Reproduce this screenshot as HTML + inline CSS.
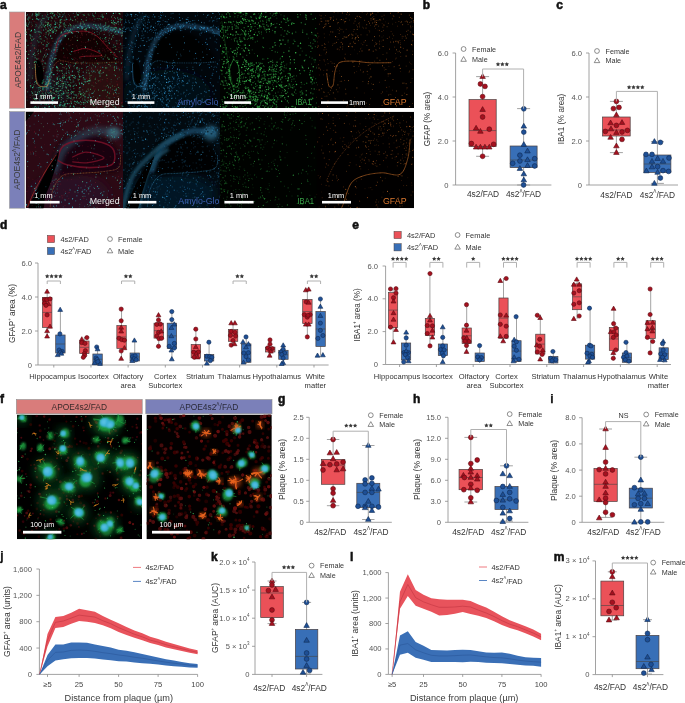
<!DOCTYPE html><html><head><meta charset="utf-8"><style>html,body{margin:0;padding:0;background:#fff;overflow:hidden}svg{display:block;font-family:"Liberation Sans",sans-serif;will-change:transform}</style></head><body><svg width="685" height="703" viewBox="0 0 685 703" font-family="'Liberation Sans', sans-serif"><defs><filter id="bl1" x="-20%" y="-20%" width="140%" height="140%"><feGaussianBlur stdDeviation="1"/></filter><filter id="bl2" x="-20%" y="-20%" width="140%" height="140%"><feGaussianBlur stdDeviation="2.2"/></filter><filter id="bl4" x="-30%" y="-30%" width="160%" height="160%"><feGaussianBlur stdDeviation="4"/></filter><filter id="bl05"><feGaussianBlur stdDeviation="0.5"/></filter><clipPath id="cp1"><rect x="25.80" y="12.00" width="97.70" height="96.20"/></clipPath><clipPath id="cp2"><rect x="123.00" y="12.00" width="97.50" height="96.20"/></clipPath><clipPath id="cp3"><rect x="220.00" y="12.00" width="97.00" height="96.20"/></clipPath><clipPath id="cp4"><rect x="316.50" y="12.00" width="97.50" height="96.20"/></clipPath><clipPath id="cp5"><rect x="25.80" y="111.60" width="97.70" height="96.60"/></clipPath><clipPath id="cp6"><rect x="123.00" y="111.60" width="97.50" height="96.60"/></clipPath><clipPath id="cp7"><rect x="220.00" y="111.60" width="97.00" height="96.60"/></clipPath><clipPath id="cp8"><rect x="316.50" y="111.60" width="97.50" height="96.60"/></clipPath><clipPath id="cp9"><rect x="17.00" y="414.60" width="125.00" height="124.60"/></clipPath><clipPath id="cp10"><rect x="146.40" y="414.60" width="125.40" height="124.60"/></clipPath></defs><rect width="685" height="703" fill="#ffffff"/><line x1="455.60" y1="53.00" x2="455.60" y2="185.00" stroke="#8a8a8a" stroke-width="0.8" />
<line x1="452.60" y1="53.00" x2="455.60" y2="53.00" stroke="#8a8a8a" stroke-width="0.8" />
<text x="448.40" y="53.00" font-size="7.6" text-anchor="end" fill="#555" dominant-baseline="central" >6.0</text>
<line x1="452.60" y1="97.00" x2="455.60" y2="97.00" stroke="#8a8a8a" stroke-width="0.8" />
<text x="448.40" y="97.00" font-size="7.6" text-anchor="end" fill="#555" dominant-baseline="central" >4.0</text>
<line x1="452.60" y1="141.00" x2="455.60" y2="141.00" stroke="#8a8a8a" stroke-width="0.8" />
<text x="448.40" y="141.00" font-size="7.6" text-anchor="end" fill="#555" dominant-baseline="central" >2.0</text>
<line x1="452.60" y1="185.00" x2="455.60" y2="185.00" stroke="#8a8a8a" stroke-width="0.8" />
<text x="448.40" y="185.00" font-size="7.6" text-anchor="end" fill="#555" dominant-baseline="central" >0</text>
<line x1="455.60" y1="185.00" x2="551.40" y2="185.00" stroke="#8a8a8a" stroke-width="0.8" />
<line x1="482.60" y1="76.60" x2="482.60" y2="156.30" stroke="#8c8c8c" stroke-width="0.8" />
<line x1="476.10" y1="76.60" x2="489.10" y2="76.60" stroke="#8c8c8c" stroke-width="0.8" />
<line x1="476.10" y1="156.30" x2="489.10" y2="156.30" stroke="#8c8c8c" stroke-width="0.8" />
<rect x="469.00" y="99.60" width="27.20" height="47.00" fill="#eb5158" stroke="#4a4040" stroke-width="0.7" />
<line x1="469.00" y1="130.60" x2="496.20" y2="130.60" stroke="#444" stroke-width="0.6" />
<line x1="523.60" y1="108.60" x2="523.60" y2="185.00" stroke="#8c8c8c" stroke-width="0.8" />
<line x1="517.10" y1="108.60" x2="530.10" y2="108.60" stroke="#8c8c8c" stroke-width="0.8" />
<line x1="517.10" y1="185.00" x2="530.10" y2="185.00" stroke="#8c8c8c" stroke-width="0.8" />
<rect x="510.10" y="146.00" width="27.00" height="21.60" fill="#386fb7" stroke="#4a4040" stroke-width="0.7" />
<line x1="510.10" y1="160.00" x2="537.10" y2="160.00" stroke="#444" stroke-width="0.6" />
<polygon points="482.60,73.62 479.84,78.42 485.36,78.42" fill="#a5111f" stroke="#5c0b12" stroke-width="0.6"/>
<circle cx="480.40" cy="84.00" r="2.40" fill="#a5111f" stroke="#5c0b12" stroke-width="0.6"/>
<circle cx="485.00" cy="86.40" r="2.40" fill="#a5111f" stroke="#5c0b12" stroke-width="0.6"/>
<circle cx="482.60" cy="96.60" r="2.40" fill="#a5111f" stroke="#5c0b12" stroke-width="0.6"/>
<polygon points="482.60,106.62 479.84,111.42 485.36,111.42" fill="#a5111f" stroke="#5c0b12" stroke-width="0.6"/>
<circle cx="482.60" cy="117.00" r="2.40" fill="#a5111f" stroke="#5c0b12" stroke-width="0.6"/>
<polygon points="476.10,125.32 473.34,130.12 478.86,130.12" fill="#a5111f" stroke="#5c0b12" stroke-width="0.6"/>
<polygon points="480.40,128.42 477.64,133.22 483.16,133.22" fill="#a5111f" stroke="#5c0b12" stroke-width="0.6"/>
<circle cx="489.30" cy="129.20" r="2.40" fill="#a5111f" stroke="#5c0b12" stroke-width="0.6"/>
<circle cx="471.40" cy="143.50" r="2.40" fill="#a5111f" stroke="#5c0b12" stroke-width="0.6"/>
<circle cx="493.60" cy="144.30" r="2.40" fill="#a5111f" stroke="#5c0b12" stroke-width="0.6"/>
<polygon points="476.10,144.22 473.34,149.02 478.86,149.02" fill="#a5111f" stroke="#5c0b12" stroke-width="0.6"/>
<polygon points="480.40,144.22 477.64,149.02 483.16,149.02" fill="#a5111f" stroke="#5c0b12" stroke-width="0.6"/>
<polygon points="484.90,144.22 482.14,149.02 487.66,149.02" fill="#a5111f" stroke="#5c0b12" stroke-width="0.6"/>
<polygon points="489.30,144.22 486.54,149.02 492.06,149.02" fill="#a5111f" stroke="#5c0b12" stroke-width="0.6"/>
<circle cx="482.60" cy="156.30" r="2.40" fill="#a5111f" stroke="#5c0b12" stroke-width="0.6"/>
<circle cx="523.80" cy="108.80" r="2.40" fill="#1e4f95" stroke="#0f2a52" stroke-width="0.6"/>
<polygon points="523.80,123.32 521.04,128.12 526.56,128.12" fill="#1e4f95" stroke="#0f2a52" stroke-width="0.6"/>
<circle cx="523.80" cy="132.10" r="2.40" fill="#1e4f95" stroke="#0f2a52" stroke-width="0.6"/>
<polygon points="523.80,141.62 521.04,146.42 526.56,146.42" fill="#1e4f95" stroke="#0f2a52" stroke-width="0.6"/>
<polygon points="527.50,148.12 524.74,152.92 530.26,152.92" fill="#1e4f95" stroke="#0f2a52" stroke-width="0.6"/>
<circle cx="519.90" cy="155.20" r="2.40" fill="#1e4f95" stroke="#0f2a52" stroke-width="0.6"/>
<circle cx="534.70" cy="158.70" r="2.40" fill="#1e4f95" stroke="#0f2a52" stroke-width="0.6"/>
<circle cx="519.90" cy="161.00" r="2.40" fill="#1e4f95" stroke="#0f2a52" stroke-width="0.6"/>
<polygon points="527.50,156.82 524.74,161.62 530.26,161.62" fill="#1e4f95" stroke="#0f2a52" stroke-width="0.6"/>
<circle cx="512.70" cy="163.30" r="2.40" fill="#1e4f95" stroke="#0f2a52" stroke-width="0.6"/>
<polygon points="527.50,162.72 524.74,167.52 530.26,167.52" fill="#1e4f95" stroke="#0f2a52" stroke-width="0.6"/>
<circle cx="534.70" cy="166.00" r="2.40" fill="#1e4f95" stroke="#0f2a52" stroke-width="0.6"/>
<polygon points="519.90,165.62 517.14,170.42 522.66,170.42" fill="#1e4f95" stroke="#0f2a52" stroke-width="0.6"/>
<polygon points="523.80,171.02 521.04,175.82 526.56,175.82" fill="#1e4f95" stroke="#0f2a52" stroke-width="0.6"/>
<polygon points="523.80,177.02 521.04,181.82 526.56,181.82" fill="#1e4f95" stroke="#0f2a52" stroke-width="0.6"/>
<circle cx="523.60" cy="185.00" r="2.40" fill="#1e4f95" stroke="#0f2a52" stroke-width="0.6"/>
<polyline points="482.60,76.60 482.60,69.00 523.60,69.00 523.60,108.60" fill="none" stroke="#b0b0b0" stroke-width="1.0"/>
<polygon points="498.00,62.00 498.68,63.37 500.19,63.59 499.09,64.66 499.35,66.16 498.00,65.45 496.65,66.16 496.91,64.66 495.81,63.59 497.32,63.37" fill="#3a3a3a"/>
<polygon points="502.40,62.00 503.08,63.37 504.59,63.59 503.49,64.66 503.75,66.16 502.40,65.45 501.05,66.16 501.31,64.66 500.21,63.59 501.72,63.37" fill="#3a3a3a"/>
<polygon points="506.80,62.00 507.48,63.37 508.99,63.59 507.89,64.66 508.15,66.16 506.80,65.45 505.45,66.16 505.71,64.66 504.61,63.59 506.12,63.37" fill="#3a3a3a"/>
<circle cx="463.60" cy="49.00" r="2.40" fill="none" stroke="#444" stroke-width="0.6"/>
<polygon points="463.60,56.52 460.84,61.32 466.36,61.32" fill="none" stroke="#444" stroke-width="0.6"/>
<text x="472.10" y="49.00" font-size="7.2" text-anchor="start" fill="#333" dominant-baseline="central" >Female</text>
<text x="472.10" y="59.50" font-size="7.2" text-anchor="start" fill="#333" dominant-baseline="central" >Male</text>
<text x="483.00" y="194.40" font-size="8.4" text-anchor="middle" fill="#333" dominant-baseline="central" >4s2/FAD</text>
<text x="523.50" y="194.40" font-size="8.4" text-anchor="middle" fill="#333" dominant-baseline="central">4s2<tspan font-size="4.62" dy="-3.53">Λ</tspan><tspan dy="3.53">/FAD</tspan></text>
<text x="427.00" y="119.00" font-size="8.64" text-anchor="middle" fill="#333" dominant-baseline="central" transform="rotate(-90 427.00 119.00)" textLength="54.4" lengthAdjust="spacingAndGlyphs">GFAP (% area)</text>
<line x1="589.00" y1="53.00" x2="589.00" y2="185.00" stroke="#8a8a8a" stroke-width="0.8" />
<line x1="586.00" y1="53.00" x2="589.00" y2="53.00" stroke="#8a8a8a" stroke-width="0.8" />
<text x="582.00" y="53.00" font-size="7.6" text-anchor="end" fill="#555" dominant-baseline="central" >6.0</text>
<line x1="586.00" y1="97.00" x2="589.00" y2="97.00" stroke="#8a8a8a" stroke-width="0.8" />
<text x="582.00" y="97.00" font-size="7.6" text-anchor="end" fill="#555" dominant-baseline="central" >4.0</text>
<line x1="586.00" y1="141.00" x2="589.00" y2="141.00" stroke="#8a8a8a" stroke-width="0.8" />
<text x="582.00" y="141.00" font-size="7.6" text-anchor="end" fill="#555" dominant-baseline="central" >2.0</text>
<line x1="586.00" y1="185.00" x2="589.00" y2="185.00" stroke="#8a8a8a" stroke-width="0.8" />
<text x="582.00" y="185.00" font-size="7.6" text-anchor="end" fill="#555" dominant-baseline="central" >0</text>
<line x1="589.00" y1="185.00" x2="678.00" y2="185.00" stroke="#8a8a8a" stroke-width="0.8" />
<line x1="616.40" y1="101.40" x2="616.40" y2="152.60" stroke="#8c8c8c" stroke-width="0.8" />
<line x1="609.90" y1="101.40" x2="622.90" y2="101.40" stroke="#8c8c8c" stroke-width="0.8" />
<line x1="609.90" y1="152.60" x2="622.90" y2="152.60" stroke="#8c8c8c" stroke-width="0.8" />
<rect x="602.60" y="117.00" width="27.60" height="19.00" fill="#eb5158" stroke="#4a4040" stroke-width="0.7" />
<line x1="602.60" y1="130.00" x2="630.20" y2="130.00" stroke="#444" stroke-width="0.6" />
<line x1="657.40" y1="141.60" x2="657.40" y2="183.40" stroke="#8c8c8c" stroke-width="0.8" />
<line x1="650.90" y1="141.60" x2="663.90" y2="141.60" stroke="#8c8c8c" stroke-width="0.8" />
<line x1="650.90" y1="183.40" x2="663.90" y2="183.40" stroke="#8c8c8c" stroke-width="0.8" />
<rect x="643.90" y="155.00" width="27.00" height="17.40" fill="#386fb7" stroke="#4a4040" stroke-width="0.7" />
<line x1="643.90" y1="164.00" x2="670.90" y2="164.00" stroke="#444" stroke-width="0.6" />
<circle cx="616.40" cy="101.40" r="2.40" fill="#a5111f" stroke="#5c0b12" stroke-width="0.6"/>
<circle cx="613.40" cy="108.60" r="2.40" fill="#a5111f" stroke="#5c0b12" stroke-width="0.6"/>
<circle cx="619.00" cy="107.40" r="2.40" fill="#a5111f" stroke="#5c0b12" stroke-width="0.6"/>
<polygon points="616.40,112.02 613.64,116.82 619.16,116.82" fill="#a5111f" stroke="#5c0b12" stroke-width="0.6"/>
<polygon points="610.60,120.02 607.84,124.82 613.36,124.82" fill="#a5111f" stroke="#5c0b12" stroke-width="0.6"/>
<circle cx="616.40" cy="125.40" r="2.40" fill="#a5111f" stroke="#5c0b12" stroke-width="0.6"/>
<polygon points="622.00,119.62 619.24,124.42 624.76,124.42" fill="#a5111f" stroke="#5c0b12" stroke-width="0.6"/>
<circle cx="605.40" cy="131.40" r="2.40" fill="#a5111f" stroke="#5c0b12" stroke-width="0.6"/>
<polygon points="611.00,126.02 608.24,130.82 613.76,130.82" fill="#a5111f" stroke="#5c0b12" stroke-width="0.6"/>
<polygon points="616.40,129.62 613.64,134.42 619.16,134.42" fill="#a5111f" stroke="#5c0b12" stroke-width="0.6"/>
<circle cx="622.00" cy="132.00" r="2.40" fill="#a5111f" stroke="#5c0b12" stroke-width="0.6"/>
<circle cx="627.40" cy="130.40" r="2.40" fill="#a5111f" stroke="#5c0b12" stroke-width="0.6"/>
<polygon points="610.60,134.42 607.84,139.22 613.36,139.22" fill="#a5111f" stroke="#5c0b12" stroke-width="0.6"/>
<circle cx="622.00" cy="139.40" r="2.40" fill="#a5111f" stroke="#5c0b12" stroke-width="0.6"/>
<polygon points="616.40,143.02 613.64,147.82 619.16,147.82" fill="#a5111f" stroke="#5c0b12" stroke-width="0.6"/>
<polygon points="616.40,149.62 613.64,154.42 619.16,154.42" fill="#a5111f" stroke="#5c0b12" stroke-width="0.6"/>
<polygon points="654.40,138.62 651.64,143.42 657.16,143.42" fill="#1e4f95" stroke="#0f2a52" stroke-width="0.6"/>
<circle cx="660.40" cy="142.40" r="2.40" fill="#1e4f95" stroke="#0f2a52" stroke-width="0.6"/>
<circle cx="646.00" cy="154.40" r="2.40" fill="#1e4f95" stroke="#0f2a52" stroke-width="0.6"/>
<circle cx="652.00" cy="154.40" r="2.40" fill="#1e4f95" stroke="#0f2a52" stroke-width="0.6"/>
<polygon points="657.60,155.62 654.84,160.42 660.36,160.42" fill="#1e4f95" stroke="#0f2a52" stroke-width="0.6"/>
<circle cx="669.00" cy="158.00" r="2.40" fill="#1e4f95" stroke="#0f2a52" stroke-width="0.6"/>
<polygon points="652.00,158.42 649.24,163.22 654.76,163.22" fill="#1e4f95" stroke="#0f2a52" stroke-width="0.6"/>
<polygon points="663.00,158.42 660.24,163.22 665.76,163.22" fill="#1e4f95" stroke="#0f2a52" stroke-width="0.6"/>
<polygon points="652.00,164.02 649.24,168.82 654.76,168.82" fill="#1e4f95" stroke="#0f2a52" stroke-width="0.6"/>
<circle cx="657.60" cy="166.60" r="2.40" fill="#1e4f95" stroke="#0f2a52" stroke-width="0.6"/>
<polygon points="646.40,168.02 643.64,172.82 649.16,172.82" fill="#1e4f95" stroke="#0f2a52" stroke-width="0.6"/>
<circle cx="663.00" cy="170.60" r="2.40" fill="#1e4f95" stroke="#0f2a52" stroke-width="0.6"/>
<circle cx="668.60" cy="171.40" r="2.40" fill="#1e4f95" stroke="#0f2a52" stroke-width="0.6"/>
<polygon points="657.60,169.42 654.84,174.22 660.36,174.22" fill="#1e4f95" stroke="#0f2a52" stroke-width="0.6"/>
<circle cx="660.40" cy="178.00" r="2.40" fill="#1e4f95" stroke="#0f2a52" stroke-width="0.6"/>
<polygon points="654.40,180.42 651.64,185.22 657.16,185.22" fill="#1e4f95" stroke="#0f2a52" stroke-width="0.6"/>
<polyline points="616.40,101.40 616.40,91.40 657.40,91.40 657.40,141.60" fill="none" stroke="#b0b0b0" stroke-width="1.0"/>
<polygon points="629.10,85.00 629.78,86.37 631.29,86.59 630.19,87.66 630.45,89.16 629.10,88.45 627.75,89.16 628.01,87.66 626.91,86.59 628.42,86.37" fill="#3a3a3a"/>
<polygon points="633.50,85.00 634.18,86.37 635.69,86.59 634.59,87.66 634.85,89.16 633.50,88.45 632.15,89.16 632.41,87.66 631.31,86.59 632.82,86.37" fill="#3a3a3a"/>
<polygon points="637.90,85.00 638.58,86.37 640.09,86.59 638.99,87.66 639.25,89.16 637.90,88.45 636.55,89.16 636.81,87.66 635.71,86.59 637.22,86.37" fill="#3a3a3a"/>
<polygon points="642.30,85.00 642.98,86.37 644.49,86.59 643.39,87.66 643.65,89.16 642.30,88.45 640.95,89.16 641.21,87.66 640.11,86.59 641.62,86.37" fill="#3a3a3a"/>
<circle cx="597.00" cy="51.00" r="2.40" fill="none" stroke="#444" stroke-width="0.6"/>
<polygon points="597.00,57.82 594.24,62.62 599.76,62.62" fill="none" stroke="#444" stroke-width="0.6"/>
<text x="605.50" y="51.00" font-size="7.2" text-anchor="start" fill="#333" dominant-baseline="central" >Female</text>
<text x="605.50" y="60.80" font-size="7.2" text-anchor="start" fill="#333" dominant-baseline="central" >Male</text>
<text x="616.40" y="194.60" font-size="8.4" text-anchor="middle" fill="#333" dominant-baseline="central" >4s2/FAD</text>
<text x="657.40" y="194.60" font-size="8.4" text-anchor="middle" fill="#333" dominant-baseline="central">4s2<tspan font-size="4.62" dy="-3.53">Λ</tspan><tspan dy="3.53">/FAD</tspan></text>
<text x="561.00" y="119.00" font-size="8.64" text-anchor="middle" fill="#333" dominant-baseline="central" transform="rotate(-90 561.00 119.00)" textLength="50.6" lengthAdjust="spacingAndGlyphs">IBA1 (% area)</text>
<line x1="309.20" y1="417.30" x2="309.20" y2="522.30" stroke="#8a8a8a" stroke-width="0.8" />
<line x1="306.20" y1="417.30" x2="309.20" y2="417.30" stroke="#8a8a8a" stroke-width="0.8" />
<text x="303.70" y="417.30" font-size="7.6" text-anchor="end" fill="#555" dominant-baseline="central" >2.5</text>
<line x1="306.20" y1="438.30" x2="309.20" y2="438.30" stroke="#8a8a8a" stroke-width="0.8" />
<text x="303.70" y="438.30" font-size="7.6" text-anchor="end" fill="#555" dominant-baseline="central" >2.0</text>
<line x1="306.20" y1="459.30" x2="309.20" y2="459.30" stroke="#8a8a8a" stroke-width="0.8" />
<text x="303.70" y="459.30" font-size="7.6" text-anchor="end" fill="#555" dominant-baseline="central" >1.5</text>
<line x1="306.20" y1="480.30" x2="309.20" y2="480.30" stroke="#8a8a8a" stroke-width="0.8" />
<text x="303.70" y="480.30" font-size="7.6" text-anchor="end" fill="#555" dominant-baseline="central" >1.0</text>
<line x1="306.20" y1="501.30" x2="309.20" y2="501.30" stroke="#8a8a8a" stroke-width="0.8" />
<text x="303.70" y="501.30" font-size="7.6" text-anchor="end" fill="#555" dominant-baseline="central" >0.5</text>
<line x1="306.20" y1="522.30" x2="309.20" y2="522.30" stroke="#8a8a8a" stroke-width="0.8" />
<text x="303.70" y="522.30" font-size="7.6" text-anchor="end" fill="#555" dominant-baseline="central" >0</text>
<line x1="309.20" y1="522.30" x2="391.80" y2="522.30" stroke="#8a8a8a" stroke-width="0.8" />
<line x1="333.10" y1="439.50" x2="333.10" y2="505.70" stroke="#8c8c8c" stroke-width="0.8" />
<line x1="326.90" y1="439.50" x2="339.30" y2="439.50" stroke="#8c8c8c" stroke-width="0.8" />
<line x1="326.90" y1="505.70" x2="339.30" y2="505.70" stroke="#8c8c8c" stroke-width="0.8" />
<rect x="321.35" y="459.40" width="23.50" height="24.90" fill="#eb5158" stroke="#4a4040" stroke-width="0.7" />
<line x1="321.35" y1="465.10" x2="344.85" y2="465.10" stroke="#444" stroke-width="0.6" />
<line x1="368.30" y1="445.50" x2="368.30" y2="519.50" stroke="#8c8c8c" stroke-width="0.8" />
<line x1="362.10" y1="445.50" x2="374.50" y2="445.50" stroke="#8c8c8c" stroke-width="0.8" />
<line x1="362.10" y1="519.50" x2="374.50" y2="519.50" stroke="#8c8c8c" stroke-width="0.8" />
<rect x="356.80" y="483.30" width="23.00" height="24.10" fill="#386fb7" stroke="#4a4040" stroke-width="0.7" />
<line x1="356.80" y1="492.40" x2="379.80" y2="492.40" stroke="#444" stroke-width="0.6" />
<circle cx="333.10" cy="439.50" r="2.40" fill="#a5111f" stroke="#5c0b12" stroke-width="0.6"/>
<polygon points="329.90,450.02 327.14,454.82 332.66,454.82" fill="#a5111f" stroke="#5c0b12" stroke-width="0.6"/>
<polygon points="336.70,449.52 333.94,454.32 339.46,454.32" fill="#a5111f" stroke="#5c0b12" stroke-width="0.6"/>
<polygon points="333.10,455.92 330.34,460.72 335.86,460.72" fill="#a5111f" stroke="#5c0b12" stroke-width="0.6"/>
<polygon points="323.00,460.62 320.24,465.42 325.76,465.42" fill="#a5111f" stroke="#5c0b12" stroke-width="0.6"/>
<circle cx="329.90" cy="464.70" r="2.40" fill="#a5111f" stroke="#5c0b12" stroke-width="0.6"/>
<circle cx="336.70" cy="464.00" r="2.40" fill="#a5111f" stroke="#5c0b12" stroke-width="0.6"/>
<circle cx="343.10" cy="462.10" r="2.40" fill="#a5111f" stroke="#5c0b12" stroke-width="0.6"/>
<circle cx="323.00" cy="470.00" r="2.40" fill="#a5111f" stroke="#5c0b12" stroke-width="0.6"/>
<polygon points="336.70,467.02 333.94,471.82 339.46,471.82" fill="#a5111f" stroke="#5c0b12" stroke-width="0.6"/>
<polygon points="343.10,466.02 340.34,470.82 345.86,470.82" fill="#a5111f" stroke="#5c0b12" stroke-width="0.6"/>
<circle cx="333.10" cy="488.80" r="2.40" fill="#a5111f" stroke="#5c0b12" stroke-width="0.6"/>
<circle cx="333.10" cy="493.10" r="2.40" fill="#a5111f" stroke="#5c0b12" stroke-width="0.6"/>
<polygon points="333.10,497.52 330.34,502.32 335.86,502.32" fill="#a5111f" stroke="#5c0b12" stroke-width="0.6"/>
<circle cx="333.10" cy="505.70" r="2.40" fill="#a5111f" stroke="#5c0b12" stroke-width="0.6"/>
<polygon points="368.30,442.52 365.54,447.32 371.06,447.32" fill="#1e4f95" stroke="#0f2a52" stroke-width="0.6"/>
<circle cx="365.10" cy="480.00" r="2.40" fill="#1e4f95" stroke="#0f2a52" stroke-width="0.6"/>
<circle cx="371.90" cy="477.90" r="2.40" fill="#1e4f95" stroke="#0f2a52" stroke-width="0.6"/>
<circle cx="365.10" cy="483.90" r="2.40" fill="#1e4f95" stroke="#0f2a52" stroke-width="0.6"/>
<circle cx="371.90" cy="483.30" r="2.40" fill="#1e4f95" stroke="#0f2a52" stroke-width="0.6"/>
<polygon points="371.90,485.62 369.14,490.42 374.66,490.42" fill="#1e4f95" stroke="#0f2a52" stroke-width="0.6"/>
<polygon points="378.50,486.22 375.74,491.02 381.26,491.02" fill="#1e4f95" stroke="#0f2a52" stroke-width="0.6"/>
<circle cx="365.10" cy="492.40" r="2.40" fill="#1e4f95" stroke="#0f2a52" stroke-width="0.6"/>
<circle cx="371.90" cy="492.40" r="2.40" fill="#1e4f95" stroke="#0f2a52" stroke-width="0.6"/>
<polygon points="368.30,498.42 365.54,503.22 371.06,503.22" fill="#1e4f95" stroke="#0f2a52" stroke-width="0.6"/>
<circle cx="358.00" cy="506.30" r="2.40" fill="#1e4f95" stroke="#0f2a52" stroke-width="0.6"/>
<circle cx="365.10" cy="506.30" r="2.40" fill="#1e4f95" stroke="#0f2a52" stroke-width="0.6"/>
<circle cx="371.90" cy="506.30" r="2.40" fill="#1e4f95" stroke="#0f2a52" stroke-width="0.6"/>
<circle cx="378.50" cy="507.00" r="2.40" fill="#1e4f95" stroke="#0f2a52" stroke-width="0.6"/>
<polygon points="365.10,504.82 362.34,509.62 367.86,509.62" fill="#1e4f95" stroke="#0f2a52" stroke-width="0.6"/>
<polygon points="371.90,507.62 369.14,512.42 374.66,512.42" fill="#1e4f95" stroke="#0f2a52" stroke-width="0.6"/>
<polygon points="368.30,516.52 365.54,521.32 371.06,521.32" fill="#1e4f95" stroke="#0f2a52" stroke-width="0.6"/>
<polyline points="333.10,439.50 333.10,431.20 368.30,431.20 368.30,445.50" fill="none" stroke="#b0b0b0" stroke-width="1.0"/>
<polygon points="346.30,423.40 346.98,424.77 348.49,424.99 347.39,426.06 347.65,427.56 346.30,426.85 344.95,427.56 345.21,426.06 344.11,424.99 345.62,424.77" fill="#3a3a3a"/>
<polygon points="350.70,423.40 351.38,424.77 352.89,424.99 351.79,426.06 352.05,427.56 350.70,426.85 349.35,427.56 349.61,426.06 348.51,424.99 350.02,424.77" fill="#3a3a3a"/>
<polygon points="355.10,423.40 355.78,424.77 357.29,424.99 356.19,426.06 356.45,427.56 355.10,426.85 353.75,427.56 354.01,426.06 352.91,424.99 354.42,424.77" fill="#3a3a3a"/>
<circle cx="370.80" cy="415.20" r="2.40" fill="none" stroke="#444" stroke-width="0.6"/>
<polygon points="370.80,421.62 368.04,426.42 373.56,426.42" fill="none" stroke="#444" stroke-width="0.6"/>
<text x="379.30" y="415.20" font-size="7.2" text-anchor="start" fill="#333" dominant-baseline="central" >Female</text>
<text x="379.30" y="424.60" font-size="7.2" text-anchor="start" fill="#333" dominant-baseline="central" >Male</text>
<text x="330.20" y="532.00" font-size="8.4" text-anchor="middle" fill="#333" dominant-baseline="central" >4s2/FAD</text>
<text x="371.00" y="532.00" font-size="8.4" text-anchor="middle" fill="#333" dominant-baseline="central">4s2<tspan font-size="4.62" dy="-3.53">Λ</tspan><tspan dy="3.53">/FAD</tspan></text>
<text x="282.00" y="469.50" font-size="9.07" text-anchor="middle" fill="#333" dominant-baseline="central" transform="rotate(-90 282.00 469.50)" textLength="61.0" lengthAdjust="spacingAndGlyphs">Plaque (% area)</text>
<line x1="448.00" y1="417.30" x2="448.00" y2="522.30" stroke="#8a8a8a" stroke-width="0.8" />
<line x1="445.00" y1="417.30" x2="448.00" y2="417.30" stroke="#8a8a8a" stroke-width="0.8" />
<text x="441.00" y="417.30" font-size="7.6" text-anchor="end" fill="#555" dominant-baseline="central" >15.0</text>
<line x1="445.00" y1="438.30" x2="448.00" y2="438.30" stroke="#8a8a8a" stroke-width="0.8" />
<text x="441.00" y="438.30" font-size="7.6" text-anchor="end" fill="#555" dominant-baseline="central" >12.0</text>
<line x1="445.00" y1="459.30" x2="448.00" y2="459.30" stroke="#8a8a8a" stroke-width="0.8" />
<text x="441.00" y="459.30" font-size="7.6" text-anchor="end" fill="#555" dominant-baseline="central" >9.0</text>
<line x1="445.00" y1="480.30" x2="448.00" y2="480.30" stroke="#8a8a8a" stroke-width="0.8" />
<text x="441.00" y="480.30" font-size="7.6" text-anchor="end" fill="#555" dominant-baseline="central" >6.0</text>
<line x1="445.00" y1="501.30" x2="448.00" y2="501.30" stroke="#8a8a8a" stroke-width="0.8" />
<text x="441.00" y="501.30" font-size="7.6" text-anchor="end" fill="#555" dominant-baseline="central" >3.0</text>
<line x1="445.00" y1="522.30" x2="448.00" y2="522.30" stroke="#8a8a8a" stroke-width="0.8" />
<text x="441.00" y="522.30" font-size="7.6" text-anchor="end" fill="#555" dominant-baseline="central" >0</text>
<line x1="448.00" y1="522.30" x2="528.40" y2="522.30" stroke="#8a8a8a" stroke-width="0.8" />
<line x1="470.80" y1="437.40" x2="470.80" y2="502.00" stroke="#8c8c8c" stroke-width="0.8" />
<line x1="464.40" y1="437.40" x2="477.20" y2="437.40" stroke="#8c8c8c" stroke-width="0.8" />
<line x1="464.40" y1="502.00" x2="477.20" y2="502.00" stroke="#8c8c8c" stroke-width="0.8" />
<rect x="459.05" y="469.40" width="23.50" height="20.30" fill="#eb5158" stroke="#4a4040" stroke-width="0.7" />
<line x1="459.05" y1="477.50" x2="482.55" y2="477.50" stroke="#444" stroke-width="0.6" />
<line x1="506.50" y1="465.80" x2="506.50" y2="521.20" stroke="#8c8c8c" stroke-width="0.8" />
<line x1="500.10" y1="465.80" x2="512.90" y2="465.80" stroke="#8c8c8c" stroke-width="0.8" />
<line x1="500.10" y1="521.20" x2="512.90" y2="521.20" stroke="#8c8c8c" stroke-width="0.8" />
<rect x="494.95" y="486.50" width="23.10" height="23.00" fill="#386fb7" stroke="#4a4040" stroke-width="0.7" />
<line x1="494.95" y1="499.90" x2="518.05" y2="499.90" stroke="#444" stroke-width="0.6" />
<circle cx="470.80" cy="437.40" r="2.40" fill="#a5111f" stroke="#5c0b12" stroke-width="0.6"/>
<circle cx="470.80" cy="463.60" r="2.40" fill="#a5111f" stroke="#5c0b12" stroke-width="0.6"/>
<circle cx="477.20" cy="460.00" r="2.40" fill="#a5111f" stroke="#5c0b12" stroke-width="0.6"/>
<polygon points="470.80,465.52 468.04,470.32 473.56,470.32" fill="#a5111f" stroke="#5c0b12" stroke-width="0.6"/>
<polygon points="463.40,472.42 460.64,477.22 466.16,477.22" fill="#a5111f" stroke="#5c0b12" stroke-width="0.6"/>
<circle cx="464.40" cy="477.50" r="2.40" fill="#a5111f" stroke="#5c0b12" stroke-width="0.6"/>
<polygon points="470.80,469.22 468.04,474.02 473.56,474.02" fill="#a5111f" stroke="#5c0b12" stroke-width="0.6"/>
<polygon points="470.80,474.52 468.04,479.32 473.56,479.32" fill="#a5111f" stroke="#5c0b12" stroke-width="0.6"/>
<polygon points="477.20,472.82 474.44,477.62 479.96,477.62" fill="#a5111f" stroke="#5c0b12" stroke-width="0.6"/>
<polygon points="477.20,476.22 474.44,481.02 479.96,481.02" fill="#a5111f" stroke="#5c0b12" stroke-width="0.6"/>
<circle cx="470.80" cy="484.30" r="2.40" fill="#a5111f" stroke="#5c0b12" stroke-width="0.6"/>
<circle cx="463.80" cy="489.70" r="2.40" fill="#a5111f" stroke="#5c0b12" stroke-width="0.6"/>
<polygon points="470.80,485.22 468.04,490.02 473.56,490.02" fill="#a5111f" stroke="#5c0b12" stroke-width="0.6"/>
<circle cx="477.20" cy="490.30" r="2.40" fill="#a5111f" stroke="#5c0b12" stroke-width="0.6"/>
<circle cx="470.80" cy="497.80" r="2.40" fill="#a5111f" stroke="#5c0b12" stroke-width="0.6"/>
<polygon points="470.80,499.02 468.04,503.82 473.56,503.82" fill="#a5111f" stroke="#5c0b12" stroke-width="0.6"/>
<circle cx="506.50" cy="465.80" r="2.40" fill="#1e4f95" stroke="#0f2a52" stroke-width="0.6"/>
<polygon points="502.80,470.92 500.04,475.72 505.56,475.72" fill="#1e4f95" stroke="#0f2a52" stroke-width="0.6"/>
<polygon points="509.70,472.82 506.94,477.62 512.46,477.62" fill="#1e4f95" stroke="#0f2a52" stroke-width="0.6"/>
<circle cx="502.80" cy="486.50" r="2.40" fill="#1e4f95" stroke="#0f2a52" stroke-width="0.6"/>
<polygon points="509.70,483.52 506.94,488.32 512.46,488.32" fill="#1e4f95" stroke="#0f2a52" stroke-width="0.6"/>
<polygon points="502.80,491.62 500.04,496.42 505.56,496.42" fill="#1e4f95" stroke="#0f2a52" stroke-width="0.6"/>
<circle cx="509.70" cy="492.40" r="2.40" fill="#1e4f95" stroke="#0f2a52" stroke-width="0.6"/>
<circle cx="496.40" cy="500.50" r="2.40" fill="#1e4f95" stroke="#0f2a52" stroke-width="0.6"/>
<polygon points="502.80,497.32 500.04,502.12 505.56,502.12" fill="#1e4f95" stroke="#0f2a52" stroke-width="0.6"/>
<circle cx="509.70" cy="498.80" r="2.40" fill="#1e4f95" stroke="#0f2a52" stroke-width="0.6"/>
<circle cx="516.10" cy="501.00" r="2.40" fill="#1e4f95" stroke="#0f2a52" stroke-width="0.6"/>
<circle cx="502.80" cy="507.40" r="2.40" fill="#1e4f95" stroke="#0f2a52" stroke-width="0.6"/>
<polygon points="502.80,510.32 500.04,515.12 505.56,515.12" fill="#1e4f95" stroke="#0f2a52" stroke-width="0.6"/>
<polygon points="509.70,508.02 506.94,512.82 512.46,512.82" fill="#1e4f95" stroke="#0f2a52" stroke-width="0.6"/>
<circle cx="509.70" cy="518.50" r="2.40" fill="#1e4f95" stroke="#0f2a52" stroke-width="0.6"/>
<polygon points="502.80,518.72 500.04,523.52 505.56,523.52" fill="#1e4f95" stroke="#0f2a52" stroke-width="0.6"/>
<polyline points="470.80,437.40 470.80,429.50 506.50,429.50 506.50,465.80" fill="none" stroke="#b0b0b0" stroke-width="1.0"/>
<polygon points="486.40,423.20 487.08,424.57 488.59,424.79 487.49,425.86 487.75,427.36 486.40,426.65 485.05,427.36 485.31,425.86 484.21,424.79 485.72,424.57" fill="#3a3a3a"/>
<polygon points="490.80,423.20 491.48,424.57 492.99,424.79 491.89,425.86 492.15,427.36 490.80,426.65 489.45,427.36 489.71,425.86 488.61,424.79 490.12,424.57" fill="#3a3a3a"/>
<circle cx="509.70" cy="414.10" r="2.40" fill="none" stroke="#444" stroke-width="0.6"/>
<polygon points="509.70,420.72 506.94,425.52 512.46,425.52" fill="none" stroke="#444" stroke-width="0.6"/>
<text x="518.20" y="414.10" font-size="7.2" text-anchor="start" fill="#333" dominant-baseline="central" >Female</text>
<text x="518.20" y="423.70" font-size="7.2" text-anchor="start" fill="#333" dominant-baseline="central" >Male</text>
<text x="468.20" y="532.00" font-size="8.4" text-anchor="middle" fill="#333" dominant-baseline="central" >4s2/FAD</text>
<text x="508.70" y="532.00" font-size="8.4" text-anchor="middle" fill="#333" dominant-baseline="central">4s2<tspan font-size="4.62" dy="-3.53">Λ</tspan><tspan dy="3.53">/FAD</tspan></text>
<text x="417.00" y="469.50" font-size="9.07" text-anchor="middle" fill="#333" dominant-baseline="central" transform="rotate(-90 417.00 469.50)" textLength="61.0" lengthAdjust="spacingAndGlyphs">Plaque (% area)</text>
<line x1="582.10" y1="417.70" x2="582.10" y2="522.30" stroke="#8a8a8a" stroke-width="0.8" />
<line x1="579.10" y1="417.70" x2="582.10" y2="417.70" stroke="#8a8a8a" stroke-width="0.8" />
<text x="575.70" y="417.70" font-size="7.6" text-anchor="end" fill="#555" dominant-baseline="central" >8.0</text>
<line x1="579.10" y1="443.90" x2="582.10" y2="443.90" stroke="#8a8a8a" stroke-width="0.8" />
<text x="575.70" y="443.90" font-size="7.6" text-anchor="end" fill="#555" dominant-baseline="central" >6.0</text>
<line x1="579.10" y1="470.10" x2="582.10" y2="470.10" stroke="#8a8a8a" stroke-width="0.8" />
<text x="575.70" y="470.10" font-size="7.6" text-anchor="end" fill="#555" dominant-baseline="central" >4.0</text>
<line x1="579.10" y1="496.20" x2="582.10" y2="496.20" stroke="#8a8a8a" stroke-width="0.8" />
<text x="575.70" y="496.20" font-size="7.6" text-anchor="end" fill="#555" dominant-baseline="central" >2.0</text>
<line x1="579.10" y1="522.30" x2="582.10" y2="522.30" stroke="#8a8a8a" stroke-width="0.8" />
<text x="575.70" y="522.30" font-size="7.6" text-anchor="end" fill="#555" dominant-baseline="central" >0</text>
<line x1="582.10" y1="522.30" x2="664.30" y2="522.30" stroke="#8a8a8a" stroke-width="0.8" />
<line x1="605.60" y1="429.00" x2="605.60" y2="517.40" stroke="#8c8c8c" stroke-width="0.8" />
<line x1="599.20" y1="429.00" x2="612.00" y2="429.00" stroke="#8c8c8c" stroke-width="0.8" />
<line x1="599.20" y1="517.40" x2="612.00" y2="517.40" stroke="#8c8c8c" stroke-width="0.8" />
<rect x="593.95" y="468.50" width="23.30" height="32.90" fill="#eb5158" stroke="#4a4040" stroke-width="0.7" />
<line x1="593.95" y1="484.30" x2="617.25" y2="484.30" stroke="#444" stroke-width="0.6" />
<line x1="640.80" y1="457.20" x2="640.80" y2="522.30" stroke="#8c8c8c" stroke-width="0.8" />
<line x1="634.40" y1="457.20" x2="647.20" y2="457.20" stroke="#8c8c8c" stroke-width="0.8" />
<line x1="634.40" y1="522.30" x2="647.20" y2="522.30" stroke="#8c8c8c" stroke-width="0.8" />
<rect x="629.25" y="488.20" width="23.10" height="19.80" fill="#386fb7" stroke="#4a4040" stroke-width="0.7" />
<line x1="629.25" y1="498.20" x2="652.35" y2="498.20" stroke="#444" stroke-width="0.6" />
<polygon points="605.60,426.02 602.84,430.82 608.36,430.82" fill="#a5111f" stroke="#5c0b12" stroke-width="0.6"/>
<polygon points="605.60,444.62 602.84,449.42 608.36,449.42" fill="#a5111f" stroke="#5c0b12" stroke-width="0.6"/>
<circle cx="605.60" cy="462.10" r="2.40" fill="#a5111f" stroke="#5c0b12" stroke-width="0.6"/>
<circle cx="599.20" cy="469.60" r="2.40" fill="#a5111f" stroke="#5c0b12" stroke-width="0.6"/>
<polygon points="605.60,465.52 602.84,470.32 608.36,470.32" fill="#a5111f" stroke="#5c0b12" stroke-width="0.6"/>
<circle cx="612.40" cy="470.00" r="2.40" fill="#a5111f" stroke="#5c0b12" stroke-width="0.6"/>
<circle cx="605.60" cy="473.90" r="2.40" fill="#a5111f" stroke="#5c0b12" stroke-width="0.6"/>
<polygon points="605.60,479.22 602.84,484.02 608.36,484.02" fill="#a5111f" stroke="#5c0b12" stroke-width="0.6"/>
<polygon points="605.60,483.52 602.84,488.32 608.36,488.32" fill="#a5111f" stroke="#5c0b12" stroke-width="0.6"/>
<polygon points="605.60,490.12 602.84,494.92 608.36,494.92" fill="#a5111f" stroke="#5c0b12" stroke-width="0.6"/>
<polygon points="599.20,496.92 596.44,501.72 601.96,501.72" fill="#a5111f" stroke="#5c0b12" stroke-width="0.6"/>
<circle cx="605.60" cy="498.20" r="2.40" fill="#a5111f" stroke="#5c0b12" stroke-width="0.6"/>
<circle cx="605.60" cy="502.50" r="2.40" fill="#a5111f" stroke="#5c0b12" stroke-width="0.6"/>
<circle cx="605.60" cy="512.30" r="2.40" fill="#a5111f" stroke="#5c0b12" stroke-width="0.6"/>
<polygon points="599.20,515.02 596.44,519.82 601.96,519.82" fill="#a5111f" stroke="#5c0b12" stroke-width="0.6"/>
<circle cx="612.40" cy="514.80" r="2.40" fill="#a5111f" stroke="#5c0b12" stroke-width="0.6"/>
<circle cx="640.80" cy="457.20" r="2.40" fill="#1e4f95" stroke="#0f2a52" stroke-width="0.6"/>
<polygon points="640.80,477.12 638.04,481.92 643.56,481.92" fill="#1e4f95" stroke="#0f2a52" stroke-width="0.6"/>
<circle cx="634.40" cy="487.70" r="2.40" fill="#1e4f95" stroke="#0f2a52" stroke-width="0.6"/>
<circle cx="640.80" cy="489.90" r="2.40" fill="#1e4f95" stroke="#0f2a52" stroke-width="0.6"/>
<polygon points="638.10,491.02 635.34,495.82 640.86,495.82" fill="#1e4f95" stroke="#0f2a52" stroke-width="0.6"/>
<polygon points="644.50,490.52 641.74,495.32 647.26,495.32" fill="#1e4f95" stroke="#0f2a52" stroke-width="0.6"/>
<circle cx="634.40" cy="504.80" r="2.40" fill="#1e4f95" stroke="#0f2a52" stroke-width="0.6"/>
<circle cx="638.10" cy="498.40" r="2.40" fill="#1e4f95" stroke="#0f2a52" stroke-width="0.6"/>
<circle cx="644.50" cy="498.40" r="2.40" fill="#1e4f95" stroke="#0f2a52" stroke-width="0.6"/>
<circle cx="640.80" cy="503.70" r="2.40" fill="#1e4f95" stroke="#0f2a52" stroke-width="0.6"/>
<polygon points="647.70,500.72 644.94,505.52 650.46,505.52" fill="#1e4f95" stroke="#0f2a52" stroke-width="0.6"/>
<polygon points="640.80,506.52 638.04,511.32 643.56,511.32" fill="#1e4f95" stroke="#0f2a52" stroke-width="0.6"/>
<polygon points="634.40,519.32 631.64,524.12 637.16,524.12" fill="#1e4f95" stroke="#0f2a52" stroke-width="0.6"/>
<circle cx="640.80" cy="521.90" r="2.40" fill="#1e4f95" stroke="#0f2a52" stroke-width="0.6"/>
<circle cx="647.70" cy="521.90" r="2.40" fill="#1e4f95" stroke="#0f2a52" stroke-width="0.6"/>
<polyline points="605.60,429.00 605.60,421.60 640.80,421.60 640.80,457.20" fill="none" stroke="#b0b0b0" stroke-width="1.0"/>
<text x="623.50" y="415.50" font-size="7.2" text-anchor="middle" fill="#333" dominant-baseline="central" >NS</text>
<circle cx="646.20" cy="414.50" r="2.40" fill="none" stroke="#444" stroke-width="0.6"/>
<polygon points="646.20,421.12 643.44,425.92 648.96,425.92" fill="none" stroke="#444" stroke-width="0.6"/>
<text x="654.70" y="414.50" font-size="7.2" text-anchor="start" fill="#333" dominant-baseline="central" >Female</text>
<text x="654.70" y="424.10" font-size="7.2" text-anchor="start" fill="#333" dominant-baseline="central" >Male</text>
<text x="603.30" y="532.00" font-size="8.4" text-anchor="middle" fill="#333" dominant-baseline="central" >4s2/FAD</text>
<text x="643.30" y="532.00" font-size="8.4" text-anchor="middle" fill="#333" dominant-baseline="central">4s2<tspan font-size="4.62" dy="-3.53">Λ</tspan><tspan dy="3.53">/FAD</tspan></text>
<text x="554.30" y="470.50" font-size="9.07" text-anchor="middle" fill="#333" dominant-baseline="central" transform="rotate(-90 554.30 470.50)" textLength="61.0" lengthAdjust="spacingAndGlyphs">Plaque (% area)</text>
<line x1="255.00" y1="562.00" x2="255.00" y2="674.40" stroke="#8a8a8a" stroke-width="0.8" />
<line x1="252.00" y1="562.00" x2="255.00" y2="562.00" stroke="#8a8a8a" stroke-width="0.8" />
<text x="249.50" y="562.00" font-size="7.6" text-anchor="end" fill="#555" dominant-baseline="central" >2.0 × 10<tspan font-size="4.5" dy="-3">4</tspan></text>
<line x1="252.00" y1="590.10" x2="255.00" y2="590.10" stroke="#8a8a8a" stroke-width="0.8" />
<text x="249.50" y="590.10" font-size="7.6" text-anchor="end" fill="#555" dominant-baseline="central" >1.5 × 10<tspan font-size="4.5" dy="-3">4</tspan></text>
<line x1="252.00" y1="618.20" x2="255.00" y2="618.20" stroke="#8a8a8a" stroke-width="0.8" />
<text x="249.50" y="618.20" font-size="7.6" text-anchor="end" fill="#555" dominant-baseline="central" >1.0 × 10<tspan font-size="4.5" dy="-3">4</tspan></text>
<line x1="252.00" y1="646.30" x2="255.00" y2="646.30" stroke="#8a8a8a" stroke-width="0.8" />
<text x="249.50" y="646.30" font-size="7.6" text-anchor="end" fill="#555" dominant-baseline="central" >5 × 10<tspan font-size="4.5" dy="-3">3</tspan></text>
<line x1="252.00" y1="674.40" x2="255.00" y2="674.40" stroke="#8a8a8a" stroke-width="0.8" />
<text x="249.50" y="674.40" font-size="7.6" text-anchor="end" fill="#555" dominant-baseline="central" >0</text>
<line x1="255.00" y1="674.40" x2="322.40" y2="674.40" stroke="#8a8a8a" stroke-width="0.8" />
<line x1="272.00" y1="674.40" x2="272.00" y2="676.90" stroke="#8a8a8a" stroke-width="0.8" />
<line x1="306.60" y1="674.40" x2="306.60" y2="676.90" stroke="#8a8a8a" stroke-width="0.8" />
<line x1="272.00" y1="581.00" x2="272.00" y2="623.60" stroke="#8c8c8c" stroke-width="0.8" />
<line x1="267.50" y1="581.00" x2="276.50" y2="581.00" stroke="#8c8c8c" stroke-width="0.8" />
<line x1="267.50" y1="623.60" x2="276.50" y2="623.60" stroke="#8c8c8c" stroke-width="0.8" />
<rect x="260.70" y="586.60" width="22.60" height="31.00" fill="#eb5158" stroke="#4a4040" stroke-width="0.7" />
<line x1="260.70" y1="593.00" x2="283.30" y2="593.00" stroke="#444" stroke-width="0.6" />
<line x1="306.60" y1="602.40" x2="306.60" y2="674.00" stroke="#8c8c8c" stroke-width="0.8" />
<line x1="302.10" y1="602.40" x2="311.10" y2="602.40" stroke="#8c8c8c" stroke-width="0.8" />
<line x1="302.10" y1="674.00" x2="311.10" y2="674.00" stroke="#8c8c8c" stroke-width="0.8" />
<rect x="295.40" y="629.40" width="22.40" height="39.60" fill="#386fb7" stroke="#4a4040" stroke-width="0.7" />
<line x1="295.40" y1="656.40" x2="317.80" y2="656.40" stroke="#444" stroke-width="0.6" />
<polygon points="272.00,578.02 269.24,582.82 274.76,582.82" fill="#a5111f" stroke="#5c0b12" stroke-width="0.6"/>
<circle cx="272.00" cy="585.00" r="2.40" fill="#a5111f" stroke="#5c0b12" stroke-width="0.6"/>
<circle cx="268.40" cy="590.60" r="2.40" fill="#a5111f" stroke="#5c0b12" stroke-width="0.6"/>
<polygon points="275.60,586.62 272.84,591.42 278.36,591.42" fill="#a5111f" stroke="#5c0b12" stroke-width="0.6"/>
<polygon points="272.00,594.02 269.24,598.82 274.76,598.82" fill="#a5111f" stroke="#5c0b12" stroke-width="0.6"/>
<circle cx="272.00" cy="610.00" r="2.40" fill="#a5111f" stroke="#5c0b12" stroke-width="0.6"/>
<circle cx="272.00" cy="620.00" r="2.40" fill="#a5111f" stroke="#5c0b12" stroke-width="0.6"/>
<polygon points="272.00,620.62 269.24,625.42 274.76,625.42" fill="#a5111f" stroke="#5c0b12" stroke-width="0.6"/>
<circle cx="306.60" cy="602.40" r="2.40" fill="#1e4f95" stroke="#0f2a52" stroke-width="0.6"/>
<polygon points="306.60,622.62 303.84,627.42 309.36,627.42" fill="#1e4f95" stroke="#0f2a52" stroke-width="0.6"/>
<polygon points="306.60,637.42 303.84,642.22 309.36,642.22" fill="#1e4f95" stroke="#0f2a52" stroke-width="0.6"/>
<circle cx="306.60" cy="653.00" r="2.40" fill="#1e4f95" stroke="#0f2a52" stroke-width="0.6"/>
<circle cx="306.60" cy="659.00" r="2.40" fill="#1e4f95" stroke="#0f2a52" stroke-width="0.6"/>
<polygon points="306.60,662.62 303.84,667.42 309.36,667.42" fill="#1e4f95" stroke="#0f2a52" stroke-width="0.6"/>
<circle cx="309.60" cy="670.40" r="2.40" fill="#1e4f95" stroke="#0f2a52" stroke-width="0.6"/>
<polygon points="303.00,669.42 300.24,674.22 305.76,674.22" fill="#1e4f95" stroke="#0f2a52" stroke-width="0.6"/>
<polyline points="272.00,581.00 272.00,572.40 306.60,572.40 306.60,602.40" fill="none" stroke="#b0b0b0" stroke-width="1.0"/>
<polygon points="284.10,565.00 284.78,566.37 286.29,566.59 285.19,567.66 285.45,569.16 284.10,568.45 282.75,569.16 283.01,567.66 281.91,566.59 283.42,566.37" fill="#3a3a3a"/>
<polygon points="288.50,565.00 289.18,566.37 290.69,566.59 289.59,567.66 289.85,569.16 288.50,568.45 287.15,569.16 287.41,567.66 286.31,566.59 287.82,566.37" fill="#3a3a3a"/>
<polygon points="292.90,565.00 293.58,566.37 295.09,566.59 293.99,567.66 294.25,569.16 292.90,568.45 291.55,569.16 291.81,567.66 290.71,566.59 292.22,566.37" fill="#3a3a3a"/>
<circle cx="311.60" cy="565.60" r="2.40" fill="none" stroke="#444" stroke-width="0.6"/>
<polygon points="311.60,572.62 308.84,577.42 314.36,577.42" fill="none" stroke="#444" stroke-width="0.6"/>
<text x="320.10" y="565.60" font-size="7.2" text-anchor="start" fill="#333" dominant-baseline="central" >Female</text>
<text x="320.10" y="575.60" font-size="7.2" text-anchor="start" fill="#333" dominant-baseline="central" >Male</text>
<text x="269.20" y="687.60" font-size="8.4" text-anchor="middle" fill="#333" dominant-baseline="central" >4s2/FAD</text>
<text x="309.30" y="687.60" font-size="8.4" text-anchor="middle" fill="#333" dominant-baseline="central">4s2<tspan font-size="4.62" dy="-3.53">Λ</tspan><tspan dy="3.53">/FAD</tspan></text>
<text x="215.30" y="618.00" font-size="9.07" text-anchor="middle" fill="#333" dominant-baseline="central" transform="rotate(-90 215.30 618.00)" textLength="69.9" lengthAdjust="spacingAndGlyphs">GFAP<tspan font-size="4.5" dy="-3">+</tspan><tspan dy="3"> area (AUC)</tspan></text>
<line x1="595.50" y1="560.90" x2="595.50" y2="674.60" stroke="#8a8a8a" stroke-width="0.8" />
<line x1="592.50" y1="560.90" x2="595.50" y2="560.90" stroke="#8a8a8a" stroke-width="0.8" />
<text x="589.40" y="560.90" font-size="7.6" text-anchor="end" fill="#555" dominant-baseline="central" >3 × 10<tspan font-size="4.5" dy="-3">4</tspan></text>
<line x1="592.50" y1="598.80" x2="595.50" y2="598.80" stroke="#8a8a8a" stroke-width="0.8" />
<text x="589.40" y="598.80" font-size="7.6" text-anchor="end" fill="#555" dominant-baseline="central" >2 × 10<tspan font-size="4.5" dy="-3">4</tspan></text>
<line x1="592.50" y1="636.70" x2="595.50" y2="636.70" stroke="#8a8a8a" stroke-width="0.8" />
<text x="589.40" y="636.70" font-size="7.6" text-anchor="end" fill="#555" dominant-baseline="central" >1 × 10<tspan font-size="4.5" dy="-3">4</tspan></text>
<line x1="592.50" y1="674.60" x2="595.50" y2="674.60" stroke="#8a8a8a" stroke-width="0.8" />
<text x="589.40" y="674.60" font-size="7.6" text-anchor="end" fill="#555" dominant-baseline="central" >0</text>
<line x1="595.50" y1="674.60" x2="663.40" y2="674.60" stroke="#8a8a8a" stroke-width="0.8" />
<line x1="612.30" y1="674.60" x2="612.30" y2="677.10" stroke="#8a8a8a" stroke-width="0.8" />
<line x1="647.50" y1="674.60" x2="647.50" y2="677.10" stroke="#8a8a8a" stroke-width="0.8" />
<line x1="612.30" y1="571.80" x2="612.30" y2="620.10" stroke="#8c8c8c" stroke-width="0.8" />
<line x1="607.80" y1="571.80" x2="616.80" y2="571.80" stroke="#8c8c8c" stroke-width="0.8" />
<line x1="607.80" y1="620.10" x2="616.80" y2="620.10" stroke="#8c8c8c" stroke-width="0.8" />
<rect x="600.90" y="581.10" width="22.80" height="34.70" fill="#eb5158" stroke="#4a4040" stroke-width="0.7" />
<line x1="600.90" y1="605.50" x2="623.70" y2="605.50" stroke="#444" stroke-width="0.6" />
<line x1="647.50" y1="619.70" x2="647.50" y2="674.00" stroke="#8c8c8c" stroke-width="0.8" />
<line x1="643.00" y1="619.70" x2="652.00" y2="619.70" stroke="#8c8c8c" stroke-width="0.8" />
<line x1="643.00" y1="674.00" x2="652.00" y2="674.00" stroke="#8c8c8c" stroke-width="0.8" />
<rect x="636.05" y="635.40" width="22.90" height="33.30" fill="#386fb7" stroke="#4a4040" stroke-width="0.7" />
<line x1="636.05" y1="661.50" x2="658.95" y2="661.50" stroke="#444" stroke-width="0.6" />
<circle cx="612.30" cy="571.80" r="2.40" fill="#a5111f" stroke="#5c0b12" stroke-width="0.6"/>
<polygon points="612.30,573.82 609.54,578.62 615.06,578.62" fill="#a5111f" stroke="#5c0b12" stroke-width="0.6"/>
<polygon points="612.30,590.12 609.54,594.92 615.06,594.92" fill="#a5111f" stroke="#5c0b12" stroke-width="0.6"/>
<circle cx="612.30" cy="602.30" r="2.40" fill="#a5111f" stroke="#5c0b12" stroke-width="0.6"/>
<circle cx="609.00" cy="611.40" r="2.40" fill="#a5111f" stroke="#5c0b12" stroke-width="0.6"/>
<circle cx="616.20" cy="607.70" r="2.40" fill="#a5111f" stroke="#5c0b12" stroke-width="0.6"/>
<polygon points="609.00,617.12 606.24,621.92 611.76,621.92" fill="#a5111f" stroke="#5c0b12" stroke-width="0.6"/>
<polygon points="616.60,615.02 613.84,619.82 619.36,619.82" fill="#a5111f" stroke="#5c0b12" stroke-width="0.6"/>
<polygon points="647.50,616.72 644.74,621.52 650.26,621.52" fill="#1e4f95" stroke="#0f2a52" stroke-width="0.6"/>
<circle cx="647.50" cy="633.40" r="2.40" fill="#1e4f95" stroke="#0f2a52" stroke-width="0.6"/>
<circle cx="647.50" cy="639.70" r="2.40" fill="#1e4f95" stroke="#0f2a52" stroke-width="0.6"/>
<polygon points="647.50,654.22 644.74,659.02 650.26,659.02" fill="#1e4f95" stroke="#0f2a52" stroke-width="0.6"/>
<circle cx="651.00" cy="664.40" r="2.40" fill="#1e4f95" stroke="#0f2a52" stroke-width="0.6"/>
<polygon points="643.80,663.52 641.04,668.32 646.56,668.32" fill="#1e4f95" stroke="#0f2a52" stroke-width="0.6"/>
<polygon points="651.50,666.82 648.74,671.62 654.26,671.62" fill="#1e4f95" stroke="#0f2a52" stroke-width="0.6"/>
<circle cx="643.80" cy="673.10" r="2.40" fill="#1e4f95" stroke="#0f2a52" stroke-width="0.6"/>
<polyline points="612.30,571.80 612.30,563.00 647.50,563.00 647.50,619.70" fill="none" stroke="#b0b0b0" stroke-width="1.0"/>
<polygon points="623.10,555.60 623.78,556.97 625.29,557.19 624.19,558.26 624.45,559.76 623.10,559.05 621.75,559.76 622.01,558.26 620.91,557.19 622.42,556.97" fill="#3a3a3a"/>
<polygon points="627.50,555.60 628.18,556.97 629.69,557.19 628.59,558.26 628.85,559.76 627.50,559.05 626.15,559.76 626.41,558.26 625.31,557.19 626.82,556.97" fill="#3a3a3a"/>
<polygon points="631.90,555.60 632.58,556.97 634.09,557.19 632.99,558.26 633.25,559.76 631.90,559.05 630.55,559.76 630.81,558.26 629.71,557.19 631.22,556.97" fill="#3a3a3a"/>
<polygon points="636.30,555.60 636.98,556.97 638.49,557.19 637.39,558.26 637.65,559.76 636.30,559.05 634.95,559.76 635.21,558.26 634.11,557.19 635.62,556.97" fill="#3a3a3a"/>
<circle cx="653.20" cy="562.60" r="2.40" fill="none" stroke="#444" stroke-width="0.6"/>
<polygon points="653.20,569.22 650.44,574.02 655.96,574.02" fill="none" stroke="#444" stroke-width="0.6"/>
<text x="661.70" y="562.60" font-size="7.2" text-anchor="start" fill="#333" dominant-baseline="central" >Female</text>
<text x="661.70" y="572.20" font-size="7.2" text-anchor="start" fill="#333" dominant-baseline="central" >Male</text>
<text x="610.00" y="687.20" font-size="8.4" text-anchor="middle" fill="#333" dominant-baseline="central" >4s2/FAD</text>
<text x="650.40" y="687.20" font-size="8.4" text-anchor="middle" fill="#333" dominant-baseline="central">4s2<tspan font-size="4.62" dy="-3.53">Λ</tspan><tspan dy="3.53">/FAD</tspan></text>
<text x="557.90" y="617.00" font-size="9.07" text-anchor="middle" fill="#333" dominant-baseline="central" transform="rotate(-90 557.90 617.00)" textLength="65.7" lengthAdjust="spacingAndGlyphs">IBA1<tspan font-size="4.5" dy="-3">+</tspan><tspan dy="3"> area (AUC)</tspan></text>
<line x1="38.00" y1="263.00" x2="38.00" y2="365.00" stroke="#8a8a8a" stroke-width="0.8" />
<line x1="35.00" y1="263.00" x2="38.00" y2="263.00" stroke="#8a8a8a" stroke-width="0.8" />
<text x="32.00" y="263.00" font-size="7.6" text-anchor="end" fill="#555" dominant-baseline="central" >6.0</text>
<line x1="35.00" y1="297.00" x2="38.00" y2="297.00" stroke="#8a8a8a" stroke-width="0.8" />
<text x="32.00" y="297.00" font-size="7.6" text-anchor="end" fill="#555" dominant-baseline="central" >4.0</text>
<line x1="35.00" y1="331.00" x2="38.00" y2="331.00" stroke="#8a8a8a" stroke-width="0.8" />
<text x="32.00" y="331.00" font-size="7.6" text-anchor="end" fill="#555" dominant-baseline="central" >2.0</text>
<line x1="35.00" y1="365.00" x2="38.00" y2="365.00" stroke="#8a8a8a" stroke-width="0.8" />
<text x="32.00" y="365.00" font-size="7.6" text-anchor="end" fill="#555" dominant-baseline="central" >0</text>
<line x1="38.00" y1="365.00" x2="328.60" y2="365.00" stroke="#8a8a8a" stroke-width="0.8" />
<line x1="53.80" y1="365.00" x2="53.80" y2="367.50" stroke="#8a8a8a" stroke-width="0.8" />
<line x1="90.97" y1="365.00" x2="90.97" y2="367.50" stroke="#8a8a8a" stroke-width="0.8" />
<line x1="128.14" y1="365.00" x2="128.14" y2="367.50" stroke="#8a8a8a" stroke-width="0.8" />
<line x1="165.31" y1="365.00" x2="165.31" y2="367.50" stroke="#8a8a8a" stroke-width="0.8" />
<line x1="202.48" y1="365.00" x2="202.48" y2="367.50" stroke="#8a8a8a" stroke-width="0.8" />
<line x1="239.65" y1="365.00" x2="239.65" y2="367.50" stroke="#8a8a8a" stroke-width="0.8" />
<line x1="276.82" y1="365.00" x2="276.82" y2="367.50" stroke="#8a8a8a" stroke-width="0.8" />
<line x1="313.99" y1="365.00" x2="313.99" y2="367.50" stroke="#8a8a8a" stroke-width="0.8" />
<line x1="47.20" y1="291.00" x2="47.20" y2="336.50" stroke="#8c8c8c" stroke-width="0.8" />
<rect x="42.50" y="297.40" width="9.40" height="30.00" fill="#eb5158" stroke="#4a4040" stroke-width="0.7" />
<line x1="42.50" y1="312.40" x2="51.90" y2="312.40" stroke="#444" stroke-width="0.6" />
<line x1="60.40" y1="309.80" x2="60.40" y2="355.00" stroke="#8c8c8c" stroke-width="0.8" />
<rect x="55.70" y="335.00" width="9.40" height="18.00" fill="#386fb7" stroke="#4a4040" stroke-width="0.7" />
<line x1="55.70" y1="344.00" x2="65.10" y2="344.00" stroke="#444" stroke-width="0.6" />
<line x1="84.37" y1="337.00" x2="84.37" y2="358.00" stroke="#8c8c8c" stroke-width="0.8" />
<rect x="79.67" y="341.00" width="9.40" height="12.60" fill="#eb5158" stroke="#4a4040" stroke-width="0.7" />
<line x1="79.67" y1="347.30" x2="89.07" y2="347.30" stroke="#444" stroke-width="0.6" />
<line x1="97.57" y1="347.00" x2="97.57" y2="364.50" stroke="#8c8c8c" stroke-width="0.8" />
<rect x="92.87" y="354.00" width="9.40" height="10.50" fill="#386fb7" stroke="#4a4040" stroke-width="0.7" />
<line x1="92.87" y1="359.25" x2="102.27" y2="359.25" stroke="#444" stroke-width="0.6" />
<line x1="121.54" y1="309.00" x2="121.54" y2="358.60" stroke="#8c8c8c" stroke-width="0.8" />
<rect x="116.84" y="325.60" width="9.40" height="22.80" fill="#eb5158" stroke="#4a4040" stroke-width="0.7" />
<line x1="116.84" y1="337.00" x2="126.24" y2="337.00" stroke="#444" stroke-width="0.6" />
<line x1="134.74" y1="341.00" x2="134.74" y2="363.00" stroke="#8c8c8c" stroke-width="0.8" />
<rect x="130.04" y="353.00" width="9.40" height="8.00" fill="#386fb7" stroke="#4a4040" stroke-width="0.7" />
<line x1="130.04" y1="357.00" x2="139.44" y2="357.00" stroke="#444" stroke-width="0.6" />
<line x1="158.71" y1="314.40" x2="158.71" y2="346.70" stroke="#8c8c8c" stroke-width="0.8" />
<rect x="154.01" y="323.20" width="9.40" height="14.90" fill="#eb5158" stroke="#4a4040" stroke-width="0.7" />
<line x1="154.01" y1="330.65" x2="163.41" y2="330.65" stroke="#444" stroke-width="0.6" />
<line x1="171.91" y1="311.50" x2="171.91" y2="359.30" stroke="#8c8c8c" stroke-width="0.8" />
<rect x="167.21" y="323.20" width="9.40" height="25.40" fill="#386fb7" stroke="#4a4040" stroke-width="0.7" />
<line x1="167.21" y1="335.90" x2="176.61" y2="335.90" stroke="#444" stroke-width="0.6" />
<line x1="195.88" y1="329.40" x2="195.88" y2="358.40" stroke="#8c8c8c" stroke-width="0.8" />
<rect x="191.18" y="344.50" width="9.40" height="13.30" fill="#eb5158" stroke="#4a4040" stroke-width="0.7" />
<line x1="191.18" y1="351.15" x2="200.58" y2="351.15" stroke="#444" stroke-width="0.6" />
<line x1="209.08" y1="342.20" x2="209.08" y2="363.10" stroke="#8c8c8c" stroke-width="0.8" />
<rect x="204.38" y="354.60" width="9.40" height="6.40" fill="#386fb7" stroke="#4a4040" stroke-width="0.7" />
<line x1="204.38" y1="357.80" x2="213.78" y2="357.80" stroke="#444" stroke-width="0.6" />
<line x1="233.05" y1="323.20" x2="233.05" y2="345.60" stroke="#8c8c8c" stroke-width="0.8" />
<rect x="228.35" y="329.60" width="9.40" height="11.70" fill="#eb5158" stroke="#4a4040" stroke-width="0.7" />
<line x1="228.35" y1="335.45" x2="237.75" y2="335.45" stroke="#444" stroke-width="0.6" />
<line x1="246.25" y1="337.10" x2="246.25" y2="364.00" stroke="#8c8c8c" stroke-width="0.8" />
<rect x="241.55" y="343.90" width="9.40" height="18.40" fill="#386fb7" stroke="#4a4040" stroke-width="0.7" />
<line x1="241.55" y1="353.10" x2="250.95" y2="353.10" stroke="#444" stroke-width="0.6" />
<line x1="270.22" y1="340.10" x2="270.22" y2="356.00" stroke="#8c8c8c" stroke-width="0.8" />
<rect x="265.52" y="347.10" width="9.40" height="4.90" fill="#eb5158" stroke="#4a4040" stroke-width="0.7" />
<line x1="265.52" y1="349.55" x2="274.92" y2="349.55" stroke="#444" stroke-width="0.6" />
<line x1="283.42" y1="345.00" x2="283.42" y2="363.50" stroke="#8c8c8c" stroke-width="0.8" />
<rect x="278.72" y="350.30" width="9.40" height="9.00" fill="#386fb7" stroke="#4a4040" stroke-width="0.7" />
<line x1="278.72" y1="354.80" x2="288.12" y2="354.80" stroke="#444" stroke-width="0.6" />
<line x1="307.39" y1="288.80" x2="307.39" y2="337.10" stroke="#8c8c8c" stroke-width="0.8" />
<rect x="302.69" y="299.50" width="9.40" height="24.10" fill="#eb5158" stroke="#4a4040" stroke-width="0.7" />
<line x1="302.69" y1="311.55" x2="312.09" y2="311.55" stroke="#444" stroke-width="0.6" />
<line x1="320.59" y1="299.10" x2="320.59" y2="355.60" stroke="#8c8c8c" stroke-width="0.8" />
<rect x="315.89" y="311.50" width="9.40" height="35.00" fill="#386fb7" stroke="#4a4040" stroke-width="0.7" />
<line x1="315.89" y1="329.00" x2="325.29" y2="329.00" stroke="#444" stroke-width="0.6" />
<polygon points="47.10,288.99 44.69,293.20 49.52,293.20" fill="#a5111f" stroke="#5c0b12" stroke-width="0.6"/>
<circle cx="44.60" cy="299.60" r="2.10" fill="#a5111f" stroke="#5c0b12" stroke-width="0.6"/>
<circle cx="46.80" cy="299.60" r="2.10" fill="#a5111f" stroke="#5c0b12" stroke-width="0.6"/>
<circle cx="50.00" cy="298.90" r="2.10" fill="#a5111f" stroke="#5c0b12" stroke-width="0.6"/>
<circle cx="44.60" cy="303.20" r="2.10" fill="#a5111f" stroke="#5c0b12" stroke-width="0.6"/>
<polygon points="48.50,301.39 46.09,305.60 50.91,305.60" fill="#a5111f" stroke="#5c0b12" stroke-width="0.6"/>
<circle cx="46.00" cy="305.40" r="2.10" fill="#a5111f" stroke="#5c0b12" stroke-width="0.6"/>
<circle cx="47.10" cy="314.90" r="2.10" fill="#a5111f" stroke="#5c0b12" stroke-width="0.6"/>
<polygon points="50.00,323.99 47.59,328.20 52.41,328.20" fill="#a5111f" stroke="#5c0b12" stroke-width="0.6"/>
<polygon points="47.10,328.39 44.69,332.60 49.52,332.60" fill="#a5111f" stroke="#5c0b12" stroke-width="0.6"/>
<polygon points="47.10,333.79 44.69,338.00 49.52,338.00" fill="#a5111f" stroke="#5c0b12" stroke-width="0.6"/>
<polygon points="60.20,307.19 57.79,311.40 62.62,311.40" fill="#1e4f95" stroke="#0f2a52" stroke-width="0.6"/>
<circle cx="59.90" cy="333.90" r="2.10" fill="#1e4f95" stroke="#0f2a52" stroke-width="0.6"/>
<circle cx="59.20" cy="350.00" r="2.10" fill="#1e4f95" stroke="#0f2a52" stroke-width="0.6"/>
<circle cx="62.10" cy="351.40" r="2.10" fill="#1e4f95" stroke="#0f2a52" stroke-width="0.6"/>
<circle cx="60.60" cy="352.20" r="2.10" fill="#1e4f95" stroke="#0f2a52" stroke-width="0.6"/>
<polygon points="57.70,352.39 55.29,356.60 60.12,356.60" fill="#1e4f95" stroke="#0f2a52" stroke-width="0.6"/>
<polygon points="61.40,350.99 58.98,355.20 63.81,355.20" fill="#1e4f95" stroke="#0f2a52" stroke-width="0.6"/>
<circle cx="86.90" cy="337.60" r="2.10" fill="#a5111f" stroke="#5c0b12" stroke-width="0.6"/>
<polygon points="81.80,336.69 79.38,340.90 84.22,340.90" fill="#a5111f" stroke="#5c0b12" stroke-width="0.6"/>
<circle cx="81.80" cy="342.70" r="2.10" fill="#a5111f" stroke="#5c0b12" stroke-width="0.6"/>
<circle cx="85.00" cy="343.40" r="2.10" fill="#a5111f" stroke="#5c0b12" stroke-width="0.6"/>
<circle cx="85.40" cy="350.70" r="2.10" fill="#a5111f" stroke="#5c0b12" stroke-width="0.6"/>
<circle cx="84.40" cy="353.60" r="2.10" fill="#a5111f" stroke="#5c0b12" stroke-width="0.6"/>
<circle cx="84.70" cy="355.40" r="2.10" fill="#a5111f" stroke="#5c0b12" stroke-width="0.6"/>
<circle cx="83.30" cy="357.30" r="2.10" fill="#a5111f" stroke="#5c0b12" stroke-width="0.6"/>
<circle cx="96.70" cy="347.00" r="2.10" fill="#1e4f95" stroke="#0f2a52" stroke-width="0.6"/>
<polygon points="97.60,346.59 95.18,350.80 100.02,350.80" fill="#1e4f95" stroke="#0f2a52" stroke-width="0.6"/>
<circle cx="96.10" cy="358.00" r="2.10" fill="#1e4f95" stroke="#0f2a52" stroke-width="0.6"/>
<circle cx="97.10" cy="359.50" r="2.10" fill="#1e4f95" stroke="#0f2a52" stroke-width="0.6"/>
<polygon points="94.60,360.49 92.18,364.70 97.02,364.70" fill="#1e4f95" stroke="#0f2a52" stroke-width="0.6"/>
<polygon points="100.00,361.19 97.58,365.40 102.42,365.40" fill="#1e4f95" stroke="#0f2a52" stroke-width="0.6"/>
<circle cx="97.90" cy="361.60" r="2.10" fill="#1e4f95" stroke="#0f2a52" stroke-width="0.6"/>
<circle cx="121.20" cy="309.10" r="2.10" fill="#a5111f" stroke="#5c0b12" stroke-width="0.6"/>
<circle cx="121.20" cy="320.80" r="2.10" fill="#a5111f" stroke="#5c0b12" stroke-width="0.6"/>
<polygon points="121.20,324.99 118.78,329.20 123.62,329.20" fill="#a5111f" stroke="#5c0b12" stroke-width="0.6"/>
<polygon points="121.20,328.79 118.78,333.00 123.62,333.00" fill="#a5111f" stroke="#5c0b12" stroke-width="0.6"/>
<circle cx="119.00" cy="338.30" r="2.10" fill="#a5111f" stroke="#5c0b12" stroke-width="0.6"/>
<circle cx="121.90" cy="339.70" r="2.10" fill="#a5111f" stroke="#5c0b12" stroke-width="0.6"/>
<circle cx="124.40" cy="340.20" r="2.10" fill="#a5111f" stroke="#5c0b12" stroke-width="0.6"/>
<polygon points="124.40,345.49 121.98,349.70 126.82,349.70" fill="#a5111f" stroke="#5c0b12" stroke-width="0.6"/>
<circle cx="121.20" cy="351.00" r="2.10" fill="#a5111f" stroke="#5c0b12" stroke-width="0.6"/>
<polygon points="121.20,356.09 118.78,360.30 123.62,360.30" fill="#a5111f" stroke="#5c0b12" stroke-width="0.6"/>
<polygon points="134.40,337.89 131.99,342.10 136.81,342.10" fill="#1e4f95" stroke="#0f2a52" stroke-width="0.6"/>
<circle cx="132.60" cy="356.50" r="2.10" fill="#1e4f95" stroke="#0f2a52" stroke-width="0.6"/>
<circle cx="135.10" cy="355.80" r="2.10" fill="#1e4f95" stroke="#0f2a52" stroke-width="0.6"/>
<circle cx="134.10" cy="358.70" r="2.10" fill="#1e4f95" stroke="#0f2a52" stroke-width="0.6"/>
<polygon points="132.20,358.29 129.78,362.50 134.61,362.50" fill="#1e4f95" stroke="#0f2a52" stroke-width="0.6"/>
<circle cx="136.10" cy="359.70" r="2.10" fill="#1e4f95" stroke="#0f2a52" stroke-width="0.6"/>
<polygon points="158.50,312.59 156.09,316.80 160.91,316.80" fill="#a5111f" stroke="#5c0b12" stroke-width="0.6"/>
<circle cx="158.50" cy="320.00" r="2.10" fill="#a5111f" stroke="#5c0b12" stroke-width="0.6"/>
<circle cx="156.80" cy="324.40" r="2.10" fill="#a5111f" stroke="#5c0b12" stroke-width="0.6"/>
<circle cx="160.40" cy="324.10" r="2.10" fill="#a5111f" stroke="#5c0b12" stroke-width="0.6"/>
<circle cx="158.50" cy="332.40" r="2.10" fill="#a5111f" stroke="#5c0b12" stroke-width="0.6"/>
<polygon points="161.20,328.79 158.78,333.00 163.61,333.00" fill="#a5111f" stroke="#5c0b12" stroke-width="0.6"/>
<circle cx="156.80" cy="336.10" r="2.10" fill="#a5111f" stroke="#5c0b12" stroke-width="0.6"/>
<circle cx="159.00" cy="338.70" r="2.10" fill="#a5111f" stroke="#5c0b12" stroke-width="0.6"/>
<circle cx="161.60" cy="338.30" r="2.10" fill="#a5111f" stroke="#5c0b12" stroke-width="0.6"/>
<circle cx="158.50" cy="346.30" r="2.10" fill="#a5111f" stroke="#5c0b12" stroke-width="0.6"/>
<circle cx="171.80" cy="311.60" r="2.10" fill="#1e4f95" stroke="#0f2a52" stroke-width="0.6"/>
<circle cx="171.80" cy="319.60" r="2.10" fill="#1e4f95" stroke="#0f2a52" stroke-width="0.6"/>
<polygon points="174.30,321.79 171.89,326.00 176.72,326.00" fill="#1e4f95" stroke="#0f2a52" stroke-width="0.6"/>
<polygon points="171.40,325.19 168.99,329.40 173.81,329.40" fill="#1e4f95" stroke="#0f2a52" stroke-width="0.6"/>
<polygon points="171.40,333.49 168.99,337.70 173.81,337.70" fill="#1e4f95" stroke="#0f2a52" stroke-width="0.6"/>
<circle cx="174.30" cy="343.40" r="2.10" fill="#1e4f95" stroke="#0f2a52" stroke-width="0.6"/>
<circle cx="169.20" cy="346.30" r="2.10" fill="#1e4f95" stroke="#0f2a52" stroke-width="0.6"/>
<circle cx="174.30" cy="348.10" r="2.10" fill="#1e4f95" stroke="#0f2a52" stroke-width="0.6"/>
<polygon points="171.40,347.79 168.99,352.00 173.81,352.00" fill="#1e4f95" stroke="#0f2a52" stroke-width="0.6"/>
<polygon points="171.80,356.59 169.39,360.80 174.22,360.80" fill="#1e4f95" stroke="#0f2a52" stroke-width="0.6"/>
<circle cx="195.80" cy="329.20" r="2.10" fill="#a5111f" stroke="#5c0b12" stroke-width="0.6"/>
<circle cx="195.80" cy="339.00" r="2.10" fill="#a5111f" stroke="#5c0b12" stroke-width="0.6"/>
<polygon points="195.80,344.39 193.39,348.60 198.22,348.60" fill="#a5111f" stroke="#5c0b12" stroke-width="0.6"/>
<circle cx="193.70" cy="352.20" r="2.10" fill="#a5111f" stroke="#5c0b12" stroke-width="0.6"/>
<circle cx="198.40" cy="351.90" r="2.10" fill="#a5111f" stroke="#5c0b12" stroke-width="0.6"/>
<polygon points="196.20,350.99 193.78,355.20 198.61,355.20" fill="#a5111f" stroke="#5c0b12" stroke-width="0.6"/>
<circle cx="194.30" cy="357.30" r="2.10" fill="#a5111f" stroke="#5c0b12" stroke-width="0.6"/>
<polygon points="197.70,354.69 195.28,358.90 200.11,358.90" fill="#a5111f" stroke="#5c0b12" stroke-width="0.6"/>
<circle cx="208.90" cy="342.20" r="2.10" fill="#1e4f95" stroke="#0f2a52" stroke-width="0.6"/>
<circle cx="206.90" cy="356.20" r="2.10" fill="#1e4f95" stroke="#0f2a52" stroke-width="0.6"/>
<circle cx="209.80" cy="356.50" r="2.10" fill="#1e4f95" stroke="#0f2a52" stroke-width="0.6"/>
<circle cx="211.80" cy="357.30" r="2.10" fill="#1e4f95" stroke="#0f2a52" stroke-width="0.6"/>
<circle cx="210.40" cy="360.60" r="2.10" fill="#1e4f95" stroke="#0f2a52" stroke-width="0.6"/>
<polygon points="206.90,360.89 204.49,365.10 209.31,365.10" fill="#1e4f95" stroke="#0f2a52" stroke-width="0.6"/>
<polygon points="231.20,320.59 228.78,324.80 233.61,324.80" fill="#a5111f" stroke="#5c0b12" stroke-width="0.6"/>
<polygon points="234.90,320.59 232.49,324.80 237.31,324.80" fill="#a5111f" stroke="#5c0b12" stroke-width="0.6"/>
<circle cx="231.20" cy="331.40" r="2.10" fill="#a5111f" stroke="#5c0b12" stroke-width="0.6"/>
<circle cx="234.90" cy="332.40" r="2.10" fill="#a5111f" stroke="#5c0b12" stroke-width="0.6"/>
<circle cx="230.50" cy="335.40" r="2.10" fill="#a5111f" stroke="#5c0b12" stroke-width="0.6"/>
<circle cx="235.60" cy="336.10" r="2.10" fill="#a5111f" stroke="#5c0b12" stroke-width="0.6"/>
<circle cx="233.00" cy="340.50" r="2.10" fill="#a5111f" stroke="#5c0b12" stroke-width="0.6"/>
<circle cx="231.20" cy="345.10" r="2.10" fill="#a5111f" stroke="#5c0b12" stroke-width="0.6"/>
<polygon points="234.60,341.49 232.19,345.70 237.01,345.70" fill="#a5111f" stroke="#5c0b12" stroke-width="0.6"/>
<circle cx="246.00" cy="336.90" r="2.10" fill="#1e4f95" stroke="#0f2a52" stroke-width="0.6"/>
<polygon points="243.00,339.39 240.59,343.60 245.41,343.60" fill="#1e4f95" stroke="#0f2a52" stroke-width="0.6"/>
<polygon points="248.40,341.59 245.99,345.80 250.81,345.80" fill="#1e4f95" stroke="#0f2a52" stroke-width="0.6"/>
<polygon points="246.00,344.59 243.59,348.80 248.41,348.80" fill="#1e4f95" stroke="#0f2a52" stroke-width="0.6"/>
<circle cx="243.80" cy="353.00" r="2.10" fill="#1e4f95" stroke="#0f2a52" stroke-width="0.6"/>
<circle cx="248.40" cy="352.70" r="2.10" fill="#1e4f95" stroke="#0f2a52" stroke-width="0.6"/>
<circle cx="246.00" cy="356.60" r="2.10" fill="#1e4f95" stroke="#0f2a52" stroke-width="0.6"/>
<circle cx="248.40" cy="360.00" r="2.10" fill="#1e4f95" stroke="#0f2a52" stroke-width="0.6"/>
<polygon points="243.50,359.89 241.09,364.10 245.91,364.10" fill="#1e4f95" stroke="#0f2a52" stroke-width="0.6"/>
<circle cx="270.00" cy="339.90" r="2.10" fill="#a5111f" stroke="#5c0b12" stroke-width="0.6"/>
<circle cx="270.00" cy="344.20" r="2.10" fill="#a5111f" stroke="#5c0b12" stroke-width="0.6"/>
<circle cx="267.80" cy="347.90" r="2.10" fill="#a5111f" stroke="#5c0b12" stroke-width="0.6"/>
<circle cx="272.20" cy="348.60" r="2.10" fill="#a5111f" stroke="#5c0b12" stroke-width="0.6"/>
<circle cx="270.00" cy="349.80" r="2.10" fill="#a5111f" stroke="#5c0b12" stroke-width="0.6"/>
<polygon points="270.80,348.89 268.38,353.10 273.22,353.10" fill="#a5111f" stroke="#5c0b12" stroke-width="0.6"/>
<polygon points="269.60,352.99 267.19,357.20 272.02,357.20" fill="#a5111f" stroke="#5c0b12" stroke-width="0.6"/>
<polygon points="283.20,342.79 280.78,347.00 285.62,347.00" fill="#1e4f95" stroke="#0f2a52" stroke-width="0.6"/>
<circle cx="283.20" cy="349.30" r="2.10" fill="#1e4f95" stroke="#0f2a52" stroke-width="0.6"/>
<polygon points="281.00,348.89 278.58,353.10 283.42,353.10" fill="#1e4f95" stroke="#0f2a52" stroke-width="0.6"/>
<circle cx="284.60" cy="353.00" r="2.10" fill="#1e4f95" stroke="#0f2a52" stroke-width="0.6"/>
<circle cx="281.70" cy="354.50" r="2.10" fill="#1e4f95" stroke="#0f2a52" stroke-width="0.6"/>
<circle cx="283.20" cy="358.10" r="2.10" fill="#1e4f95" stroke="#0f2a52" stroke-width="0.6"/>
<polygon points="283.20,360.29 280.78,364.50 285.62,364.50" fill="#1e4f95" stroke="#0f2a52" stroke-width="0.6"/>
<polygon points="281.70,361.29 279.28,365.50 284.12,365.50" fill="#1e4f95" stroke="#0f2a52" stroke-width="0.6"/>
<polygon points="305.80,287.59 303.38,291.80 308.22,291.80" fill="#a5111f" stroke="#5c0b12" stroke-width="0.6"/>
<polygon points="308.70,286.89 306.28,291.10 311.12,291.10" fill="#a5111f" stroke="#5c0b12" stroke-width="0.6"/>
<circle cx="306.20" cy="301.90" r="2.10" fill="#a5111f" stroke="#5c0b12" stroke-width="0.6"/>
<polygon points="308.70,299.99 306.28,304.20 311.12,304.20" fill="#a5111f" stroke="#5c0b12" stroke-width="0.6"/>
<circle cx="304.30" cy="314.70" r="2.10" fill="#a5111f" stroke="#5c0b12" stroke-width="0.6"/>
<circle cx="307.30" cy="317.20" r="2.10" fill="#a5111f" stroke="#5c0b12" stroke-width="0.6"/>
<circle cx="310.20" cy="314.70" r="2.10" fill="#a5111f" stroke="#5c0b12" stroke-width="0.6"/>
<circle cx="308.00" cy="315.30" r="2.10" fill="#a5111f" stroke="#5c0b12" stroke-width="0.6"/>
<polygon points="305.80,321.89 303.38,326.10 308.22,326.10" fill="#a5111f" stroke="#5c0b12" stroke-width="0.6"/>
<polygon points="308.70,321.89 306.28,326.10 311.12,326.10" fill="#a5111f" stroke="#5c0b12" stroke-width="0.6"/>
<circle cx="307.30" cy="336.90" r="2.10" fill="#a5111f" stroke="#5c0b12" stroke-width="0.6"/>
<circle cx="320.40" cy="299.00" r="2.10" fill="#1e4f95" stroke="#0f2a52" stroke-width="0.6"/>
<polygon points="320.40,304.09 317.98,308.30 322.81,308.30" fill="#1e4f95" stroke="#0f2a52" stroke-width="0.6"/>
<polygon points="320.40,313.19 317.98,317.40 322.81,317.40" fill="#1e4f95" stroke="#0f2a52" stroke-width="0.6"/>
<circle cx="320.40" cy="323.10" r="2.10" fill="#1e4f95" stroke="#0f2a52" stroke-width="0.6"/>
<circle cx="320.40" cy="330.40" r="2.10" fill="#1e4f95" stroke="#0f2a52" stroke-width="0.6"/>
<circle cx="322.90" cy="335.50" r="2.10" fill="#1e4f95" stroke="#0f2a52" stroke-width="0.6"/>
<circle cx="317.90" cy="338.40" r="2.10" fill="#1e4f95" stroke="#0f2a52" stroke-width="0.6"/>
<polygon points="317.50,352.99 315.08,357.20 319.92,357.20" fill="#1e4f95" stroke="#0f2a52" stroke-width="0.6"/>
<polygon points="322.90,352.59 320.48,356.80 325.31,356.80" fill="#1e4f95" stroke="#0f2a52" stroke-width="0.6"/>
<polyline points="47.20,284.00 47.20,281.00 60.40,281.00 60.40,284.00" fill="none" stroke="#b0b0b0" stroke-width="1.0"/>
<polygon points="47.20,274.00 47.88,275.37 49.39,275.59 48.29,276.66 48.55,278.16 47.20,277.45 45.85,278.16 46.11,276.66 45.01,275.59 46.52,275.37" fill="#3a3a3a"/>
<polygon points="51.60,274.00 52.28,275.37 53.79,275.59 52.69,276.66 52.95,278.16 51.60,277.45 50.25,278.16 50.51,276.66 49.41,275.59 50.92,275.37" fill="#3a3a3a"/>
<polygon points="56.00,274.00 56.68,275.37 58.19,275.59 57.09,276.66 57.35,278.16 56.00,277.45 54.65,278.16 54.91,276.66 53.81,275.59 55.32,275.37" fill="#3a3a3a"/>
<polygon points="60.40,274.00 61.08,275.37 62.59,275.59 61.49,276.66 61.75,278.16 60.40,277.45 59.05,278.16 59.31,276.66 58.21,275.59 59.72,275.37" fill="#3a3a3a"/>
<polyline points="121.54,284.00 121.54,281.00 134.74,281.00 134.74,284.00" fill="none" stroke="#b0b0b0" stroke-width="1.0"/>
<polygon points="125.94,274.00 126.62,275.37 128.13,275.59 127.03,276.66 127.29,278.16 125.94,277.45 124.59,278.16 124.85,276.66 123.75,275.59 125.26,275.37" fill="#3a3a3a"/>
<polygon points="130.34,274.00 131.02,275.37 132.53,275.59 131.43,276.66 131.69,278.16 130.34,277.45 128.99,278.16 129.25,276.66 128.15,275.59 129.66,275.37" fill="#3a3a3a"/>
<polyline points="233.05,284.00 233.05,281.00 246.25,281.00 246.25,284.00" fill="none" stroke="#b0b0b0" stroke-width="1.0"/>
<polygon points="237.45,274.00 238.13,275.37 239.64,275.59 238.54,276.66 238.80,278.16 237.45,277.45 236.10,278.16 236.36,276.66 235.26,275.59 236.77,275.37" fill="#3a3a3a"/>
<polygon points="241.85,274.00 242.53,275.37 244.04,275.59 242.94,276.66 243.20,278.16 241.85,277.45 240.50,278.16 240.76,276.66 239.66,275.59 241.17,275.37" fill="#3a3a3a"/>
<polyline points="307.39,284.00 307.39,281.00 320.59,281.00 320.59,284.00" fill="none" stroke="#b0b0b0" stroke-width="1.0"/>
<polygon points="311.79,274.00 312.47,275.37 313.98,275.59 312.88,276.66 313.14,278.16 311.79,277.45 310.44,278.16 310.70,276.66 309.60,275.59 311.11,275.37" fill="#3a3a3a"/>
<polygon points="316.19,274.00 316.87,275.37 318.38,275.59 317.28,276.66 317.54,278.16 316.19,277.45 314.84,278.16 315.10,276.66 314.00,275.59 315.51,275.37" fill="#3a3a3a"/>
<text x="52.50" y="376.80" font-size="7.6" text-anchor="middle" fill="#333" dominant-baseline="central" >Hippocampus</text>
<text x="93.47" y="376.80" font-size="7.6" text-anchor="middle" fill="#333" dominant-baseline="central" >Isocortex</text>
<text x="128.14" y="376.80" font-size="7.6" text-anchor="middle" fill="#333" dominant-baseline="central" >Olfactory</text>
<text x="128.14" y="385.80" font-size="7.6" text-anchor="middle" fill="#333" dominant-baseline="central" >area</text>
<text x="165.31" y="376.80" font-size="7.6" text-anchor="middle" fill="#333" dominant-baseline="central" >Cortex</text>
<text x="165.31" y="385.80" font-size="7.6" text-anchor="middle" fill="#333" dominant-baseline="central" >Subcortex</text>
<text x="200.18" y="376.80" font-size="7.6" text-anchor="middle" fill="#333" dominant-baseline="central" >Striatum</text>
<text x="234.25" y="376.80" font-size="7.6" text-anchor="middle" fill="#333" dominant-baseline="central" >Thalamus</text>
<text x="276.82" y="376.80" font-size="7.6" text-anchor="middle" fill="#333" dominant-baseline="central" >Hypothalamus</text>
<text x="315.39" y="376.80" font-size="7.6" text-anchor="middle" fill="#333" dominant-baseline="central" >White</text>
<text x="315.39" y="385.80" font-size="7.6" text-anchor="middle" fill="#333" dominant-baseline="central" >matter</text>
<text x="11.50" y="313.50" font-size="8.91" text-anchor="middle" fill="#333" dominant-baseline="central" transform="rotate(-90 11.50 313.50)" textLength="59.0" lengthAdjust="spacingAndGlyphs">GFAP<tspan font-size="4.5" dy="-3">+</tspan><tspan dy="3"> area (%)</tspan></text>
<rect x="47.40" y="235.40" width="7.20" height="7.20" fill="#eb5158" stroke="#4a4040" stroke-width="0.5" />
<rect x="47.40" y="247.40" width="7.20" height="7.20" fill="#386fb7" stroke="#4a4040" stroke-width="0.5" />
<text x="60.40" y="239.00" font-size="7.4" text-anchor="start" fill="#333" dominant-baseline="central" >4s2/FAD</text>
<text x="60.40" y="251.00" font-size="7.4" text-anchor="start" fill="#333" dominant-baseline="central">4s2<tspan font-size="4.07" dy="-3.11">Λ</tspan><tspan dy="3.11">/FAD</tspan></text>
<circle cx="110.00" cy="239.00" r="2.40" fill="none" stroke="#444" stroke-width="0.6"/>
<polygon points="110.00,248.02 107.24,252.82 112.76,252.82" fill="none" stroke="#444" stroke-width="0.6"/>
<text x="118.00" y="239.00" font-size="7.4" text-anchor="start" fill="#333" dominant-baseline="central" >Female</text>
<text x="118.00" y="251.00" font-size="7.4" text-anchor="start" fill="#333" dominant-baseline="central" >Male</text>
<line x1="385.60" y1="266.00" x2="385.60" y2="364.50" stroke="#8a8a8a" stroke-width="0.8" />
<line x1="382.60" y1="266.00" x2="385.60" y2="266.00" stroke="#8a8a8a" stroke-width="0.8" />
<text x="378.00" y="266.00" font-size="7.6" text-anchor="end" fill="#555" dominant-baseline="central" >6.0</text>
<line x1="382.60" y1="298.80" x2="385.60" y2="298.80" stroke="#8a8a8a" stroke-width="0.8" />
<text x="378.00" y="298.80" font-size="7.6" text-anchor="end" fill="#555" dominant-baseline="central" >4.0</text>
<line x1="382.60" y1="331.60" x2="385.60" y2="331.60" stroke="#8a8a8a" stroke-width="0.8" />
<text x="378.00" y="331.60" font-size="7.6" text-anchor="end" fill="#555" dominant-baseline="central" >2.0</text>
<line x1="382.60" y1="364.50" x2="385.60" y2="364.50" stroke="#8a8a8a" stroke-width="0.8" />
<text x="378.00" y="364.50" font-size="7.6" text-anchor="end" fill="#555" dominant-baseline="central" >0</text>
<line x1="385.60" y1="364.50" x2="671.00" y2="364.50" stroke="#8a8a8a" stroke-width="0.8" />
<line x1="399.60" y1="364.50" x2="399.60" y2="367.00" stroke="#8a8a8a" stroke-width="0.8" />
<line x1="436.40" y1="364.50" x2="436.40" y2="367.00" stroke="#8a8a8a" stroke-width="0.8" />
<line x1="473.20" y1="364.50" x2="473.20" y2="367.00" stroke="#8a8a8a" stroke-width="0.8" />
<line x1="510.00" y1="364.50" x2="510.00" y2="367.00" stroke="#8a8a8a" stroke-width="0.8" />
<line x1="546.80" y1="364.50" x2="546.80" y2="367.00" stroke="#8a8a8a" stroke-width="0.8" />
<line x1="583.60" y1="364.50" x2="583.60" y2="367.00" stroke="#8a8a8a" stroke-width="0.8" />
<line x1="620.40" y1="364.50" x2="620.40" y2="367.00" stroke="#8a8a8a" stroke-width="0.8" />
<line x1="657.20" y1="364.50" x2="657.20" y2="367.00" stroke="#8a8a8a" stroke-width="0.8" />
<line x1="393.10" y1="288.60" x2="393.10" y2="342.60" stroke="#8c8c8c" stroke-width="0.8" />
<rect x="388.50" y="292.60" width="9.20" height="35.00" fill="#eb5158" stroke="#4a4040" stroke-width="0.7" />
<line x1="388.50" y1="310.10" x2="397.70" y2="310.10" stroke="#444" stroke-width="0.6" />
<line x1="406.10" y1="332.00" x2="406.10" y2="362.40" stroke="#8c8c8c" stroke-width="0.8" />
<rect x="401.50" y="343.00" width="9.20" height="17.00" fill="#386fb7" stroke="#4a4040" stroke-width="0.7" />
<line x1="401.50" y1="351.50" x2="410.70" y2="351.50" stroke="#444" stroke-width="0.6" />
<line x1="429.90" y1="274.00" x2="429.90" y2="346.40" stroke="#8c8c8c" stroke-width="0.8" />
<rect x="425.30" y="318.40" width="9.20" height="17.20" fill="#eb5158" stroke="#4a4040" stroke-width="0.7" />
<line x1="425.30" y1="327.00" x2="434.50" y2="327.00" stroke="#444" stroke-width="0.6" />
<line x1="442.90" y1="327.60" x2="442.90" y2="363.00" stroke="#8c8c8c" stroke-width="0.8" />
<rect x="438.30" y="344.00" width="9.20" height="11.60" fill="#386fb7" stroke="#4a4040" stroke-width="0.7" />
<line x1="438.30" y1="349.80" x2="447.50" y2="349.80" stroke="#444" stroke-width="0.6" />
<line x1="466.70" y1="304.40" x2="466.70" y2="352.40" stroke="#8c8c8c" stroke-width="0.8" />
<rect x="462.10" y="328.00" width="9.20" height="15.60" fill="#eb5158" stroke="#4a4040" stroke-width="0.7" />
<line x1="462.10" y1="335.80" x2="471.30" y2="335.80" stroke="#444" stroke-width="0.6" />
<line x1="479.70" y1="345.00" x2="479.70" y2="363.00" stroke="#8c8c8c" stroke-width="0.8" />
<rect x="475.10" y="353.00" width="9.20" height="8.50" fill="#386fb7" stroke="#4a4040" stroke-width="0.7" />
<line x1="475.10" y1="357.25" x2="484.30" y2="357.25" stroke="#444" stroke-width="0.6" />
<line x1="503.50" y1="278.10" x2="503.50" y2="340.20" stroke="#8c8c8c" stroke-width="0.8" />
<rect x="498.90" y="298.00" width="9.20" height="40.20" fill="#eb5158" stroke="#4a4040" stroke-width="0.7" />
<line x1="498.90" y1="318.10" x2="508.10" y2="318.10" stroke="#444" stroke-width="0.6" />
<line x1="516.50" y1="316.80" x2="516.50" y2="363.00" stroke="#8c8c8c" stroke-width="0.8" />
<rect x="511.90" y="340.70" width="9.20" height="20.80" fill="#386fb7" stroke="#4a4040" stroke-width="0.7" />
<line x1="511.90" y1="351.10" x2="521.10" y2="351.10" stroke="#444" stroke-width="0.6" />
<line x1="540.30" y1="314.40" x2="540.30" y2="355.00" stroke="#8c8c8c" stroke-width="0.8" />
<rect x="535.70" y="334.20" width="9.20" height="19.80" fill="#eb5158" stroke="#4a4040" stroke-width="0.7" />
<line x1="535.70" y1="344.10" x2="544.90" y2="344.10" stroke="#444" stroke-width="0.6" />
<line x1="553.30" y1="350.60" x2="553.30" y2="364.00" stroke="#8c8c8c" stroke-width="0.8" />
<rect x="548.70" y="356.50" width="9.20" height="6.50" fill="#386fb7" stroke="#4a4040" stroke-width="0.7" />
<line x1="548.70" y1="359.75" x2="557.90" y2="359.75" stroke="#444" stroke-width="0.6" />
<line x1="577.10" y1="278.90" x2="577.10" y2="318.90" stroke="#8c8c8c" stroke-width="0.8" />
<rect x="572.50" y="283.90" width="9.20" height="25.80" fill="#eb5158" stroke="#4a4040" stroke-width="0.7" />
<line x1="572.50" y1="296.80" x2="581.70" y2="296.80" stroke="#444" stroke-width="0.6" />
<line x1="590.10" y1="308.30" x2="590.10" y2="362.30" stroke="#8c8c8c" stroke-width="0.8" />
<rect x="585.50" y="345.20" width="9.20" height="13.90" fill="#386fb7" stroke="#4a4040" stroke-width="0.7" />
<line x1="585.50" y1="352.15" x2="594.70" y2="352.15" stroke="#444" stroke-width="0.6" />
<line x1="613.90" y1="308.30" x2="613.90" y2="358.30" stroke="#8c8c8c" stroke-width="0.8" />
<rect x="609.30" y="327.50" width="9.20" height="22.90" fill="#eb5158" stroke="#4a4040" stroke-width="0.7" />
<line x1="609.30" y1="338.95" x2="618.50" y2="338.95" stroke="#444" stroke-width="0.6" />
<line x1="626.90" y1="342.50" x2="626.90" y2="363.50" stroke="#8c8c8c" stroke-width="0.8" />
<rect x="622.30" y="353.00" width="9.20" height="9.30" fill="#386fb7" stroke="#4a4040" stroke-width="0.7" />
<line x1="622.30" y1="357.65" x2="631.50" y2="357.65" stroke="#444" stroke-width="0.6" />
<line x1="650.70" y1="289.20" x2="650.70" y2="353.00" stroke="#8c8c8c" stroke-width="0.8" />
<rect x="646.10" y="320.70" width="9.20" height="17.90" fill="#eb5158" stroke="#4a4040" stroke-width="0.7" />
<line x1="646.10" y1="329.65" x2="655.30" y2="329.65" stroke="#444" stroke-width="0.6" />
<line x1="663.70" y1="342.50" x2="663.70" y2="362.50" stroke="#8c8c8c" stroke-width="0.8" />
<rect x="659.10" y="347.80" width="9.20" height="11.80" fill="#386fb7" stroke="#4a4040" stroke-width="0.7" />
<line x1="659.10" y1="353.70" x2="668.30" y2="353.70" stroke="#444" stroke-width="0.6" />
<circle cx="390.50" cy="289.00" r="2.10" fill="#a5111f" stroke="#5c0b12" stroke-width="0.6"/>
<circle cx="396.00" cy="288.70" r="2.10" fill="#a5111f" stroke="#5c0b12" stroke-width="0.6"/>
<circle cx="396.00" cy="293.10" r="2.10" fill="#a5111f" stroke="#5c0b12" stroke-width="0.6"/>
<circle cx="393.50" cy="297.70" r="2.10" fill="#a5111f" stroke="#5c0b12" stroke-width="0.6"/>
<polygon points="393.50,298.79 391.08,303.00 395.92,303.00" fill="#a5111f" stroke="#5c0b12" stroke-width="0.6"/>
<polygon points="393.50,310.49 391.08,314.70 395.92,314.70" fill="#a5111f" stroke="#5c0b12" stroke-width="0.6"/>
<polygon points="393.50,316.99 391.08,321.20 395.92,321.20" fill="#a5111f" stroke="#5c0b12" stroke-width="0.6"/>
<circle cx="390.50" cy="327.20" r="2.10" fill="#a5111f" stroke="#5c0b12" stroke-width="0.6"/>
<polygon points="396.00,327.29 393.58,331.50 398.42,331.50" fill="#a5111f" stroke="#5c0b12" stroke-width="0.6"/>
<polygon points="393.50,339.69 391.08,343.90 395.92,343.90" fill="#a5111f" stroke="#5c0b12" stroke-width="0.6"/>
<polygon points="406.20,329.89 403.78,334.10 408.62,334.10" fill="#1e4f95" stroke="#0f2a52" stroke-width="0.6"/>
<circle cx="406.20" cy="337.90" r="2.10" fill="#1e4f95" stroke="#0f2a52" stroke-width="0.6"/>
<circle cx="406.20" cy="345.20" r="2.10" fill="#1e4f95" stroke="#0f2a52" stroke-width="0.6"/>
<circle cx="404.00" cy="352.50" r="2.10" fill="#1e4f95" stroke="#0f2a52" stroke-width="0.6"/>
<circle cx="408.40" cy="352.50" r="2.10" fill="#1e4f95" stroke="#0f2a52" stroke-width="0.6"/>
<polygon points="406.20,348.39 403.78,352.60 408.62,352.60" fill="#1e4f95" stroke="#0f2a52" stroke-width="0.6"/>
<circle cx="405.40" cy="354.70" r="2.10" fill="#1e4f95" stroke="#0f2a52" stroke-width="0.6"/>
<circle cx="407.60" cy="357.60" r="2.10" fill="#1e4f95" stroke="#0f2a52" stroke-width="0.6"/>
<circle cx="403.70" cy="362.00" r="2.10" fill="#1e4f95" stroke="#0f2a52" stroke-width="0.6"/>
<polygon points="408.60,358.59 406.19,362.80 411.02,362.80" fill="#1e4f95" stroke="#0f2a52" stroke-width="0.6"/>
<circle cx="430.00" cy="273.60" r="2.10" fill="#a5111f" stroke="#5c0b12" stroke-width="0.6"/>
<polygon points="430.00,313.39 427.58,317.60 432.42,317.60" fill="#a5111f" stroke="#5c0b12" stroke-width="0.6"/>
<polygon points="430.00,317.79 427.58,322.00 432.42,322.00" fill="#a5111f" stroke="#5c0b12" stroke-width="0.6"/>
<circle cx="427.30" cy="325.50" r="2.10" fill="#a5111f" stroke="#5c0b12" stroke-width="0.6"/>
<circle cx="432.40" cy="325.80" r="2.10" fill="#a5111f" stroke="#5c0b12" stroke-width="0.6"/>
<polygon points="432.40,327.99 429.98,332.20 434.81,332.20" fill="#a5111f" stroke="#5c0b12" stroke-width="0.6"/>
<circle cx="427.30" cy="333.50" r="2.10" fill="#a5111f" stroke="#5c0b12" stroke-width="0.6"/>
<polygon points="432.40,334.79 429.98,339.00 434.81,339.00" fill="#a5111f" stroke="#5c0b12" stroke-width="0.6"/>
<circle cx="430.00" cy="345.90" r="2.10" fill="#a5111f" stroke="#5c0b12" stroke-width="0.6"/>
<polygon points="442.70,324.59 440.28,328.80 445.12,328.80" fill="#1e4f95" stroke="#0f2a52" stroke-width="0.6"/>
<circle cx="442.70" cy="337.40" r="2.10" fill="#1e4f95" stroke="#0f2a52" stroke-width="0.6"/>
<circle cx="442.70" cy="345.90" r="2.10" fill="#1e4f95" stroke="#0f2a52" stroke-width="0.6"/>
<circle cx="440.50" cy="349.60" r="2.10" fill="#1e4f95" stroke="#0f2a52" stroke-width="0.6"/>
<circle cx="444.10" cy="350.00" r="2.10" fill="#1e4f95" stroke="#0f2a52" stroke-width="0.6"/>
<circle cx="442.20" cy="353.20" r="2.10" fill="#1e4f95" stroke="#0f2a52" stroke-width="0.6"/>
<circle cx="443.40" cy="355.80" r="2.10" fill="#1e4f95" stroke="#0f2a52" stroke-width="0.6"/>
<polygon points="442.70,359.39 440.28,363.60 445.12,363.60" fill="#1e4f95" stroke="#0f2a52" stroke-width="0.6"/>
<circle cx="466.50" cy="304.70" r="2.10" fill="#a5111f" stroke="#5c0b12" stroke-width="0.6"/>
<circle cx="466.50" cy="325.20" r="2.10" fill="#a5111f" stroke="#5c0b12" stroke-width="0.6"/>
<polygon points="466.50,327.99 464.08,332.20 468.92,332.20" fill="#a5111f" stroke="#5c0b12" stroke-width="0.6"/>
<circle cx="463.80" cy="337.90" r="2.10" fill="#a5111f" stroke="#5c0b12" stroke-width="0.6"/>
<polygon points="466.80,335.29 464.38,339.50 469.22,339.50" fill="#a5111f" stroke="#5c0b12" stroke-width="0.6"/>
<circle cx="468.90" cy="341.50" r="2.10" fill="#a5111f" stroke="#5c0b12" stroke-width="0.6"/>
<circle cx="465.00" cy="341.20" r="2.10" fill="#a5111f" stroke="#5c0b12" stroke-width="0.6"/>
<circle cx="466.50" cy="345.60" r="2.10" fill="#a5111f" stroke="#5c0b12" stroke-width="0.6"/>
<polygon points="466.50,349.19 464.08,353.40 468.92,353.40" fill="#a5111f" stroke="#5c0b12" stroke-width="0.6"/>
<circle cx="479.60" cy="345.60" r="2.10" fill="#1e4f95" stroke="#0f2a52" stroke-width="0.6"/>
<circle cx="477.70" cy="356.90" r="2.10" fill="#1e4f95" stroke="#0f2a52" stroke-width="0.6"/>
<circle cx="481.40" cy="357.60" r="2.10" fill="#1e4f95" stroke="#0f2a52" stroke-width="0.6"/>
<circle cx="479.60" cy="359.80" r="2.10" fill="#1e4f95" stroke="#0f2a52" stroke-width="0.6"/>
<polygon points="500.30,278.29 497.88,282.50 502.72,282.50" fill="#a5111f" stroke="#5c0b12" stroke-width="0.6"/>
<circle cx="506.20" cy="278.50" r="2.10" fill="#a5111f" stroke="#5c0b12" stroke-width="0.6"/>
<circle cx="500.30" cy="315.00" r="2.10" fill="#a5111f" stroke="#5c0b12" stroke-width="0.6"/>
<polygon points="506.20,312.89 503.78,317.10 508.62,317.10" fill="#a5111f" stroke="#5c0b12" stroke-width="0.6"/>
<circle cx="500.30" cy="324.30" r="2.10" fill="#a5111f" stroke="#5c0b12" stroke-width="0.6"/>
<circle cx="506.20" cy="326.20" r="2.10" fill="#a5111f" stroke="#5c0b12" stroke-width="0.6"/>
<polygon points="500.30,333.79 497.88,338.00 502.72,338.00" fill="#a5111f" stroke="#5c0b12" stroke-width="0.6"/>
<circle cx="506.20" cy="336.40" r="2.10" fill="#a5111f" stroke="#5c0b12" stroke-width="0.6"/>
<polygon points="503.20,338.59 500.78,342.80 505.62,342.80" fill="#a5111f" stroke="#5c0b12" stroke-width="0.6"/>
<circle cx="516.10" cy="316.70" r="2.10" fill="#1e4f95" stroke="#0f2a52" stroke-width="0.6"/>
<polygon points="514.20,337.19 511.79,341.40 516.62,341.40" fill="#1e4f95" stroke="#0f2a52" stroke-width="0.6"/>
<circle cx="516.40" cy="341.80" r="2.10" fill="#1e4f95" stroke="#0f2a52" stroke-width="0.6"/>
<circle cx="514.20" cy="346.20" r="2.10" fill="#1e4f95" stroke="#0f2a52" stroke-width="0.6"/>
<circle cx="516.40" cy="350.30" r="2.10" fill="#1e4f95" stroke="#0f2a52" stroke-width="0.6"/>
<polygon points="514.20,354.69 511.79,358.90 516.62,358.90" fill="#1e4f95" stroke="#0f2a52" stroke-width="0.6"/>
<circle cx="518.90" cy="359.30" r="2.10" fill="#1e4f95" stroke="#0f2a52" stroke-width="0.6"/>
<polygon points="513.50,358.59 511.08,362.80 515.91,362.80" fill="#1e4f95" stroke="#0f2a52" stroke-width="0.6"/>
<circle cx="537.30" cy="315.30" r="2.10" fill="#a5111f" stroke="#5c0b12" stroke-width="0.6"/>
<polygon points="540.20,315.29 537.79,319.50 542.62,319.50" fill="#a5111f" stroke="#5c0b12" stroke-width="0.6"/>
<circle cx="539.70" cy="339.30" r="2.10" fill="#a5111f" stroke="#5c0b12" stroke-width="0.6"/>
<polygon points="536.80,342.59 534.38,346.80 539.21,346.80" fill="#a5111f" stroke="#5c0b12" stroke-width="0.6"/>
<circle cx="539.70" cy="346.20" r="2.10" fill="#a5111f" stroke="#5c0b12" stroke-width="0.6"/>
<polygon points="542.70,347.69 540.29,351.90 545.12,351.90" fill="#a5111f" stroke="#5c0b12" stroke-width="0.6"/>
<circle cx="537.30" cy="352.00" r="2.10" fill="#a5111f" stroke="#5c0b12" stroke-width="0.6"/>
<circle cx="542.20" cy="354.40" r="2.10" fill="#a5111f" stroke="#5c0b12" stroke-width="0.6"/>
<polygon points="540.20,356.69 537.79,360.90 542.62,360.90" fill="#a5111f" stroke="#5c0b12" stroke-width="0.6"/>
<circle cx="552.90" cy="351.50" r="2.10" fill="#1e4f95" stroke="#0f2a52" stroke-width="0.6"/>
<circle cx="550.70" cy="358.30" r="2.10" fill="#1e4f95" stroke="#0f2a52" stroke-width="0.6"/>
<circle cx="553.60" cy="359.30" r="2.10" fill="#1e4f95" stroke="#0f2a52" stroke-width="0.6"/>
<circle cx="555.80" cy="359.80" r="2.10" fill="#1e4f95" stroke="#0f2a52" stroke-width="0.6"/>
<circle cx="551.90" cy="360.80" r="2.10" fill="#1e4f95" stroke="#0f2a52" stroke-width="0.6"/>
<polygon points="576.70,276.89 574.29,281.10 579.12,281.10" fill="#a5111f" stroke="#5c0b12" stroke-width="0.6"/>
<polygon points="573.80,281.99 571.38,286.20 576.21,286.20" fill="#a5111f" stroke="#5c0b12" stroke-width="0.6"/>
<polygon points="579.20,281.99 576.79,286.20 581.62,286.20" fill="#a5111f" stroke="#5c0b12" stroke-width="0.6"/>
<circle cx="573.80" cy="293.10" r="2.10" fill="#a5111f" stroke="#5c0b12" stroke-width="0.6"/>
<circle cx="579.20" cy="290.70" r="2.10" fill="#a5111f" stroke="#5c0b12" stroke-width="0.6"/>
<circle cx="573.80" cy="304.30" r="2.10" fill="#a5111f" stroke="#5c0b12" stroke-width="0.6"/>
<circle cx="579.20" cy="302.80" r="2.10" fill="#a5111f" stroke="#5c0b12" stroke-width="0.6"/>
<polygon points="573.80,316.29 571.38,320.50 576.21,320.50" fill="#a5111f" stroke="#5c0b12" stroke-width="0.6"/>
<circle cx="579.20" cy="316.00" r="2.10" fill="#a5111f" stroke="#5c0b12" stroke-width="0.6"/>
<circle cx="589.50" cy="308.20" r="2.10" fill="#1e4f95" stroke="#0f2a52" stroke-width="0.6"/>
<circle cx="589.50" cy="345.20" r="2.10" fill="#1e4f95" stroke="#0f2a52" stroke-width="0.6"/>
<circle cx="591.00" cy="345.90" r="2.10" fill="#1e4f95" stroke="#0f2a52" stroke-width="0.6"/>
<circle cx="587.00" cy="353.20" r="2.10" fill="#1e4f95" stroke="#0f2a52" stroke-width="0.6"/>
<circle cx="591.70" cy="354.40" r="2.10" fill="#1e4f95" stroke="#0f2a52" stroke-width="0.6"/>
<circle cx="589.90" cy="356.10" r="2.10" fill="#1e4f95" stroke="#0f2a52" stroke-width="0.6"/>
<circle cx="592.40" cy="357.30" r="2.10" fill="#1e4f95" stroke="#0f2a52" stroke-width="0.6"/>
<polygon points="589.00,358.59 586.59,362.80 591.41,362.80" fill="#1e4f95" stroke="#0f2a52" stroke-width="0.6"/>
<polygon points="588.00,359.69 585.59,363.90 590.41,363.90" fill="#1e4f95" stroke="#0f2a52" stroke-width="0.6"/>
<polygon points="613.60,306.09 611.19,310.30 616.01,310.30" fill="#a5111f" stroke="#5c0b12" stroke-width="0.6"/>
<circle cx="613.60" cy="323.70" r="2.10" fill="#a5111f" stroke="#5c0b12" stroke-width="0.6"/>
<circle cx="615.80" cy="328.10" r="2.10" fill="#a5111f" stroke="#5c0b12" stroke-width="0.6"/>
<polygon points="610.70,329.39 608.29,333.60 613.12,333.60" fill="#a5111f" stroke="#5c0b12" stroke-width="0.6"/>
<circle cx="613.90" cy="332.00" r="2.10" fill="#a5111f" stroke="#5c0b12" stroke-width="0.6"/>
<circle cx="616.20" cy="335.00" r="2.10" fill="#a5111f" stroke="#5c0b12" stroke-width="0.6"/>
<circle cx="613.30" cy="337.40" r="2.10" fill="#a5111f" stroke="#5c0b12" stroke-width="0.6"/>
<circle cx="615.80" cy="350.00" r="2.10" fill="#a5111f" stroke="#5c0b12" stroke-width="0.6"/>
<polygon points="613.30,350.29 610.88,354.50 615.71,354.50" fill="#a5111f" stroke="#5c0b12" stroke-width="0.6"/>
<circle cx="613.30" cy="358.30" r="2.10" fill="#a5111f" stroke="#5c0b12" stroke-width="0.6"/>
<circle cx="626.00" cy="342.30" r="2.10" fill="#1e4f95" stroke="#0f2a52" stroke-width="0.6"/>
<circle cx="626.00" cy="352.50" r="2.10" fill="#1e4f95" stroke="#0f2a52" stroke-width="0.6"/>
<circle cx="623.50" cy="357.30" r="2.10" fill="#1e4f95" stroke="#0f2a52" stroke-width="0.6"/>
<circle cx="627.00" cy="356.10" r="2.10" fill="#1e4f95" stroke="#0f2a52" stroke-width="0.6"/>
<circle cx="625.30" cy="359.80" r="2.10" fill="#1e4f95" stroke="#0f2a52" stroke-width="0.6"/>
<circle cx="628.90" cy="361.20" r="2.10" fill="#1e4f95" stroke="#0f2a52" stroke-width="0.6"/>
<circle cx="650.10" cy="289.00" r="2.10" fill="#a5111f" stroke="#5c0b12" stroke-width="0.6"/>
<circle cx="650.10" cy="314.50" r="2.10" fill="#a5111f" stroke="#5c0b12" stroke-width="0.6"/>
<polygon points="647.40,320.19 644.99,324.40 649.81,324.40" fill="#a5111f" stroke="#5c0b12" stroke-width="0.6"/>
<polygon points="652.70,319.99 650.29,324.20 655.12,324.20" fill="#a5111f" stroke="#5c0b12" stroke-width="0.6"/>
<polygon points="647.40,326.49 644.99,330.70 649.81,330.70" fill="#a5111f" stroke="#5c0b12" stroke-width="0.6"/>
<polygon points="652.30,325.09 649.88,329.30 654.71,329.30" fill="#a5111f" stroke="#5c0b12" stroke-width="0.6"/>
<polygon points="652.30,328.69 649.88,332.90 654.71,332.90" fill="#a5111f" stroke="#5c0b12" stroke-width="0.6"/>
<circle cx="647.40" cy="337.40" r="2.10" fill="#a5111f" stroke="#5c0b12" stroke-width="0.6"/>
<circle cx="652.70" cy="341.50" r="2.10" fill="#a5111f" stroke="#5c0b12" stroke-width="0.6"/>
<circle cx="650.10" cy="352.90" r="2.10" fill="#a5111f" stroke="#5c0b12" stroke-width="0.6"/>
<polygon points="663.20,338.89 660.79,343.10 665.62,343.10" fill="#1e4f95" stroke="#0f2a52" stroke-width="0.6"/>
<circle cx="662.50" cy="343.70" r="2.10" fill="#1e4f95" stroke="#0f2a52" stroke-width="0.6"/>
<circle cx="663.20" cy="350.00" r="2.10" fill="#1e4f95" stroke="#0f2a52" stroke-width="0.6"/>
<circle cx="660.70" cy="353.90" r="2.10" fill="#1e4f95" stroke="#0f2a52" stroke-width="0.6"/>
<circle cx="664.70" cy="354.70" r="2.10" fill="#1e4f95" stroke="#0f2a52" stroke-width="0.6"/>
<circle cx="662.50" cy="357.30" r="2.10" fill="#1e4f95" stroke="#0f2a52" stroke-width="0.6"/>
<polygon points="660.00,357.19 657.59,361.40 662.41,361.40" fill="#1e4f95" stroke="#0f2a52" stroke-width="0.6"/>
<polygon points="664.70,357.59 662.29,361.80 667.12,361.80" fill="#1e4f95" stroke="#0f2a52" stroke-width="0.6"/>
<polyline points="393.10,267.60 393.10,262.40 406.10,262.40 406.10,267.60" fill="none" stroke="#b0b0b0" stroke-width="1.0"/>
<polygon points="393.00,256.60 393.68,257.97 395.19,258.19 394.09,259.26 394.35,260.76 393.00,260.05 391.65,260.76 391.91,259.26 390.81,258.19 392.32,257.97" fill="#3a3a3a"/>
<polygon points="397.40,256.60 398.08,257.97 399.59,258.19 398.49,259.26 398.75,260.76 397.40,260.05 396.05,260.76 396.31,259.26 395.21,258.19 396.72,257.97" fill="#3a3a3a"/>
<polygon points="401.80,256.60 402.48,257.97 403.99,258.19 402.89,259.26 403.15,260.76 401.80,260.05 400.45,260.76 400.71,259.26 399.61,258.19 401.12,257.97" fill="#3a3a3a"/>
<polygon points="406.20,256.60 406.88,257.97 408.39,258.19 407.29,259.26 407.55,260.76 406.20,260.05 404.85,260.76 405.11,259.26 404.01,258.19 405.52,257.97" fill="#3a3a3a"/>
<polyline points="429.90,267.60 429.90,262.40 442.90,262.40 442.90,267.60" fill="none" stroke="#b0b0b0" stroke-width="1.0"/>
<polygon points="434.20,256.60 434.88,257.97 436.39,258.19 435.29,259.26 435.55,260.76 434.20,260.05 432.85,260.76 433.11,259.26 432.01,258.19 433.52,257.97" fill="#3a3a3a"/>
<polygon points="438.60,256.60 439.28,257.97 440.79,258.19 439.69,259.26 439.95,260.76 438.60,260.05 437.25,260.76 437.51,259.26 436.41,258.19 437.92,257.97" fill="#3a3a3a"/>
<polyline points="466.70,267.60 466.70,262.40 479.70,262.40 479.70,267.60" fill="none" stroke="#b0b0b0" stroke-width="1.0"/>
<polygon points="473.20,256.60 473.88,257.97 475.39,258.19 474.29,259.26 474.55,260.76 473.20,260.05 471.85,260.76 472.11,259.26 471.01,258.19 472.52,257.97" fill="#3a3a3a"/>
<polyline points="503.50,267.60 503.50,262.40 516.50,262.40 516.50,267.60" fill="none" stroke="#b0b0b0" stroke-width="1.0"/>
<polygon points="503.40,256.60 504.08,257.97 505.59,258.19 504.49,259.26 504.75,260.76 503.40,260.05 502.05,260.76 502.31,259.26 501.21,258.19 502.72,257.97" fill="#3a3a3a"/>
<polygon points="507.80,256.60 508.48,257.97 509.99,258.19 508.89,259.26 509.15,260.76 507.80,260.05 506.45,260.76 506.71,259.26 505.61,258.19 507.12,257.97" fill="#3a3a3a"/>
<polygon points="512.20,256.60 512.88,257.97 514.39,258.19 513.29,259.26 513.55,260.76 512.20,260.05 510.85,260.76 511.11,259.26 510.01,258.19 511.52,257.97" fill="#3a3a3a"/>
<polygon points="516.60,256.60 517.28,257.97 518.79,258.19 517.69,259.26 517.95,260.76 516.60,260.05 515.25,260.76 515.51,259.26 514.41,258.19 515.92,257.97" fill="#3a3a3a"/>
<polyline points="577.10,267.60 577.10,262.40 590.10,262.40 590.10,267.60" fill="none" stroke="#b0b0b0" stroke-width="1.0"/>
<polygon points="577.00,256.60 577.68,257.97 579.19,258.19 578.09,259.26 578.35,260.76 577.00,260.05 575.65,260.76 575.91,259.26 574.81,258.19 576.32,257.97" fill="#3a3a3a"/>
<polygon points="581.40,256.60 582.08,257.97 583.59,258.19 582.49,259.26 582.75,260.76 581.40,260.05 580.05,260.76 580.31,259.26 579.21,258.19 580.72,257.97" fill="#3a3a3a"/>
<polygon points="585.80,256.60 586.48,257.97 587.99,258.19 586.89,259.26 587.15,260.76 585.80,260.05 584.45,260.76 584.71,259.26 583.61,258.19 585.12,257.97" fill="#3a3a3a"/>
<polygon points="590.20,256.60 590.88,257.97 592.39,258.19 591.29,259.26 591.55,260.76 590.20,260.05 588.85,260.76 589.11,259.26 588.01,258.19 589.52,257.97" fill="#3a3a3a"/>
<polyline points="613.90,267.60 613.90,262.40 626.90,262.40 626.90,267.60" fill="none" stroke="#b0b0b0" stroke-width="1.0"/>
<polygon points="618.20,256.60 618.88,257.97 620.39,258.19 619.29,259.26 619.55,260.76 618.20,260.05 616.85,260.76 617.11,259.26 616.01,258.19 617.52,257.97" fill="#3a3a3a"/>
<polygon points="622.60,256.60 623.28,257.97 624.79,258.19 623.69,259.26 623.95,260.76 622.60,260.05 621.25,260.76 621.51,259.26 620.41,258.19 621.92,257.97" fill="#3a3a3a"/>
<polyline points="650.70,267.60 650.70,262.40 663.70,262.40 663.70,267.60" fill="none" stroke="#b0b0b0" stroke-width="1.0"/>
<polygon points="652.80,256.60 653.48,257.97 654.99,258.19 653.89,259.26 654.15,260.76 652.80,260.05 651.45,260.76 651.71,259.26 650.61,258.19 652.12,257.97" fill="#3a3a3a"/>
<polygon points="657.20,256.60 657.88,257.97 659.39,258.19 658.29,259.26 658.55,260.76 657.20,260.05 655.85,260.76 656.11,259.26 655.01,258.19 656.52,257.97" fill="#3a3a3a"/>
<polygon points="661.60,256.60 662.28,257.97 663.79,258.19 662.69,259.26 662.95,260.76 661.60,260.05 660.25,260.76 660.51,259.26 659.41,258.19 660.92,257.97" fill="#3a3a3a"/>
<text x="397.00" y="376.80" font-size="7.6" text-anchor="middle" fill="#333" dominant-baseline="central" >Hippocampus</text>
<text x="437.40" y="376.80" font-size="7.6" text-anchor="middle" fill="#333" dominant-baseline="central" >Isocortex</text>
<text x="474.00" y="376.80" font-size="7.6" text-anchor="middle" fill="#333" dominant-baseline="central" >Olfactory</text>
<text x="474.00" y="385.80" font-size="7.6" text-anchor="middle" fill="#333" dominant-baseline="central" >area</text>
<text x="506.50" y="376.80" font-size="7.6" text-anchor="middle" fill="#333" dominant-baseline="central" >Cortex</text>
<text x="506.50" y="385.80" font-size="7.6" text-anchor="middle" fill="#333" dominant-baseline="central" >Subcortex</text>
<text x="545.60" y="376.80" font-size="7.6" text-anchor="middle" fill="#333" dominant-baseline="central" >Striatum</text>
<text x="579.30" y="376.80" font-size="7.6" text-anchor="middle" fill="#333" dominant-baseline="central" >Thalamus</text>
<text x="621.50" y="376.80" font-size="7.6" text-anchor="middle" fill="#333" dominant-baseline="central" >Hypothalamus</text>
<text x="658.40" y="376.80" font-size="7.6" text-anchor="middle" fill="#333" dominant-baseline="central" >White</text>
<text x="658.40" y="385.80" font-size="7.6" text-anchor="middle" fill="#333" dominant-baseline="central" >matter</text>
<text x="357.00" y="315.00" font-size="8.64" text-anchor="middle" fill="#333" dominant-baseline="central" transform="rotate(-90 357.00 315.00)" textLength="53.2" lengthAdjust="spacingAndGlyphs">IBA1<tspan font-size="4.5" dy="-3">+</tspan><tspan dy="3"> area (%)</tspan></text>
<rect x="394.00" y="231.40" width="7.20" height="7.20" fill="#eb5158" stroke="#4a4040" stroke-width="0.5" />
<rect x="394.00" y="243.70" width="7.20" height="7.20" fill="#386fb7" stroke="#4a4040" stroke-width="0.5" />
<text x="407.00" y="235.00" font-size="7.4" text-anchor="start" fill="#333" dominant-baseline="central" >4s2/FAD</text>
<text x="407.00" y="247.30" font-size="7.4" text-anchor="start" fill="#333" dominant-baseline="central">4s2<tspan font-size="4.07" dy="-3.11">Λ</tspan><tspan dy="3.11">/FAD</tspan></text>
<circle cx="457.60" cy="235.00" r="2.40" fill="none" stroke="#444" stroke-width="0.6"/>
<polygon points="457.60,244.32 454.84,249.12 460.36,249.12" fill="none" stroke="#444" stroke-width="0.6"/>
<text x="465.60" y="235.00" font-size="7.4" text-anchor="start" fill="#333" dominant-baseline="central" >Female</text>
<text x="465.60" y="247.30" font-size="7.4" text-anchor="start" fill="#333" dominant-baseline="central" >Male</text>
<line x1="39.40" y1="569.00" x2="39.40" y2="674.40" stroke="#8a8a8a" stroke-width="0.8" />
<line x1="36.40" y1="674.40" x2="39.40" y2="674.40" stroke="#8a8a8a" stroke-width="0.8" />
<text x="32.00" y="674.40" font-size="7.6" text-anchor="end" fill="#555" dominant-baseline="central" >0</text>
<line x1="36.40" y1="648.05" x2="39.40" y2="648.05" stroke="#8a8a8a" stroke-width="0.8" />
<text x="32.00" y="648.05" font-size="7.6" text-anchor="end" fill="#555" dominant-baseline="central" >400</text>
<line x1="36.40" y1="621.70" x2="39.40" y2="621.70" stroke="#8a8a8a" stroke-width="0.8" />
<text x="32.00" y="621.70" font-size="7.6" text-anchor="end" fill="#555" dominant-baseline="central" >800</text>
<line x1="36.40" y1="595.35" x2="39.40" y2="595.35" stroke="#8a8a8a" stroke-width="0.8" />
<text x="32.00" y="595.35" font-size="7.6" text-anchor="end" fill="#555" dominant-baseline="central" >1,200</text>
<line x1="36.40" y1="569.00" x2="39.40" y2="569.00" stroke="#8a8a8a" stroke-width="0.8" />
<text x="32.00" y="569.00" font-size="7.6" text-anchor="end" fill="#555" dominant-baseline="central" >1,600</text>
<line x1="39.40" y1="674.40" x2="197.60" y2="674.40" stroke="#8a8a8a" stroke-width="0.8" />
<line x1="47.50" y1="674.40" x2="47.50" y2="676.90" stroke="#8a8a8a" stroke-width="0.8" />
<line x1="79.10" y1="674.40" x2="79.10" y2="676.90" stroke="#8a8a8a" stroke-width="0.8" />
<line x1="118.60" y1="674.40" x2="118.60" y2="676.90" stroke="#8a8a8a" stroke-width="0.8" />
<line x1="158.10" y1="674.40" x2="158.10" y2="676.90" stroke="#8a8a8a" stroke-width="0.8" />
<line x1="197.60" y1="674.40" x2="197.60" y2="676.90" stroke="#8a8a8a" stroke-width="0.8" />
<text x="47.50" y="684.60" font-size="7.6" text-anchor="middle" fill="#444" dominant-baseline="central" >≥5</text>
<text x="79.10" y="684.60" font-size="7.6" text-anchor="middle" fill="#444" dominant-baseline="central" >25</text>
<text x="118.60" y="684.60" font-size="7.6" text-anchor="middle" fill="#444" dominant-baseline="central" >50</text>
<text x="158.10" y="684.60" font-size="7.6" text-anchor="middle" fill="#444" dominant-baseline="central" >75</text>
<text x="197.60" y="684.60" font-size="7.6" text-anchor="middle" fill="#444" dominant-baseline="central" >100</text>
<text x="118.80" y="697.80" font-size="9.2" text-anchor="middle" fill="#3a3a3a" dominant-baseline="central" >Distance from plaque (µm)</text>
<path d="M39.60,674.40 L47.50,633.89 L55.40,617.09 L63.30,616.10 L71.20,612.81 L79.10,608.85 L87.00,610.17 L94.90,611.82 L102.80,616.10 L110.70,619.72 L118.60,623.35 L126.50,626.97 L134.40,630.59 L142.30,633.23 L150.20,636.85 L158.10,638.96 L166.00,641.79 L173.90,644.10 L181.80,646.21 L189.70,648.38 L197.60,650.22 L197.60,654.31 L189.70,652.79 L181.80,651.01 L173.90,649.37 L166.00,647.39 L158.10,645.02 L150.20,643.11 L142.30,640.14 L134.40,637.84 L126.50,634.88 L118.60,631.91 L110.70,628.29 L102.80,625.32 L94.90,623.02 L87.00,621.70 L79.10,621.04 L71.20,623.68 L63.30,626.97 L55.40,627.96 L47.50,646.40 L39.60,674.40 Z" fill="#e8535c" stroke="none"/>
<path d="M39.60,674.40 L47.50,640.14 L55.40,622.36 L63.30,621.04 L71.20,618.08 L79.10,615.11 L87.00,616.10 L94.90,617.09 L102.80,620.71 L110.70,623.68 L118.60,627.63 L126.50,630.92 L134.40,634.22 L142.30,636.85 L150.20,640.14 L158.10,642.12 L166.00,644.76 L173.90,646.73 L181.80,648.71 L189.70,650.68 L197.60,652.33" fill="none" stroke="#c73a45" stroke-width="0.7"/>
<path d="M39.60,674.40 L47.50,654.97 L55.40,644.43 L63.30,644.43 L71.20,642.45 L79.10,642.45 L87.00,642.78 L94.90,644.43 L102.80,646.07 L110.70,647.39 L118.60,649.70 L126.50,650.68 L134.40,652.33 L142.30,653.98 L150.20,655.63 L158.10,657.60 L166.00,659.25 L173.90,660.57 L181.80,661.88 L189.70,663.20 L197.60,663.99 L197.60,667.81 L189.70,667.48 L181.80,666.82 L173.90,666.17 L166.00,665.51 L158.10,664.52 L150.20,663.86 L142.30,663.20 L134.40,662.54 L126.50,661.55 L118.60,661.23 L110.70,660.24 L102.80,659.58 L94.90,658.59 L87.00,657.93 L79.10,657.93 L71.20,658.26 L63.30,659.25 L55.40,660.57 L47.50,666.17 L39.60,674.40 Z" fill="#3a6fb6" stroke="none"/>
<path d="M39.60,674.40 L47.50,660.24 L55.40,652.33 L63.30,652.00 L71.20,650.36 L79.10,650.03 L87.00,650.36 L94.90,651.34 L102.80,652.66 L110.70,653.65 L118.60,654.97 L126.50,655.95 L134.40,657.27 L142.30,658.26 L150.20,659.58 L158.10,660.90 L166.00,662.21 L173.90,663.20 L181.80,664.19 L189.70,665.18 L197.60,665.97" fill="none" stroke="#2c5a9e" stroke-width="0.7"/>
<line x1="133.00" y1="567.40" x2="141.00" y2="567.40" stroke="#ef7a80" stroke-width="1.0" />
<line x1="133.00" y1="581.40" x2="141.00" y2="581.40" stroke="#5a86c4" stroke-width="1.0" />
<text x="145.50" y="567.40" font-size="7.4" text-anchor="start" fill="#333" dominant-baseline="central" >4s2/FAD</text>
<text x="145.50" y="581.40" font-size="7.4" text-anchor="start" fill="#333" dominant-baseline="central">4s2<tspan font-size="4.07" dy="-3.11">Λ</tspan><tspan dy="3.11">/FAD</tspan></text>
<text x="6.50" y="621.50" font-size="9.18" text-anchor="middle" fill="#333" dominant-baseline="central" transform="rotate(-90 6.50 621.50)" textLength="70.8" lengthAdjust="spacingAndGlyphs">GFAP<tspan font-size="4.5" dy="-3">+</tspan><tspan dy="3"> area (units)</tspan></text>
<line x1="388.40" y1="572.60" x2="388.40" y2="674.40" stroke="#8a8a8a" stroke-width="0.8" />
<line x1="385.40" y1="674.40" x2="388.40" y2="674.40" stroke="#8a8a8a" stroke-width="0.8" />
<text x="381.60" y="674.40" font-size="7.6" text-anchor="end" fill="#555" dominant-baseline="central" >0</text>
<line x1="385.40" y1="648.95" x2="388.40" y2="648.95" stroke="#8a8a8a" stroke-width="0.8" />
<text x="381.60" y="648.95" font-size="7.6" text-anchor="end" fill="#555" dominant-baseline="central" >400</text>
<line x1="385.40" y1="623.50" x2="388.40" y2="623.50" stroke="#8a8a8a" stroke-width="0.8" />
<text x="381.60" y="623.50" font-size="7.6" text-anchor="end" fill="#555" dominant-baseline="central" >800</text>
<line x1="385.40" y1="598.05" x2="388.40" y2="598.05" stroke="#8a8a8a" stroke-width="0.8" />
<text x="381.60" y="598.05" font-size="7.6" text-anchor="end" fill="#555" dominant-baseline="central" >1,200</text>
<line x1="385.40" y1="572.60" x2="388.40" y2="572.60" stroke="#8a8a8a" stroke-width="0.8" />
<text x="381.60" y="572.60" font-size="7.6" text-anchor="end" fill="#555" dominant-baseline="central" >1,600</text>
<line x1="388.40" y1="674.40" x2="541.10" y2="674.40" stroke="#8a8a8a" stroke-width="0.8" />
<line x1="392.14" y1="674.40" x2="392.14" y2="676.90" stroke="#8a8a8a" stroke-width="0.8" />
<line x1="423.50" y1="674.40" x2="423.50" y2="676.90" stroke="#8a8a8a" stroke-width="0.8" />
<line x1="462.70" y1="674.40" x2="462.70" y2="676.90" stroke="#8a8a8a" stroke-width="0.8" />
<line x1="501.90" y1="674.40" x2="501.90" y2="676.90" stroke="#8a8a8a" stroke-width="0.8" />
<line x1="541.10" y1="674.40" x2="541.10" y2="676.90" stroke="#8a8a8a" stroke-width="0.8" />
<text x="392.14" y="684.60" font-size="7.6" text-anchor="middle" fill="#444" dominant-baseline="central" >≥5</text>
<text x="423.50" y="684.60" font-size="7.6" text-anchor="middle" fill="#444" dominant-baseline="central" >25</text>
<text x="462.70" y="684.60" font-size="7.6" text-anchor="middle" fill="#444" dominant-baseline="central" >50</text>
<text x="501.90" y="684.60" font-size="7.6" text-anchor="middle" fill="#444" dominant-baseline="central" >75</text>
<text x="541.10" y="684.60" font-size="7.6" text-anchor="middle" fill="#444" dominant-baseline="central" >100</text>
<text x="464.20" y="697.80" font-size="9.2" text-anchor="middle" fill="#3a3a3a" dominant-baseline="central" >Distance from plaque (µm)</text>
<path d="M392.14,674.40 L399.98,591.69 L407.82,574.25 L415.66,590.10 L423.50,594.87 L431.34,598.37 L439.18,599.32 L447.02,599.64 L454.86,599.64 L462.70,599.83 L470.54,600.91 L478.38,604.41 L486.22,607.59 L494.06,611.73 L501.90,616.18 L509.74,620.32 L517.58,623.18 L525.42,626.36 L533.26,629.54 L541.10,633.68 L541.10,640.36 L533.26,636.54 L525.42,633.36 L517.58,630.18 L509.74,627.95 L501.90,625.09 L494.06,621.27 L486.22,618.09 L478.38,615.87 L470.54,613.96 L462.70,611.92 L454.86,613.64 L447.02,614.91 L439.18,615.55 L431.34,611.73 L423.50,608.87 L415.66,605.68 L407.82,595.89 L399.98,608.87 L392.14,674.40 Z" fill="#e8535c" stroke="none"/>
<path d="M392.14,674.40 L399.98,601.87 L407.82,584.43 L415.66,597.73 L423.50,601.87 L431.34,604.73 L439.18,607.28 L447.02,607.28 L454.86,606.96 L462.70,606.19 L470.54,606.96 L478.38,610.14 L486.22,613.00 L494.06,616.50 L501.90,620.64 L509.74,624.14 L517.58,626.68 L525.42,629.86 L533.26,633.04 L541.10,636.86" fill="none" stroke="#c73a45" stroke-width="0.7"/>
<path d="M392.14,674.40 L399.98,635.59 L407.82,631.13 L415.66,641.95 L423.50,645.77 L431.34,649.90 L439.18,650.22 L447.02,650.54 L454.86,649.90 L462.70,649.78 L470.54,649.90 L478.38,651.18 L486.22,652.45 L494.06,652.77 L501.90,652.45 L509.74,653.72 L517.58,655.63 L525.42,657.22 L533.26,657.86 L541.10,658.05 L541.10,666.64 L533.26,665.81 L525.42,665.49 L517.58,664.86 L509.74,663.90 L501.90,663.27 L494.06,662.95 L486.22,662.63 L478.38,661.99 L470.54,661.67 L462.70,662.18 L454.86,661.99 L447.02,661.99 L439.18,661.99 L431.34,661.99 L423.50,659.77 L415.66,657.86 L407.82,652.77 L399.98,654.68 L392.14,674.40 Z" fill="#3a6fb6" stroke="none"/>
<path d="M392.14,674.40 L399.98,645.13 L407.82,643.54 L415.66,649.90 L423.50,652.77 L431.34,655.31 L439.18,655.95 L447.02,655.95 L454.86,655.63 L462.70,655.19 L470.54,654.99 L478.38,655.95 L486.22,656.90 L494.06,657.54 L501.90,657.86 L509.74,658.81 L517.58,660.08 L525.42,661.04 L533.26,661.67 L541.10,662.18" fill="none" stroke="#2c5a9e" stroke-width="0.7"/>
<line x1="479.00" y1="567.00" x2="487.00" y2="567.00" stroke="#ef7a80" stroke-width="1.0" />
<line x1="479.00" y1="580.50" x2="487.00" y2="580.50" stroke="#5a86c4" stroke-width="1.0" />
<text x="491.50" y="567.00" font-size="7.4" text-anchor="start" fill="#333" dominant-baseline="central" >4s2/FAD</text>
<text x="491.50" y="580.50" font-size="7.4" text-anchor="start" fill="#333" dominant-baseline="central">4s2<tspan font-size="4.07" dy="-3.11">Λ</tspan><tspan dy="3.11">/FAD</tspan></text>
<text x="354.80" y="623.50" font-size="9.18" text-anchor="middle" fill="#333" dominant-baseline="central" transform="rotate(-90 354.80 623.50)" textLength="66.6" lengthAdjust="spacingAndGlyphs">IBA1<tspan font-size="4.5" dy="-3">+</tspan><tspan dy="3"> area (units)</tspan></text>
<g clip-path="url(#cp1)">
<rect x="25.80" y="12.00" width="97.70" height="96.20" fill="#1c060b" stroke="none" stroke-width="0.6" />
<ellipse cx="104.0" cy="89.0" rx="24.4" ry="28.9" fill="#2e0a12" fill-opacity="0.7" filter="url(#bl4)"/>
<ellipse cx="50.2" cy="93.8" rx="19.5" ry="19.2" fill="#0c1420" fill-opacity="0.6" filter="url(#bl4)"/>
<path d="M53.2,56.3 C53.5,52.1 54.6,41.2 59.0,37.0 C63.4,32.8 72.9,31.4 79.5,31.2 C86.2,31.1 92.9,32.0 99.1,36.0 C105.3,40.1 114.2,51.0 116.7,55.3 C119.1,59.6 119.1,60.9 113.7,62.0 C108.4,63.1 93.9,62.0 84.4,62.0 C75.0,62.0 62.3,63.0 57.1,62.0 C51.9,61.1 52.8,60.4 53.2,56.3 Z" fill="#0e0306" fill-opacity="0.85" filter="url(#bl2)"/>
<path d="M70.0 65.9h0M50.9 91.2h0M39.1 19.0h0M78.1 15.5h0M81.4 63.3h0M40.3 78.5h0M122.2 102.4h0M86.7 78.3h0M52.6 52.4h0M98.4 99.3h0M49.7 100.9h0M67.8 104.6h0M38.7 58.6h0M73.1 97.9h0M41.7 61.0h0M91.2 54.0h0M71.2 71.2h0M78.5 50.3h0M45.5 14.9h0" stroke="#4a0c16" stroke-width="1.50" stroke-opacity="1.0" stroke-linecap="round"/><path d="M44.4 89.3h0M55.4 20.7h0M26.9 56.7h0M50.1 16.5h0M61.2 97.7h0M115.3 57.3h0M78.8 68.4h0M49.1 23.0h0M120.4 76.7h0M62.7 20.6h0M114.8 102.2h0M112.5 100.0h0M38.6 83.3h0M27.6 43.8h0M70.0 82.2h0M110.9 47.5h0M87.9 79.1h0M73.0 15.1h0M91.1 64.7h0M65.1 57.7h0M112.3 41.8h0M46.5 71.3h0M81.3 23.0h0M43.9 15.7h0M102.4 33.0h0M78.9 82.6h0M107.4 108.2h0M112.2 67.9h0M104.0 74.6h0M31.8 25.8h0M95.6 16.3h0M101.3 55.8h0M48.0 34.0h0M77.4 59.6h0M47.7 27.9h0" stroke="#300810" stroke-width="1.50" stroke-opacity="0.75" stroke-linecap="round"/><path d="M64.5 55.6h0M86.2 16.4h0M64.4 91.7h0M48.5 41.0h0M59.2 101.5h0" stroke="#300810" stroke-width="1.20" stroke-opacity="0.5" stroke-linecap="round"/><path d="M77.4 17.7h0M38.9 45.7h0M44.4 86.0h0M92.7 31.2h0M31.8 51.5h0M54.9 52.8h0M49.6 32.5h0M116.2 94.6h0M68.3 74.9h0M114.2 93.4h0M78.9 68.1h0M110.5 88.8h0" stroke="#3a0a12" stroke-width="1.50" stroke-opacity="1.0" stroke-linecap="round"/><path d="M57.7 68.9h0M82.6 54.4h0M81.5 41.7h0M104.9 18.2h0M26.3 48.3h0M44.3 18.8h0M105.0 99.5h0M61.3 50.1h0M110.1 50.4h0M77.3 61.6h0M26.9 57.5h0M98.9 64.3h0M85.7 42.6h0M45.8 44.0h0M106.4 39.8h0M102.7 50.8h0M98.7 66.5h0M49.8 38.8h0M77.1 37.5h0M121.2 70.9h0M47.1 27.4h0M114.9 97.1h0M113.5 15.0h0M69.7 105.0h0M79.2 93.7h0M52.5 50.5h0M26.8 32.2h0M31.3 95.7h0M113.9 18.9h0M37.3 23.9h0M123.5 75.1h0M74.4 91.9h0M38.0 66.6h0M69.9 65.7h0M120.0 51.8h0M75.8 58.3h0M97.2 67.3h0M122.3 51.8h0M75.0 53.0h0M52.0 88.7h0M81.5 70.6h0M85.8 65.3h0M56.1 94.9h0M113.3 68.9h0" stroke="#3a0a12" stroke-width="1.50" stroke-opacity="0.75" stroke-linecap="round"/><path d="M90.5 56.0h0M63.2 62.0h0M71.1 74.7h0M49.2 103.6h0M107.7 19.2h0M114.3 43.0h0M111.8 16.8h0M62.8 35.9h0M74.9 50.8h0M89.7 97.3h0M32.4 14.9h0M118.6 59.3h0M88.7 77.0h0M34.6 60.2h0" stroke="#300810" stroke-width="1.80" stroke-opacity="1.0" stroke-linecap="round"/><path d="M95.0 42.3h0M30.0 27.1h0M41.0 100.5h0M42.0 69.5h0M43.5 24.3h0M60.3 35.7h0M118.4 26.9h0M80.9 35.6h0" stroke="#4a0c16" stroke-width="0.90" stroke-opacity="0.75" stroke-linecap="round"/><path d="M36.3 22.4h0M98.4 27.4h0M66.8 86.8h0M79.0 75.2h0M90.5 97.1h0M100.6 81.6h0M104.5 32.0h0M43.2 61.4h0M110.4 49.3h0M56.7 76.5h0M90.0 18.9h0M50.8 33.1h0M118.3 19.8h0" stroke="#3a0a12" stroke-width="1.80" stroke-opacity="1.0" stroke-linecap="round"/><path d="M25.9 32.2h0M67.0 22.0h0M37.1 36.7h0M116.9 81.5h0M64.7 68.0h0M121.7 58.6h0M66.6 44.1h0M69.3 19.6h0M79.8 79.4h0M100.8 106.8h0M119.3 105.3h0M51.1 45.1h0M47.6 21.5h0M76.6 62.7h0M107.1 80.5h0M62.7 76.9h0M81.4 102.8h0M43.6 69.0h0M90.0 32.6h0M80.4 21.7h0" stroke="#4a0c16" stroke-width="1.20" stroke-opacity="1.0" stroke-linecap="round"/><path d="M66.8 66.5h0M44.4 82.4h0M40.1 54.5h0M86.6 24.2h0M87.1 41.9h0M86.9 48.8h0M68.8 96.7h0M77.3 39.9h0M94.3 96.5h0M41.4 31.7h0M112.5 24.9h0M68.3 102.5h0M100.2 106.3h0M69.1 60.6h0M50.3 99.1h0M108.5 21.6h0M61.3 25.4h0M52.3 77.9h0M47.5 38.8h0M102.8 20.1h0M109.4 93.2h0M101.1 44.9h0M31.1 81.8h0M57.5 18.0h0M86.7 17.2h0M98.6 15.8h0M55.9 55.0h0M98.8 58.4h0M73.7 101.5h0M74.2 57.5h0M41.4 71.8h0M61.6 76.3h0M100.6 106.4h0M91.7 38.1h0M50.3 99.5h0M56.3 18.4h0M98.3 32.3h0M77.1 13.0h0M117.4 91.8h0M32.8 37.6h0M75.3 102.6h0M117.0 49.3h0M35.3 72.2h0M92.8 25.5h0M92.2 60.2h0M60.8 28.6h0M115.7 64.2h0M60.4 60.0h0M50.0 20.9h0M80.7 78.2h0M94.7 16.8h0M54.7 94.7h0M49.7 90.4h0M83.5 80.5h0M73.4 99.2h0" stroke="#300810" stroke-width="1.20" stroke-opacity="0.75" stroke-linecap="round"/><path d="M58.3 104.7h0M43.5 70.0h0M114.2 58.3h0M98.0 51.0h0M100.0 16.3h0M63.9 26.9h0M38.6 72.6h0M117.0 106.0h0M78.3 52.7h0M107.3 63.5h0M47.9 40.1h0M82.5 84.9h0M64.9 17.0h0M28.2 44.9h0M104.0 34.6h0M82.5 35.2h0M78.7 107.9h0M73.9 63.3h0" stroke="#3a0a12" stroke-width="1.20" stroke-opacity="1.0" stroke-linecap="round"/><path d="M122.5 12.0h0M56.1 20.4h0M49.4 50.9h0M114.4 36.7h0M104.1 66.1h0M92.7 13.7h0M56.1 99.6h0M28.3 74.9h0M62.6 80.3h0M74.9 50.2h0M43.4 33.7h0M113.5 71.8h0M85.3 89.6h0M94.8 37.0h0M115.6 32.8h0M114.9 38.2h0M98.0 78.7h0M27.8 28.8h0M81.1 45.6h0M44.6 78.7h0M27.3 86.1h0M35.3 78.1h0M107.4 81.4h0M109.8 32.3h0M74.0 76.3h0M110.7 92.4h0" stroke="#300810" stroke-width="1.20" stroke-opacity="1.0" stroke-linecap="round"/><path d="M46.4 49.9h0M66.8 14.8h0" stroke="#300810" stroke-width="1.50" stroke-opacity="0.5" stroke-linecap="round"/><path d="M33.0 20.7h0M116.6 75.8h0M67.8 57.9h0M115.4 20.7h0M68.8 62.8h0M44.9 47.3h0" stroke="#3a0a12" stroke-width="0.90" stroke-opacity="0.75" stroke-linecap="round"/><path d="M98.0 102.5h0M109.4 64.1h0M95.2 89.2h0M44.2 48.2h0M117.5 43.8h0M112.4 19.0h0M78.2 95.3h0M61.5 21.7h0M123.2 67.0h0M54.2 92.9h0M113.5 105.9h0M34.6 48.5h0M57.0 74.3h0" stroke="#4a0c16" stroke-width="1.80" stroke-opacity="0.75" stroke-linecap="round"/><path d="M121.3 24.2h0M45.6 28.3h0M115.1 96.7h0M74.7 107.9h0M78.3 88.1h0M57.4 20.2h0M122.4 43.3h0M74.6 29.3h0M47.1 21.9h0M57.7 44.1h0M110.5 54.5h0M61.7 44.1h0M42.1 74.4h0M118.7 81.1h0M40.7 49.5h0M85.4 69.3h0M103.0 48.5h0M49.0 79.5h0M56.4 65.4h0M93.2 54.9h0M66.4 72.5h0" stroke="#300810" stroke-width="1.80" stroke-opacity="0.75" stroke-linecap="round"/><path d="M53.2 100.3h0M120.4 62.4h0M122.6 101.2h0M84.5 13.3h0M86.8 55.8h0M69.2 83.9h0M120.4 82.2h0M96.5 43.9h0M81.2 14.6h0M114.4 71.2h0M102.9 96.9h0M118.8 28.7h0M120.6 17.1h0M38.3 84.7h0M108.2 48.7h0M31.2 49.9h0M41.7 95.3h0M68.7 95.7h0M73.5 23.6h0M36.3 54.4h0M83.5 64.5h0M111.1 76.3h0M109.8 102.9h0M80.6 105.7h0M55.2 104.9h0M107.9 32.2h0M76.2 84.5h0M58.6 72.2h0M114.7 55.8h0M76.5 104.3h0M121.0 99.7h0M81.9 72.8h0M103.7 80.5h0M29.6 97.0h0M48.8 57.6h0M45.8 53.9h0M102.1 43.2h0M77.9 87.9h0" stroke="#3a0a12" stroke-width="1.20" stroke-opacity="0.75" stroke-linecap="round"/><path d="M118.3 68.7h0M52.8 28.3h0M116.1 23.9h0M103.7 41.0h0M41.2 27.1h0M70.9 101.7h0M105.2 18.7h0M31.1 43.2h0M62.4 81.6h0M26.5 69.1h0M115.1 25.8h0M28.4 63.3h0" stroke="#4a0c16" stroke-width="1.80" stroke-opacity="1.0" stroke-linecap="round"/><path d="M119.9 14.0h0M97.8 79.7h0M90.3 58.8h0M70.6 100.6h0M44.5 68.2h0M93.7 85.8h0M30.6 38.3h0M89.7 67.9h0M54.7 14.1h0M73.6 99.3h0M41.7 73.1h0M104.0 42.1h0M74.1 103.1h0M55.7 56.9h0M29.0 62.8h0M107.7 94.3h0M112.0 67.4h0M83.0 16.4h0M73.6 33.3h0M103.3 89.4h0M78.6 52.3h0M62.4 87.4h0M51.4 76.3h0M86.5 51.5h0M65.3 99.0h0M93.7 76.7h0M46.8 63.6h0M67.7 57.9h0M104.7 102.8h0M92.2 20.2h0M80.5 100.7h0M94.6 50.1h0M46.9 50.0h0M76.7 45.9h0M50.6 58.1h0M66.3 107.2h0M43.9 45.4h0M41.4 37.0h0M37.3 26.7h0M58.4 38.9h0M51.0 88.1h0M59.2 80.5h0M116.1 40.8h0M64.1 74.3h0" stroke="#4a0c16" stroke-width="1.20" stroke-opacity="0.75" stroke-linecap="round"/><path d="M113.8 95.8h0M95.9 69.2h0M101.1 12.1h0M83.7 20.7h0M62.6 76.4h0M50.5 30.1h0M107.3 81.7h0M99.4 98.3h0M54.0 52.0h0M105.9 87.8h0M117.1 84.4h0M57.1 82.7h0M72.8 78.0h0M61.7 81.9h0M64.0 57.1h0M115.0 17.8h0M50.8 77.5h0M71.1 98.6h0" stroke="#3a0a12" stroke-width="1.80" stroke-opacity="0.75" stroke-linecap="round"/><path d="M70.0 19.2h0M71.2 30.4h0M44.5 14.0h0" stroke="#300810" stroke-width="0.90" stroke-opacity="1.0" stroke-linecap="round"/><path d="M37.1 22.5h0M26.5 64.9h0M74.5 60.1h0M81.9 31.1h0M51.6 66.6h0M32.9 99.3h0M37.4 16.1h0M104.6 50.1h0M94.2 93.3h0M39.9 66.3h0M93.6 84.9h0M85.9 29.7h0M68.1 17.0h0M79.0 96.7h0" stroke="#300810" stroke-width="1.50" stroke-opacity="1.0" stroke-linecap="round"/><path d="M33.9 54.4h0M51.2 16.9h0M120.6 57.6h0M64.4 20.1h0" stroke="#4a0c16" stroke-width="1.50" stroke-opacity="0.5" stroke-linecap="round"/><path d="M38.2 53.7h0M44.8 33.9h0M61.1 79.8h0M33.4 21.3h0M77.3 69.5h0M93.6 39.2h0M115.0 54.1h0M54.3 105.3h0M52.2 80.9h0M117.4 84.1h0M100.7 98.9h0M80.5 37.4h0M52.1 81.3h0M27.6 29.5h0M69.8 94.2h0M38.3 32.1h0M66.9 80.0h0M93.6 88.1h0M58.7 25.4h0M96.6 60.7h0M71.4 92.5h0M93.4 82.8h0M56.2 63.1h0M27.2 91.2h0M63.8 67.2h0M73.7 59.1h0M41.7 30.3h0M88.2 41.5h0M52.6 62.2h0M117.1 77.1h0M119.7 14.3h0M106.7 48.6h0M52.0 22.9h0M49.7 90.6h0M107.4 19.2h0M104.5 98.7h0" stroke="#4a0c16" stroke-width="1.50" stroke-opacity="0.75" stroke-linecap="round"/><path d="M29.7 17.8h0" stroke="#4a0c16" stroke-width="0.90" stroke-opacity="0.5" stroke-linecap="round"/><path d="M80.9 58.6h0M93.5 17.7h0" stroke="#4a0c16" stroke-width="1.80" stroke-opacity="0.5" stroke-linecap="round"/><path d="M111.9 39.1h0M97.8 48.2h0M70.8 63.0h0M105.2 107.2h0" stroke="#300810" stroke-width="0.90" stroke-opacity="0.75" stroke-linecap="round"/><path d="M91.0 77.0h0M36.2 57.7h0M85.5 31.9h0M46.9 96.9h0" stroke="#3a0a12" stroke-width="1.50" stroke-opacity="0.5" stroke-linecap="round"/><path d="M92.3 34.6h0" stroke="#300810" stroke-width="1.80" stroke-opacity="0.5" stroke-linecap="round"/><path d="M107.0 105.2h0M76.1 15.1h0M89.1 78.0h0M71.5 39.8h0" stroke="#4a0c16" stroke-width="1.20" stroke-opacity="0.5" stroke-linecap="round"/><path d="M87.5 50.2h0" stroke="#3a0a12" stroke-width="0.90" stroke-opacity="1.0" stroke-linecap="round"/><path d="M59.7 27.0h0M83.2 42.4h0" stroke="#3a0a12" stroke-width="1.20" stroke-opacity="0.5" stroke-linecap="round"/><path d="M56.4 82.9h0" stroke="#4a0c16" stroke-width="0.90" stroke-opacity="1.0" stroke-linecap="round"/>
<path d="M47.3,89.0 C47.9,84.2 48.9,68.8 51.2,60.1 C53.5,51.4 56.2,42.6 61.0,37.0 C65.7,31.4 72.7,28.0 79.5,26.4 C86.4,24.8 94.4,26.3 102.0,27.4 C109.7,28.5 121.5,32.2 125.5,33.2" fill="none" stroke="#2d5a78" stroke-width="5" stroke-opacity="0.5" stroke-linecap="round" stroke-linejoin="round" filter="url(#bl1)"/>
<path d="M29.7,79.3 C30.0,75.3 30.4,63.3 31.7,55.3 C33.0,47.3 35.2,37.7 37.5,31.2 C39.8,24.8 44.0,19.2 45.3,16.8" fill="none" stroke="#2a4d68" stroke-width="3.5" stroke-opacity="0.45" stroke-linecap="round" stroke-linejoin="round" filter="url(#bl2)"/>
<path d="M49.7 66.8h0M81.9 27.0h0M103.4 26.8h0M111.2 33.4h0M83.1 27.2h0M57.0 51.1h0M56.9 47.4h0M70.5 29.1h0M48.3 81.3h0" stroke="#50d0b0" stroke-width="0.90" stroke-opacity="0.75" stroke-linecap="round"/><path d="M55.0 50.2h0M56.7 47.5h0M65.8 35.5h0M123.3 30.2h0M50.6 64.5h0M105.8 29.9h0" stroke="#50d0b0" stroke-width="0.90" stroke-opacity="1.0" stroke-linecap="round"/><path d="M48.0 88.0h0M50.1 58.9h0" stroke="#30a0c0" stroke-width="1.20" stroke-opacity="0.75" stroke-linecap="round"/><path d="M46.1 87.3h0M104.5 28.4h0M84.5 24.2h0M99.4 27.6h0M87.1 27.4h0M117.8 30.1h0" stroke="#50d0b0" stroke-width="0.90" stroke-opacity="0.5" stroke-linecap="round"/><path d="M78.3 27.5h0M54.9 49.6h0M60.2 41.8h0M110.8 29.9h0M48.2 81.1h0" stroke="#40c0d0" stroke-width="1.20" stroke-opacity="0.75" stroke-linecap="round"/><path d="M57.7 49.4h0M48.1 85.0h0M56.2 49.8h0M50.4 70.7h0M97.0 29.5h0M48.9 84.0h0" stroke="#40c0d0" stroke-width="0.60" stroke-opacity="0.75" stroke-linecap="round"/><path d="M57.7 39.0h0M69.3 32.0h0M50.6 55.9h0M61.4 40.5h0M115.1 32.2h0M49.2 65.8h0M96.7 25.9h0M101.9 30.6h0" stroke="#30a0c0" stroke-width="0.90" stroke-opacity="0.5" stroke-linecap="round"/><path d="M54.8 58.9h0M77.8 27.6h0M114.1 29.2h0M89.3 27.6h0" stroke="#50d0b0" stroke-width="1.20" stroke-opacity="1.0" stroke-linecap="round"/><path d="M104.4 29.0h0M51.4 55.8h0M120.4 32.9h0M103.8 29.8h0" stroke="#40c0d0" stroke-width="0.90" stroke-opacity="0.5" stroke-linecap="round"/><path d="M106.8 29.9h0M104.5 25.8h0M47.9 77.1h0M51.1 69.2h0M47.2 76.7h0M81.2 28.8h0" stroke="#30a0c0" stroke-width="0.90" stroke-opacity="0.75" stroke-linecap="round"/><path d="M105.5 28.0h0M64.3 35.8h0M96.2 27.5h0" stroke="#50d0b0" stroke-width="0.60" stroke-opacity="1.0" stroke-linecap="round"/><path d="M49.6 74.0h0M60.1 40.5h0M47.1 83.0h0M50.2 68.7h0M118.5 32.0h0" stroke="#30a0c0" stroke-width="0.90" stroke-opacity="1.0" stroke-linecap="round"/><path d="M53.7 53.6h0M80.7 24.7h0M116.2 30.2h0M50.0 74.9h0" stroke="#50d0b0" stroke-width="0.60" stroke-opacity="0.75" stroke-linecap="round"/><path d="M65.6 36.3h0M55.0 43.5h0M100.8 28.0h0" stroke="#40c0d0" stroke-width="0.90" stroke-opacity="1.0" stroke-linecap="round"/><path d="M58.2 44.6h0M60.6 41.0h0" stroke="#30a0c0" stroke-width="0.60" stroke-opacity="1.0" stroke-linecap="round"/><path d="M97.7 28.8h0M47.5 84.9h0" stroke="#50d0b0" stroke-width="1.20" stroke-opacity="0.75" stroke-linecap="round"/><path d="M62.4 35.0h0M51.6 61.0h0M58.7 41.4h0" stroke="#50d0b0" stroke-width="1.20" stroke-opacity="0.5" stroke-linecap="round"/><path d="M46.5 86.0h0" stroke="#40c0d0" stroke-width="0.60" stroke-opacity="0.5" stroke-linecap="round"/><path d="M59.2 38.0h0" stroke="#40c0d0" stroke-width="1.20" stroke-opacity="0.5" stroke-linecap="round"/><path d="M112.9 30.0h0M108.0 27.8h0M47.0 79.2h0" stroke="#40c0d0" stroke-width="0.90" stroke-opacity="0.75" stroke-linecap="round"/><path d="M87.8 25.7h0" stroke="#30a0c0" stroke-width="1.20" stroke-opacity="0.5" stroke-linecap="round"/><path d="M81.9 26.9h0M80.1 25.8h0" stroke="#40c0d0" stroke-width="1.20" stroke-opacity="1.0" stroke-linecap="round"/><path d="M71.1 33.0h0M50.1 62.8h0M93.8 28.5h0" stroke="#30a0c0" stroke-width="0.60" stroke-opacity="0.75" stroke-linecap="round"/><path d="M118.7 32.5h0" stroke="#30a0c0" stroke-width="1.20" stroke-opacity="1.0" stroke-linecap="round"/>
<path d="M55.1,52.4 C56.1,49.7 56.9,39.6 61.0,36.0 C65.0,32.5 74.0,31.6 79.5,31.2 C85.1,30.9 89.3,31.2 94.2,34.1 C99.1,37.0 104.9,44.7 108.8,48.6 C112.8,52.4 116.2,55.8 117.6,57.2" fill="none" stroke="#8a1020" stroke-width="0.9" stroke-opacity="0.9" stroke-linecap="round" stroke-linejoin="round"/>
<path d="M73.7,51.4 C75.8,51.0 81.7,47.9 86.4,48.6 C91.1,49.2 102.3,54.0 102.0,55.3 C101.7,56.6 88.2,55.9 84.4,56.3 C80.7,56.6 80.3,57.1 79.5,57.2" fill="none" stroke="#8a1020" stroke-width="0.9" stroke-opacity="0.9" stroke-linecap="round" stroke-linejoin="round"/>
<path d="M43.4,103.4 C45.3,96.8 49.9,70.7 55.1,63.9 C60.3,57.2 67.3,63.1 74.7,63.0 C82.0,62.8 91.7,63.1 99.1,63.0 C106.4,62.8 115.4,62.2 118.6,62.0" fill="none" stroke="#b07030" stroke-width="0.7" stroke-opacity="0.7" stroke-linecap="round" stroke-dasharray="0.1 1.6"/>
<ellipse cx="39.5" cy="72.4" rx="3.7" ry="12.5" fill="#000000" fill-opacity="1.0" transform="rotate(-8 39.5 72.4)"/>
<path d="M35.3,64.2 C35.4,66.8 35.5,75.8 36.1,79.3 C36.6,82.9 37.6,84.4 38.8,85.6 C40.0,86.8 42.0,86.6 43.4,86.6 C44.8,86.6 46.4,86.7 47.4,85.6 C48.4,84.5 49.2,80.9 49.5,79.9" fill="none" stroke="#c89048" stroke-width="0.9" stroke-opacity="0.75" stroke-linecap="round" stroke-linejoin="round"/>
<path d="M37.9 54.9h0M32.8 75.9h0M63.1 23.8h0M71.0 101.3h0M43.1 88.9h0M103.1 105.9h0M34.8 21.7h0M66.2 18.6h0M77.2 37.7h0M79.8 58.2h0M78.7 73.8h0M42.2 107.7h0M85.5 102.4h0M73.0 79.9h0M46.0 34.5h0M107.1 67.9h0M30.2 108.1h0M57.3 101.7h0M36.9 87.8h0M64.4 73.8h0M48.0 87.4h0M95.6 78.1h0M77.9 69.3h0M50.0 86.7h0M113.8 37.7h0M43.5 81.8h0M68.2 98.5h0M26.0 25.6h0M112.7 89.3h0" stroke="#20a070" stroke-width="0.90" stroke-opacity="0.5" stroke-linecap="round"/><path d="M38.8 42.0h0M42.9 88.7h0M117.7 17.9h0M30.9 31.2h0M80.4 23.1h0M123.0 55.6h0M70.3 79.8h0M33.0 108.1h0M58.0 91.3h0M32.6 19.3h0M32.8 87.7h0M53.4 32.4h0M105.2 90.0h0M47.6 76.8h0M94.0 16.6h0M71.8 91.3h0M50.3 73.7h0M56.1 30.9h0M60.2 22.0h0" stroke="#20a070" stroke-width="1.20" stroke-opacity="1.0" stroke-linecap="round"/><path d="M88.7 70.3h0M86.8 70.2h0M69.1 32.1h0M67.9 77.8h0M119.1 77.3h0M55.2 47.4h0M89.7 101.2h0M47.7 24.5h0M62.8 67.3h0M32.4 25.7h0M46.5 86.3h0M91.8 97.7h0M65.5 87.5h0M42.4 59.1h0M61.3 39.4h0M42.1 61.7h0M65.2 107.0h0M43.6 48.6h0M85.0 103.0h0M82.8 89.8h0M47.2 17.4h0M47.7 42.3h0M64.2 104.7h0M67.0 92.5h0M26.2 29.7h0M59.4 105.5h0M121.6 70.1h0M105.7 39.2h0M51.1 92.1h0" stroke="#50d080" stroke-width="0.90" stroke-opacity="0.5" stroke-linecap="round"/><path d="M34.7 32.1h0M70.6 18.1h0M89.1 94.2h0M56.4 90.5h0M61.7 19.3h0M36.7 14.5h0M43.4 56.9h0M35.5 32.2h0M95.1 35.5h0M49.7 33.0h0M97.3 18.5h0M69.8 106.9h0M78.2 71.1h0M85.8 28.9h0M51.5 93.7h0M42.7 18.4h0M84.3 81.6h0M83.4 62.0h0M63.1 75.9h0M34.8 64.7h0M66.1 73.2h0M26.9 15.3h0M48.5 22.7h0M47.6 22.8h0M25.9 23.2h0M90.6 80.1h0M113.3 28.0h0M110.4 87.7h0M63.0 94.7h0M53.2 27.0h0M51.2 20.8h0" stroke="#30c890" stroke-width="1.20" stroke-opacity="0.5" stroke-linecap="round"/><path d="M114.3 67.8h0M36.5 16.2h0M56.2 26.8h0M50.6 30.1h0M112.0 22.3h0M57.7 12.0h0M54.1 81.5h0M58.1 83.4h0M31.6 40.0h0M95.2 79.1h0M52.3 13.7h0M58.7 86.1h0M72.7 20.3h0M64.5 77.6h0M61.6 97.3h0M60.2 20.2h0M100.4 70.3h0M50.3 13.3h0M65.0 103.7h0M79.5 87.6h0M77.0 67.7h0M30.5 38.0h0M61.2 70.7h0M74.1 75.4h0M59.5 95.1h0M56.4 42.0h0M79.0 79.3h0M95.5 58.5h0M36.8 58.9h0M68.5 38.8h0M43.1 98.6h0M113.2 35.3h0M62.6 64.5h0M77.4 40.4h0M83.2 95.2h0M35.7 13.9h0M89.6 80.4h0M67.0 95.9h0M48.4 30.8h0" stroke="#50d080" stroke-width="1.20" stroke-opacity="0.75" stroke-linecap="round"/><path d="M57.5 73.5h0M30.2 85.7h0M35.1 91.9h0M63.9 74.6h0M113.9 44.8h0M73.7 94.0h0M109.1 25.3h0M92.4 64.3h0M77.5 71.8h0M68.6 70.8h0M40.9 21.1h0M83.6 92.4h0M66.2 79.7h0M95.2 72.2h0M115.8 34.4h0" stroke="#38d0b0" stroke-width="0.60" stroke-opacity="0.75" stroke-linecap="round"/><path d="M37.1 15.6h0M90.6 97.3h0M47.6 54.2h0M115.8 107.0h0M85.5 47.6h0M66.8 19.4h0M49.9 92.8h0M102.8 67.3h0M83.0 75.3h0M27.9 26.0h0M118.2 21.7h0M99.0 50.9h0M38.7 19.7h0M69.6 30.7h0M54.5 106.6h0M48.4 19.1h0" stroke="#2aa0a0" stroke-width="1.20" stroke-opacity="1.0" stroke-linecap="round"/><path d="M107.5 92.6h0M82.1 83.6h0M44.9 63.1h0M40.4 36.3h0M48.6 34.9h0M115.8 13.0h0M57.2 68.9h0M116.8 43.2h0M118.1 31.5h0M100.6 24.9h0M95.0 19.0h0M50.0 83.2h0M26.4 40.0h0M42.2 86.9h0M60.6 63.5h0M120.4 18.6h0M112.1 31.2h0M53.9 60.3h0M81.5 19.5h0M43.1 24.7h0M119.9 28.7h0M68.5 25.7h0M71.1 98.0h0M47.0 72.0h0M40.2 25.3h0M41.3 33.0h0M78.7 12.0h0M26.0 47.0h0M102.9 17.7h0M32.2 40.1h0M123.2 62.7h0M60.6 86.6h0M64.7 31.6h0M82.2 21.2h0M106.7 102.1h0M76.9 102.5h0M61.8 17.3h0M60.1 78.6h0M58.2 68.8h0M62.6 73.4h0M26.0 23.0h0" stroke="#30c890" stroke-width="0.90" stroke-opacity="0.75" stroke-linecap="round"/><path d="M109.3 31.2h0M123.4 43.6h0M72.7 70.9h0M50.8 94.8h0M65.4 86.3h0M43.2 60.5h0M55.5 33.5h0M122.6 106.4h0M27.5 14.6h0M114.7 23.0h0M69.8 79.5h0M53.0 80.6h0M72.5 33.5h0M50.3 80.0h0M85.0 79.8h0M77.1 67.3h0M108.6 40.4h0M86.5 63.2h0M117.7 78.9h0M56.2 82.9h0M51.3 101.2h0M92.5 14.0h0M50.1 84.0h0M86.6 67.1h0M102.8 72.9h0M62.9 98.4h0M55.9 55.4h0M37.9 59.0h0M53.9 50.4h0M68.6 65.8h0M79.7 77.5h0M55.0 27.3h0M45.5 95.1h0M104.4 107.9h0M109.3 35.1h0M70.9 75.9h0M67.8 81.9h0M36.0 95.1h0M118.3 19.6h0M62.8 81.7h0" stroke="#2aa0a0" stroke-width="0.90" stroke-opacity="0.75" stroke-linecap="round"/><path d="M69.9 77.5h0M48.1 25.6h0M49.5 74.7h0M93.9 70.9h0M119.5 29.7h0" stroke="#30c890" stroke-width="0.60" stroke-opacity="1.0" stroke-linecap="round"/><path d="M115.6 92.4h0M51.2 16.5h0M116.1 58.5h0M89.0 26.1h0M30.4 50.6h0M93.8 71.3h0M116.6 67.0h0M52.3 103.5h0M74.3 65.6h0M48.7 104.3h0M103.2 58.9h0M75.6 76.7h0M62.6 16.4h0M52.2 31.5h0M38.3 107.2h0M80.3 87.5h0M46.2 82.3h0M58.2 93.2h0M114.8 90.4h0M67.7 96.3h0M54.5 101.8h0M120.4 22.1h0M99.1 72.9h0M64.9 104.7h0M29.7 22.0h0M116.7 68.5h0M59.6 26.2h0M48.8 81.7h0M99.4 73.1h0M92.0 93.4h0M53.6 89.8h0M120.7 43.4h0M49.6 25.4h0" stroke="#2aa0a0" stroke-width="1.20" stroke-opacity="0.75" stroke-linecap="round"/><path d="M38.9 89.4h0M25.9 88.3h0M52.8 92.8h0M43.3 80.9h0M47.3 46.0h0M114.6 32.9h0M55.1 27.6h0M104.4 38.7h0M109.8 98.2h0M55.5 107.4h0M77.1 96.3h0M49.0 83.5h0M36.6 62.7h0M56.7 67.3h0M86.4 67.7h0M65.3 27.5h0M40.5 50.3h0M78.7 74.5h0M101.1 73.6h0M54.6 16.0h0M42.6 82.1h0M83.1 14.5h0M66.8 68.3h0M67.9 85.8h0M99.8 26.6h0M34.1 45.7h0M46.8 103.5h0M39.2 103.5h0M61.3 12.4h0M55.4 44.9h0M118.3 24.2h0M73.4 25.9h0M61.4 95.2h0M35.4 69.0h0M63.0 14.3h0M109.7 93.7h0M38.0 93.9h0M51.0 25.7h0M52.6 18.3h0M47.9 92.5h0M100.5 19.1h0M61.1 19.8h0M76.4 102.1h0M94.3 105.6h0M44.9 104.6h0" stroke="#20a070" stroke-width="0.90" stroke-opacity="0.75" stroke-linecap="round"/><path d="M71.4 58.6h0M85.5 79.1h0M32.2 56.4h0M36.1 19.4h0M74.2 107.8h0M66.0 29.2h0M110.2 28.6h0M48.8 27.9h0M113.4 45.2h0M45.9 53.1h0M84.5 56.6h0M57.4 66.8h0M43.8 89.1h0M44.9 85.6h0M104.0 28.5h0M72.1 72.2h0M111.5 16.9h0M37.0 31.5h0M27.1 100.2h0M62.5 70.2h0M69.1 70.9h0M36.1 25.0h0M68.0 27.3h0M97.8 34.5h0M51.3 83.1h0M57.4 15.4h0M69.4 77.9h0M55.8 21.9h0M48.0 98.4h0M40.0 18.8h0M71.5 75.4h0M48.5 100.1h0M54.5 107.5h0" stroke="#2aa0a0" stroke-width="0.90" stroke-opacity="0.5" stroke-linecap="round"/><path d="M85.6 47.0h0M47.6 31.1h0M91.3 102.5h0M69.1 77.3h0M26.4 51.6h0M57.4 67.5h0M102.7 16.0h0M99.1 18.6h0M70.4 24.7h0M108.9 64.5h0M30.8 86.9h0M43.4 95.1h0M90.5 89.3h0M72.2 92.5h0M50.5 30.5h0M36.5 18.3h0M120.9 20.0h0M37.7 92.3h0M53.3 31.1h0M51.7 28.9h0M35.0 55.7h0M117.8 22.0h0" stroke="#50d080" stroke-width="0.90" stroke-opacity="1.0" stroke-linecap="round"/><path d="M64.6 13.1h0M46.2 83.7h0M68.8 97.3h0M40.3 87.8h0M66.0 17.7h0M32.3 14.8h0M106.2 86.3h0M98.3 64.3h0M73.8 66.5h0M34.2 84.4h0M68.2 31.0h0M77.2 101.0h0M71.7 103.1h0M84.0 102.4h0M121.4 36.4h0M60.7 23.5h0M70.1 25.2h0M98.4 25.5h0M93.9 86.3h0M79.3 76.3h0M37.5 51.7h0" stroke="#50d080" stroke-width="0.60" stroke-opacity="0.75" stroke-linecap="round"/><path d="M83.9 95.4h0M103.9 30.7h0M65.7 31.1h0M116.5 90.3h0M85.8 29.2h0M42.3 15.6h0M115.2 107.9h0M55.3 91.4h0M45.5 92.9h0M42.8 80.7h0M47.7 14.3h0M69.6 23.9h0M62.5 86.9h0M103.1 26.4h0M46.8 16.5h0M53.3 49.6h0M115.2 31.9h0M49.5 76.3h0M111.2 79.5h0" stroke="#30c890" stroke-width="0.90" stroke-opacity="0.5" stroke-linecap="round"/><path d="M35.2 91.9h0M28.5 79.3h0M81.9 12.1h0M92.7 72.6h0M51.7 95.0h0M108.3 97.8h0M65.7 83.2h0M57.8 13.0h0M64.9 24.5h0M95.5 12.8h0M74.7 103.2h0M123.5 83.0h0M52.4 87.5h0M99.4 33.9h0M40.6 96.8h0M75.8 20.8h0M70.6 92.6h0M57.7 82.5h0M112.5 23.5h0M53.3 93.0h0M73.3 80.2h0M63.2 35.0h0M72.5 29.1h0M82.4 98.8h0M68.4 97.3h0" stroke="#40b870" stroke-width="0.60" stroke-opacity="0.75" stroke-linecap="round"/><path d="M121.6 49.0h0M49.6 24.1h0M34.1 103.8h0M37.3 18.6h0M33.7 85.1h0M29.6 16.8h0M98.2 20.2h0M58.5 28.4h0M45.5 76.0h0M111.2 81.9h0" stroke="#20a070" stroke-width="0.60" stroke-opacity="0.5" stroke-linecap="round"/><path d="M59.9 86.2h0M60.4 19.9h0M29.8 34.9h0M36.1 98.7h0M52.3 32.0h0M74.4 106.9h0M32.1 36.7h0M106.6 62.6h0M60.8 26.1h0M76.6 12.9h0M33.6 39.1h0M109.0 42.6h0M45.3 63.2h0M122.8 28.4h0M92.8 93.4h0M27.7 91.8h0M38.3 87.7h0M123.5 27.9h0M64.1 105.1h0M35.2 30.0h0M41.8 98.3h0M101.1 16.2h0M28.9 29.1h0M104.2 34.4h0" stroke="#38d0b0" stroke-width="1.20" stroke-opacity="0.5" stroke-linecap="round"/><path d="M123.1 38.1h0M95.8 46.6h0M74.2 68.0h0M44.5 99.8h0M100.0 74.3h0M82.2 100.0h0M61.7 22.5h0M28.8 18.0h0M53.4 74.6h0M84.3 94.1h0M59.8 25.2h0" stroke="#30c890" stroke-width="0.60" stroke-opacity="0.5" stroke-linecap="round"/><path d="M77.8 21.9h0M104.9 56.8h0M26.5 25.3h0M68.4 32.6h0M43.6 70.8h0M54.5 21.1h0M61.8 83.7h0M38.6 53.5h0M81.2 96.1h0M72.0 33.0h0M51.9 88.4h0M76.1 95.2h0M57.4 27.4h0M72.1 99.8h0M66.0 106.6h0M108.6 26.2h0M64.9 25.1h0M66.5 88.3h0M37.4 40.8h0M67.9 82.5h0M123.3 69.4h0M26.3 24.9h0M67.0 93.1h0M113.5 23.1h0M38.4 14.8h0M89.0 15.2h0M50.7 79.3h0M39.4 91.7h0M71.1 102.0h0M97.4 70.2h0M35.9 12.7h0M58.3 98.5h0M113.7 93.3h0M51.1 12.3h0M112.9 15.4h0M46.1 104.8h0M79.0 91.7h0M33.5 86.6h0M89.7 78.7h0M116.5 23.4h0M98.3 80.9h0M48.6 106.9h0M41.7 39.0h0M75.4 104.4h0M112.7 30.2h0M64.1 106.7h0M36.5 99.1h0" stroke="#40b870" stroke-width="0.90" stroke-opacity="0.75" stroke-linecap="round"/><path d="M108.9 32.8h0M105.3 106.7h0M98.6 24.9h0M86.4 17.4h0M73.3 106.7h0M36.7 25.9h0M65.8 81.8h0M113.9 57.3h0M43.6 93.8h0M54.8 97.5h0M89.5 65.1h0" stroke="#20a070" stroke-width="0.60" stroke-opacity="1.0" stroke-linecap="round"/><path d="M55.0 24.0h0M93.4 101.0h0M40.2 32.2h0M64.8 75.6h0M74.5 101.4h0M64.5 26.7h0M41.4 24.0h0M85.2 26.2h0M115.0 46.7h0M83.7 104.3h0M35.4 106.6h0M78.3 93.9h0M84.3 79.0h0M42.4 64.1h0M45.3 57.1h0M63.7 24.0h0M32.0 15.8h0M95.4 13.1h0M80.9 104.5h0M59.9 22.2h0M97.4 43.8h0M34.3 67.1h0M27.2 80.2h0" stroke="#20a070" stroke-width="0.90" stroke-opacity="1.0" stroke-linecap="round"/><path d="M48.9 18.0h0M118.7 107.2h0M71.6 25.4h0M54.3 81.6h0M111.9 62.1h0M45.2 75.3h0M55.6 95.9h0M117.3 101.2h0M108.7 21.8h0M58.2 101.2h0M45.9 66.9h0M107.9 28.4h0M49.5 101.1h0M54.6 99.0h0M33.5 39.2h0M61.8 85.9h0M116.3 33.8h0M99.3 73.4h0M36.3 49.5h0M77.2 27.2h0M49.8 29.7h0M86.1 30.1h0M50.0 94.8h0M32.3 102.8h0M122.8 74.1h0" stroke="#40b870" stroke-width="0.60" stroke-opacity="0.5" stroke-linecap="round"/><path d="M88.6 25.2h0M98.4 90.0h0M45.2 84.2h0M93.2 105.7h0M97.8 98.2h0M105.6 25.1h0M60.7 102.4h0" stroke="#40b870" stroke-width="0.90" stroke-opacity="1.0" stroke-linecap="round"/><path d="M46.9 45.2h0M57.7 77.8h0M66.6 73.2h0M63.1 84.0h0M73.8 81.9h0M41.1 104.5h0M59.2 105.1h0M55.5 22.9h0M89.2 95.8h0M116.2 40.8h0M48.8 49.0h0M63.6 92.9h0M35.8 15.6h0M81.9 63.0h0M47.2 79.1h0M38.2 51.0h0M39.0 12.9h0M118.9 31.1h0M32.7 14.0h0M91.8 71.2h0" stroke="#2aa0a0" stroke-width="0.90" stroke-opacity="1.0" stroke-linecap="round"/><path d="M103.5 103.1h0M56.1 22.9h0M48.5 71.3h0M58.4 107.9h0M35.9 100.8h0M117.8 40.9h0M95.6 82.8h0M83.4 79.0h0M26.5 73.1h0M71.3 97.0h0M43.1 40.9h0M105.5 30.6h0M39.8 32.4h0M106.3 96.7h0M62.2 83.9h0M40.4 21.9h0M32.9 95.6h0M31.9 24.1h0M77.8 103.4h0M31.5 29.8h0M35.2 26.8h0M42.2 83.1h0M68.8 72.6h0M30.1 95.1h0M35.9 32.3h0M75.9 16.4h0M59.2 91.6h0M92.0 85.3h0M76.9 63.3h0M70.6 29.8h0M38.5 49.8h0M39.2 26.3h0M79.4 28.7h0M74.1 91.5h0M42.4 92.9h0M32.4 45.1h0" stroke="#40b870" stroke-width="0.90" stroke-opacity="0.5" stroke-linecap="round"/><path d="M28.0 45.4h0M79.0 102.5h0M114.6 66.5h0M43.1 25.8h0M79.3 82.9h0M53.6 98.5h0M26.8 41.1h0M44.5 40.8h0M44.6 26.3h0M51.9 29.6h0M73.9 88.6h0M114.5 22.6h0M74.8 85.2h0M100.9 31.2h0M122.0 19.5h0M58.8 97.7h0M46.7 104.2h0M119.4 51.7h0M54.2 85.0h0M39.4 87.6h0M111.4 20.5h0M81.9 93.6h0M66.4 79.1h0M97.7 63.4h0M119.5 69.8h0M120.6 44.5h0M48.7 43.6h0M113.8 104.7h0M80.5 101.7h0M100.3 37.9h0M72.7 59.3h0M119.0 13.4h0M85.0 96.4h0M92.5 27.9h0" stroke="#20a070" stroke-width="1.20" stroke-opacity="0.75" stroke-linecap="round"/><path d="M71.7 32.4h0M34.8 107.0h0M115.1 27.5h0M69.5 67.8h0M34.0 98.3h0M27.7 58.3h0M95.7 25.2h0M34.5 29.7h0M115.7 31.5h0M105.7 37.6h0M115.4 58.8h0M100.0 76.0h0M66.5 64.3h0M88.1 97.7h0M51.1 88.1h0M25.9 32.5h0M87.6 102.1h0" stroke="#30c890" stroke-width="1.20" stroke-opacity="1.0" stroke-linecap="round"/><path d="M40.8 13.5h0M49.6 103.6h0M86.6 72.4h0M68.4 14.4h0M59.7 59.5h0M47.8 82.3h0M59.2 98.3h0M69.1 45.8h0M59.2 90.9h0M64.1 105.5h0M65.5 16.1h0M104.9 29.5h0M63.9 87.3h0M61.6 32.8h0" stroke="#38d0b0" stroke-width="0.60" stroke-opacity="0.5" stroke-linecap="round"/><path d="M47.8 14.7h0M70.0 64.8h0M51.5 77.0h0M54.6 93.5h0M65.7 84.3h0M30.2 83.1h0M63.9 15.0h0M39.7 91.6h0M49.9 83.0h0M116.2 23.1h0M96.8 107.0h0M91.4 68.2h0" stroke="#2aa0a0" stroke-width="0.60" stroke-opacity="1.0" stroke-linecap="round"/><path d="M54.6 97.7h0M79.4 76.2h0M93.1 15.4h0M91.0 101.2h0M81.9 68.3h0M49.5 106.7h0M70.1 85.3h0M42.2 83.1h0M45.9 29.1h0M36.7 83.2h0M79.5 83.9h0M45.3 36.8h0M111.7 22.7h0M51.8 38.3h0M93.7 24.5h0M47.0 44.5h0M52.3 104.5h0M43.1 44.6h0M35.9 61.4h0M27.4 19.0h0M74.4 16.8h0M52.1 12.8h0M86.4 28.6h0M83.5 77.6h0M34.4 53.1h0M77.2 14.8h0M69.3 76.9h0M70.8 98.6h0M115.4 75.7h0M30.7 35.1h0M120.5 29.4h0M98.9 72.0h0M103.5 16.9h0M86.2 20.2h0M53.8 15.8h0M57.1 70.6h0M60.3 90.4h0M52.4 57.8h0M109.4 43.4h0" stroke="#30c890" stroke-width="1.20" stroke-opacity="0.75" stroke-linecap="round"/><path d="M74.0 97.8h0M34.4 62.2h0M48.2 23.0h0M111.5 39.0h0M65.2 36.0h0M70.2 86.1h0M47.8 24.5h0M80.5 94.5h0M74.0 77.3h0M111.0 52.3h0M61.4 32.1h0M55.9 102.3h0M122.0 51.1h0M109.0 59.2h0M63.3 83.4h0M33.6 101.7h0M105.9 67.9h0" stroke="#50d080" stroke-width="1.20" stroke-opacity="1.0" stroke-linecap="round"/><path d="M56.8 84.4h0M39.9 100.0h0M60.4 80.5h0M51.8 72.3h0M63.6 93.4h0M121.4 63.2h0M59.2 70.8h0M113.5 20.9h0M60.1 104.2h0M46.2 87.0h0M85.7 81.8h0M73.6 106.2h0M62.7 77.4h0M75.0 78.2h0M43.6 30.0h0M71.3 93.7h0M116.0 63.6h0M87.4 81.5h0M54.8 29.2h0M62.0 81.0h0M82.2 28.6h0M50.3 26.8h0M44.2 97.5h0M92.3 103.0h0M58.5 16.9h0M32.6 87.6h0M121.8 35.6h0M26.3 34.4h0M33.5 54.3h0M47.6 96.1h0M37.2 19.1h0M41.7 20.0h0M40.6 90.6h0M57.2 88.5h0M58.3 95.7h0" stroke="#38d0b0" stroke-width="1.20" stroke-opacity="0.75" stroke-linecap="round"/><path d="M54.9 14.6h0M42.2 16.0h0M43.9 90.7h0M60.4 95.3h0M52.4 38.2h0M102.4 38.7h0M101.2 101.7h0M72.0 29.6h0M47.7 38.8h0M101.4 28.0h0M75.0 94.8h0M45.9 64.1h0M94.6 29.4h0M67.8 93.9h0M85.0 82.9h0M57.5 105.8h0M61.5 102.4h0M66.7 71.2h0M66.0 30.6h0" stroke="#20a070" stroke-width="0.60" stroke-opacity="0.75" stroke-linecap="round"/><path d="M53.7 87.5h0M64.8 81.4h0M115.8 90.0h0M88.8 81.2h0M63.1 107.0h0M89.9 81.2h0M79.3 68.9h0M79.2 88.9h0M49.6 30.1h0M114.3 97.5h0M73.3 85.8h0M46.0 72.8h0M49.7 76.6h0M119.6 28.4h0M73.3 13.3h0M78.3 80.7h0M97.1 31.7h0M59.7 27.4h0M40.5 88.1h0M51.1 86.3h0M111.2 29.9h0M122.7 30.7h0M74.9 94.9h0M43.8 79.6h0M63.5 29.2h0M28.7 18.2h0M44.7 103.1h0" stroke="#2aa0a0" stroke-width="1.20" stroke-opacity="0.5" stroke-linecap="round"/><path d="M48.5 17.6h0M39.0 37.7h0M56.0 18.5h0M46.3 22.4h0M42.2 60.0h0M113.1 54.4h0M101.2 57.6h0M28.9 75.6h0M63.5 53.2h0M70.4 31.5h0M33.0 54.3h0M61.8 88.8h0M102.0 14.6h0M105.8 23.8h0M68.9 72.8h0M118.9 93.4h0M73.2 92.6h0M62.1 71.6h0M54.9 48.0h0M64.1 67.8h0M66.5 84.4h0M48.7 28.6h0M66.0 25.4h0M116.4 93.7h0M100.0 52.3h0M80.0 91.9h0" stroke="#30c890" stroke-width="0.60" stroke-opacity="0.75" stroke-linecap="round"/><path d="M35.9 24.3h0M85.9 91.9h0M45.9 46.2h0M75.1 36.1h0M50.7 86.2h0M44.5 87.3h0M79.8 92.9h0M86.4 91.0h0M69.7 53.6h0M48.4 79.8h0M49.3 63.3h0M76.6 85.5h0M93.7 96.6h0M122.0 45.8h0M61.0 104.5h0M36.8 13.3h0M37.5 18.9h0M36.4 107.4h0M85.2 97.0h0M77.3 68.2h0M46.4 94.5h0M70.7 89.2h0M93.5 92.4h0M86.5 101.4h0M59.0 28.2h0M86.7 72.8h0M66.2 29.4h0M67.1 98.5h0M106.1 27.5h0M49.6 30.0h0M71.6 32.3h0M46.1 32.3h0M60.1 97.0h0" stroke="#38d0b0" stroke-width="0.90" stroke-opacity="0.5" stroke-linecap="round"/><path d="M47.4 24.3h0M43.9 18.5h0M56.5 91.8h0M57.0 78.1h0M75.5 63.8h0M73.0 91.7h0M69.1 103.5h0M78.9 72.2h0M89.3 73.2h0M59.9 14.3h0M50.7 91.7h0M84.1 24.2h0M28.7 54.4h0M74.1 27.1h0M88.5 80.6h0M40.5 95.4h0M63.2 77.9h0M62.9 78.8h0M118.4 87.5h0M88.9 83.6h0M29.4 63.4h0M68.9 84.7h0M88.1 89.0h0M105.7 22.8h0M107.7 57.8h0M109.2 93.0h0M50.8 24.4h0M58.6 97.2h0" stroke="#40b870" stroke-width="1.20" stroke-opacity="0.75" stroke-linecap="round"/><path d="M79.5 70.4h0M63.2 91.6h0M37.2 14.0h0M38.7 31.9h0M56.0 88.7h0M41.8 22.8h0M60.5 105.8h0M76.6 68.7h0M81.1 76.7h0M47.7 26.1h0M48.9 31.9h0M28.5 24.4h0M39.9 36.4h0M51.4 51.1h0M82.7 28.4h0M53.0 67.5h0" stroke="#38d0b0" stroke-width="0.60" stroke-opacity="1.0" stroke-linecap="round"/><path d="M53.3 89.9h0M72.6 48.5h0M61.4 93.5h0M92.0 34.0h0M27.3 26.3h0M112.1 27.7h0M88.2 14.2h0M121.4 32.9h0M93.6 65.6h0M45.2 81.3h0M52.7 32.8h0M77.8 79.0h0M89.9 75.9h0M61.3 99.7h0M113.4 100.9h0M108.1 26.4h0M67.9 90.0h0M38.6 91.1h0M31.5 91.7h0M54.2 93.6h0M32.6 68.4h0M44.6 96.1h0M104.6 102.3h0M70.9 25.9h0M122.2 48.0h0M45.6 21.9h0M112.4 85.9h0M88.3 100.3h0M120.1 14.2h0M115.7 49.4h0M68.9 84.6h0M41.6 42.6h0M77.0 107.3h0" stroke="#40b870" stroke-width="1.20" stroke-opacity="0.5" stroke-linecap="round"/><path d="M94.5 91.0h0M52.3 98.2h0M114.4 17.3h0M28.9 23.1h0M53.1 74.3h0M52.4 99.0h0M39.3 14.0h0M59.3 24.4h0M83.5 21.9h0M54.0 31.0h0M75.9 25.5h0M79.2 98.4h0M91.1 75.3h0M105.7 55.0h0M84.8 93.7h0M64.2 20.1h0M66.6 100.8h0M113.9 106.4h0M28.5 19.9h0M111.0 27.4h0M109.3 38.2h0M99.9 71.4h0M93.8 101.3h0M110.2 65.8h0M52.3 61.8h0" stroke="#50d080" stroke-width="1.20" stroke-opacity="0.5" stroke-linecap="round"/><path d="M66.2 69.0h0M103.5 72.4h0M40.2 96.0h0M83.5 102.4h0M52.7 17.9h0M105.7 106.8h0M107.5 85.4h0M122.4 32.9h0M38.7 13.0h0M80.0 12.9h0M59.7 105.9h0M87.0 91.4h0M35.9 94.4h0M46.1 32.9h0M34.0 94.2h0M50.7 83.6h0M62.3 85.9h0M122.0 106.0h0M96.5 41.8h0M69.7 97.9h0M26.4 32.1h0M58.0 88.6h0M32.3 78.1h0M56.6 30.3h0M41.9 96.8h0M50.6 69.2h0M42.1 93.8h0M60.7 90.4h0M38.9 27.8h0M36.1 99.3h0M55.9 91.1h0M99.2 102.1h0M30.0 18.0h0M80.0 76.7h0M38.9 15.2h0M114.6 22.5h0M61.0 33.1h0M67.6 30.6h0M64.8 93.1h0M106.0 41.3h0M60.7 22.4h0" stroke="#50d080" stroke-width="0.90" stroke-opacity="0.75" stroke-linecap="round"/><path d="M60.9 105.2h0M75.8 83.9h0M39.5 92.9h0M82.0 23.0h0M71.0 103.7h0M46.8 89.5h0M109.7 26.2h0M49.7 17.6h0M46.3 37.7h0M56.4 42.4h0M100.7 23.5h0M84.8 97.1h0M39.8 98.9h0M45.5 93.2h0M52.8 30.6h0M121.1 19.8h0M79.4 103.7h0M40.1 41.8h0M88.8 90.8h0" stroke="#2aa0a0" stroke-width="0.60" stroke-opacity="0.75" stroke-linecap="round"/><path d="M37.0 14.5h0M46.0 84.2h0M78.2 14.9h0M56.5 66.9h0M81.8 83.2h0M83.9 107.5h0M67.3 103.6h0M113.4 13.4h0M50.6 35.9h0M55.3 27.0h0M55.2 24.4h0M72.4 75.6h0M58.5 98.1h0M71.8 51.6h0M53.9 74.6h0M31.5 30.5h0M83.6 84.6h0M52.8 100.5h0M44.9 107.3h0M32.4 93.0h0M57.4 79.1h0" stroke="#38d0b0" stroke-width="1.20" stroke-opacity="1.0" stroke-linecap="round"/><path d="M56.6 84.3h0M70.1 105.2h0M121.1 57.6h0M57.0 95.0h0M66.2 81.9h0M31.7 22.2h0M73.8 106.6h0M99.3 32.6h0M119.8 88.4h0M46.8 15.8h0M30.0 103.0h0M114.1 74.4h0M96.4 27.3h0M49.8 49.7h0M50.7 98.0h0" stroke="#2aa0a0" stroke-width="0.60" stroke-opacity="0.5" stroke-linecap="round"/><path d="M115.3 63.1h0M54.3 15.0h0M56.6 83.8h0M76.1 95.0h0M42.8 89.8h0M114.1 24.6h0M58.6 81.7h0M62.2 94.0h0M121.7 24.9h0M77.3 101.6h0M51.7 17.8h0M53.4 98.5h0M62.8 105.6h0M40.2 38.9h0M79.9 91.3h0M70.9 82.8h0M35.5 81.4h0" stroke="#30c890" stroke-width="0.90" stroke-opacity="1.0" stroke-linecap="round"/><path d="M87.8 66.5h0M76.4 85.4h0M79.1 107.7h0M68.7 92.7h0M115.6 22.9h0M46.4 49.7h0M85.1 100.3h0M97.9 104.5h0M112.4 36.9h0M115.5 18.7h0M88.9 32.3h0M46.7 56.0h0M78.5 103.0h0M28.8 17.1h0M123.3 16.3h0M112.3 105.4h0M119.9 19.1h0M44.9 27.2h0M106.8 29.5h0M73.5 86.2h0M72.6 71.5h0M102.4 17.1h0M62.3 88.2h0M54.4 105.5h0M83.9 102.9h0M94.5 32.7h0M71.4 103.4h0M114.2 52.5h0M75.1 63.1h0M43.7 68.2h0M69.3 78.8h0M34.7 82.3h0M100.8 28.4h0M65.9 19.9h0" stroke="#38d0b0" stroke-width="0.90" stroke-opacity="0.75" stroke-linecap="round"/><path d="M63.5 25.9h0M60.3 84.4h0M72.6 82.1h0M102.3 14.1h0M74.1 97.3h0M72.5 86.4h0M94.1 21.4h0M102.7 79.7h0M90.0 77.7h0M65.0 31.3h0M54.9 85.8h0M86.9 81.6h0M70.0 32.0h0M57.0 79.2h0M42.1 27.3h0M47.8 26.5h0" stroke="#50d080" stroke-width="0.60" stroke-opacity="0.5" stroke-linecap="round"/><path d="M57.0 82.5h0M95.4 66.9h0M83.2 72.1h0M77.0 31.5h0M75.2 101.6h0M99.8 95.6h0M51.8 99.2h0M70.8 19.6h0M88.4 39.9h0M106.4 13.6h0M37.3 94.3h0M78.5 32.2h0M44.7 54.9h0M56.0 58.5h0M63.7 48.2h0M64.3 23.0h0M76.5 97.9h0M66.6 87.3h0M50.9 72.1h0M35.1 57.8h0M108.0 101.1h0M59.9 16.2h0M63.7 101.7h0M108.6 87.1h0M43.1 87.4h0M81.9 102.7h0" stroke="#38d0b0" stroke-width="0.90" stroke-opacity="1.0" stroke-linecap="round"/><path d="M68.6 90.3h0M40.7 51.8h0M116.4 89.0h0M119.6 13.6h0M114.5 70.2h0M30.8 85.6h0M80.8 94.2h0M106.7 75.2h0M45.6 25.4h0M34.9 99.3h0M116.3 27.9h0M84.1 15.2h0M85.0 29.7h0M102.9 90.6h0M53.4 97.5h0M70.6 106.1h0" stroke="#40b870" stroke-width="1.20" stroke-opacity="1.0" stroke-linecap="round"/><path d="M68.8 95.6h0M48.6 93.4h0M47.1 12.7h0M65.6 90.9h0M63.6 85.7h0M48.8 33.9h0M77.8 14.6h0M57.3 23.1h0M51.6 61.1h0M30.7 36.1h0M53.4 13.1h0M61.5 63.9h0M117.1 34.3h0" stroke="#40b870" stroke-width="0.60" stroke-opacity="1.0" stroke-linecap="round"/><path d="M25.9 31.8h0M80.3 97.4h0M64.2 105.1h0M56.0 94.6h0M95.3 101.3h0M111.6 17.0h0M113.1 47.4h0M75.4 19.5h0M39.1 31.4h0" stroke="#50d080" stroke-width="0.60" stroke-opacity="1.0" stroke-linecap="round"/><path d="M107.1 27.1h0M80.3 93.6h0M44.0 66.6h0M59.1 13.6h0M64.4 76.6h0M44.6 55.4h0M70.7 54.4h0M115.3 46.4h0M46.7 46.5h0M84.8 99.1h0M64.7 83.0h0M101.4 29.8h0M60.1 79.1h0M59.6 79.3h0M49.9 95.8h0M61.9 90.4h0M68.8 66.3h0M86.4 30.7h0M69.5 73.2h0M59.0 76.2h0M41.6 27.0h0M107.5 91.7h0" stroke="#20a070" stroke-width="1.20" stroke-opacity="0.5" stroke-linecap="round"/>
<path d="M31.1 46.0h0M91.8 48.0h0M85.4 30.9h0M55.9 83.7h0M30.5 97.6h0M38.9 66.6h0M121.6 103.0h0M110.3 91.0h0" stroke="#a03040" stroke-width="0.60" stroke-opacity="0.75" stroke-linecap="round"/><path d="M34.0 64.0h0M119.6 44.5h0M85.6 62.1h0M44.4 54.5h0M106.8 36.8h0M77.5 48.0h0M51.5 24.0h0M67.9 65.0h0M97.3 107.2h0M100.9 79.4h0M41.3 20.2h0M40.2 24.2h0M27.9 28.1h0M74.4 100.3h0M93.6 26.2h0M108.9 42.6h0M70.1 45.3h0M30.7 16.7h0M81.4 48.5h0M104.0 86.1h0M43.5 61.9h0M105.1 51.8h0M81.4 23.3h0M67.4 50.1h0M118.9 47.4h0M69.0 63.3h0M66.3 49.0h0M107.8 57.0h0M97.7 70.6h0M90.4 14.0h0M31.3 84.5h0M68.8 20.1h0M92.6 19.6h0" stroke="#802030" stroke-width="0.90" stroke-opacity="0.5" stroke-linecap="round"/><path d="M41.7 91.2h0M68.9 94.0h0M57.3 102.4h0M34.4 47.6h0M80.3 24.1h0M43.6 82.3h0M34.7 38.5h0M51.4 18.1h0M41.5 43.6h0M102.8 56.7h0M100.2 72.8h0M69.4 15.7h0M94.2 39.1h0M47.6 86.5h0M48.2 23.3h0M114.8 86.5h0M39.4 34.7h0M29.4 67.4h0M108.3 104.0h0M108.0 50.8h0M50.5 90.9h0M46.9 41.8h0M90.1 40.7h0M119.7 40.3h0M104.1 13.9h0M107.3 95.6h0M57.1 91.7h0M48.5 77.2h0M46.9 39.0h0M53.0 41.2h0M118.0 96.5h0M81.3 64.6h0M109.4 105.2h0M102.0 19.9h0M72.5 37.3h0M66.4 75.7h0M107.2 78.5h0M91.8 68.1h0M117.6 85.0h0M55.6 17.1h0M99.8 80.6h0" stroke="#b06040" stroke-width="0.90" stroke-opacity="0.5" stroke-linecap="round"/><path d="M31.4 26.7h0M56.8 14.5h0M98.4 62.7h0M85.4 106.6h0M57.5 96.3h0M96.7 83.5h0M40.5 90.2h0M109.1 70.2h0M81.9 33.1h0M86.5 34.8h0M45.2 56.4h0M26.9 97.0h0M65.8 21.2h0M59.8 95.1h0M28.7 79.9h0M52.4 57.9h0M57.7 71.2h0M70.9 66.0h0M46.2 31.1h0M87.5 80.3h0M32.6 83.9h0M54.5 81.4h0M69.8 94.6h0M98.8 16.1h0M70.9 87.3h0M46.7 85.7h0M43.0 91.6h0M45.5 50.7h0" stroke="#a03040" stroke-width="0.90" stroke-opacity="0.5" stroke-linecap="round"/><path d="M69.6 20.6h0M109.2 38.4h0M119.1 35.9h0M96.1 35.4h0M37.4 64.8h0M104.1 70.9h0" stroke="#802030" stroke-width="0.60" stroke-opacity="0.75" stroke-linecap="round"/><path d="M28.9 51.0h0M48.6 96.9h0M67.3 33.7h0M100.5 67.2h0M85.0 46.5h0M114.2 55.4h0M92.2 69.9h0" stroke="#a03040" stroke-width="0.90" stroke-opacity="0.75" stroke-linecap="round"/><path d="M108.0 104.3h0M70.6 40.3h0M115.9 56.5h0M65.4 66.4h0M43.5 35.5h0M60.2 63.2h0M57.1 30.6h0M44.9 22.4h0M108.0 45.0h0M90.1 80.4h0M58.0 99.5h0M114.7 59.6h0M80.6 107.2h0M63.7 91.7h0M76.9 62.0h0M83.2 86.1h0M89.7 92.3h0M77.2 18.4h0M80.0 92.8h0" stroke="#b06040" stroke-width="0.60" stroke-opacity="0.5" stroke-linecap="round"/><path d="M81.9 33.9h0M60.7 26.2h0M116.7 49.2h0M34.8 48.3h0M57.2 88.8h0M101.4 55.4h0M122.8 35.7h0M113.6 94.6h0M55.7 105.7h0M70.1 75.0h0M84.3 29.6h0" stroke="#b06040" stroke-width="0.90" stroke-opacity="0.75" stroke-linecap="round"/><path d="M26.2 57.1h0M49.4 42.4h0M99.8 48.4h0M102.0 106.4h0M66.3 80.8h0M88.6 66.4h0M109.9 97.6h0M121.5 68.1h0M30.9 14.0h0M108.6 88.2h0M51.0 92.0h0M114.5 101.0h0M89.5 74.2h0M66.5 91.3h0M26.0 16.5h0M105.8 65.5h0M103.3 71.1h0M77.4 36.0h0M71.0 27.1h0M117.2 105.2h0M52.4 84.1h0M81.2 32.7h0M95.3 51.0h0M113.3 58.0h0M39.1 13.2h0" stroke="#a03040" stroke-width="0.60" stroke-opacity="0.5" stroke-linecap="round"/><path d="M121.5 35.1h0M50.2 55.4h0M97.1 51.8h0M34.9 95.7h0M27.5 33.6h0M92.9 34.4h0M110.0 88.4h0M102.7 104.1h0M40.7 19.7h0M51.5 25.7h0M101.3 16.8h0M114.5 24.5h0M76.8 28.0h0M111.4 25.8h0M60.4 16.0h0" stroke="#802030" stroke-width="0.60" stroke-opacity="0.5" stroke-linecap="round"/><path d="M72.8 44.5h0M110.0 84.0h0" stroke="#b06040" stroke-width="0.60" stroke-opacity="0.75" stroke-linecap="round"/><path d="M62.5 75.3h0M108.7 30.5h0M29.2 15.1h0M63.2 34.9h0M107.1 45.8h0" stroke="#802030" stroke-width="0.90" stroke-opacity="0.75" stroke-linecap="round"/>
</g>
<g clip-path="url(#cp2)">
<rect x="123.00" y="12.00" width="97.50" height="96.20" fill="#01060b" stroke="none" stroke-width="0.6" />
<ellipse cx="166.9" cy="93.8" rx="43.9" ry="24.1" fill="#051220" fill-opacity="0.6" filter="url(#bl4)"/>
<path d="M150.3,56.3 C150.6,52.1 151.8,41.2 156.2,37.0 C160.5,32.8 170.0,31.4 176.6,31.2 C183.3,31.1 189.9,32.0 196.1,36.0 C202.3,40.1 211.2,51.0 213.7,55.3 C216.1,59.6 216.1,60.9 210.8,62.0 C205.4,63.1 190.9,62.0 181.5,62.0 C172.1,62.0 159.4,63.0 154.2,62.0 C149.0,61.1 150.0,60.4 150.3,56.3 Z" fill="#000204" fill-opacity="0.9" filter="url(#bl2)"/>
<path d="M144.4,89.0 C145.1,84.2 146.1,68.8 148.3,60.1 C150.6,51.4 153.4,42.6 158.1,37.0 C162.8,31.4 169.8,28.0 176.6,26.4 C183.4,24.8 191.4,26.3 199.1,27.4 C206.7,28.5 218.5,32.2 222.4,33.2" fill="none" stroke="#1a4a68" stroke-width="5" stroke-opacity="0.6" stroke-linecap="round" stroke-linejoin="round" filter="url(#bl1)"/>
<path d="M142.4 83.3h0M145.1 75.7h0M152.2 50.7h0M146.7 67.3h0M196.0 28.7h0M146.4 68.4h0M143.0 81.9h0" stroke="#3aa0d0" stroke-width="0.60" stroke-opacity="0.75" stroke-linecap="round"/><path d="M154.5 38.9h0M167.4 33.2h0M180.8 24.9h0M143.8 73.7h0M195.9 25.2h0M170.4 29.7h0" stroke="#2a88c0" stroke-width="0.60" stroke-opacity="1.0" stroke-linecap="round"/><path d="M148.3 55.9h0M176.2 23.0h0M146.9 81.9h0M179.9 29.1h0M143.9 79.7h0M155.0 46.6h0M150.8 56.4h0M208.2 28.1h0" stroke="#2a88c0" stroke-width="0.60" stroke-opacity="0.75" stroke-linecap="round"/><path d="M178.0 24.1h0M146.6 75.2h0M170.5 30.6h0M211.0 27.3h0M201.7 27.4h0M180.0 26.3h0M173.9 28.5h0M150.1 56.1h0" stroke="#3aa0d0" stroke-width="1.20" stroke-opacity="1.0" stroke-linecap="round"/><path d="M165.5 32.3h0M148.8 76.2h0M151.1 59.5h0M223.9 32.6h0M172.7 29.5h0M216.1 33.5h0M149.3 52.1h0M195.0 26.3h0M146.3 85.7h0M145.7 83.8h0M156.4 37.2h0M192.7 28.6h0M148.2 69.0h0M168.2 31.5h0M162.8 34.7h0M154.0 44.7h0" stroke="#3aa0d0" stroke-width="0.90" stroke-opacity="0.75" stroke-linecap="round"/><path d="M217.8 31.3h0M154.8 40.2h0M210.0 30.4h0M203.8 27.5h0M202.8 28.0h0M190.2 25.4h0" stroke="#3aa0d0" stroke-width="0.60" stroke-opacity="0.5" stroke-linecap="round"/><path d="M168.5 30.9h0M218.6 29.5h0M151.6 57.0h0M148.5 65.2h0M157.3 33.0h0M204.5 27.3h0" stroke="#2a88c0" stroke-width="1.20" stroke-opacity="0.75" stroke-linecap="round"/><path d="M152.1 54.6h0M203.9 28.6h0M146.5 75.9h0M147.1 60.4h0M148.0 62.4h0M150.7 63.9h0M193.0 29.5h0M217.9 33.8h0" stroke="#2a88c0" stroke-width="0.90" stroke-opacity="1.0" stroke-linecap="round"/><path d="M145.4 88.9h0M194.5 27.7h0M203.1 28.6h0" stroke="#2a88c0" stroke-width="1.20" stroke-opacity="1.0" stroke-linecap="round"/><path d="M212.2 30.1h0M174.9 27.9h0M190.6 27.8h0M200.3 29.8h0M183.9 25.6h0M150.8 63.9h0M175.5 29.0h0M171.5 27.4h0M181.8 26.0h0" stroke="#3aa0d0" stroke-width="1.20" stroke-opacity="0.75" stroke-linecap="round"/><path d="M207.4 28.3h0M158.1 37.2h0M159.0 39.4h0M201.0 29.1h0M220.8 32.3h0M149.2 54.6h0M159.4 34.2h0M156.5 47.1h0M199.7 28.3h0M188.5 27.1h0M181.0 28.6h0M159.2 37.8h0M182.2 27.6h0M166.0 37.7h0M183.5 26.5h0" stroke="#2a88c0" stroke-width="0.90" stroke-opacity="0.75" stroke-linecap="round"/><path d="M160.6 33.3h0M204.8 27.9h0M160.9 33.8h0M186.2 22.8h0M150.9 53.7h0" stroke="#3aa0d0" stroke-width="0.90" stroke-opacity="0.5" stroke-linecap="round"/><path d="M206.2 30.0h0M158.4 44.6h0M152.5 49.8h0M161.3 32.2h0M172.8 30.0h0" stroke="#2a88c0" stroke-width="1.20" stroke-opacity="0.5" stroke-linecap="round"/><path d="M190.6 28.1h0M207.2 27.8h0M214.8 33.2h0M195.1 28.4h0" stroke="#3aa0d0" stroke-width="0.90" stroke-opacity="1.0" stroke-linecap="round"/><path d="M177.1 26.0h0M191.7 28.0h0M163.6 35.4h0M160.5 36.5h0M166.6 26.9h0" stroke="#2a88c0" stroke-width="0.90" stroke-opacity="0.5" stroke-linecap="round"/><path d="M185.2 29.3h0M218.9 31.9h0" stroke="#3aa0d0" stroke-width="0.60" stroke-opacity="1.0" stroke-linecap="round"/><path d="M213.5 31.8h0M155.0 46.5h0M180.2 27.5h0" stroke="#3aa0d0" stroke-width="1.20" stroke-opacity="0.5" stroke-linecap="round"/><path d="M172.6 26.3h0M217.0 32.5h0M151.0 43.8h0M172.6 30.3h0" stroke="#2a88c0" stroke-width="0.60" stroke-opacity="0.5" stroke-linecap="round"/>
<path d="M126.9,79.3 C127.2,75.3 127.5,63.3 128.8,55.3 C130.1,47.3 132.4,37.7 134.7,31.2 C137.0,24.8 141.2,19.2 142.5,16.8" fill="none" stroke="#163a55" stroke-width="3.5" stroke-opacity="0.65" stroke-linecap="round" stroke-linejoin="round" filter="url(#bl2)"/>
<path d="M140.6,103.4 C142.5,96.8 147.1,70.7 152.2,63.9 C157.4,57.2 164.4,63.1 171.8,63.0 C179.1,62.8 188.8,63.1 196.1,63.0 C203.4,62.8 212.4,62.2 215.6,62.0" fill="none" stroke="#2a6a90" stroke-width="0.7" stroke-opacity="0.8" stroke-linecap="round" stroke-dasharray="0.1 1.6"/>
<ellipse cx="136.7" cy="72.4" rx="3.7" ry="12.5" fill="#000000" fill-opacity="1.0" transform="rotate(-8 136.7 72.4)"/>
<path d="M132.5,64.2 C132.6,66.8 132.7,75.8 133.2,79.3 C133.8,82.9 134.7,84.4 136.0,85.6 C137.2,86.8 139.1,86.6 140.6,86.6 C142.0,86.6 143.5,86.7 144.5,85.6 C145.6,84.5 146.3,80.9 146.7,79.9" fill="none" stroke="#2a6a90" stroke-width="0.8" stroke-opacity="0.8" stroke-linecap="round" stroke-linejoin="round"/>
<path d="M179.6 17.6h0M199.5 65.2h0M177.7 106.2h0M217.2 49.9h0M141.4 86.1h0M212.2 75.2h0M140.9 51.6h0M204.8 101.3h0M167.4 65.3h0M162.2 101.8h0M195.6 53.4h0M174.1 72.8h0M129.4 91.1h0M201.2 33.1h0" stroke="#2a88c0" stroke-width="1.20" stroke-opacity="0.75" stroke-linecap="round"/><path d="M144.1 37.7h0M148.7 17.3h0M132.4 71.6h0M132.1 23.4h0M128.8 14.9h0M189.8 93.3h0M177.1 83.2h0M181.8 30.3h0M160.5 64.4h0M208.1 64.4h0" stroke="#1a6090" stroke-width="1.20" stroke-opacity="0.5" stroke-linecap="round"/><path d="M213.6 25.9h0M195.5 82.2h0M154.3 97.3h0M217.4 63.6h0M173.4 67.0h0M204.7 91.3h0M219.4 77.0h0M132.8 42.8h0M186.8 23.0h0M178.8 58.6h0M220.0 60.1h0M210.4 61.9h0M139.3 99.8h0M192.7 20.6h0M154.7 16.8h0M166.0 73.6h0M187.9 83.1h0" stroke="#3aa0d0" stroke-width="1.20" stroke-opacity="0.5" stroke-linecap="round"/><path d="M170.2 28.6h0M182.1 101.9h0M203.6 14.4h0M217.3 105.3h0M137.1 18.5h0M192.9 67.2h0M215.4 90.0h0M131.8 93.9h0M135.0 16.1h0M145.0 104.0h0M218.3 12.3h0M137.1 24.4h0M160.5 24.6h0M159.3 89.0h0M196.8 96.0h0M211.7 66.4h0M129.9 30.7h0M178.8 100.3h0M209.4 90.7h0M172.6 71.2h0M205.3 84.9h0M167.4 87.0h0M159.4 81.7h0M188.0 17.5h0M151.2 106.9h0M162.3 100.0h0M151.5 73.3h0M184.6 75.6h0M145.2 23.1h0M195.0 62.6h0M150.0 87.2h0M172.8 88.2h0M171.1 13.8h0M173.3 60.4h0M174.9 65.4h0" stroke="#48b0e0" stroke-width="0.90" stroke-opacity="0.5" stroke-linecap="round"/><path d="M149.7 85.9h0M144.8 106.7h0M132.1 96.2h0M174.0 62.4h0M216.6 27.7h0M205.7 42.6h0M173.8 78.9h0M185.3 76.1h0" stroke="#2070a0" stroke-width="1.20" stroke-opacity="1.0" stroke-linecap="round"/><path d="M131.4 71.7h0M140.3 45.8h0M206.1 92.2h0M150.8 29.4h0M146.1 98.5h0M208.9 90.6h0M147.8 27.9h0M209.4 67.6h0M154.8 93.6h0M147.9 66.4h0" stroke="#1a6090" stroke-width="1.20" stroke-opacity="1.0" stroke-linecap="round"/><path d="M127.0 13.4h0M166.0 68.9h0M210.0 96.4h0M148.4 79.1h0M141.2 40.2h0M215.0 104.3h0M139.4 12.1h0M215.9 48.6h0M190.0 93.4h0M164.7 90.2h0M217.0 21.2h0M169.8 66.0h0" stroke="#3aa0d0" stroke-width="0.60" stroke-opacity="0.5" stroke-linecap="round"/><path d="M153.4 91.7h0M212.7 73.3h0M128.9 59.5h0M166.6 97.2h0M218.1 26.9h0M148.1 74.6h0M135.8 36.1h0M194.4 72.1h0M138.5 36.3h0M210.9 78.5h0M172.4 77.6h0M174.3 94.2h0M142.4 13.1h0M154.4 70.2h0M206.7 44.4h0M187.3 69.7h0M192.1 89.2h0M207.4 29.1h0M141.2 21.9h0" stroke="#2a88c0" stroke-width="0.60" stroke-opacity="0.75" stroke-linecap="round"/><path d="M153.5 78.2h0M168.1 106.3h0M159.6 92.5h0M160.4 12.2h0M173.0 13.3h0M190.3 101.5h0M135.0 43.9h0M146.7 106.5h0M192.3 85.7h0M136.5 40.4h0M198.6 20.4h0M171.7 98.6h0M177.7 84.5h0M173.7 78.2h0M132.0 49.5h0M199.1 100.7h0M126.1 22.4h0M144.8 84.2h0M127.3 15.0h0M157.0 78.9h0M213.1 33.2h0M161.5 29.9h0M159.0 21.7h0M142.1 31.1h0M183.0 102.0h0M148.0 78.1h0M130.6 91.7h0M153.5 84.2h0" stroke="#3aa0d0" stroke-width="0.90" stroke-opacity="0.75" stroke-linecap="round"/><path d="M195.3 16.0h0M135.4 36.0h0M196.7 97.9h0M164.9 28.8h0M213.7 57.5h0M178.5 76.8h0M176.6 90.7h0M169.7 95.5h0M134.2 106.0h0M123.2 31.4h0M147.4 107.0h0M206.4 31.5h0M131.5 16.1h0M170.0 71.5h0M157.6 21.5h0M167.2 99.1h0M210.2 82.6h0M126.9 28.2h0M160.8 17.8h0M151.6 74.0h0M148.1 37.8h0M167.4 66.3h0" stroke="#2a88c0" stroke-width="0.90" stroke-opacity="1.0" stroke-linecap="round"/><path d="M219.9 76.1h0M139.0 25.1h0M183.7 36.7h0M212.9 32.6h0M152.8 48.3h0M167.2 105.8h0M189.7 23.3h0M170.7 86.4h0M179.2 14.1h0M170.9 17.7h0M166.4 95.6h0M183.4 81.2h0M162.5 30.5h0M130.7 45.4h0M130.1 84.5h0M126.2 84.8h0M191.1 106.9h0M157.1 95.4h0M132.3 99.9h0M168.2 106.7h0M158.4 23.9h0M216.7 67.3h0M147.6 88.9h0M165.5 91.6h0M164.9 31.6h0M152.6 93.9h0M160.7 67.8h0M147.7 78.0h0M165.7 85.4h0M149.9 80.8h0M139.4 61.8h0M162.4 12.5h0M125.4 59.3h0M177.3 72.9h0" stroke="#2070a0" stroke-width="0.90" stroke-opacity="0.75" stroke-linecap="round"/><path d="M215.8 98.5h0M216.7 42.7h0M177.2 52.1h0M215.9 98.3h0M210.2 99.3h0M207.9 28.7h0M204.8 32.3h0M145.0 16.8h0M188.6 94.4h0M168.5 93.6h0M176.9 72.3h0M185.7 96.7h0M148.8 46.6h0M135.4 46.3h0M200.2 35.3h0M150.5 78.0h0M132.9 47.3h0M172.6 76.8h0M181.9 80.8h0M202.6 44.5h0M163.1 20.3h0M151.2 79.5h0M150.2 72.1h0M129.6 105.2h0M175.1 25.6h0M140.1 27.9h0M144.8 78.4h0M156.7 91.7h0M146.7 96.5h0M167.0 99.6h0M183.7 85.1h0M138.0 105.9h0M195.8 105.8h0M127.0 98.5h0M130.9 62.4h0M157.8 24.8h0M182.7 85.4h0M131.3 31.0h0M176.1 107.9h0" stroke="#2a88c0" stroke-width="0.90" stroke-opacity="0.5" stroke-linecap="round"/><path d="M179.6 69.3h0M193.2 74.4h0M157.9 67.1h0M148.3 22.1h0M165.6 92.1h0M139.8 84.9h0M181.2 78.1h0M140.6 87.8h0M161.9 101.4h0M162.8 95.2h0M194.4 98.7h0M168.4 82.7h0M156.0 92.1h0M154.8 37.8h0M133.4 58.4h0M130.9 102.7h0M182.5 81.7h0M158.7 82.1h0M169.0 93.8h0M163.2 15.1h0M215.0 66.7h0M143.1 94.4h0" stroke="#2070a0" stroke-width="0.60" stroke-opacity="0.75" stroke-linecap="round"/><path d="M176.7 103.1h0M173.5 66.9h0M123.4 28.7h0M191.2 30.3h0M193.1 20.4h0M193.2 28.5h0M197.5 15.2h0M209.6 64.6h0M138.2 20.7h0M181.3 104.3h0M212.2 26.6h0M202.1 32.2h0M144.1 79.0h0M220.3 31.9h0M139.7 13.1h0M215.4 16.7h0M183.6 75.3h0M156.9 104.2h0M137.7 100.6h0M171.8 89.0h0M147.8 99.2h0M126.0 47.7h0M137.9 31.0h0M217.8 64.7h0M160.5 99.8h0M153.6 26.9h0M209.9 20.8h0M147.9 99.7h0M136.1 87.9h0M144.2 78.8h0M124.0 45.5h0M140.7 99.3h0" stroke="#2070a0" stroke-width="0.90" stroke-opacity="0.5" stroke-linecap="round"/><path d="M152.6 78.4h0M171.7 95.8h0M152.4 103.2h0M143.7 35.0h0M178.8 106.2h0M132.9 27.8h0M147.7 22.1h0M183.2 81.4h0M148.5 73.7h0M212.8 91.7h0M161.2 91.2h0M194.9 23.2h0M163.7 102.9h0M181.0 55.8h0M154.5 73.8h0" stroke="#2070a0" stroke-width="1.20" stroke-opacity="0.5" stroke-linecap="round"/><path d="M186.5 94.8h0M127.4 54.3h0M186.6 99.2h0M175.4 102.5h0M165.8 91.7h0M213.4 24.9h0M205.7 88.9h0M127.8 28.1h0M210.6 83.6h0M156.3 106.0h0M185.6 76.2h0M162.4 105.5h0M209.6 29.2h0" stroke="#1a6090" stroke-width="0.60" stroke-opacity="0.5" stroke-linecap="round"/><path d="M155.3 78.0h0M215.1 41.8h0M217.1 105.6h0M168.1 102.5h0M151.5 90.7h0M149.2 86.2h0M168.9 81.5h0M125.8 72.5h0M207.0 54.7h0" stroke="#2070a0" stroke-width="0.60" stroke-opacity="1.0" stroke-linecap="round"/><path d="M196.5 63.0h0M208.8 14.9h0M192.4 88.1h0M186.5 83.5h0M167.9 28.5h0M204.2 28.8h0M143.6 64.7h0M158.2 98.5h0M203.8 27.2h0M187.5 102.6h0M152.6 103.1h0M194.2 58.9h0M139.1 105.8h0M158.9 16.5h0M154.7 84.9h0M187.4 22.5h0M172.2 81.4h0M161.4 84.8h0M218.0 18.6h0M157.1 77.4h0M213.6 69.7h0M169.6 79.7h0M146.0 15.0h0M149.6 80.5h0M138.6 47.5h0M139.0 12.3h0M131.4 42.8h0M167.1 72.4h0M134.1 104.3h0M146.4 93.8h0M216.8 39.2h0M147.7 103.2h0M174.3 107.0h0" stroke="#48b0e0" stroke-width="0.60" stroke-opacity="0.75" stroke-linecap="round"/><path d="M190.6 31.9h0M138.6 98.1h0M146.9 49.7h0M135.0 28.1h0M129.2 92.7h0M174.0 87.5h0M168.5 81.9h0M200.9 76.1h0M167.1 68.2h0M154.1 46.7h0M134.1 83.8h0M136.6 97.2h0M146.0 71.8h0M130.0 107.3h0M200.8 60.0h0M154.2 28.3h0M194.4 99.9h0M164.5 92.4h0M169.6 86.6h0M125.8 15.3h0M181.9 107.3h0M155.5 76.0h0M146.2 27.9h0M195.0 26.7h0M151.8 87.9h0M216.8 19.1h0M149.5 30.6h0M146.5 63.0h0M129.7 29.1h0M172.4 91.0h0M132.3 106.6h0M152.4 87.5h0M159.2 18.2h0M145.0 56.1h0M202.6 52.0h0M177.1 81.1h0M147.3 32.2h0M146.3 73.1h0M181.0 94.0h0M130.0 82.2h0M183.4 93.7h0M150.5 27.3h0" stroke="#1a6090" stroke-width="0.90" stroke-opacity="0.75" stroke-linecap="round"/><path d="M190.0 21.5h0M219.4 35.3h0M154.9 30.5h0M134.5 89.0h0M189.7 51.1h0M195.7 27.3h0M214.3 35.9h0M198.8 42.0h0M160.4 15.0h0M150.6 76.2h0M168.3 82.3h0M130.6 103.6h0M193.0 82.9h0M172.3 27.9h0" stroke="#1a6090" stroke-width="0.90" stroke-opacity="1.0" stroke-linecap="round"/><path d="M188.5 19.9h0M155.5 35.0h0M183.7 49.6h0M181.4 82.3h0M173.5 18.6h0M129.9 72.9h0M198.1 94.5h0M171.8 25.9h0M180.4 54.2h0M201.9 70.1h0M132.7 57.9h0M132.6 23.5h0M148.8 96.7h0M220.0 106.4h0M131.7 41.6h0M131.1 14.1h0" stroke="#48b0e0" stroke-width="0.60" stroke-opacity="0.5" stroke-linecap="round"/><path d="M193.0 69.5h0M139.8 61.0h0M154.2 95.8h0M150.7 68.5h0M195.3 79.0h0M155.6 85.4h0M186.1 19.2h0M204.2 22.9h0M145.7 96.0h0M149.8 66.9h0M154.5 77.5h0M151.2 72.9h0M156.2 95.4h0M143.4 18.2h0M167.8 25.0h0M170.5 91.5h0M156.2 29.8h0" stroke="#48b0e0" stroke-width="0.60" stroke-opacity="1.0" stroke-linecap="round"/><path d="M175.3 24.3h0M180.6 27.6h0M143.2 88.7h0M214.1 93.9h0M151.0 39.2h0M167.0 21.8h0M155.5 32.9h0M169.8 44.2h0M172.3 65.5h0M152.4 92.4h0M192.8 24.2h0M148.2 93.9h0M181.6 98.3h0M152.8 86.0h0M136.7 94.3h0M137.2 22.1h0M133.0 63.2h0M187.8 99.8h0M168.5 99.0h0M157.1 95.4h0M153.8 68.4h0M125.9 101.6h0" stroke="#2070a0" stroke-width="1.20" stroke-opacity="0.75" stroke-linecap="round"/><path d="M177.0 21.7h0M146.0 91.7h0M139.4 99.3h0M163.1 82.2h0M199.7 29.1h0M147.0 16.2h0M149.7 69.1h0M124.0 47.9h0M145.1 64.7h0M162.5 24.4h0M138.0 99.2h0M161.7 104.3h0M127.8 108.1h0M206.4 48.9h0M170.1 93.8h0M149.8 95.1h0M163.1 30.2h0M213.2 73.5h0M168.8 103.5h0M194.8 20.5h0M142.4 23.8h0M218.0 82.1h0M169.7 34.5h0M135.5 46.6h0M127.3 101.8h0M174.3 94.1h0M183.5 23.0h0M155.2 26.1h0M214.7 17.9h0M215.3 26.7h0M128.6 104.9h0M133.7 107.6h0M186.8 23.3h0" stroke="#1a6090" stroke-width="0.90" stroke-opacity="0.5" stroke-linecap="round"/><path d="M130.9 14.4h0M148.4 73.9h0M170.2 85.6h0M213.2 85.9h0M132.3 51.8h0M202.1 99.1h0M202.1 101.0h0M125.9 38.2h0M131.6 14.7h0M144.9 104.0h0M187.4 76.1h0M137.5 98.6h0M177.4 69.1h0M141.5 106.0h0" stroke="#48b0e0" stroke-width="1.20" stroke-opacity="0.75" stroke-linecap="round"/><path d="M155.8 96.4h0M180.3 30.6h0M164.0 88.1h0M142.5 98.2h0M149.8 85.9h0M184.0 92.3h0M167.8 88.0h0M154.9 16.9h0M165.2 21.6h0M201.1 93.6h0M196.4 82.9h0M150.1 88.5h0M211.5 17.7h0M165.2 71.0h0M162.3 97.6h0M148.1 92.5h0M165.4 16.3h0M148.5 19.8h0M201.5 22.4h0M168.9 87.2h0M171.6 87.0h0M210.2 38.1h0M164.8 78.1h0M199.4 86.8h0M152.2 37.9h0M151.2 50.0h0M146.6 70.4h0M167.2 28.5h0M142.0 35.8h0M145.8 99.4h0M128.8 20.9h0" stroke="#48b0e0" stroke-width="0.90" stroke-opacity="0.75" stroke-linecap="round"/><path d="M152.7 78.0h0M152.2 78.4h0M177.9 95.6h0M166.5 100.4h0M155.6 23.2h0M187.0 67.4h0M164.2 92.4h0M207.0 100.8h0M158.7 78.1h0M206.3 17.2h0M131.0 92.1h0M185.9 106.0h0M137.5 15.4h0M200.3 26.6h0M212.4 21.7h0M150.1 99.5h0M194.6 85.5h0M153.4 32.5h0M213.0 62.0h0M168.6 19.5h0M125.5 19.9h0M154.9 88.2h0M158.5 74.3h0M178.4 91.9h0M162.1 93.9h0M128.6 83.3h0M160.1 31.2h0M177.7 90.8h0M147.5 89.9h0M165.8 96.9h0M128.8 27.9h0M176.3 72.0h0" stroke="#3aa0d0" stroke-width="0.90" stroke-opacity="0.5" stroke-linecap="round"/><path d="M140.5 80.4h0M177.4 69.0h0M137.3 29.5h0M140.3 85.5h0M137.0 106.9h0M215.9 90.7h0M146.8 41.6h0M196.7 58.3h0M129.5 48.4h0M144.3 84.5h0M141.2 83.0h0M160.9 100.1h0M139.0 19.6h0M146.9 76.3h0M179.5 80.6h0M163.4 88.0h0M147.0 83.7h0M144.1 94.3h0M213.0 20.4h0M143.5 28.9h0M175.0 85.6h0M164.5 88.6h0M178.8 83.4h0M169.3 90.2h0M140.1 94.0h0M182.4 18.7h0M167.5 104.3h0M166.4 62.0h0M139.2 83.7h0M220.3 14.2h0M172.5 83.7h0M158.9 98.5h0M163.3 32.9h0M170.1 26.0h0M125.0 31.8h0M208.5 30.2h0M143.9 93.8h0M219.3 78.7h0M150.9 98.8h0M135.1 95.3h0" stroke="#2a88c0" stroke-width="0.90" stroke-opacity="0.75" stroke-linecap="round"/><path d="M144.8 95.4h0M143.5 72.4h0M143.0 40.6h0M153.5 27.5h0M164.5 73.2h0M207.7 15.3h0M138.6 34.8h0M184.3 107.9h0M152.3 85.7h0M135.9 14.5h0M143.7 65.7h0M150.5 103.9h0M211.7 58.6h0M133.4 97.8h0" stroke="#48b0e0" stroke-width="0.90" stroke-opacity="1.0" stroke-linecap="round"/><path d="M216.7 71.7h0M205.5 76.5h0M161.4 15.5h0M189.1 80.2h0M130.4 30.5h0M163.5 98.9h0M203.6 82.3h0M177.7 79.1h0M149.4 22.3h0M137.1 59.3h0M181.0 103.5h0M175.7 98.2h0M213.9 20.7h0M138.6 58.3h0M153.6 14.7h0M209.6 49.5h0M160.7 17.8h0" stroke="#2070a0" stroke-width="0.90" stroke-opacity="1.0" stroke-linecap="round"/><path d="M177.4 105.3h0M152.2 88.4h0M157.1 61.7h0M152.6 16.7h0M164.2 26.6h0M168.6 29.1h0M211.7 84.8h0M126.5 16.6h0M159.5 25.8h0M141.1 84.1h0M209.1 21.2h0M179.8 78.7h0M145.7 72.3h0M157.3 101.7h0M136.4 87.6h0M162.0 101.8h0M180.6 28.7h0M143.3 38.2h0M140.0 61.0h0M185.4 95.5h0" stroke="#2a88c0" stroke-width="0.60" stroke-opacity="0.5" stroke-linecap="round"/><path d="M143.4 103.9h0M153.3 74.6h0M158.5 21.2h0M202.8 79.6h0M147.6 24.4h0M128.4 44.5h0M155.9 81.2h0M144.5 63.0h0M183.1 73.4h0" stroke="#2a88c0" stroke-width="0.60" stroke-opacity="1.0" stroke-linecap="round"/><path d="M147.5 16.8h0M177.2 106.5h0M125.5 21.9h0M132.8 90.6h0M166.3 32.6h0M186.8 90.2h0M129.7 61.5h0M172.9 107.2h0M155.4 76.7h0M123.0 106.3h0M220.2 35.0h0M153.9 83.5h0M194.6 73.1h0M163.8 107.6h0M124.8 67.0h0M174.0 77.3h0" stroke="#1a6090" stroke-width="1.20" stroke-opacity="0.75" stroke-linecap="round"/><path d="M147.9 95.5h0M145.4 16.3h0M127.4 57.2h0M129.3 22.7h0M169.5 88.7h0M145.1 26.1h0M137.7 27.5h0M188.5 21.3h0M157.9 53.5h0M219.7 14.1h0M141.2 38.3h0M218.2 28.6h0M178.8 78.5h0M141.8 19.5h0M167.8 67.6h0" stroke="#48b0e0" stroke-width="1.20" stroke-opacity="0.5" stroke-linecap="round"/><path d="M127.8 94.6h0M153.1 93.2h0M160.7 99.2h0M200.3 64.1h0M154.6 99.0h0M186.3 22.3h0M133.5 56.9h0M139.0 51.4h0M137.2 106.9h0M166.4 105.8h0M149.1 40.1h0M169.7 101.0h0M207.4 44.3h0M124.1 27.1h0M145.0 89.2h0M184.6 42.9h0M182.6 80.6h0M142.2 101.9h0M168.6 78.1h0M172.0 98.2h0M169.9 81.5h0M128.4 73.8h0M219.6 18.4h0" stroke="#3aa0d0" stroke-width="0.90" stroke-opacity="1.0" stroke-linecap="round"/><path d="M203.2 57.3h0M151.1 26.2h0M145.3 105.8h0M152.9 98.0h0M142.1 101.8h0M144.2 16.5h0M180.1 20.4h0M136.9 26.0h0M206.5 31.6h0M139.0 105.3h0M194.4 99.5h0M125.8 29.3h0M166.6 79.4h0M143.6 28.9h0M179.6 69.9h0" stroke="#3aa0d0" stroke-width="1.20" stroke-opacity="0.75" stroke-linecap="round"/><path d="M187.5 83.1h0M174.5 93.5h0M125.2 31.5h0M172.4 68.5h0M142.4 82.9h0M171.2 90.7h0M171.7 47.6h0M183.5 77.8h0M176.4 54.9h0M140.5 94.4h0" stroke="#3aa0d0" stroke-width="0.60" stroke-opacity="1.0" stroke-linecap="round"/><path d="M182.9 24.6h0M196.0 39.3h0M193.3 90.6h0M154.3 90.2h0M131.4 27.7h0M193.0 78.0h0M190.0 104.5h0M133.6 26.1h0M206.5 39.1h0M159.9 21.4h0" stroke="#2a88c0" stroke-width="1.20" stroke-opacity="0.5" stroke-linecap="round"/><path d="M169.7 24.1h0M150.8 85.7h0M197.4 12.2h0M177.5 69.4h0M169.8 30.5h0M152.9 19.4h0M149.0 16.0h0M132.2 56.7h0M160.2 83.4h0M160.2 27.6h0M124.6 23.8h0M142.3 33.0h0M168.6 107.0h0M190.7 21.4h0M136.8 86.2h0M158.4 89.0h0M146.1 108.2h0" stroke="#1a6090" stroke-width="0.60" stroke-opacity="0.75" stroke-linecap="round"/><path d="M204.3 96.2h0M151.5 31.4h0M150.3 70.4h0M131.3 46.4h0M188.9 77.1h0M139.8 12.5h0M189.7 107.4h0M203.2 29.9h0M149.8 95.9h0M130.9 92.3h0M178.6 86.9h0M146.5 64.1h0M155.5 97.0h0M174.6 86.0h0M179.3 88.0h0M128.9 30.0h0M149.0 17.4h0M179.8 81.6h0" stroke="#2070a0" stroke-width="0.60" stroke-opacity="0.5" stroke-linecap="round"/><path d="M137.8 33.1h0M148.8 67.7h0M139.5 98.9h0M218.9 34.8h0M157.7 87.5h0M170.8 32.2h0M183.9 85.8h0M152.2 30.3h0M144.2 20.3h0M172.6 63.4h0M199.7 34.0h0" stroke="#3aa0d0" stroke-width="0.60" stroke-opacity="0.75" stroke-linecap="round"/><path d="M177.5 74.9h0M134.8 19.7h0M179.6 104.7h0M164.7 93.4h0M161.6 75.5h0M151.7 102.1h0M166.2 104.5h0" stroke="#2a88c0" stroke-width="1.20" stroke-opacity="1.0" stroke-linecap="round"/><path d="M183.8 104.3h0M153.1 62.7h0M189.2 81.6h0M214.0 67.4h0M159.1 21.6h0" stroke="#1a6090" stroke-width="0.60" stroke-opacity="1.0" stroke-linecap="round"/><path d="M144.2 45.4h0M178.4 106.5h0M145.2 31.0h0M187.0 19.4h0M212.9 13.3h0" stroke="#3aa0d0" stroke-width="1.20" stroke-opacity="1.0" stroke-linecap="round"/><path d="M164.8 76.3h0M166.7 82.4h0M169.1 90.9h0M143.6 25.0h0M168.9 24.4h0" stroke="#48b0e0" stroke-width="1.20" stroke-opacity="1.0" stroke-linecap="round"/>
</g>
<g clip-path="url(#cp3)">
<rect x="220.00" y="12.00" width="97.00" height="96.20" fill="#000200" stroke="none" stroke-width="0.6" />
<path d="M233.6,59.1 C232.9,60.9 229.9,66.0 229.4,69.7 C228.9,73.4 230.0,78.5 230.7,81.3 C231.4,84.0 232.4,85.2 233.6,86.1 C234.7,87.0 236.5,87.7 237.5,86.6 C238.4,85.4 239.2,82.8 239.4,79.3 C239.6,75.9 239.4,69.2 238.4,65.9 C237.5,62.5 234.4,60.3 233.6,59.1" fill="none" stroke="#2a9a3a" stroke-width="0.8" stroke-opacity="0.8" stroke-linecap="round" stroke-linejoin="round"/>
<path d="M221.9,21.6 C222.9,28.0 225.7,48.1 227.8,60.1 C229.9,72.1 233.4,88.2 234.6,93.8" fill="none" stroke="#1a6a24" stroke-width="0.8" stroke-opacity="0.5" stroke-linecap="round" stroke-linejoin="round"/>
<path d="M315.3 46.7h0M279.8 95.5h0M242.9 92.0h0M261.4 82.0h0M272.6 60.3h0M228.3 77.7h0M294.0 40.1h0M276.4 64.5h0M258.8 13.8h0M262.6 91.1h0M223.9 106.6h0M303.0 93.8h0M284.6 65.8h0M274.8 104.1h0M300.8 95.0h0M301.9 66.0h0M273.7 99.7h0M229.2 13.6h0M245.2 45.0h0M290.0 20.0h0M251.8 103.7h0M281.7 100.8h0M271.5 80.2h0M287.7 19.3h0M229.4 14.9h0M274.1 64.9h0M263.7 65.5h0M288.0 41.9h0M231.9 51.5h0M227.9 61.4h0M238.0 15.6h0M257.3 41.2h0M312.1 58.2h0M294.1 86.8h0M302.6 99.2h0M222.0 59.5h0M221.9 32.5h0M272.5 90.4h0M227.0 106.2h0M225.9 54.3h0M315.8 78.8h0M248.5 31.6h0M276.9 23.6h0M273.9 97.4h0M245.4 15.0h0M278.2 72.1h0M287.0 34.4h0M239.6 98.2h0M255.9 17.2h0M299.9 98.4h0M249.5 29.3h0M250.7 64.3h0M258.9 68.3h0" stroke="#2aa040" stroke-width="0.90" stroke-opacity="0.75" stroke-linecap="round"/><path d="M274.4 80.6h0M288.3 78.7h0M285.1 86.3h0M293.1 95.2h0M253.7 99.2h0M235.3 106.7h0M245.8 88.0h0M244.7 33.3h0M270.5 17.9h0M252.2 77.6h0M221.8 70.7h0M276.4 86.6h0M253.2 71.6h0M272.8 47.1h0M261.0 67.9h0M260.1 17.7h0M294.2 59.8h0M269.0 20.1h0M309.8 74.8h0M226.0 105.9h0M237.3 80.7h0M255.7 104.3h0M267.3 95.5h0M282.0 77.7h0M255.4 23.0h0M250.5 70.4h0M257.4 35.3h0M312.5 98.5h0" stroke="#38b84a" stroke-width="1.50" stroke-opacity="0.75" stroke-linecap="round"/><path d="M310.5 42.8h0M275.3 73.9h0M222.5 82.0h0M257.2 101.9h0M251.5 75.7h0M222.4 37.6h0M254.9 23.6h0M222.8 81.0h0M229.0 71.4h0M269.4 93.0h0M245.7 88.6h0M281.1 35.0h0M275.1 45.2h0M229.1 79.1h0M266.8 16.3h0M267.3 83.2h0M275.6 45.3h0M239.0 96.9h0M243.5 62.2h0M238.6 34.3h0" stroke="#48c058" stroke-width="1.20" stroke-opacity="0.5" stroke-linecap="round"/><path d="M255.6 72.6h0M273.0 69.2h0M240.5 21.3h0M244.2 83.5h0M242.9 106.4h0M276.2 107.2h0M289.6 84.2h0M263.3 37.9h0M271.5 76.9h0M304.5 70.8h0M261.1 16.4h0M283.8 52.5h0M275.5 71.6h0M268.5 78.7h0M251.7 26.8h0M302.2 94.1h0M306.7 83.3h0M235.5 99.5h0M224.5 17.3h0M251.9 73.5h0M238.2 96.2h0M245.0 97.8h0M229.0 94.1h0M267.8 58.5h0M250.2 96.1h0M261.0 102.7h0M288.3 73.6h0M227.6 60.0h0" stroke="#1a7a2a" stroke-width="1.50" stroke-opacity="0.75" stroke-linecap="round"/><path d="M280.4 58.2h0M250.5 70.5h0M272.8 81.1h0M283.7 88.0h0M274.1 16.5h0M232.6 103.6h0M227.6 92.4h0M267.6 101.9h0M237.7 17.1h0M248.1 108.0h0M224.2 76.5h0M250.7 65.5h0M304.3 84.4h0M221.1 16.0h0M259.1 108.1h0M270.9 67.3h0M270.3 105.8h0M247.7 48.7h0" stroke="#1a7a2a" stroke-width="1.20" stroke-opacity="0.5" stroke-linecap="round"/><path d="M245.4 60.9h0M249.1 50.6h0M222.0 99.8h0M281.7 72.9h0M300.9 87.3h0M243.6 20.3h0M275.4 93.1h0M241.8 72.2h0M311.7 88.7h0M290.8 87.1h0M228.4 83.7h0M234.7 24.9h0M246.8 55.3h0M220.8 84.3h0M266.0 100.3h0M260.4 105.0h0M273.3 24.5h0M272.6 99.5h0M226.6 59.7h0M235.4 35.1h0M253.8 92.0h0M273.2 69.5h0M240.0 41.3h0M309.0 45.6h0M243.1 19.7h0M264.9 28.1h0M264.2 101.3h0M316.5 67.9h0M285.5 76.0h0M271.3 78.1h0M267.1 104.6h0M251.9 75.5h0M254.5 100.3h0M236.7 60.7h0M234.0 57.8h0M281.4 72.9h0M246.3 94.8h0M259.7 26.9h0M274.1 13.5h0M264.8 74.0h0M274.7 68.8h0M270.0 78.7h0M250.2 97.2h0M275.2 51.9h0M253.4 14.4h0" stroke="#48c058" stroke-width="0.90" stroke-opacity="0.75" stroke-linecap="round"/><path d="M292.3 33.7h0M263.0 24.1h0M280.3 73.3h0M220.3 45.7h0M303.1 68.0h0M262.2 78.2h0M238.7 47.4h0M267.2 74.8h0M234.7 85.2h0M220.9 70.1h0M245.2 105.0h0M277.3 65.6h0M255.6 83.9h0M238.3 28.0h0M285.5 90.4h0M225.3 77.5h0M311.1 14.1h0M259.8 26.2h0M294.5 92.0h0M284.6 89.5h0M256.8 97.1h0M229.0 88.7h0M301.2 82.3h0M276.4 69.1h0M253.0 82.6h0M288.7 25.3h0M223.9 63.4h0M277.2 62.2h0M227.4 37.9h0M227.3 85.2h0M269.4 100.1h0M274.0 74.7h0M263.4 16.5h0M288.6 107.5h0M285.1 44.3h0M244.7 66.4h0M259.3 106.2h0M242.9 57.0h0" stroke="#38b84a" stroke-width="1.20" stroke-opacity="0.75" stroke-linecap="round"/><path d="M238.9 88.1h0M260.5 103.1h0M300.2 73.7h0M255.8 86.6h0M300.8 48.2h0M270.1 82.5h0M272.1 71.1h0M257.9 97.5h0M283.6 61.7h0M251.9 96.6h0M243.4 91.0h0M277.2 13.2h0M315.6 59.9h0M225.9 36.2h0M264.2 97.3h0M246.2 68.5h0M228.4 75.5h0M247.0 97.4h0M278.8 77.2h0" stroke="#2aa040" stroke-width="0.90" stroke-opacity="1.0" stroke-linecap="round"/><path d="M296.0 93.6h0M271.1 108.1h0M278.1 92.1h0M249.1 89.1h0M264.2 66.5h0M251.2 91.0h0M248.2 87.4h0M240.5 94.0h0M276.8 86.3h0M270.7 26.5h0M249.5 78.1h0M270.0 48.3h0M241.1 77.1h0" stroke="#30b048" stroke-width="0.90" stroke-opacity="0.5" stroke-linecap="round"/><path d="M243.1 78.3h0M291.9 79.4h0M258.3 23.0h0M223.3 26.4h0M226.2 22.8h0M264.9 90.3h0M270.1 94.1h0M237.7 48.6h0M244.5 73.8h0M232.7 86.8h0M285.9 20.0h0M230.6 95.6h0M267.3 108.0h0M222.3 15.1h0M261.8 85.8h0M225.0 101.7h0M260.5 90.6h0M281.0 14.8h0" stroke="#48c058" stroke-width="0.90" stroke-opacity="0.5" stroke-linecap="round"/><path d="M257.9 66.7h0M220.3 45.4h0M250.6 24.4h0M292.2 76.7h0M253.3 21.2h0M292.1 22.8h0M275.0 80.9h0M255.9 101.0h0M316.8 36.2h0M275.0 32.8h0M258.9 31.8h0M274.1 103.4h0" stroke="#2aa040" stroke-width="1.20" stroke-opacity="1.0" stroke-linecap="round"/><path d="M229.6 70.9h0M233.2 86.0h0M275.1 76.5h0M234.7 53.7h0M245.6 30.9h0M256.0 96.7h0M259.3 87.8h0M250.6 91.1h0M311.1 82.0h0M254.2 13.9h0M230.0 77.4h0M244.8 66.5h0M310.9 104.7h0M255.6 92.4h0M239.1 12.8h0M224.0 61.4h0M224.7 22.4h0M266.8 29.6h0M271.2 24.9h0M304.4 60.7h0M244.4 51.0h0M275.8 13.6h0M266.7 103.2h0M270.9 61.6h0M248.7 50.3h0M227.3 103.4h0M246.8 62.3h0M246.2 60.8h0M244.3 81.5h0M247.6 69.6h0M235.0 13.6h0M286.0 93.4h0M251.9 20.2h0M244.9 34.6h0M313.3 66.7h0M231.2 96.1h0M315.9 107.4h0M220.4 106.6h0M249.7 91.3h0M295.3 107.3h0M227.1 62.3h0M288.9 51.1h0M288.3 96.5h0" stroke="#48c058" stroke-width="1.50" stroke-opacity="0.75" stroke-linecap="round"/><path d="M257.5 55.9h0M248.6 68.4h0M267.4 103.8h0M286.1 107.0h0M301.7 97.5h0M292.0 94.0h0M281.2 69.1h0M250.7 79.6h0M249.7 80.2h0M258.7 76.0h0M283.3 95.5h0M260.6 81.9h0M240.1 92.5h0M275.0 31.5h0M239.3 22.5h0M308.5 68.1h0M281.0 27.5h0M224.8 97.9h0M242.5 18.7h0M295.6 68.6h0M260.4 87.8h0M286.3 85.6h0M235.1 50.3h0M281.0 86.2h0M227.5 97.5h0M232.3 29.1h0M241.2 21.9h0M250.8 30.6h0M266.7 89.6h0" stroke="#48c058" stroke-width="1.20" stroke-opacity="1.0" stroke-linecap="round"/><path d="M276.5 104.7h0M252.1 92.8h0M273.2 95.8h0M252.0 70.6h0M244.2 45.1h0M259.6 90.2h0M241.8 104.2h0M310.9 51.5h0M248.7 65.0h0M259.1 76.5h0M224.9 85.4h0M226.0 49.5h0M243.7 20.0h0M309.9 72.7h0M260.2 67.4h0M250.0 76.7h0M251.3 84.6h0M256.9 90.0h0M245.4 61.5h0M262.6 59.1h0M270.0 83.6h0M241.0 40.3h0M263.7 71.8h0M280.9 84.3h0M262.7 46.9h0M276.7 71.5h0M226.8 92.6h0M270.2 13.7h0M249.8 93.6h0M243.5 31.8h0M251.3 103.4h0M275.1 42.5h0M232.0 24.1h0M241.3 29.5h0M266.6 32.1h0M258.6 22.9h0" stroke="#30b048" stroke-width="0.90" stroke-opacity="0.75" stroke-linecap="round"/><path d="M239.9 82.2h0M239.8 81.5h0M225.0 29.9h0M264.7 80.5h0M261.6 34.1h0M263.8 74.3h0M247.0 88.5h0M236.2 89.9h0M226.2 73.0h0M240.4 102.0h0M222.8 38.1h0M280.7 74.7h0M246.7 104.0h0M259.1 75.3h0M227.7 26.6h0M251.0 108.2h0M249.1 36.6h0M223.7 30.0h0M309.6 102.0h0M248.6 89.0h0M289.9 70.4h0M252.1 21.9h0M262.0 75.7h0M304.0 70.6h0M300.0 92.0h0M279.4 46.1h0M248.2 100.9h0M282.9 76.5h0M273.4 86.8h0M237.4 42.6h0M268.6 28.9h0M222.0 37.9h0M266.9 99.2h0M255.4 32.3h0M248.8 65.6h0M312.0 34.0h0M253.1 69.5h0M272.8 24.5h0M229.6 57.2h0M262.3 90.4h0M246.7 21.5h0M314.9 62.1h0M242.9 90.3h0M221.9 14.3h0M253.3 72.4h0M264.8 29.1h0M228.3 67.3h0M288.7 86.0h0M275.1 104.6h0M276.8 18.2h0M268.9 83.9h0" stroke="#1a7a2a" stroke-width="0.90" stroke-opacity="0.75" stroke-linecap="round"/><path d="M265.1 76.3h0M314.2 35.1h0M261.2 67.7h0M306.1 19.6h0M271.5 74.1h0M264.1 77.4h0M311.5 64.1h0M280.5 95.6h0M272.5 84.8h0M265.7 95.0h0" stroke="#48c058" stroke-width="0.60" stroke-opacity="0.75" stroke-linecap="round"/><path d="M253.2 92.1h0M276.4 104.9h0M239.6 70.1h0M294.5 62.7h0M225.5 67.7h0M276.6 12.8h0M276.8 101.9h0M251.2 63.4h0M253.1 96.5h0M306.1 55.2h0M232.0 93.0h0M223.9 47.6h0M230.8 21.9h0M239.8 45.4h0M276.1 81.1h0M259.7 64.3h0M249.9 95.0h0M236.7 48.0h0M236.7 56.1h0" stroke="#1a7a2a" stroke-width="1.20" stroke-opacity="1.0" stroke-linecap="round"/><path d="M250.4 39.0h0M280.6 68.8h0M230.9 89.9h0M269.6 18.7h0M279.4 13.0h0M276.8 12.7h0M243.6 31.2h0M308.6 38.2h0M271.3 106.9h0M244.1 94.4h0M282.6 29.1h0M253.4 64.4h0M270.3 66.9h0M228.2 76.0h0M279.4 88.6h0M226.1 59.5h0M267.3 85.9h0M244.4 87.6h0M226.1 73.9h0M254.3 53.6h0M289.3 47.8h0M235.9 13.4h0M248.1 71.9h0M242.6 98.7h0" stroke="#1a7a2a" stroke-width="0.90" stroke-opacity="0.5" stroke-linecap="round"/><path d="M242.4 41.4h0M255.3 42.0h0M223.3 82.8h0M272.3 15.7h0M266.3 89.5h0M300.4 14.6h0M240.1 82.6h0M271.1 107.5h0M252.9 76.0h0M245.7 23.4h0M260.4 97.0h0M265.3 12.6h0M235.7 97.4h0M305.0 59.9h0M254.4 64.7h0M280.1 59.0h0" stroke="#2aa040" stroke-width="1.20" stroke-opacity="0.5" stroke-linecap="round"/><path d="M247.8 73.7h0M225.2 26.9h0M251.2 17.2h0M280.7 79.2h0M299.6 70.3h0M287.8 31.2h0M311.7 32.4h0M263.4 83.4h0M310.8 92.9h0M248.5 26.3h0M263.1 105.6h0M288.5 77.7h0M257.6 107.2h0M223.3 85.1h0M246.5 80.9h0M316.9 82.6h0M279.8 67.5h0M283.7 18.7h0M280.6 66.8h0M273.3 76.0h0M273.4 74.1h0M302.7 32.2h0M310.8 46.1h0M281.9 95.5h0M264.0 78.3h0M289.7 56.7h0M268.5 93.0h0M222.6 67.0h0M240.1 75.7h0M249.0 20.4h0M270.0 88.0h0M244.8 39.2h0M253.3 97.6h0M249.9 35.7h0M255.9 101.1h0M227.9 28.0h0M232.4 106.5h0M252.8 107.7h0M237.9 22.7h0M245.3 81.6h0M311.6 99.6h0M290.5 59.7h0" stroke="#48c058" stroke-width="1.20" stroke-opacity="0.75" stroke-linecap="round"/><path d="M236.9 28.1h0M224.1 102.2h0M257.8 28.6h0M271.1 107.4h0M264.2 74.9h0M288.3 102.8h0M297.7 14.5h0M223.7 51.9h0M309.7 57.1h0M269.0 67.8h0M252.4 70.1h0M252.4 63.0h0M238.9 77.5h0M222.6 101.7h0M226.2 63.6h0M284.2 67.7h0M243.7 77.1h0M235.8 28.3h0M269.4 31.7h0M256.4 63.0h0M264.0 70.0h0M225.4 107.4h0M269.2 21.0h0M262.1 93.8h0M248.7 80.5h0M237.3 73.4h0M274.7 42.9h0M290.0 85.8h0M253.6 75.7h0M257.3 99.2h0M240.2 34.8h0M247.3 39.2h0M224.8 52.0h0M259.2 92.4h0M276.0 27.2h0M233.3 102.8h0M233.6 92.6h0M277.1 106.9h0M223.7 40.2h0" stroke="#38b84a" stroke-width="0.90" stroke-opacity="0.75" stroke-linecap="round"/><path d="M248.9 74.3h0M246.7 66.7h0M258.5 77.4h0M237.8 26.9h0M232.8 35.2h0M276.2 12.6h0M294.0 78.9h0M260.1 71.6h0M293.5 84.5h0M313.9 39.5h0M247.7 93.2h0M273.5 98.3h0M272.6 106.3h0M257.8 73.6h0M281.9 62.1h0M273.3 82.7h0M222.0 25.5h0M278.7 84.7h0M302.7 30.1h0M236.4 21.3h0M233.8 107.5h0M229.6 37.5h0M229.7 73.8h0M249.1 100.1h0M228.0 34.2h0M288.9 83.8h0M277.1 82.7h0M253.4 29.5h0M287.9 77.0h0M247.3 19.6h0M240.3 53.9h0M264.9 71.4h0M287.6 92.2h0M239.3 102.6h0M247.7 69.3h0M249.0 95.9h0M269.7 102.1h0M241.8 16.1h0M248.6 38.4h0M257.6 75.3h0M264.6 75.8h0M257.1 85.6h0M313.0 93.8h0M282.9 86.8h0M224.9 18.1h0M286.0 78.6h0M257.2 24.5h0M262.7 20.5h0M272.4 80.5h0" stroke="#1a7a2a" stroke-width="1.20" stroke-opacity="0.75" stroke-linecap="round"/><path d="M291.6 24.1h0M220.4 31.0h0M260.3 69.7h0M232.7 52.3h0M290.0 68.8h0M251.0 38.1h0M240.9 41.8h0M260.1 85.6h0M279.7 85.4h0M259.2 74.9h0M296.5 84.6h0" stroke="#30b048" stroke-width="1.50" stroke-opacity="1.0" stroke-linecap="round"/><path d="M250.1 80.9h0M300.5 43.2h0M264.4 96.5h0M229.4 84.4h0M249.3 91.8h0M245.2 19.8h0M230.7 34.3h0M254.3 34.4h0M290.3 74.9h0M273.5 88.8h0M312.3 79.6h0M245.6 47.9h0M259.6 25.6h0M271.3 23.6h0M295.7 52.8h0M237.5 62.5h0M311.0 78.1h0" stroke="#38b84a" stroke-width="1.50" stroke-opacity="1.0" stroke-linecap="round"/><path d="M229.3 26.7h0M288.5 88.6h0M246.9 100.9h0M290.4 62.7h0M314.2 82.9h0M281.4 21.9h0M276.1 74.3h0M316.6 103.1h0M271.8 99.8h0M315.1 41.2h0M234.3 39.1h0M251.1 28.0h0M300.0 54.9h0M240.9 23.6h0M237.9 60.9h0M302.3 92.8h0M284.8 30.8h0M274.8 71.0h0M233.5 21.5h0M260.8 91.2h0M239.3 12.1h0M244.0 92.7h0M228.6 70.9h0" stroke="#2aa040" stroke-width="1.50" stroke-opacity="0.5" stroke-linecap="round"/><path d="M233.2 56.8h0M252.8 97.2h0M249.7 21.4h0M256.8 68.2h0M275.2 27.7h0M222.9 67.5h0M295.7 89.9h0M260.3 21.1h0M238.2 103.4h0M240.0 106.0h0M281.2 87.1h0M269.5 66.7h0M270.2 81.2h0M254.7 100.8h0M239.8 39.3h0M246.5 107.9h0M259.6 70.0h0M313.0 19.3h0M257.2 106.0h0M251.4 93.6h0M254.0 88.2h0M220.0 104.4h0M276.3 96.1h0M231.8 96.5h0M290.2 77.2h0" stroke="#30b048" stroke-width="0.90" stroke-opacity="1.0" stroke-linecap="round"/><path d="M281.7 101.4h0M306.9 34.0h0M245.3 45.1h0M288.0 20.8h0M252.2 69.4h0M260.5 15.0h0M265.2 79.1h0M268.9 18.5h0M233.9 89.2h0M249.3 80.4h0M225.7 32.0h0M232.3 103.4h0M227.6 30.0h0M244.7 59.3h0M225.9 80.8h0M227.8 103.7h0M312.1 48.1h0M224.0 107.7h0M310.1 99.2h0M237.1 41.1h0M221.1 16.8h0M239.4 81.1h0M249.4 45.4h0M226.4 14.0h0M248.4 33.8h0" stroke="#30b048" stroke-width="1.20" stroke-opacity="1.0" stroke-linecap="round"/><path d="M250.1 96.9h0M237.0 12.0h0M250.4 31.2h0M289.8 73.6h0M232.2 27.0h0M245.9 13.2h0M248.8 90.7h0M261.5 95.2h0M223.0 27.1h0M246.9 13.7h0M240.4 54.3h0M292.8 106.5h0M315.8 35.2h0M222.6 51.3h0M250.1 104.3h0M273.3 102.2h0M306.3 95.0h0M248.2 90.8h0M280.2 70.3h0M249.1 99.5h0M250.4 104.2h0M268.4 89.4h0M230.8 22.5h0M274.7 99.8h0M310.5 70.7h0M281.3 85.3h0M249.9 66.4h0M281.1 64.3h0M248.8 64.0h0M224.3 57.2h0M257.9 76.5h0M226.0 30.5h0M242.8 74.1h0M233.9 97.3h0M297.9 16.9h0M258.5 106.9h0M237.4 79.0h0M270.1 74.6h0M257.7 99.5h0" stroke="#30b048" stroke-width="1.50" stroke-opacity="0.75" stroke-linecap="round"/><path d="M275.8 66.2h0M311.0 77.6h0M242.5 22.9h0M267.9 75.1h0M252.0 65.3h0M282.3 56.4h0M255.7 99.7h0M242.9 64.4h0M259.2 106.9h0M238.3 90.5h0M270.1 99.7h0M259.4 18.3h0M246.3 80.8h0M228.9 22.1h0M223.8 17.3h0M262.6 72.1h0M249.0 102.0h0" stroke="#2aa040" stroke-width="1.50" stroke-opacity="1.0" stroke-linecap="round"/><path d="M269.0 81.3h0M221.8 81.0h0M260.5 87.1h0M261.2 68.5h0M293.9 23.4h0M223.7 16.3h0M282.2 96.2h0M236.8 83.5h0M302.4 67.2h0M271.1 100.3h0M268.5 87.0h0M228.4 61.5h0M236.1 107.4h0M273.3 77.7h0M272.1 67.0h0M249.6 53.0h0M237.6 107.0h0M226.3 47.9h0M305.9 17.2h0M250.1 103.0h0M261.4 13.4h0" stroke="#38b84a" stroke-width="1.20" stroke-opacity="1.0" stroke-linecap="round"/><path d="M251.0 101.0h0M261.3 15.7h0M248.4 87.7h0M249.2 20.2h0M247.2 97.4h0M263.2 66.6h0M264.7 95.7h0M245.7 17.4h0M281.6 92.8h0M295.6 81.5h0M267.3 29.0h0M260.2 100.8h0M275.4 95.9h0M242.2 30.8h0M262.5 85.8h0M258.3 78.9h0M245.3 63.0h0M232.3 102.2h0M254.6 81.7h0M275.7 101.8h0" stroke="#2aa040" stroke-width="0.90" stroke-opacity="0.5" stroke-linecap="round"/><path d="M272.7 30.4h0M250.9 99.9h0M278.8 99.2h0" stroke="#30b048" stroke-width="0.60" stroke-opacity="1.0" stroke-linecap="round"/><path d="M242.4 96.8h0M252.5 100.6h0M256.6 103.4h0M301.9 84.1h0M225.4 78.8h0M313.0 43.6h0M228.0 51.9h0M282.8 90.7h0M264.1 24.3h0M248.3 21.6h0M253.7 66.0h0M261.4 12.2h0" stroke="#38b84a" stroke-width="0.90" stroke-opacity="0.5" stroke-linecap="round"/><path d="M269.1 98.6h0M271.9 78.2h0M223.4 96.8h0" stroke="#1a7a2a" stroke-width="0.60" stroke-opacity="1.0" stroke-linecap="round"/><path d="M263.8 95.5h0M250.8 21.7h0M242.5 51.0h0M257.1 19.6h0" stroke="#1a7a2a" stroke-width="0.60" stroke-opacity="0.5" stroke-linecap="round"/><path d="M265.8 106.0h0M268.2 26.2h0M281.8 82.0h0M223.0 104.4h0M263.1 100.1h0M256.7 69.2h0M251.1 69.6h0M269.9 81.3h0M223.2 64.2h0M305.7 14.8h0M242.8 81.2h0M267.3 98.3h0M269.3 94.5h0M228.9 69.5h0M281.8 62.6h0M243.5 50.1h0M245.3 70.7h0M255.3 77.8h0M312.5 71.1h0M259.1 17.3h0M225.1 102.2h0M230.3 79.1h0M286.0 22.3h0M263.9 26.3h0M271.9 90.7h0M265.9 91.7h0M254.9 14.1h0M268.3 97.8h0M227.5 37.3h0M315.8 28.6h0M223.7 52.1h0M292.1 87.3h0M289.1 32.5h0M252.7 20.6h0M233.9 101.2h0M272.0 50.5h0" stroke="#30b048" stroke-width="1.20" stroke-opacity="0.75" stroke-linecap="round"/><path d="M306.3 90.8h0M305.3 24.2h0M228.0 12.5h0M252.8 39.1h0M265.7 86.9h0M272.7 62.3h0M268.1 81.0h0M226.6 17.3h0M268.9 82.6h0M245.9 64.3h0M236.8 22.7h0M260.3 63.2h0M241.6 102.4h0M262.0 63.6h0M255.4 98.5h0M314.2 89.0h0M284.9 91.3h0M261.0 26.7h0M266.8 25.0h0M306.2 15.5h0M260.5 108.2h0" stroke="#48c058" stroke-width="1.50" stroke-opacity="0.5" stroke-linecap="round"/><path d="M257.3 107.0h0M226.9 72.3h0M290.1 68.8h0M281.9 66.4h0M245.8 77.4h0M282.2 87.6h0M249.8 91.9h0M283.0 40.0h0M298.1 46.1h0M244.1 38.1h0M236.7 54.1h0M261.9 101.2h0M265.3 17.3h0M230.1 16.6h0M287.4 101.0h0M250.9 63.1h0M267.3 96.7h0M284.5 19.2h0M312.7 106.9h0M238.6 65.6h0M284.7 97.8h0M245.4 70.5h0M287.5 18.2h0" stroke="#2aa040" stroke-width="1.50" stroke-opacity="0.75" stroke-linecap="round"/><path d="M273.6 70.8h0M265.2 71.6h0M226.0 53.5h0M272.6 65.1h0M237.3 49.6h0M276.0 15.1h0M233.5 50.8h0M268.4 62.6h0M261.4 32.0h0M251.3 70.9h0M266.3 12.0h0M254.0 96.5h0M259.7 16.1h0M262.0 96.1h0M226.0 73.5h0M222.0 29.4h0M253.0 68.5h0M235.4 103.3h0M259.8 85.9h0M314.1 59.8h0M264.5 100.7h0M278.6 81.3h0M226.8 83.2h0M255.3 96.0h0M239.7 37.8h0M242.5 30.6h0M295.8 32.0h0M244.7 96.4h0M242.6 30.7h0M247.0 103.6h0M251.0 26.5h0M248.7 63.9h0M252.5 70.0h0M265.8 30.0h0M263.6 47.6h0M222.0 74.0h0M237.3 86.8h0M223.1 52.2h0M293.2 43.7h0M239.0 100.1h0M242.0 92.8h0M256.2 62.8h0M249.0 73.1h0M240.4 84.5h0M294.9 41.4h0M288.1 40.2h0M222.5 66.6h0M241.9 34.0h0" stroke="#2aa040" stroke-width="1.20" stroke-opacity="0.75" stroke-linecap="round"/><path d="M238.5 44.4h0M238.5 72.4h0M315.5 18.3h0M251.0 98.9h0M279.7 24.5h0M224.9 44.9h0M259.0 95.3h0M224.3 96.8h0M235.9 38.1h0M253.9 94.5h0M237.4 52.3h0M267.4 83.6h0M234.5 40.9h0M237.2 34.2h0M223.5 35.8h0M264.6 107.2h0M231.3 91.0h0M306.4 19.0h0M250.7 81.8h0M220.6 46.5h0" stroke="#48c058" stroke-width="0.90" stroke-opacity="1.0" stroke-linecap="round"/><path d="M273.3 71.9h0M264.0 27.8h0M241.3 93.8h0M246.4 97.8h0M302.2 51.1h0M252.2 49.9h0M268.8 88.6h0M276.7 101.2h0" stroke="#38b84a" stroke-width="0.60" stroke-opacity="0.75" stroke-linecap="round"/><path d="M261.6 79.4h0M277.6 97.4h0M224.9 88.4h0M278.9 77.0h0M238.0 44.2h0M253.0 100.0h0M230.4 64.9h0M271.2 69.9h0M245.5 35.8h0M274.4 100.1h0M236.2 94.8h0M242.6 92.8h0M268.7 70.7h0" stroke="#38b84a" stroke-width="1.50" stroke-opacity="0.5" stroke-linecap="round"/><path d="M308.7 107.4h0M268.4 93.3h0M235.0 92.2h0" stroke="#38b84a" stroke-width="0.60" stroke-opacity="1.0" stroke-linecap="round"/><path d="M239.8 80.8h0M246.1 21.5h0M266.4 22.2h0M241.5 74.4h0M238.5 24.3h0M280.9 97.1h0M312.4 80.8h0M248.3 64.2h0M254.1 88.6h0M286.1 68.1h0M222.9 107.0h0M237.6 91.6h0M250.0 96.4h0" stroke="#38b84a" stroke-width="0.90" stroke-opacity="1.0" stroke-linecap="round"/><path d="M242.0 48.3h0M258.7 92.4h0M255.0 26.5h0M263.8 59.0h0M230.7 48.7h0M261.7 14.5h0M227.6 37.4h0M255.4 70.9h0M256.6 66.9h0M254.7 105.2h0M234.8 16.8h0M265.8 80.2h0M222.0 53.7h0M263.0 21.4h0M286.8 33.3h0M312.2 83.9h0M250.7 16.5h0M233.6 92.7h0M230.2 87.2h0M291.5 106.4h0" stroke="#30b048" stroke-width="1.20" stroke-opacity="0.5" stroke-linecap="round"/><path d="M221.2 16.3h0M292.3 32.8h0M259.2 28.0h0M259.6 33.6h0M280.2 80.1h0M275.9 76.9h0" stroke="#30b048" stroke-width="0.60" stroke-opacity="0.75" stroke-linecap="round"/><path d="M291.6 81.3h0M247.6 79.6h0M244.7 60.4h0M246.1 15.5h0M292.3 85.2h0M259.1 73.1h0M254.7 94.2h0M247.7 87.7h0M240.8 78.5h0M244.9 32.2h0M282.2 77.2h0M285.3 99.6h0M263.1 81.1h0M283.9 71.1h0M277.6 99.0h0M277.5 52.3h0M239.1 78.4h0M313.2 77.1h0M227.6 97.1h0" stroke="#1a7a2a" stroke-width="0.90" stroke-opacity="1.0" stroke-linecap="round"/><path d="M285.2 76.3h0M233.6 59.7h0M283.9 36.3h0M267.3 99.0h0M253.4 87.4h0M301.7 90.9h0M293.9 75.8h0M313.9 40.0h0M228.0 73.3h0M256.9 66.9h0M231.1 97.6h0M243.3 14.3h0" stroke="#38b84a" stroke-width="1.20" stroke-opacity="0.5" stroke-linecap="round"/><path d="M287.0 19.2h0M277.1 100.2h0M288.7 20.7h0M282.8 84.8h0M254.8 102.3h0M222.6 48.0h0M231.3 39.3h0" stroke="#38b84a" stroke-width="0.60" stroke-opacity="0.5" stroke-linecap="round"/><path d="M224.3 88.9h0M243.3 103.8h0M220.1 83.2h0M224.2 80.9h0M259.3 91.1h0" stroke="#2aa040" stroke-width="0.60" stroke-opacity="0.75" stroke-linecap="round"/><path d="M246.1 34.3h0M244.2 27.8h0M301.3 22.8h0M244.0 18.8h0M257.8 99.8h0M236.7 92.1h0M292.8 88.0h0M233.9 12.1h0M258.2 81.0h0M256.0 95.9h0M220.1 36.6h0M257.4 100.5h0M221.9 28.2h0M233.1 34.9h0" stroke="#30b048" stroke-width="1.50" stroke-opacity="0.5" stroke-linecap="round"/><path d="M245.7 86.7h0M284.1 16.0h0M300.5 92.0h0M253.2 23.5h0M272.5 105.2h0M266.9 20.0h0M232.5 104.7h0M258.2 66.0h0M235.1 53.1h0M275.3 77.4h0M232.2 95.4h0M258.8 62.8h0M240.8 16.8h0M247.6 26.4h0M251.6 84.9h0M276.5 62.2h0" stroke="#1a7a2a" stroke-width="1.50" stroke-opacity="0.5" stroke-linecap="round"/><path d="M266.8 98.0h0M279.9 40.3h0M248.7 89.9h0M269.5 69.2h0M236.2 32.0h0M241.8 67.6h0M240.8 12.7h0M281.0 44.0h0M278.3 78.8h0M258.2 66.0h0M287.9 80.8h0M269.2 29.2h0M265.4 102.7h0M265.6 17.0h0" stroke="#48c058" stroke-width="1.50" stroke-opacity="1.0" stroke-linecap="round"/><path d="M273.2 14.2h0M251.7 73.8h0" stroke="#48c058" stroke-width="0.60" stroke-opacity="1.0" stroke-linecap="round"/><path d="M257.9 70.4h0M287.5 86.0h0M220.6 23.0h0M274.5 24.0h0M229.0 18.8h0" stroke="#2aa040" stroke-width="0.60" stroke-opacity="0.5" stroke-linecap="round"/><path d="M231.2 83.6h0M286.9 63.9h0" stroke="#30b048" stroke-width="0.60" stroke-opacity="0.5" stroke-linecap="round"/><path d="M312.6 98.2h0M228.5 69.7h0M268.2 107.2h0M256.4 18.4h0M259.4 82.3h0M266.4 83.1h0M252.7 37.5h0M254.2 75.7h0M245.1 101.8h0M236.2 26.0h0M235.6 95.4h0" stroke="#1a7a2a" stroke-width="1.50" stroke-opacity="1.0" stroke-linecap="round"/><path d="M269.6 62.0h0M269.8 105.8h0M264.6 94.8h0" stroke="#48c058" stroke-width="0.60" stroke-opacity="0.5" stroke-linecap="round"/><path d="M221.7 18.9h0M286.2 65.0h0M253.0 103.6h0M282.8 70.3h0M268.7 82.9h0M290.1 64.0h0M262.3 105.6h0" stroke="#1a7a2a" stroke-width="0.60" stroke-opacity="0.75" stroke-linecap="round"/><path d="M296.4 75.9h0M255.8 70.6h0" stroke="#2aa040" stroke-width="0.60" stroke-opacity="1.0" stroke-linecap="round"/>
</g>
<g clip-path="url(#cp4)">
<rect x="316.50" y="12.00" width="97.50" height="96.20" fill="#010000" stroke="none" stroke-width="0.6" />
<path d="M326.7,73.6 C327.0,75.2 327.7,80.9 328.2,83.2 C328.7,85.4 328.9,86.7 329.8,87.0 C330.6,87.4 332.2,87.7 333.1,85.1 C334.0,82.5 334.0,75.3 335.0,71.6 C336.0,68.0 336.3,64.7 338.9,63.0 C341.6,61.2 345.9,61.1 351.0,61.1 C356.1,61.0 362.9,62.4 369.5,62.7 C376.2,63.0 387.4,62.7 391.0,62.7" fill="none" stroke="#c8702c" stroke-width="0.9" stroke-opacity="0.95" stroke-linecap="round" stroke-dasharray="0.1 1.1"/>
<path d="M370.5 98.7h0M374.5 22.2h0M395.4 53.5h0M316.8 66.0h0M392.7 24.1h0M317.8 46.0h0M333.1 43.9h0M359.7 25.0h0" stroke="#d07a30" stroke-width="0.60" stroke-opacity="0.5" stroke-linecap="round"/><path d="M390.1 94.4h0M362.8 44.7h0M404.4 40.5h0M358.8 66.3h0M359.1 105.8h0M356.0 34.0h0M396.2 58.1h0M409.1 72.2h0M357.3 36.2h0M321.8 21.5h0M383.6 30.4h0M345.2 54.2h0M402.2 36.3h0M398.5 12.5h0M359.6 26.9h0M332.1 63.2h0M324.0 49.9h0M410.9 27.8h0M361.0 34.8h0M331.6 88.4h0M384.1 67.8h0M394.7 47.1h0M389.4 49.0h0M398.1 41.8h0" stroke="#804018" stroke-width="0.90" stroke-opacity="0.75" stroke-linecap="round"/><path d="M376.2 20.5h0M345.9 93.9h0M384.0 25.4h0M334.9 43.3h0M353.5 42.0h0M372.4 23.0h0M327.3 20.9h0M407.4 50.1h0M357.2 16.5h0M395.4 97.5h0M372.5 40.3h0M357.6 26.9h0M409.3 15.1h0M408.1 30.3h0M382.5 92.0h0M346.0 18.3h0M377.1 58.0h0M398.0 41.3h0M376.8 43.4h0M316.5 97.3h0M355.0 21.1h0M370.9 13.9h0M399.3 17.3h0M413.0 69.7h0M351.7 34.2h0M318.3 46.0h0M364.7 20.3h0M406.3 21.1h0M321.7 88.7h0M345.1 21.5h0M345.6 89.2h0M378.0 12.2h0M323.3 27.6h0" stroke="#a05a20" stroke-width="0.90" stroke-opacity="0.75" stroke-linecap="round"/><path d="M337.5 65.8h0M400.3 68.4h0M383.2 40.1h0M352.1 46.6h0M319.2 89.9h0M411.9 18.6h0M328.2 21.1h0" stroke="#a05a20" stroke-width="1.20" stroke-opacity="0.75" stroke-linecap="round"/><path d="M326.9 96.1h0M368.2 83.7h0M325.9 23.6h0M402.8 83.2h0M385.2 80.4h0M366.7 24.7h0M334.2 12.3h0M385.9 69.4h0M345.6 21.6h0M359.9 61.2h0M379.6 48.2h0M410.6 26.1h0" stroke="#a05a20" stroke-width="1.20" stroke-opacity="0.5" stroke-linecap="round"/><path d="M368.2 62.2h0M393.7 35.7h0M414.0 13.4h0M354.5 72.8h0M372.3 89.5h0M325.0 24.7h0M407.4 34.7h0M378.7 26.2h0M374.7 61.2h0M326.0 24.8h0M403.3 48.4h0M323.4 92.0h0M382.0 16.3h0" stroke="#c06a28" stroke-width="0.60" stroke-opacity="0.75" stroke-linecap="round"/><path d="M362.9 81.5h0M398.0 51.7h0M406.2 66.1h0M326.4 103.9h0M366.6 14.7h0M400.6 44.4h0M339.6 28.0h0M344.7 22.8h0" stroke="#a05a20" stroke-width="0.60" stroke-opacity="0.75" stroke-linecap="round"/><path d="M382.2 23.6h0M321.0 55.3h0M374.9 18.6h0M348.9 15.3h0M364.3 93.0h0M356.7 71.6h0M340.1 19.9h0M375.5 24.9h0" stroke="#6a3010" stroke-width="0.60" stroke-opacity="0.75" stroke-linecap="round"/><path d="M319.8 60.3h0M402.2 38.1h0M400.7 56.5h0M340.2 81.3h0M392.4 61.5h0M330.9 61.6h0M353.9 23.2h0M405.2 21.6h0M323.5 74.8h0M375.5 28.3h0M375.1 21.4h0M325.8 53.8h0M369.1 30.6h0" stroke="#6a3010" stroke-width="1.20" stroke-opacity="0.5" stroke-linecap="round"/><path d="M337.9 91.8h0M408.1 24.3h0M400.6 34.5h0M399.4 65.1h0M362.2 12.1h0M406.7 50.2h0M376.6 50.0h0M379.6 44.1h0M406.6 31.4h0M346.7 14.4h0" stroke="#804018" stroke-width="1.20" stroke-opacity="0.5" stroke-linecap="round"/><path d="M371.0 20.3h0M339.3 49.8h0M381.2 93.6h0M391.1 31.5h0M397.6 26.2h0M389.6 49.5h0M346.2 29.3h0M350.0 44.1h0M393.6 16.2h0M316.6 89.3h0M333.3 16.9h0M325.0 96.3h0M344.7 80.5h0M383.9 24.5h0M373.8 16.5h0M399.9 40.5h0M393.2 15.6h0" stroke="#6a3010" stroke-width="0.90" stroke-opacity="0.75" stroke-linecap="round"/><path d="M400.3 42.7h0M356.6 25.2h0M324.2 33.9h0M388.2 76.1h0M338.1 39.5h0M350.7 54.6h0M361.8 60.9h0M339.6 87.9h0M326.1 49.3h0M347.7 36.9h0M395.6 59.0h0M336.0 102.4h0M344.5 21.6h0M352.5 46.9h0M328.9 20.6h0M337.5 23.7h0M392.6 90.2h0M400.5 22.6h0M324.6 61.1h0M388.9 66.3h0M376.1 14.8h0M318.8 36.3h0M412.8 51.1h0M412.9 40.4h0M325.3 44.5h0M346.8 106.9h0M395.5 41.6h0M374.7 20.1h0M349.7 46.4h0M377.0 24.3h0M397.7 12.8h0" stroke="#804018" stroke-width="0.90" stroke-opacity="0.5" stroke-linecap="round"/><path d="M343.3 31.9h0M358.5 23.7h0M363.4 28.1h0M375.6 49.8h0M392.3 34.0h0M328.1 63.6h0M410.8 82.5h0M379.6 41.1h0M329.7 94.4h0M360.6 48.9h0M368.8 49.9h0M378.0 20.4h0M372.4 17.7h0M328.2 92.7h0M338.0 29.5h0M340.8 29.2h0M388.0 62.4h0M349.6 14.4h0M383.0 54.5h0M369.7 31.9h0M412.0 45.3h0M404.7 93.2h0M342.8 46.8h0M412.4 103.5h0M348.6 35.6h0M394.0 16.3h0M327.4 59.5h0M332.6 45.4h0" stroke="#a05a20" stroke-width="0.90" stroke-opacity="0.5" stroke-linecap="round"/><path d="M413.8 22.0h0M332.8 32.0h0M396.0 41.2h0M373.2 51.2h0M336.6 42.4h0M324.8 26.5h0M412.5 34.2h0M402.7 24.7h0M393.0 79.5h0M334.4 66.5h0M367.2 71.4h0M390.5 13.3h0M398.3 42.8h0M406.1 83.7h0M324.5 43.9h0" stroke="#c06a28" stroke-width="0.90" stroke-opacity="0.75" stroke-linecap="round"/><path d="M375.6 42.7h0M407.9 107.1h0M325.5 15.5h0M359.6 51.6h0M317.4 84.9h0M317.4 41.9h0M409.6 62.2h0M349.6 20.1h0" stroke="#c06a28" stroke-width="0.60" stroke-opacity="0.5" stroke-linecap="round"/><path d="M384.1 15.2h0M368.4 21.5h0M332.4 71.3h0M389.6 37.1h0M324.0 59.9h0" stroke="#6a3010" stroke-width="0.90" stroke-opacity="1.0" stroke-linecap="round"/><path d="M337.9 84.9h0M324.9 47.6h0M393.6 42.0h0M413.9 20.5h0M371.0 18.8h0M383.1 46.5h0" stroke="#a05a20" stroke-width="0.90" stroke-opacity="1.0" stroke-linecap="round"/><path d="M352.0 38.4h0M382.0 37.1h0M392.4 38.7h0M371.5 83.7h0M325.5 64.8h0M363.0 72.6h0M362.4 27.2h0M384.4 70.1h0M412.1 78.5h0M319.6 15.0h0M324.0 17.9h0" stroke="#a05a20" stroke-width="0.60" stroke-opacity="0.5" stroke-linecap="round"/><path d="M338.0 12.8h0M403.3 36.6h0M389.2 86.8h0M342.0 29.4h0M379.5 82.3h0M370.5 25.4h0M395.8 22.4h0M379.7 41.8h0M324.4 37.7h0M327.0 69.9h0" stroke="#804018" stroke-width="0.60" stroke-opacity="0.75" stroke-linecap="round"/><path d="M381.8 31.5h0M370.0 64.6h0M334.2 63.6h0M366.9 45.4h0M401.6 14.2h0M366.4 103.1h0M343.2 20.0h0M352.5 38.0h0M323.8 27.8h0M330.5 90.3h0M357.9 35.8h0M328.7 23.4h0M404.0 83.1h0M336.3 89.7h0M324.2 92.3h0M388.4 95.0h0M412.6 54.6h0M410.3 31.9h0M387.1 26.7h0M379.5 35.9h0M383.4 19.0h0M392.3 18.9h0M411.2 21.8h0M388.3 23.3h0M400.4 52.6h0M409.8 22.5h0M318.4 64.7h0" stroke="#d07a30" stroke-width="0.90" stroke-opacity="0.5" stroke-linecap="round"/><path d="M396.5 49.8h0M331.1 17.9h0M348.4 80.6h0M368.2 65.3h0M354.0 66.4h0M333.3 92.9h0M359.4 63.9h0M410.7 17.5h0M401.4 21.9h0M342.9 38.6h0M396.3 91.0h0M358.5 37.5h0M407.6 22.0h0M368.6 81.6h0M341.6 76.5h0M373.2 19.4h0M344.2 36.9h0M357.2 29.4h0M326.6 52.2h0M374.6 36.6h0M355.5 18.4h0M402.1 95.4h0M338.1 22.5h0M406.2 38.1h0" stroke="#d07a30" stroke-width="0.90" stroke-opacity="0.75" stroke-linecap="round"/><path d="M365.6 106.2h0M339.7 73.4h0M320.4 69.1h0M357.3 53.8h0M356.2 105.5h0M348.0 107.2h0M354.7 97.4h0M337.0 37.5h0M374.1 22.4h0M361.2 43.3h0M406.3 89.0h0M357.2 15.9h0" stroke="#804018" stroke-width="0.60" stroke-opacity="0.5" stroke-linecap="round"/><path d="M336.4 19.2h0M327.6 106.5h0M359.3 22.9h0M339.1 33.5h0M359.7 16.5h0M320.6 69.9h0M319.4 24.2h0M359.5 61.3h0M339.4 30.7h0M341.7 81.3h0M400.9 14.1h0M370.4 15.5h0M343.5 100.4h0M317.5 47.5h0M322.4 84.5h0M367.1 34.9h0M369.7 104.5h0M398.9 21.5h0M327.5 79.3h0M349.7 34.5h0M317.8 33.3h0M360.5 70.0h0M394.0 66.8h0M350.2 43.4h0M321.1 21.3h0" stroke="#c06a28" stroke-width="0.90" stroke-opacity="0.5" stroke-linecap="round"/><path d="M406.9 94.6h0M413.5 34.7h0M406.1 56.1h0M382.6 65.8h0" stroke="#c06a28" stroke-width="0.90" stroke-opacity="1.0" stroke-linecap="round"/><path d="M353.3 31.6h0M345.5 59.7h0" stroke="#6a3010" stroke-width="0.60" stroke-opacity="1.0" stroke-linecap="round"/><path d="M354.6 49.8h0M344.5 80.3h0M338.6 48.9h0M361.8 48.1h0M334.3 98.0h0M381.7 41.2h0M334.5 71.1h0M386.9 91.2h0M383.4 35.8h0M351.7 35.9h0M391.4 94.8h0M385.6 21.9h0" stroke="#6a3010" stroke-width="0.60" stroke-opacity="0.5" stroke-linecap="round"/><path d="M369.1 106.9h0M336.9 71.2h0M328.5 42.1h0M400.4 71.6h0M380.8 20.6h0M329.4 34.8h0M410.7 63.4h0M412.5 41.0h0M411.8 64.2h0M378.0 30.1h0M349.7 12.1h0M394.4 66.5h0M342.2 108.1h0M319.3 75.0h0M412.8 26.4h0M323.8 70.5h0M375.4 24.3h0M339.5 70.9h0M367.8 74.3h0M329.3 75.9h0" stroke="#6a3010" stroke-width="0.90" stroke-opacity="0.5" stroke-linecap="round"/><path d="M369.5 23.2h0M369.3 49.5h0M373.3 84.4h0M354.3 106.1h0M348.7 35.6h0M360.8 17.5h0" stroke="#d07a30" stroke-width="1.20" stroke-opacity="0.5" stroke-linecap="round"/><path d="M373.8 18.9h0M333.5 20.3h0M370.9 14.4h0M396.4 105.9h0M376.3 22.5h0" stroke="#d07a30" stroke-width="0.90" stroke-opacity="1.0" stroke-linecap="round"/><path d="M354.1 29.6h0M379.9 60.3h0" stroke="#d07a30" stroke-width="0.60" stroke-opacity="1.0" stroke-linecap="round"/><path d="M364.0 42.1h0M359.5 16.6h0M382.1 105.3h0M318.8 106.6h0M327.0 70.2h0M386.6 87.3h0M342.5 49.0h0M370.4 68.9h0M369.1 50.2h0M382.9 27.1h0M379.5 30.4h0" stroke="#6a3010" stroke-width="1.20" stroke-opacity="0.75" stroke-linecap="round"/><path d="M363.3 71.8h0M347.8 105.0h0M353.4 102.6h0M321.1 15.8h0M322.1 45.4h0" stroke="#804018" stroke-width="0.90" stroke-opacity="1.0" stroke-linecap="round"/><path d="M321.8 98.4h0M407.1 87.8h0" stroke="#6a3010" stroke-width="1.20" stroke-opacity="1.0" stroke-linecap="round"/><path d="M330.2 17.6h0M337.3 49.1h0M330.8 31.8h0M386.5 59.1h0M362.0 50.9h0M347.5 12.5h0M390.6 42.0h0M342.4 12.9h0M341.2 42.4h0" stroke="#804018" stroke-width="1.20" stroke-opacity="0.75" stroke-linecap="round"/><path d="M399.6 51.2h0M358.6 40.6h0M369.3 78.2h0M335.2 98.8h0M374.5 26.2h0M409.6 71.1h0M386.9 53.0h0" stroke="#d07a30" stroke-width="0.60" stroke-opacity="0.75" stroke-linecap="round"/><path d="M344.7 58.2h0M321.0 18.7h0M356.9 87.9h0M405.4 36.0h0M366.0 28.0h0M340.3 47.1h0M374.5 46.0h0M361.8 107.8h0M365.4 40.6h0M325.9 20.9h0M376.1 24.7h0M387.3 38.5h0M376.1 44.3h0" stroke="#c06a28" stroke-width="1.20" stroke-opacity="0.5" stroke-linecap="round"/><path d="M335.6 36.6h0" stroke="#a05a20" stroke-width="1.20" stroke-opacity="1.0" stroke-linecap="round"/><path d="M388.2 73.8h0M319.0 68.0h0M342.5 44.0h0M372.6 13.2h0M319.6 55.0h0M379.9 19.7h0M400.7 47.2h0M355.0 43.3h0M390.1 73.7h0M352.8 35.0h0" stroke="#c06a28" stroke-width="1.20" stroke-opacity="0.75" stroke-linecap="round"/><path d="M357.5 103.1h0M355.8 37.5h0M328.0 101.0h0M348.5 46.4h0M371.0 76.8h0M341.4 19.5h0M411.6 44.5h0M330.1 26.4h0M409.6 106.5h0M355.2 38.8h0M352.9 62.0h0M346.1 37.2h0" stroke="#d07a30" stroke-width="1.20" stroke-opacity="0.75" stroke-linecap="round"/><path d="M399.1 65.6h0" stroke="#a05a20" stroke-width="0.60" stroke-opacity="1.0" stroke-linecap="round"/><path d="M367.3 13.2h0M317.8 37.9h0" stroke="#804018" stroke-width="0.60" stroke-opacity="1.0" stroke-linecap="round"/><path d="M330.5 19.1h0" stroke="#804018" stroke-width="1.20" stroke-opacity="1.0" stroke-linecap="round"/>
</g>
<g clip-path="url(#cp5)">
<rect x="25.80" y="111.60" width="97.70" height="96.60" fill="#2c0914" stroke="none" stroke-width="0.6" />
<ellipse cx="69.8" cy="193.7" rx="39.1" ry="19.3" fill="#2c1a30" fill-opacity="0.55" filter="url(#bl4)"/>
<path d="M53.2,164.7 C52.7,159.4 55.6,148.5 60.0,143.5 C64.4,138.5 72.2,135.6 79.5,134.8 C86.9,134.0 97.1,135.3 104.0,138.6 C110.8,142.0 118.5,149.6 120.6,155.1 C122.7,160.5 122.7,168.6 116.7,171.5 C110.6,174.4 93.4,171.8 84.4,172.5 C75.5,173.1 68.1,176.6 62.9,175.4 C57.7,174.1 53.6,170.0 53.2,164.7 Z" fill="#180409" fill-opacity="0.9" filter="url(#bl2)"/>
<path d="M55.1,169.6 C56.4,166.3 59.3,155.4 62.9,150.2 C66.5,145.1 71.1,141.9 76.6,138.6 C82.1,135.4 89.6,131.9 96.1,130.9 C102.7,130.0 112.4,132.5 115.7,132.9" fill="none" stroke="#2e5268" stroke-width="8" stroke-opacity="0.55" stroke-linecap="round" stroke-linejoin="round" filter="url(#bl2)"/>
<ellipse cx="113.7" cy="132.9" rx="6.8" ry="5.8" fill="#3a8090" fill-opacity="0.6" filter="url(#bl2)"/>
<path d="M57.1,159.9 C58.0,157.6 59.2,149.6 62.9,146.4 C66.7,143.2 73.0,141.2 79.5,140.6 C86.0,139.9 96.3,140.9 102.0,142.5 C107.7,144.1 112.1,146.5 113.7,150.2 C115.4,153.9 115.8,161.8 111.8,164.7 C107.7,167.6 96.8,167.6 89.3,167.6 C81.8,167.6 72.2,166.0 66.8,164.7 C61.5,163.4 58.7,160.7 57.1,159.9" fill="none" stroke="#7a1228" stroke-width="1.6" stroke-opacity="0.8" stroke-linecap="round" stroke-linejoin="round"/>
<path d="M72.7,157.0 C75.0,156.2 81.2,152.0 86.4,152.2 C91.6,152.3 104.0,156.2 104.0,158.0 C104.0,159.7 91.6,162.2 86.4,162.8 C81.2,163.4 75.0,162.0 72.7,161.8" fill="none" stroke="#7a1228" stroke-width="1.3" stroke-opacity="0.8" stroke-linecap="round" stroke-linejoin="round"/>
<path d="M50.2,206.3 C50.7,203.4 51.0,194.0 53.2,188.9 C55.3,183.7 58.5,177.9 62.9,175.4 C67.3,172.8 72.7,174.1 79.5,173.4 C86.4,172.8 97.4,172.5 104.0,171.5 C110.5,170.5 115.8,170.4 118.6,167.6 C121.4,164.9 120.2,157.2 120.6,155.1" fill="none" stroke="#c08040" stroke-width="0.7" stroke-opacity="0.8" stroke-linecap="round" stroke-dasharray="0.1 1.4"/>
<path d="M28.7,210.1 C27.6,207.2 32.6,199.2 35.6,192.7 C38.5,186.3 42.6,178.3 46.3,171.5 C50.1,164.7 56.2,153.8 58.0,152.2 C59.8,150.6 58.2,157.0 57.1,161.8 C55.9,166.7 53.2,175.4 51.2,181.2 C49.2,186.9 46.8,191.8 45.3,196.6 C43.9,201.4 45.2,207.9 42.4,210.1 C39.6,212.4 29.9,213.0 28.7,210.1 Z" fill="#000000" fill-opacity="1.0"/>
<path d="M27.8,206.3 C28.9,203.7 31.7,196.6 34.6,190.8 C37.5,185.0 41.8,177.4 45.3,171.5 C48.9,165.5 54.3,157.8 56.1,155.1" fill="none" stroke="#e04030" stroke-width="0.8" stroke-opacity="0.9" stroke-linecap="round" stroke-dasharray="0.1 1.2"/>
<path d="M23.8,109.7 C25.6,107.6 34.6,107.6 34.6,109.7 C34.6,111.8 25.6,122.2 23.8,122.2 C22.1,122.2 22.1,111.8 23.8,109.7 Z" fill="#000000" fill-opacity="1.0"/>
<path d="M112.9 176.6h0M45.9 112.4h0M71.2 118.0h0M26.7 204.6h0M86.4 190.9h0M27.6 132.4h0M96.2 174.5h0M30.0 126.1h0M26.5 134.1h0M121.4 178.4h0M75.4 151.8h0M98.5 200.8h0M77.5 131.1h0M84.3 193.6h0M72.5 206.8h0M121.1 133.5h0M74.7 136.3h0M115.3 177.9h0M107.4 197.3h0M101.5 113.9h0M71.2 138.2h0M119.7 188.5h0M47.4 123.4h0" stroke="#28a0b0" stroke-width="0.90" stroke-opacity="0.75" stroke-linecap="round"/><path d="M69.2 119.0h0M64.2 194.9h0M33.5 142.3h0M82.7 196.6h0M30.9 154.0h0" stroke="#50c090" stroke-width="0.60" stroke-opacity="0.5" stroke-linecap="round"/><path d="M27.7 166.4h0M106.5 127.2h0M112.1 132.6h0M86.3 168.0h0M35.8 133.2h0M89.8 130.5h0M67.2 147.6h0M97.1 124.4h0M88.7 134.5h0M79.4 121.5h0M102.9 194.8h0M101.6 192.6h0M89.5 205.1h0M63.1 130.1h0M35.9 151.4h0M28.9 118.2h0M33.3 197.5h0M62.9 145.0h0M36.6 207.0h0" stroke="#50c090" stroke-width="0.60" stroke-opacity="0.75" stroke-linecap="round"/><path d="M110.8 125.2h0M72.7 152.1h0M93.2 155.9h0M119.2 150.0h0M119.9 124.6h0M27.2 145.9h0M90.2 191.2h0M31.1 186.3h0" stroke="#40c8d0" stroke-width="1.20" stroke-opacity="0.5" stroke-linecap="round"/><path d="M56.0 179.1h0M114.3 162.5h0M52.2 165.8h0M65.1 122.4h0M94.5 145.2h0M95.9 177.1h0" stroke="#50c090" stroke-width="0.90" stroke-opacity="1.0" stroke-linecap="round"/><path d="M45.9 186.7h0M53.2 135.9h0M120.3 145.2h0M116.9 154.0h0M61.7 122.3h0M92.7 201.4h0M62.5 137.7h0M88.2 206.3h0M95.4 124.3h0M63.2 206.9h0M110.3 139.1h0M54.7 191.2h0M80.7 173.0h0M35.8 187.3h0M90.8 118.0h0M100.8 138.1h0M85.3 186.0h0M93.3 195.3h0" stroke="#28a0b0" stroke-width="0.90" stroke-opacity="0.5" stroke-linecap="round"/><path d="M103.3 116.3h0M86.5 121.0h0M49.1 112.4h0M79.7 206.8h0M92.4 128.4h0" stroke="#30b8c0" stroke-width="0.60" stroke-opacity="0.5" stroke-linecap="round"/><path d="M106.5 178.1h0M53.5 206.2h0M109.1 142.4h0M50.4 144.7h0M77.7 190.4h0M118.5 137.3h0M40.9 166.8h0M88.6 188.8h0M112.0 123.4h0M27.7 161.6h0M79.0 146.1h0M107.3 135.7h0M97.5 186.4h0M102.6 195.2h0" stroke="#30b8c0" stroke-width="1.20" stroke-opacity="0.75" stroke-linecap="round"/><path d="M76.4 119.6h0M57.7 165.8h0M67.5 167.7h0M115.4 119.8h0M65.5 193.3h0M95.5 140.6h0M80.3 199.5h0M60.2 144.4h0M94.5 208.0h0M26.8 205.1h0M116.1 121.1h0M54.3 139.8h0M67.3 166.0h0M61.6 202.1h0M91.7 120.2h0M90.3 118.0h0M103.9 191.7h0M88.9 187.9h0M73.5 112.4h0M98.8 188.5h0M92.2 203.2h0M68.7 120.9h0M78.0 122.7h0M116.6 123.9h0M118.5 158.6h0M59.8 114.3h0M98.7 122.8h0M107.5 115.8h0" stroke="#30b8c0" stroke-width="0.90" stroke-opacity="0.75" stroke-linecap="round"/><path d="M89.9 186.4h0M61.5 139.2h0M41.2 123.6h0M43.5 126.7h0M91.6 148.2h0M92.6 132.9h0M114.7 120.8h0M57.9 184.2h0M107.2 173.0h0M33.3 170.8h0M63.6 135.6h0M88.1 187.7h0M80.9 117.8h0M58.8 181.6h0M119.7 152.3h0M41.0 138.3h0M38.6 204.7h0M59.8 196.9h0M87.8 118.0h0M57.4 131.3h0M79.8 204.3h0M26.2 125.2h0M39.6 176.7h0M114.1 129.1h0M119.9 123.4h0M83.1 196.3h0M57.1 189.0h0" stroke="#50c090" stroke-width="0.90" stroke-opacity="0.5" stroke-linecap="round"/><path d="M38.1 192.2h0M118.0 150.0h0M67.1 196.1h0M109.0 141.7h0M42.4 148.2h0M96.5 125.8h0M35.8 133.9h0M100.6 129.5h0M69.1 202.9h0M79.3 113.6h0" stroke="#28a0b0" stroke-width="0.60" stroke-opacity="0.5" stroke-linecap="round"/><path d="M61.6 138.9h0M52.4 181.0h0M93.8 187.7h0M60.9 169.7h0M83.3 193.5h0M65.5 133.4h0M62.5 129.5h0M59.2 118.6h0M33.5 154.2h0M34.7 143.2h0M43.8 150.7h0M68.0 134.1h0M77.2 190.7h0M110.3 114.7h0M36.4 189.2h0M99.1 165.7h0M57.4 192.8h0M57.0 136.8h0M84.7 206.3h0M34.8 115.9h0M97.0 127.3h0M55.3 160.2h0" stroke="#30b8c0" stroke-width="0.90" stroke-opacity="0.5" stroke-linecap="round"/><path d="M51.5 198.4h0M54.3 147.4h0M75.7 200.8h0M116.9 123.9h0" stroke="#30b8c0" stroke-width="1.20" stroke-opacity="0.5" stroke-linecap="round"/><path d="M107.3 166.2h0M79.9 131.8h0M90.6 180.9h0M100.1 133.6h0M84.4 114.0h0M38.6 206.8h0" stroke="#28a0b0" stroke-width="0.60" stroke-opacity="1.0" stroke-linecap="round"/><path d="M35.6 183.3h0M103.1 113.3h0M52.4 169.6h0M83.1 134.3h0M119.4 183.1h0M86.8 182.7h0M113.3 116.4h0M122.1 125.2h0M114.5 118.3h0M107.2 164.4h0M56.4 205.9h0M78.2 124.5h0M100.7 193.4h0" stroke="#30b8c0" stroke-width="0.90" stroke-opacity="1.0" stroke-linecap="round"/><path d="M70.4 117.3h0M90.4 152.4h0M65.0 200.6h0M91.0 201.0h0M60.6 113.0h0M78.0 192.7h0M71.6 137.5h0M82.9 190.1h0M107.7 140.4h0M111.0 141.0h0M83.5 128.1h0M108.4 190.9h0M38.4 121.3h0" stroke="#40c8d0" stroke-width="0.90" stroke-opacity="0.5" stroke-linecap="round"/><path d="M53.5 182.5h0M54.4 207.1h0M117.8 171.6h0M93.3 207.2h0M107.6 199.5h0M55.0 141.3h0M34.1 124.2h0M63.0 120.5h0M80.3 120.2h0M86.7 199.3h0M95.2 114.4h0M118.2 166.9h0" stroke="#40c8d0" stroke-width="0.60" stroke-opacity="0.5" stroke-linecap="round"/><path d="M75.8 184.9h0M81.0 187.8h0M61.2 114.6h0M54.1 180.2h0" stroke="#28a0b0" stroke-width="1.20" stroke-opacity="0.5" stroke-linecap="round"/><path d="M122.7 118.3h0M26.2 133.1h0M114.6 137.1h0M53.3 124.0h0M121.5 130.2h0" stroke="#28a0b0" stroke-width="1.20" stroke-opacity="1.0" stroke-linecap="round"/><path d="M48.3 154.7h0M26.4 204.8h0M66.4 112.6h0M65.4 121.8h0M75.9 143.4h0M117.2 202.9h0M29.3 115.4h0M58.0 123.5h0M35.3 115.9h0M71.5 135.8h0M56.3 140.5h0M104.4 201.2h0M40.7 207.0h0M54.3 202.1h0M78.6 188.0h0M75.4 130.3h0M58.9 202.4h0" stroke="#40c8d0" stroke-width="0.90" stroke-opacity="0.75" stroke-linecap="round"/><path d="M87.6 204.5h0M69.8 135.0h0M35.9 203.4h0M83.1 129.2h0M112.4 137.0h0M88.8 193.8h0M48.6 200.6h0M74.0 141.0h0M54.7 124.7h0M113.4 198.8h0M94.5 188.5h0M48.7 131.6h0M97.0 208.1h0M116.3 111.8h0M114.0 131.8h0M97.1 115.8h0M92.8 203.6h0" stroke="#50c090" stroke-width="0.90" stroke-opacity="0.75" stroke-linecap="round"/><path d="M56.8 173.9h0M112.2 143.4h0M91.6 184.8h0M102.8 132.3h0M60.0 181.4h0M112.2 116.8h0M39.5 163.7h0M78.9 132.8h0" stroke="#28a0b0" stroke-width="0.60" stroke-opacity="0.75" stroke-linecap="round"/><path d="M72.6 198.8h0M78.1 125.8h0M82.2 191.8h0M69.1 203.7h0" stroke="#40c8d0" stroke-width="1.20" stroke-opacity="1.0" stroke-linecap="round"/><path d="M75.7 135.3h0M117.4 180.2h0M76.4 126.7h0M108.3 121.7h0M82.6 181.7h0M51.0 189.2h0" stroke="#50c090" stroke-width="1.20" stroke-opacity="0.75" stroke-linecap="round"/><path d="M118.4 118.0h0M64.8 199.4h0M60.3 122.2h0M61.7 139.3h0M69.1 113.8h0M98.3 167.6h0M65.7 199.9h0M85.0 196.3h0M71.8 121.5h0M42.3 117.1h0M58.0 134.7h0M119.8 153.7h0M62.3 124.9h0M99.5 116.1h0M53.7 192.2h0M111.6 187.4h0M71.0 166.4h0" stroke="#40c8d0" stroke-width="0.60" stroke-opacity="0.75" stroke-linecap="round"/><path d="M54.3 196.2h0M33.6 153.0h0M55.7 193.1h0M39.3 130.1h0" stroke="#40c8d0" stroke-width="0.60" stroke-opacity="1.0" stroke-linecap="round"/><path d="M34.6 188.6h0M122.4 134.0h0M72.5 207.4h0M38.3 134.8h0M41.4 147.1h0M87.2 120.0h0M38.8 198.6h0M74.4 131.5h0M47.1 154.1h0M47.2 162.3h0M106.2 208.0h0M60.4 123.6h0" stroke="#40c8d0" stroke-width="1.20" stroke-opacity="0.75" stroke-linecap="round"/><path d="M68.4 111.9h0M64.2 111.7h0M104.4 199.4h0M75.0 191.9h0M98.2 131.0h0M97.7 119.8h0" stroke="#50c090" stroke-width="1.20" stroke-opacity="0.5" stroke-linecap="round"/><path d="M119.5 199.6h0M85.4 121.0h0M82.7 151.3h0M99.2 131.6h0" stroke="#50c090" stroke-width="0.60" stroke-opacity="1.0" stroke-linecap="round"/><path d="M70.1 189.9h0M36.6 203.5h0M35.5 190.4h0M31.7 186.2h0M99.3 134.5h0M76.9 195.8h0M84.8 189.7h0M67.1 132.0h0" stroke="#28a0b0" stroke-width="1.20" stroke-opacity="0.75" stroke-linecap="round"/><path d="M60.4 126.1h0M38.6 115.3h0M88.4 130.1h0M59.9 123.5h0M33.1 138.6h0" stroke="#40c8d0" stroke-width="0.90" stroke-opacity="1.0" stroke-linecap="round"/><path d="M62.7 178.3h0M77.3 144.2h0M38.1 165.6h0M34.5 141.1h0M90.4 205.1h0M112.1 194.8h0M100.6 173.7h0M28.9 130.4h0M111.2 129.9h0M120.8 181.0h0M37.6 193.0h0M120.5 182.5h0M51.5 159.3h0M119.2 205.7h0" stroke="#28a0b0" stroke-width="0.90" stroke-opacity="1.0" stroke-linecap="round"/><path d="M43.4 135.0h0M95.1 158.8h0M57.5 186.4h0M94.0 148.8h0M62.7 177.9h0M120.4 130.8h0M98.1 136.1h0M63.5 122.8h0" stroke="#30b8c0" stroke-width="0.60" stroke-opacity="0.75" stroke-linecap="round"/><path d="M57.7 150.6h0M73.5 174.1h0M117.7 117.0h0M120.1 186.6h0M53.9 186.1h0" stroke="#50c090" stroke-width="1.20" stroke-opacity="1.0" stroke-linecap="round"/><path d="M67.6 134.7h0M89.8 202.2h0" stroke="#30b8c0" stroke-width="1.20" stroke-opacity="1.0" stroke-linecap="round"/><path d="M111.7 135.5h0" stroke="#30b8c0" stroke-width="0.60" stroke-opacity="1.0" stroke-linecap="round"/>
<path d="M56.7 135.1h0M68.8 198.6h0M93.2 164.3h0M34.3 132.3h0M57.5 182.4h0M65.7 191.5h0M65.2 175.4h0M66.1 148.9h0M61.5 195.8h0M87.0 152.9h0M54.1 136.1h0M50.8 183.4h0M77.8 127.4h0M56.8 195.4h0M95.5 182.5h0M47.4 123.7h0M27.6 154.4h0M67.8 112.6h0M83.7 198.0h0M88.7 194.0h0M32.7 151.8h0M81.3 170.9h0M65.0 205.5h0M52.1 181.7h0M46.1 200.5h0M82.7 145.8h0M28.1 177.5h0M35.0 153.8h0M55.6 196.5h0M37.4 202.8h0M87.7 128.6h0M67.9 137.8h0M79.9 145.4h0M73.1 159.7h0M29.3 126.9h0" stroke="#902030" stroke-width="0.90" stroke-opacity="0.5" stroke-linecap="round"/><path d="M71.4 179.5h0M116.0 114.2h0M67.2 144.7h0M38.3 167.8h0M57.6 180.5h0M93.6 201.9h0M85.5 185.1h0M107.7 194.0h0M50.3 168.3h0M57.4 152.7h0M84.1 198.5h0M89.6 181.4h0M100.6 122.4h0M87.5 159.3h0M115.3 141.7h0M62.5 195.9h0M79.3 114.2h0M66.1 174.7h0M99.0 160.2h0M61.1 114.7h0M79.3 177.7h0M63.1 195.8h0M82.4 137.2h0M69.0 116.1h0M56.3 129.3h0M73.4 111.6h0M57.3 190.8h0M96.6 126.8h0M69.6 188.8h0M29.0 178.2h0M32.9 179.3h0M68.0 193.2h0M56.4 151.8h0M50.8 207.8h0M103.9 151.4h0M28.4 186.2h0M63.6 172.5h0M32.1 205.4h0M122.8 167.0h0M88.9 112.3h0M123.2 194.7h0M57.2 163.4h0M91.8 120.2h0M65.6 155.8h0" stroke="#701828" stroke-width="0.90" stroke-opacity="0.5" stroke-linecap="round"/><path d="M121.2 153.4h0M95.6 128.0h0M118.7 176.7h0M87.8 189.7h0M53.9 150.8h0M59.7 174.1h0M58.7 144.2h0M30.7 152.2h0M105.7 137.3h0M98.0 187.5h0M98.5 203.8h0M26.9 191.5h0M51.2 115.0h0M39.1 207.2h0M34.5 131.4h0M86.6 127.3h0M97.8 153.9h0M60.8 184.1h0M35.9 155.3h0M56.2 178.3h0M78.0 134.0h0" stroke="#701828" stroke-width="0.90" stroke-opacity="0.75" stroke-linecap="round"/><path d="M123.0 184.1h0M119.0 163.0h0M98.6 117.0h0M113.7 148.5h0M42.3 172.0h0M44.6 144.7h0M39.5 157.6h0M111.0 160.4h0M93.4 200.1h0M118.1 133.9h0M78.2 170.8h0M55.9 203.1h0M80.7 150.6h0M45.4 166.8h0M51.7 165.3h0M115.3 132.6h0M91.3 113.4h0M102.9 151.0h0M53.8 182.2h0M118.2 169.1h0M114.4 170.6h0M102.6 158.0h0M63.4 189.9h0M28.6 134.2h0M104.5 206.3h0M98.0 116.3h0M112.4 195.5h0M65.8 175.4h0M67.7 180.0h0M75.5 113.9h0M76.0 111.6h0M40.9 195.8h0M31.2 130.2h0M81.6 202.8h0M28.3 114.8h0M117.5 134.9h0" stroke="#701828" stroke-width="0.60" stroke-opacity="0.5" stroke-linecap="round"/><path d="M122.2 130.4h0M57.5 136.8h0M36.7 203.3h0M104.5 114.6h0M105.7 132.7h0M67.9 115.0h0M74.3 124.4h0M37.6 180.9h0M120.0 203.0h0M75.1 148.9h0M111.9 134.8h0M40.8 164.1h0" stroke="#701828" stroke-width="0.60" stroke-opacity="0.75" stroke-linecap="round"/><path d="M117.4 149.6h0M106.1 159.7h0M27.2 132.9h0M100.9 199.9h0M49.9 129.8h0M61.7 114.2h0M57.2 141.8h0M78.6 129.0h0M49.3 145.2h0M98.8 116.1h0M98.5 114.4h0M52.5 122.6h0M120.7 113.2h0M78.5 161.9h0M110.3 144.2h0M87.5 162.8h0M89.6 170.1h0M94.4 124.2h0M118.0 171.6h0M85.0 134.5h0M88.0 146.5h0M123.4 163.5h0M81.8 128.8h0M109.8 202.3h0M90.4 145.8h0M64.2 132.2h0M114.5 195.9h0M77.5 154.2h0M93.3 117.2h0M97.4 207.4h0M70.4 139.1h0M119.2 163.9h0" stroke="#902030" stroke-width="0.60" stroke-opacity="0.5" stroke-linecap="round"/><path d="M52.6 202.1h0M69.1 192.6h0M70.0 115.1h0M92.4 159.5h0M62.2 197.9h0M77.5 158.8h0M59.2 179.7h0M35.2 147.2h0M68.2 152.9h0M78.8 185.5h0M66.9 120.2h0M51.9 166.1h0M96.6 208.1h0" stroke="#902030" stroke-width="0.90" stroke-opacity="0.75" stroke-linecap="round"/><path d="M68.3 118.9h0M55.3 181.0h0M110.2 156.8h0M34.3 112.4h0M51.4 170.6h0M77.0 122.1h0M94.0 192.2h0" stroke="#902030" stroke-width="0.60" stroke-opacity="0.75" stroke-linecap="round"/>
</g>
<g clip-path="url(#cp6)">
<rect x="123.00" y="111.60" width="97.50" height="96.60" fill="#020a10" stroke="none" stroke-width="0.6" />
<ellipse cx="171.8" cy="193.7" rx="43.9" ry="19.3" fill="#082030" fill-opacity="0.7" filter="url(#bl4)"/>
<path d="M150.3,164.7 C149.8,159.4 152.7,148.5 157.1,143.5 C161.5,138.5 169.3,135.6 176.6,134.8 C183.9,134.0 194.2,135.3 201.0,138.6 C207.8,142.0 215.5,149.6 217.6,155.1 C219.7,160.5 219.7,168.6 213.7,171.5 C207.7,174.4 190.4,171.8 181.5,172.5 C172.6,173.1 165.2,176.6 160.1,175.4 C154.9,174.1 150.8,170.0 150.3,164.7 Z" fill="#000306" fill-opacity="0.9" filter="url(#bl2)"/>
<path d="M152.2,169.6 C153.6,166.3 156.5,155.4 160.1,150.2 C163.6,145.1 168.2,141.9 173.7,138.6 C179.2,135.4 186.7,131.9 193.2,130.9 C199.7,130.0 209.4,132.5 212.7,132.9" fill="none" stroke="#1d5070" stroke-width="6" stroke-opacity="0.7" stroke-linecap="round" stroke-linejoin="round" filter="url(#bl1)"/>
<ellipse cx="210.8" cy="132.9" rx="7.8" ry="7.7" fill="#2a6a88" fill-opacity="0.7" filter="url(#bl2)"/>
<path d="M170.7 112.2h0M157.8 162.1h0M208.3 125.8h0M125.5 168.8h0M131.2 166.0h0M159.6 161.3h0M139.2 175.0h0M185.2 141.9h0M155.9 183.4h0M145.6 112.7h0M166.4 118.9h0M216.1 155.1h0M146.7 202.5h0M179.8 189.0h0M217.1 147.1h0M138.1 185.6h0M174.2 171.8h0M144.5 153.8h0M137.2 186.1h0M182.4 167.9h0M175.1 173.7h0M160.0 167.8h0M134.6 137.2h0M210.1 117.1h0M205.4 132.0h0M218.8 143.5h0M123.7 184.4h0M180.0 124.2h0M209.4 194.4h0M147.8 190.9h0M201.4 170.9h0M199.6 178.7h0M163.9 202.4h0M212.2 184.9h0M209.9 123.1h0M140.3 160.5h0M177.4 183.1h0M200.3 138.8h0M183.3 159.7h0M125.5 139.3h0M162.2 118.2h0M195.2 195.0h0" stroke="#081820" stroke-width="1.50" stroke-opacity="0.75" stroke-linecap="round"/><path d="M175.4 139.1h0M197.5 122.0h0M183.6 195.4h0M210.1 190.8h0M212.0 182.0h0M132.0 188.8h0M199.3 115.4h0M203.0 127.7h0M150.7 173.4h0M201.3 196.5h0M135.3 149.4h0M183.4 137.7h0M142.2 140.2h0" stroke="#0c2838" stroke-width="1.50" stroke-opacity="1.0" stroke-linecap="round"/><path d="M142.1 182.7h0M213.1 131.9h0M141.5 115.1h0M153.6 172.8h0M138.4 121.5h0M215.6 154.0h0M147.4 121.1h0M128.2 131.8h0M129.8 147.7h0M197.8 137.4h0M206.2 129.4h0" stroke="#0a2030" stroke-width="1.20" stroke-opacity="1.0" stroke-linecap="round"/><path d="M144.0 149.6h0M158.8 148.1h0M212.7 142.4h0M147.3 160.2h0M185.7 113.3h0M210.8 201.6h0M126.4 178.9h0M217.2 181.4h0M185.2 178.2h0M177.1 207.9h0M158.1 167.3h0M126.9 145.7h0M173.3 113.2h0M153.3 146.5h0M136.8 124.4h0M214.6 171.3h0M199.9 195.7h0M150.0 130.3h0M194.6 203.6h0M126.5 126.8h0" stroke="#0c2838" stroke-width="1.20" stroke-opacity="1.0" stroke-linecap="round"/><path d="M142.8 186.8h0M159.3 115.1h0M168.3 167.5h0M160.5 155.8h0M212.6 201.4h0M153.8 157.5h0M151.4 152.4h0M129.2 165.3h0M165.8 127.2h0M202.2 119.8h0M183.3 115.4h0M192.9 116.3h0M135.3 193.3h0M182.5 175.5h0M149.1 118.7h0M132.3 122.0h0M153.0 144.6h0M123.2 145.6h0M129.7 192.7h0M147.5 131.9h0M190.9 153.7h0M162.3 159.8h0M176.6 124.0h0M162.0 139.2h0M195.1 146.7h0" stroke="#0a2030" stroke-width="1.50" stroke-opacity="1.0" stroke-linecap="round"/><path d="M187.3 147.6h0M147.3 186.1h0M211.2 133.7h0M191.5 169.2h0M156.5 195.4h0M135.3 157.4h0M205.8 186.9h0M177.6 155.6h0M194.5 117.5h0M191.0 122.3h0M175.1 197.0h0M158.4 128.1h0M191.4 134.6h0M176.6 197.9h0M208.5 178.4h0M185.5 123.2h0M123.4 139.6h0M160.3 157.7h0M192.9 172.2h0M219.2 196.1h0M156.0 138.9h0M151.7 186.1h0M209.4 150.9h0M220.3 151.9h0M151.4 132.1h0M150.2 125.8h0M200.6 176.8h0M125.7 126.7h0M165.6 120.0h0M165.8 134.6h0M214.7 160.8h0M149.2 126.2h0M169.6 186.8h0M145.7 138.8h0M169.6 123.1h0M218.5 129.3h0M142.7 196.4h0" stroke="#0a2030" stroke-width="1.50" stroke-opacity="0.75" stroke-linecap="round"/><path d="M207.3 146.4h0M195.1 177.9h0M162.8 127.6h0M153.4 189.3h0M185.0 160.8h0M179.2 166.6h0M156.8 124.4h0M139.6 155.5h0M217.6 180.3h0M202.6 151.3h0M149.2 123.4h0" stroke="#081820" stroke-width="1.80" stroke-opacity="1.0" stroke-linecap="round"/><path d="M129.7 150.1h0M215.6 138.4h0M126.6 116.8h0M164.2 129.1h0M178.8 192.5h0M131.2 168.4h0M160.7 188.9h0M137.4 133.5h0M183.3 181.3h0M192.9 197.6h0M185.8 165.2h0M200.7 206.3h0M183.4 172.5h0M180.9 177.8h0M164.8 202.7h0M184.1 161.6h0M127.1 141.2h0M180.6 152.2h0M124.2 115.1h0M146.9 174.9h0M162.2 168.7h0M155.1 176.1h0M124.3 151.9h0M213.1 178.6h0M150.0 162.0h0M136.2 198.2h0M214.9 151.0h0M166.4 180.5h0M128.1 152.1h0M146.7 117.2h0M209.5 172.0h0M136.9 132.9h0M134.9 153.1h0M185.6 193.9h0M201.1 160.6h0M127.3 174.9h0M185.3 123.7h0M196.2 163.0h0M157.3 189.2h0M137.0 187.3h0M134.5 161.0h0M217.8 115.8h0M130.1 188.6h0M143.1 126.5h0" stroke="#0c2838" stroke-width="1.50" stroke-opacity="0.75" stroke-linecap="round"/><path d="M132.7 167.4h0M208.9 199.6h0M176.0 144.1h0M181.3 134.3h0M201.1 203.5h0M139.2 111.9h0M160.1 115.2h0M193.0 118.6h0M210.8 170.9h0M183.2 166.3h0M138.5 131.8h0M214.3 176.2h0M182.7 144.6h0M168.9 202.4h0M193.0 180.4h0M175.8 155.9h0M202.8 112.1h0M174.3 185.5h0M125.2 147.2h0M168.1 137.0h0M169.1 114.6h0M220.4 118.7h0" stroke="#081820" stroke-width="1.50" stroke-opacity="1.0" stroke-linecap="round"/><path d="M140.6 178.9h0M164.5 130.3h0M148.5 185.4h0M127.2 155.0h0M169.4 123.4h0M153.2 112.7h0M200.3 180.0h0M199.6 202.8h0M154.3 191.0h0M152.3 163.5h0M129.5 148.0h0M139.8 177.4h0M145.3 200.6h0M190.4 116.2h0M204.1 127.4h0M141.7 203.0h0M163.0 116.9h0M173.9 115.4h0M212.1 158.7h0M129.9 174.8h0M166.7 118.7h0M154.6 151.8h0M200.9 154.3h0M138.0 114.5h0M165.2 179.9h0M154.0 182.6h0M197.9 143.3h0M215.6 158.2h0M156.9 134.3h0M200.0 136.7h0M150.1 117.2h0M211.4 160.5h0M132.3 171.4h0M212.8 165.4h0M169.8 200.3h0" stroke="#0a2030" stroke-width="1.20" stroke-opacity="0.75" stroke-linecap="round"/><path d="M220.4 189.2h0M171.3 142.1h0M151.0 133.5h0M156.7 187.2h0M183.6 129.1h0M184.6 133.7h0M141.3 193.1h0M146.0 129.1h0M140.0 155.8h0M170.7 117.7h0M185.2 142.2h0M192.5 115.0h0M141.7 178.0h0M177.1 185.9h0M204.4 113.2h0M162.0 141.4h0M201.5 114.1h0M143.7 143.7h0M132.5 188.7h0M185.8 134.1h0M155.8 161.0h0M148.5 183.8h0M123.8 193.0h0M178.3 123.7h0M214.4 169.1h0M178.9 204.0h0M149.2 113.6h0M189.5 153.3h0M158.4 165.8h0M189.8 124.1h0" stroke="#081820" stroke-width="1.20" stroke-opacity="0.75" stroke-linecap="round"/><path d="M129.7 208.0h0M148.7 162.7h0M163.8 207.5h0M213.1 129.3h0M199.2 182.3h0M146.8 160.5h0M132.4 195.3h0M182.4 202.8h0M147.2 139.9h0M199.0 119.9h0M199.0 204.7h0M132.6 182.0h0M159.4 113.4h0M133.5 121.9h0M156.5 149.6h0M189.7 165.8h0M174.8 122.2h0M193.7 147.9h0M215.4 129.6h0M132.1 151.5h0M161.9 160.7h0M132.5 156.9h0M141.2 170.8h0M166.0 162.3h0M178.6 138.6h0M149.8 126.2h0M188.1 187.0h0M164.2 194.7h0M193.6 144.0h0M137.8 196.0h0M211.9 133.7h0M134.5 191.3h0M187.9 195.9h0M180.1 144.6h0M158.3 117.7h0M150.5 176.5h0M138.0 135.7h0M158.6 169.6h0M185.5 160.9h0M172.1 115.0h0M156.9 179.7h0M143.9 124.3h0M178.0 122.4h0M194.8 111.9h0" stroke="#0c2838" stroke-width="1.20" stroke-opacity="0.75" stroke-linecap="round"/><path d="M127.9 164.6h0M125.6 137.1h0M139.8 207.9h0M215.9 115.4h0M180.9 147.0h0M214.2 161.3h0M188.5 193.3h0M216.2 130.4h0M168.5 162.0h0M184.3 137.1h0M152.5 179.2h0M187.2 166.3h0M182.4 162.6h0M157.6 188.5h0M167.9 147.5h0M168.8 183.3h0M166.1 144.9h0M211.5 188.2h0M127.0 196.8h0M165.0 136.6h0M204.2 133.9h0M190.9 127.8h0M149.4 164.2h0" stroke="#0a2030" stroke-width="1.80" stroke-opacity="0.75" stroke-linecap="round"/><path d="M187.3 147.9h0" stroke="#0a2030" stroke-width="1.80" stroke-opacity="0.5" stroke-linecap="round"/><path d="M177.2 151.8h0M167.5 194.1h0M164.8 144.9h0M191.8 120.4h0M214.3 168.5h0M199.5 137.2h0M174.0 130.1h0M154.1 132.8h0M125.4 162.9h0M212.3 185.3h0M199.3 159.7h0M212.0 115.8h0M187.1 175.8h0M173.0 161.9h0" stroke="#0c2838" stroke-width="1.80" stroke-opacity="1.0" stroke-linecap="round"/><path d="M140.8 161.4h0M162.1 112.5h0M151.3 164.3h0M164.8 123.2h0M156.5 187.7h0M153.1 175.6h0M152.2 191.5h0M129.2 147.9h0M152.2 148.6h0M143.0 153.0h0" stroke="#0a2030" stroke-width="1.80" stroke-opacity="1.0" stroke-linecap="round"/><path d="M195.1 196.5h0M161.1 175.3h0M191.0 205.7h0M135.6 183.0h0M143.8 173.8h0" stroke="#081820" stroke-width="1.50" stroke-opacity="0.5" stroke-linecap="round"/><path d="M190.5 181.6h0M182.2 152.7h0M215.4 182.0h0M137.9 162.0h0M167.7 207.8h0M159.8 160.5h0M204.9 194.5h0M189.8 182.5h0M196.0 112.1h0M151.6 183.8h0M202.9 146.6h0M182.5 186.1h0M145.3 200.5h0M123.2 126.7h0M215.6 200.1h0M197.7 151.3h0M201.6 159.5h0M188.6 121.7h0M134.6 139.0h0M138.0 128.1h0M143.5 124.5h0M219.8 128.3h0M181.2 147.9h0M184.4 161.9h0M129.9 124.9h0M141.6 137.5h0" stroke="#0c2838" stroke-width="1.80" stroke-opacity="0.75" stroke-linecap="round"/><path d="M195.0 131.5h0M133.3 131.0h0M190.1 165.4h0M178.2 119.9h0M154.7 177.4h0M143.8 136.1h0M161.7 181.9h0" stroke="#0c2838" stroke-width="0.90" stroke-opacity="0.75" stroke-linecap="round"/><path d="M204.5 119.4h0M205.4 170.9h0M178.0 193.1h0M126.4 128.8h0M180.5 195.0h0M129.8 199.1h0M201.8 146.5h0M133.7 159.2h0M155.0 134.9h0M185.6 157.6h0M160.4 195.4h0M217.3 188.7h0M203.6 135.0h0M196.9 138.9h0M130.7 182.8h0M216.8 112.5h0M170.9 130.5h0M193.1 162.8h0" stroke="#081820" stroke-width="1.20" stroke-opacity="1.0" stroke-linecap="round"/><path d="M170.5 119.7h0M147.4 204.1h0M127.2 124.9h0M133.0 159.4h0" stroke="#0c2838" stroke-width="1.20" stroke-opacity="0.5" stroke-linecap="round"/><path d="M136.9 195.1h0M143.0 112.7h0" stroke="#081820" stroke-width="1.80" stroke-opacity="0.5" stroke-linecap="round"/><path d="M155.8 130.1h0M144.6 156.6h0M140.4 153.7h0M132.9 206.6h0M219.7 137.3h0M198.4 182.5h0M140.6 161.6h0M207.9 114.0h0M131.5 189.9h0M146.9 148.5h0M189.7 116.3h0M162.7 119.4h0" stroke="#081820" stroke-width="0.90" stroke-opacity="0.75" stroke-linecap="round"/><path d="M201.5 167.1h0M208.3 120.9h0M160.0 187.7h0M143.0 195.1h0M216.4 184.0h0M148.0 165.4h0M178.1 151.6h0M160.5 114.0h0M151.3 127.2h0M126.9 190.8h0M189.6 205.3h0M210.6 184.9h0M160.3 129.6h0M162.0 189.2h0M207.8 131.6h0M196.7 168.0h0M150.3 157.9h0M192.5 137.2h0M220.2 142.8h0" stroke="#081820" stroke-width="1.80" stroke-opacity="0.75" stroke-linecap="round"/><path d="M152.4 131.6h0M153.6 197.2h0M204.3 207.7h0" stroke="#0c2838" stroke-width="1.50" stroke-opacity="0.5" stroke-linecap="round"/><path d="M192.1 205.5h0M165.1 207.0h0M125.3 174.6h0" stroke="#081820" stroke-width="0.90" stroke-opacity="1.0" stroke-linecap="round"/><path d="M191.5 149.5h0M183.3 133.0h0" stroke="#081820" stroke-width="1.20" stroke-opacity="0.5" stroke-linecap="round"/><path d="M196.6 152.7h0M182.9 149.4h0M133.9 186.4h0M172.8 176.6h0M195.5 198.4h0M152.2 187.3h0M131.0 130.8h0M218.2 163.6h0" stroke="#0a2030" stroke-width="0.90" stroke-opacity="0.75" stroke-linecap="round"/><path d="M209.0 145.3h0M192.1 182.6h0" stroke="#0a2030" stroke-width="1.50" stroke-opacity="0.5" stroke-linecap="round"/><path d="M165.5 202.4h0M185.7 200.4h0" stroke="#0c2838" stroke-width="0.90" stroke-opacity="1.0" stroke-linecap="round"/><path d="M194.6 169.3h0" stroke="#0c2838" stroke-width="0.90" stroke-opacity="0.5" stroke-linecap="round"/><path d="M169.2 172.7h0" stroke="#081820" stroke-width="0.90" stroke-opacity="0.5" stroke-linecap="round"/><path d="M165.1 196.8h0" stroke="#0a2030" stroke-width="0.90" stroke-opacity="1.0" stroke-linecap="round"/><path d="M218.8 174.5h0" stroke="#0a2030" stroke-width="1.20" stroke-opacity="0.5" stroke-linecap="round"/><path d="M164.8 113.5h0" stroke="#0c2838" stroke-width="1.80" stroke-opacity="0.5" stroke-linecap="round"/>
<path d="M147.4,206.3 C147.9,203.4 148.2,194.0 150.3,188.9 C152.4,183.7 155.7,177.9 160.1,175.4 C164.4,172.8 169.8,174.1 176.6,173.4 C183.4,172.8 194.5,172.5 201.0,171.5 C207.5,170.5 212.9,170.4 215.6,167.6 C218.4,164.9 217.2,157.2 217.6,155.1" fill="none" stroke="#2a6a90" stroke-width="0.9" stroke-opacity="0.8" stroke-linecap="round" stroke-dasharray="0.1 1.4"/>
<path d="M181.5,134.8 C178.1,136.6 166.5,142.2 161.3,145.7 C156.1,149.2 153.8,152.3 150.1,155.8 C146.4,159.4 141.9,163.6 138.9,167.1 C135.9,170.7 134.1,172.9 132.1,177.2 C130.0,181.5 128.0,187.8 126.5,192.9 C125.0,198.1 123.6,205.7 123.0,208.2" fill="none" stroke="#1a4c64" stroke-width="4.5" stroke-opacity="0.75" stroke-linecap="round" stroke-linejoin="round" filter="url(#bl1)"/>
<path d="M166.9,150.2 C165.0,151.5 158.6,154.9 155.7,158.1 C152.7,161.2 150.9,165.6 149.0,169.3 C147.2,173.0 145.9,176.2 144.5,180.2 C143.2,184.1 142.1,187.9 141.1,192.9 C140.2,197.9 139.3,207.3 138.9,210.1" fill="none" stroke="#1a4c64" stroke-width="4.0" stroke-opacity="0.75" stroke-linecap="round" stroke-linejoin="round" filter="url(#bl1)"/>
<path d="M125.9,210.1 C125.1,207.2 129.3,198.5 131.8,192.7 C134.2,186.9 137.0,181.3 140.6,175.4 C144.1,169.4 151.3,159.1 153.2,157.0 C155.2,154.9 153.4,159.1 152.2,162.8 C151.1,166.5 148.2,173.9 146.4,179.2 C144.6,184.5 143.2,189.5 141.5,194.7 C139.9,199.8 139.2,207.6 136.7,210.1 C134.1,212.7 126.7,213.0 125.9,210.1 Z" fill="#000000" fill-opacity="1.0" filter="url(#bl05)"/>
<path d="M202.6 142.3h0M196.7 124.1h0M181.9 130.0h0M158.0 186.9h0M207.6 175.7h0M203.8 122.4h0M202.3 187.9h0M216.3 122.5h0M126.2 121.1h0M187.6 188.2h0M137.8 163.7h0M123.1 151.6h0M187.1 200.8h0M198.6 118.2h0M125.0 187.5h0M201.8 118.9h0M180.3 117.4h0M185.1 189.5h0" stroke="#1a6090" stroke-width="0.90" stroke-opacity="1.0" stroke-linecap="round"/><path d="M124.8 188.5h0M206.8 171.7h0M123.9 170.0h0M214.5 145.2h0M188.3 129.3h0M175.5 206.0h0M152.5 205.5h0M139.6 116.9h0M174.2 190.2h0" stroke="#2a88c0" stroke-width="0.90" stroke-opacity="1.0" stroke-linecap="round"/><path d="M182.3 190.6h0M209.2 122.8h0M175.7 207.0h0M168.7 178.8h0M214.0 126.9h0M219.5 133.5h0" stroke="#2a88c0" stroke-width="0.60" stroke-opacity="0.5" stroke-linecap="round"/><path d="M155.3 191.8h0M157.8 179.7h0M146.8 130.8h0M212.0 190.2h0M135.6 141.8h0M199.1 112.1h0" stroke="#3aa0d0" stroke-width="0.90" stroke-opacity="1.0" stroke-linecap="round"/><path d="M131.8 139.5h0M143.9 154.4h0M200.4 121.7h0M138.6 202.1h0M157.2 192.0h0M127.0 153.0h0M142.5 177.7h0M220.3 171.1h0M202.6 138.9h0M164.7 198.0h0M140.5 185.4h0" stroke="#2a88c0" stroke-width="1.20" stroke-opacity="0.75" stroke-linecap="round"/><path d="M141.7 156.0h0M196.1 183.7h0M161.7 136.3h0M127.4 183.8h0M191.5 142.9h0M182.4 173.9h0M198.2 124.8h0M198.8 177.2h0M217.4 140.4h0M215.4 135.9h0M180.6 122.2h0" stroke="#2070a0" stroke-width="1.20" stroke-opacity="0.5" stroke-linecap="round"/><path d="M200.3 121.0h0M163.8 207.0h0M163.4 137.8h0M200.1 122.4h0M145.6 139.2h0" stroke="#3aa0d0" stroke-width="1.20" stroke-opacity="1.0" stroke-linecap="round"/><path d="M216.8 112.6h0M142.0 201.0h0M173.7 134.0h0M164.2 135.3h0M197.2 132.6h0M150.4 197.4h0M219.5 197.1h0M182.0 113.2h0M167.8 205.0h0M129.8 164.7h0M205.0 164.6h0M153.7 204.4h0M215.7 127.6h0M200.3 155.0h0M138.8 122.7h0M205.4 132.0h0M159.4 120.3h0M193.1 193.5h0M173.6 132.0h0M123.3 208.0h0M131.1 172.6h0M161.6 113.3h0M132.2 183.7h0M160.8 124.8h0M158.8 144.4h0" stroke="#2070a0" stroke-width="0.90" stroke-opacity="0.5" stroke-linecap="round"/><path d="M205.1 134.0h0M170.5 199.0h0M137.3 188.1h0M161.9 133.5h0M162.3 184.2h0M185.6 141.9h0M171.0 159.0h0M144.0 182.3h0M160.1 180.2h0M134.3 153.5h0M162.7 168.5h0M171.9 127.8h0M190.8 123.9h0M206.2 134.6h0M187.5 202.6h0M185.9 193.6h0M208.9 198.3h0M203.1 195.0h0M168.5 122.8h0M133.3 150.4h0M197.5 112.7h0M187.6 132.9h0" stroke="#2070a0" stroke-width="0.90" stroke-opacity="0.75" stroke-linecap="round"/><path d="M157.3 194.2h0M203.1 178.4h0M190.1 182.4h0M158.8 140.0h0M193.9 126.2h0M155.0 129.5h0M180.2 134.0h0M134.6 186.8h0M204.0 122.7h0M147.4 163.8h0M142.1 155.0h0" stroke="#3aa0d0" stroke-width="0.60" stroke-opacity="0.5" stroke-linecap="round"/><path d="M137.9 142.7h0M207.5 146.1h0M173.4 128.7h0M126.6 186.0h0M184.4 134.8h0M130.6 134.7h0M219.0 202.1h0M131.1 158.6h0M202.1 136.3h0M200.6 129.9h0M137.4 122.6h0M168.8 195.2h0M185.5 196.0h0" stroke="#1a6090" stroke-width="0.60" stroke-opacity="0.5" stroke-linecap="round"/><path d="M144.8 153.4h0M154.6 124.5h0M178.4 148.8h0M144.0 131.2h0M214.0 207.9h0M188.9 124.3h0M216.1 204.3h0M163.1 129.9h0M182.3 180.3h0M188.5 113.4h0M193.0 126.6h0M129.2 159.2h0M194.1 190.1h0M214.8 185.0h0M217.0 130.8h0M183.2 203.8h0M218.5 122.7h0M210.5 119.3h0M174.8 181.2h0" stroke="#2a88c0" stroke-width="0.90" stroke-opacity="0.5" stroke-linecap="round"/><path d="M140.4 173.8h0M191.9 121.9h0M217.8 121.7h0M177.1 190.9h0M197.0 186.0h0M200.8 134.4h0M206.8 155.9h0M133.3 118.8h0M129.4 166.3h0M142.3 174.9h0M196.1 123.2h0M202.2 112.9h0M193.9 127.7h0M170.5 131.0h0M167.8 196.5h0M186.7 172.7h0M205.1 138.4h0M218.5 143.3h0M170.9 135.8h0M192.4 189.4h0M145.2 198.6h0M146.4 190.8h0" stroke="#1a6090" stroke-width="0.90" stroke-opacity="0.5" stroke-linecap="round"/><path d="M159.6 201.6h0M206.8 133.7h0M208.0 112.0h0M186.3 196.2h0M209.7 175.4h0M193.1 113.1h0M147.5 195.0h0M174.3 207.5h0M140.3 204.2h0M176.8 115.1h0M188.1 174.3h0M189.8 116.9h0M217.1 143.3h0" stroke="#2070a0" stroke-width="1.20" stroke-opacity="0.75" stroke-linecap="round"/><path d="M192.3 113.2h0M161.8 184.6h0M150.1 117.1h0M204.6 129.4h0M214.3 131.6h0M176.8 160.3h0M217.4 130.0h0M135.8 191.7h0M144.1 165.5h0M164.6 146.1h0M181.7 154.8h0M186.0 112.0h0M213.1 113.9h0M175.7 125.6h0M204.4 123.4h0M131.0 113.0h0M134.4 172.0h0M189.4 166.2h0M183.1 115.6h0M200.6 194.3h0M148.9 162.2h0M187.6 182.7h0" stroke="#1a6090" stroke-width="0.90" stroke-opacity="0.75" stroke-linecap="round"/><path d="M144.0 148.3h0M161.8 133.3h0M143.8 131.0h0M170.3 135.7h0M183.5 112.3h0M174.0 125.2h0M172.9 132.9h0" stroke="#2070a0" stroke-width="1.20" stroke-opacity="1.0" stroke-linecap="round"/><path d="M168.3 113.9h0M197.6 172.0h0M212.3 184.4h0M176.4 205.4h0M172.7 178.1h0M181.6 201.5h0M166.6 186.4h0M165.3 193.0h0M123.3 188.8h0M177.0 201.7h0M193.6 135.0h0M126.1 122.2h0M182.1 179.5h0" stroke="#1a6090" stroke-width="0.60" stroke-opacity="0.75" stroke-linecap="round"/><path d="M153.5 191.4h0M198.5 197.4h0M168.1 135.2h0M213.4 116.5h0M206.0 114.7h0M167.1 128.3h0M124.4 181.2h0M220.0 183.3h0M168.9 132.2h0M152.1 118.1h0M201.1 113.6h0M180.9 134.5h0M206.6 124.2h0M208.1 208.1h0M147.7 197.8h0M146.4 169.8h0M159.1 138.2h0M133.8 128.7h0M201.5 193.7h0M218.1 177.3h0M203.3 196.6h0M184.3 187.2h0M200.9 188.4h0M194.7 135.9h0M216.9 172.9h0" stroke="#2a88c0" stroke-width="0.90" stroke-opacity="0.75" stroke-linecap="round"/><path d="M219.0 160.3h0M134.6 134.1h0M158.4 171.4h0M183.3 202.0h0M132.9 163.9h0M181.5 179.7h0M147.1 166.4h0M212.0 156.5h0M195.6 124.8h0M129.1 142.9h0M133.9 162.6h0M205.9 133.0h0M212.3 130.0h0M165.9 119.5h0M162.6 197.2h0M150.5 163.5h0M202.7 191.9h0M187.0 202.2h0M210.8 176.9h0" stroke="#3aa0d0" stroke-width="1.20" stroke-opacity="0.75" stroke-linecap="round"/><path d="M166.2 155.2h0M163.1 197.6h0M214.1 115.6h0M213.1 127.8h0M170.3 180.2h0M169.3 192.1h0M124.3 132.5h0M201.4 132.3h0M160.7 118.9h0" stroke="#3aa0d0" stroke-width="0.60" stroke-opacity="1.0" stroke-linecap="round"/><path d="M177.6 119.0h0M164.8 114.7h0M210.2 186.4h0M129.5 205.1h0M212.8 114.5h0M202.7 118.9h0M196.0 200.0h0M140.6 172.0h0M197.9 135.3h0" stroke="#3aa0d0" stroke-width="1.20" stroke-opacity="0.5" stroke-linecap="round"/><path d="M193.3 178.2h0M170.7 185.4h0M135.6 156.7h0M218.6 173.2h0M127.8 204.0h0M195.0 127.0h0M197.3 181.8h0M179.8 124.0h0M203.6 196.7h0M201.3 154.5h0M206.8 127.3h0M218.4 168.6h0M197.8 206.7h0M196.2 180.1h0M147.2 132.1h0M218.8 176.3h0M219.2 112.0h0M194.9 197.1h0M159.9 205.2h0M166.5 136.4h0M129.3 112.5h0M217.0 200.2h0M202.9 152.5h0M198.1 152.2h0M129.0 170.3h0M179.2 123.5h0M217.6 129.9h0" stroke="#3aa0d0" stroke-width="0.90" stroke-opacity="0.75" stroke-linecap="round"/><path d="M213.3 128.7h0M164.6 122.4h0M183.3 191.5h0M212.0 126.9h0" stroke="#1a6090" stroke-width="1.20" stroke-opacity="1.0" stroke-linecap="round"/><path d="M123.3 133.3h0M200.0 164.8h0M148.6 200.3h0M155.2 175.6h0M170.1 150.8h0M181.5 132.6h0" stroke="#2070a0" stroke-width="0.60" stroke-opacity="0.5" stroke-linecap="round"/><path d="M164.8 133.2h0M156.2 139.3h0M142.9 140.1h0M193.1 112.6h0M204.0 136.0h0M186.1 114.9h0M200.6 115.0h0M189.2 182.9h0M176.9 139.4h0M193.9 141.5h0M197.0 152.4h0M165.4 139.2h0M187.4 126.6h0M153.9 188.6h0M209.1 127.5h0M197.3 120.8h0M156.4 194.5h0M166.8 134.9h0M190.5 203.8h0M153.7 182.4h0M194.9 123.2h0M193.9 193.6h0M136.0 175.6h0M157.1 141.0h0" stroke="#3aa0d0" stroke-width="0.90" stroke-opacity="0.5" stroke-linecap="round"/><path d="M217.8 162.8h0M185.9 143.1h0M131.6 197.7h0M194.9 190.3h0M194.7 117.8h0M169.3 202.8h0" stroke="#2070a0" stroke-width="0.90" stroke-opacity="1.0" stroke-linecap="round"/><path d="M155.2 135.4h0M127.2 171.7h0M193.8 136.4h0M126.4 206.7h0M123.4 122.9h0M148.5 134.3h0M192.3 119.5h0M167.1 191.4h0M172.2 186.9h0" stroke="#2a88c0" stroke-width="0.60" stroke-opacity="0.75" stroke-linecap="round"/><path d="M174.4 161.5h0M144.6 198.3h0M176.6 129.5h0M187.5 117.4h0M217.8 175.4h0M215.9 124.1h0M165.9 194.2h0M216.9 127.3h0M183.2 135.5h0M163.4 130.1h0M153.3 169.6h0M196.3 184.5h0M155.3 192.3h0M214.4 207.7h0M161.0 177.7h0M159.4 114.0h0M213.6 131.9h0" stroke="#1a6090" stroke-width="1.20" stroke-opacity="0.5" stroke-linecap="round"/><path d="M137.8 153.4h0M164.1 160.3h0M154.5 133.0h0M134.9 131.6h0M218.4 137.9h0" stroke="#2070a0" stroke-width="0.60" stroke-opacity="1.0" stroke-linecap="round"/><path d="M202.3 120.7h0M180.2 187.2h0M156.7 183.7h0M148.3 187.1h0M167.7 187.5h0M138.3 193.9h0M205.7 182.3h0M190.4 151.4h0M189.5 188.9h0M165.9 200.0h0M173.5 134.2h0M128.1 207.5h0" stroke="#2a88c0" stroke-width="0.60" stroke-opacity="1.0" stroke-linecap="round"/><path d="M131.1 123.2h0M130.0 163.8h0M159.6 186.0h0M215.7 132.9h0M152.6 160.6h0M219.7 119.3h0M131.9 169.1h0M220.2 188.5h0M217.8 118.7h0M136.1 154.1h0" stroke="#2070a0" stroke-width="0.60" stroke-opacity="0.75" stroke-linecap="round"/><path d="M189.7 126.2h0M175.4 134.8h0M147.1 163.0h0M140.8 182.9h0M136.6 201.0h0M128.9 131.1h0M155.0 197.2h0M155.5 141.0h0M138.8 123.1h0M214.4 115.9h0M190.6 135.1h0" stroke="#3aa0d0" stroke-width="0.60" stroke-opacity="0.75" stroke-linecap="round"/><path d="M213.5 121.3h0M123.3 180.4h0M195.4 154.1h0M157.6 127.0h0" stroke="#1a6090" stroke-width="0.60" stroke-opacity="1.0" stroke-linecap="round"/><path d="M151.6 177.7h0M215.6 153.1h0M129.6 179.6h0M123.5 129.5h0M167.3 190.3h0M140.3 116.5h0M187.1 171.6h0" stroke="#2a88c0" stroke-width="1.20" stroke-opacity="0.5" stroke-linecap="round"/><path d="M207.1 205.0h0M182.1 159.9h0M138.3 137.6h0M139.1 173.5h0M143.2 140.5h0M148.4 146.4h0M213.4 149.1h0M151.5 195.5h0M172.1 168.2h0" stroke="#1a6090" stroke-width="1.20" stroke-opacity="0.75" stroke-linecap="round"/><path d="M166.8 196.4h0M210.1 112.6h0M164.3 129.0h0M183.0 129.8h0" stroke="#2a88c0" stroke-width="1.20" stroke-opacity="1.0" stroke-linecap="round"/>
</g>
<g clip-path="url(#cp7)">
<rect x="220.00" y="111.60" width="97.00" height="96.60" fill="#000200" stroke="none" stroke-width="0.6" />
<path d="M225.3 183.2h0M303.0 204.8h0M221.2 142.5h0M274.6 187.3h0M221.9 130.9h0M282.1 137.0h0M233.6 190.4h0M287.1 152.5h0M243.3 202.8h0M228.5 129.2h0M314.2 158.0h0M312.1 126.2h0M247.1 196.0h0" stroke="#30a040" stroke-width="0.60" stroke-opacity="0.5" stroke-linecap="round"/><path d="M220.2 167.4h0M236.2 122.5h0M225.8 206.4h0M309.9 195.3h0M305.9 114.2h0M223.4 198.3h0M290.8 130.0h0M228.4 125.6h0M225.0 166.6h0M257.1 133.2h0M239.8 177.1h0M224.5 171.0h0M256.9 145.6h0M233.6 121.3h0" stroke="#1e8030" stroke-width="0.60" stroke-opacity="0.75" stroke-linecap="round"/><path d="M314.4 169.9h0M229.8 161.9h0M249.4 139.6h0M222.9 165.0h0M239.4 115.3h0M254.6 175.2h0M263.2 197.8h0M220.7 184.0h0M245.7 179.3h0M304.3 121.5h0M240.6 148.2h0M287.3 112.0h0M275.6 168.4h0M306.1 139.4h0M221.0 135.3h0M236.5 122.2h0M236.2 153.7h0M266.2 202.4h0M251.0 164.3h0" stroke="#28a03a" stroke-width="0.60" stroke-opacity="0.75" stroke-linecap="round"/><path d="M224.5 156.2h0M289.7 119.5h0M269.1 192.2h0M292.0 196.0h0M276.8 140.9h0M222.2 150.0h0M221.9 189.2h0M264.9 121.4h0M279.4 155.9h0M299.4 120.0h0M311.0 166.4h0M292.0 127.9h0M251.3 151.3h0M273.7 126.4h0M228.1 117.2h0M273.1 161.2h0M243.2 155.3h0M268.9 166.7h0M288.8 119.2h0" stroke="#186a28" stroke-width="0.60" stroke-opacity="0.75" stroke-linecap="round"/><path d="M227.0 140.4h0M223.2 170.8h0M295.7 113.3h0M293.1 120.7h0M247.9 143.2h0M299.0 188.7h0M284.7 115.0h0M280.9 181.7h0M231.2 118.2h0M230.7 136.9h0M259.7 140.0h0M271.9 169.0h0M301.5 183.4h0M234.0 165.5h0M230.3 123.7h0M228.0 190.8h0M222.5 160.0h0M241.3 118.2h0M244.7 170.5h0" stroke="#28a03a" stroke-width="1.20" stroke-opacity="0.5" stroke-linecap="round"/><path d="M224.4 200.4h0M230.1 122.9h0M279.8 204.3h0M230.6 132.6h0M238.1 124.7h0M251.4 130.0h0M271.8 128.8h0M307.8 173.9h0M230.6 175.5h0M246.1 187.3h0M256.7 177.1h0M252.6 179.0h0M251.3 141.1h0M230.0 118.0h0M251.4 178.6h0M260.6 169.5h0M224.0 161.9h0M280.8 159.4h0M275.2 199.5h0M269.3 185.7h0M315.0 127.2h0" stroke="#1e8030" stroke-width="0.90" stroke-opacity="0.5" stroke-linecap="round"/><path d="M228.3 115.1h0M223.8 126.0h0M244.1 169.0h0M231.7 137.3h0M241.6 207.1h0M260.9 197.8h0M241.8 126.9h0M243.4 186.5h0M261.8 192.7h0M247.9 175.8h0M263.6 198.0h0M239.3 119.8h0M235.8 189.5h0M308.6 165.9h0" stroke="#186a28" stroke-width="1.20" stroke-opacity="0.5" stroke-linecap="round"/><path d="M227.3 146.8h0M234.6 159.2h0M242.6 198.2h0M267.5 116.6h0M226.2 156.7h0M277.6 165.8h0M260.9 147.8h0M298.9 189.2h0M258.9 198.2h0M230.0 146.2h0M233.9 178.8h0M301.4 192.8h0M274.5 165.4h0" stroke="#186a28" stroke-width="1.20" stroke-opacity="0.75" stroke-linecap="round"/><path d="M228.5 146.5h0M229.9 115.9h0M246.0 122.5h0M271.5 162.4h0M267.9 188.2h0M254.8 174.4h0M312.1 120.4h0M233.2 164.6h0M242.8 117.3h0M238.7 162.2h0M228.0 115.5h0M242.5 202.7h0M280.9 128.6h0M225.3 204.5h0M245.2 174.9h0M233.6 175.7h0M246.1 135.5h0M233.7 199.4h0M243.3 159.8h0M310.2 184.1h0M233.6 135.9h0M253.1 166.1h0M239.2 189.5h0M269.1 183.7h0M233.8 181.5h0M250.0 139.9h0M231.6 175.9h0M221.8 180.3h0M225.9 139.9h0M269.1 113.2h0M252.7 184.8h0" stroke="#186a28" stroke-width="0.90" stroke-opacity="0.5" stroke-linecap="round"/><path d="M236.5 129.5h0M230.9 206.1h0M245.9 186.8h0M240.0 203.5h0M300.0 204.4h0M229.5 146.0h0M282.9 119.7h0M224.6 139.9h0M286.7 196.0h0M248.8 152.1h0M226.1 163.5h0M302.1 204.6h0M277.2 176.4h0M265.6 128.7h0M294.4 125.6h0M227.7 192.1h0M291.8 124.7h0M268.0 189.5h0M228.7 139.7h0M261.2 133.8h0M314.6 146.9h0M310.3 118.0h0M306.2 171.6h0M223.8 190.0h0M220.8 174.5h0M252.2 122.9h0M245.2 140.8h0M238.5 183.4h0M254.1 138.1h0M281.8 129.3h0M264.0 134.8h0M223.8 114.0h0M241.9 121.6h0M227.9 165.2h0M278.1 127.9h0" stroke="#28a03a" stroke-width="0.90" stroke-opacity="0.75" stroke-linecap="round"/><path d="M221.9 192.3h0M227.1 197.0h0M288.2 120.4h0M280.2 151.4h0M225.1 183.4h0M236.6 137.8h0M239.5 159.2h0M240.8 122.7h0M230.9 153.4h0M260.0 164.3h0M232.3 143.3h0M315.1 128.1h0M220.9 170.1h0M278.2 206.8h0M279.7 173.5h0M249.9 157.8h0M260.6 197.0h0M222.1 125.8h0M238.8 126.1h0M254.7 129.2h0M292.4 123.1h0M307.5 180.0h0M262.1 139.9h0M225.7 129.9h0M258.6 206.6h0M222.2 124.6h0M221.3 188.9h0M250.4 141.2h0M288.1 187.9h0M297.8 188.9h0M264.5 199.2h0M306.4 144.2h0M297.2 203.4h0" stroke="#30a040" stroke-width="0.90" stroke-opacity="0.75" stroke-linecap="round"/><path d="M223.4 111.6h0M271.8 119.7h0M243.4 176.8h0M235.0 129.0h0M262.8 149.3h0M224.7 183.9h0M259.8 141.9h0M284.7 112.6h0M241.6 204.7h0M278.4 170.5h0M240.0 166.8h0M248.4 203.3h0M286.5 145.0h0M228.2 167.7h0M240.1 134.0h0M220.6 117.3h0M232.4 162.2h0M242.9 184.3h0M224.4 180.7h0M266.6 136.3h0M241.3 121.2h0M238.0 113.3h0M238.4 182.0h0M223.6 150.2h0M315.0 197.1h0" stroke="#30a040" stroke-width="0.90" stroke-opacity="0.5" stroke-linecap="round"/><path d="M260.7 187.6h0M241.0 122.3h0M245.3 123.8h0M224.3 191.3h0M221.2 150.6h0M282.6 122.0h0M235.5 156.7h0M302.0 123.6h0M226.8 138.8h0M250.0 140.6h0M262.1 178.3h0M258.8 159.7h0M287.4 204.9h0M238.8 116.8h0M254.2 129.1h0M255.8 146.6h0M227.4 114.8h0M247.1 127.8h0M224.3 126.6h0M274.2 125.8h0M226.6 153.3h0M285.4 117.6h0" stroke="#28a03a" stroke-width="1.20" stroke-opacity="0.75" stroke-linecap="round"/><path d="M277.2 204.5h0M249.1 178.5h0M223.6 149.8h0M269.2 171.5h0M257.7 152.2h0M239.9 179.2h0M224.4 137.6h0M240.1 124.1h0M236.9 154.8h0M262.0 160.0h0M276.3 128.3h0M233.7 165.5h0M220.0 195.1h0M231.5 154.6h0M220.1 138.4h0M273.9 143.7h0M220.2 188.8h0M224.8 189.7h0M231.1 186.0h0M265.7 155.4h0M233.7 112.3h0M264.1 124.1h0M242.3 155.9h0M287.6 165.3h0M264.6 198.6h0M250.2 124.0h0" stroke="#28a03a" stroke-width="0.90" stroke-opacity="0.5" stroke-linecap="round"/><path d="M242.5 200.8h0M222.0 161.5h0M234.4 156.7h0M307.7 157.5h0M305.8 135.3h0M233.9 176.6h0M261.0 144.7h0M258.2 153.5h0M256.2 118.6h0M248.4 187.4h0M290.2 114.4h0M225.3 175.9h0M239.7 206.0h0M223.3 121.3h0" stroke="#30a040" stroke-width="1.20" stroke-opacity="0.5" stroke-linecap="round"/><path d="M235.7 122.6h0M273.4 127.1h0M244.9 182.9h0M234.2 130.0h0M221.0 153.7h0M236.9 176.5h0M223.0 177.5h0M266.2 171.3h0M237.5 204.8h0M299.5 129.5h0M238.4 200.2h0M221.4 185.0h0M221.2 165.6h0M253.3 151.4h0M258.8 127.7h0M268.5 163.7h0M263.8 147.2h0M223.7 164.7h0M271.9 123.3h0M229.6 118.1h0M225.0 130.8h0M249.1 155.4h0M252.1 146.1h0M269.2 126.0h0M233.8 127.6h0M233.9 148.6h0M286.8 115.1h0M311.5 153.5h0M304.5 115.3h0M284.3 186.2h0M267.4 141.6h0M272.2 147.1h0M236.5 152.1h0" stroke="#186a28" stroke-width="0.90" stroke-opacity="0.75" stroke-linecap="round"/><path d="M221.1 189.1h0M265.9 142.8h0M238.9 126.4h0M265.0 144.3h0M228.5 125.4h0M225.0 163.1h0M230.3 197.7h0M235.4 120.9h0M225.2 170.6h0M251.9 202.7h0M250.1 174.8h0" stroke="#186a28" stroke-width="0.60" stroke-opacity="0.5" stroke-linecap="round"/><path d="M241.8 190.7h0M264.7 131.9h0M285.0 157.8h0M229.1 128.8h0M243.3 144.5h0M247.6 154.6h0M222.8 164.2h0M291.4 184.3h0M261.4 188.0h0M226.6 199.4h0M220.4 148.1h0M297.0 151.5h0M223.4 121.7h0M223.9 150.6h0M230.3 180.3h0M241.8 126.2h0" stroke="#28a03a" stroke-width="0.60" stroke-opacity="0.5" stroke-linecap="round"/><path d="M238.6 138.3h0M280.8 159.9h0M229.3 203.8h0M260.6 190.0h0M274.5 140.2h0M262.4 195.8h0M254.5 161.3h0M244.1 125.9h0M282.3 143.8h0M264.8 198.6h0M267.2 171.1h0M302.8 169.9h0M271.3 118.2h0M297.9 195.9h0M248.7 180.6h0M235.2 160.7h0M244.8 146.0h0M263.3 205.4h0" stroke="#30a040" stroke-width="1.20" stroke-opacity="0.75" stroke-linecap="round"/><path d="M274.0 163.7h0M275.1 159.8h0M226.0 171.3h0M246.2 130.2h0M239.2 169.3h0M239.2 135.0h0M280.9 111.7h0M234.3 168.3h0M230.8 128.0h0M239.0 131.3h0M235.5 152.4h0M253.6 163.4h0M290.0 118.6h0M234.3 140.1h0M233.1 164.7h0M247.4 142.9h0M236.8 119.4h0M263.2 111.6h0M270.5 200.4h0" stroke="#30a040" stroke-width="0.60" stroke-opacity="0.75" stroke-linecap="round"/><path d="M233.3 116.0h0M298.5 173.8h0M222.0 126.8h0M229.7 163.7h0M225.9 182.1h0M229.7 170.1h0M307.9 181.3h0M226.5 167.9h0M231.5 114.6h0M242.8 193.7h0M259.7 127.3h0M276.3 169.4h0M234.1 137.6h0" stroke="#1e8030" stroke-width="1.20" stroke-opacity="0.75" stroke-linecap="round"/><path d="M222.1 143.8h0M251.8 194.3h0M282.1 206.3h0M259.4 120.7h0M239.5 158.4h0M235.8 144.9h0M301.5 173.0h0" stroke="#1e8030" stroke-width="1.20" stroke-opacity="0.5" stroke-linecap="round"/><path d="M275.3 122.8h0M281.3 121.5h0M284.2 114.1h0M261.1 168.7h0M223.0 177.9h0M248.7 117.4h0M267.7 201.9h0M254.6 201.6h0M235.9 192.0h0M220.1 181.3h0M272.0 129.7h0M278.9 199.1h0M293.0 114.1h0M227.7 193.0h0M247.5 172.9h0M246.5 119.1h0M261.9 207.8h0" stroke="#1e8030" stroke-width="0.90" stroke-opacity="0.75" stroke-linecap="round"/><path d="M237.9 156.9h0M237.8 116.5h0" stroke="#28a03a" stroke-width="1.20" stroke-opacity="1.0" stroke-linecap="round"/><path d="M231.5 148.9h0M245.3 153.4h0M299.7 120.5h0M280.0 157.1h0M275.8 197.2h0" stroke="#30a040" stroke-width="0.90" stroke-opacity="1.0" stroke-linecap="round"/><path d="M312.0 152.7h0M275.0 200.4h0M289.7 191.6h0M258.3 158.2h0M266.0 188.5h0M237.7 177.5h0M253.1 187.8h0M244.4 175.1h0M239.6 143.5h0M223.5 163.2h0M311.9 170.7h0" stroke="#1e8030" stroke-width="0.60" stroke-opacity="0.5" stroke-linecap="round"/><path d="M258.0 139.7h0" stroke="#1e8030" stroke-width="1.20" stroke-opacity="1.0" stroke-linecap="round"/><path d="M260.8 118.3h0M226.8 183.6h0" stroke="#28a03a" stroke-width="0.60" stroke-opacity="1.0" stroke-linecap="round"/><path d="M258.7 116.8h0M246.8 135.3h0" stroke="#1e8030" stroke-width="0.60" stroke-opacity="1.0" stroke-linecap="round"/><path d="M241.1 127.2h0M238.8 160.0h0" stroke="#28a03a" stroke-width="0.90" stroke-opacity="1.0" stroke-linecap="round"/><path d="M293.3 175.2h0" stroke="#30a040" stroke-width="1.20" stroke-opacity="1.0" stroke-linecap="round"/><path d="M235.1 179.5h0" stroke="#186a28" stroke-width="0.60" stroke-opacity="1.0" stroke-linecap="round"/><path d="M229.0 138.7h0" stroke="#30a040" stroke-width="0.60" stroke-opacity="1.0" stroke-linecap="round"/>
</g>
<g clip-path="url(#cp8)">
<rect x="316.50" y="111.60" width="97.50" height="96.60" fill="#010000" stroke="none" stroke-width="0.6" />
<path d="M341.9,207.2 C342.1,206.6 342.0,207.3 343.5,203.4 C345.0,199.4 347.7,188.1 351.0,183.5 C354.3,178.9 358.3,177.6 363.4,175.8 C368.5,174.1 375.6,173.1 381.7,172.8 C387.8,172.6 395.6,176.6 400.0,174.3 C404.3,172.0 406.0,164.7 407.7,158.9 C409.4,153.2 409.7,142.8 410.1,139.6" fill="none" stroke="#c8702c" stroke-width="0.9" stroke-opacity="0.95" stroke-linecap="round" stroke-dasharray="0.1 1.1"/>
<path d="M326.7,180.0 C328.3,177.0 332.0,167.9 336.0,161.8 C340.0,155.8 345.4,149.2 351.0,143.7 C356.6,138.1 362.4,133.0 369.5,128.4 C376.7,123.8 389.9,118.1 394.0,116.0" fill="none" stroke="#9a5020" stroke-width="0.8" stroke-opacity="0.7" stroke-linecap="round" stroke-dasharray="0.1 1.8"/>
<path d="M345.0 193.6h0M318.4 113.9h0M360.0 157.0h0M381.9 122.0h0M405.6 131.3h0M352.3 136.2h0M413.4 131.4h0M376.4 144.9h0M372.2 122.9h0M356.6 181.2h0M385.2 178.2h0M391.2 126.4h0M403.3 164.3h0M381.1 111.6h0M406.9 153.5h0M383.8 116.2h0" stroke="#a05a20" stroke-width="0.60" stroke-opacity="0.5" stroke-linecap="round"/><path d="M398.8 161.9h0M322.4 119.3h0M334.9 152.4h0M362.3 154.0h0M325.6 206.1h0M343.4 186.9h0M387.5 155.8h0M397.4 147.2h0M360.4 160.7h0M383.1 143.7h0M362.0 159.2h0M378.6 202.0h0M374.6 138.9h0M386.9 119.6h0M378.7 136.6h0M413.8 119.8h0M402.7 116.1h0" stroke="#804018" stroke-width="0.90" stroke-opacity="0.5" stroke-linecap="round"/><path d="M383.0 121.7h0M400.0 206.2h0M346.8 115.7h0M389.7 113.2h0M333.2 123.4h0M330.9 139.9h0M391.1 154.4h0M346.4 199.3h0M333.1 174.9h0M402.0 175.9h0M323.1 153.1h0M344.3 123.4h0M370.7 131.3h0M400.8 139.3h0M356.9 140.7h0M396.3 140.8h0M384.0 133.1h0M412.8 150.5h0M366.3 147.2h0M321.0 118.9h0M333.0 144.7h0M368.2 134.5h0M358.7 147.6h0" stroke="#c06a28" stroke-width="0.90" stroke-opacity="0.75" stroke-linecap="round"/><path d="M333.1 117.7h0M346.0 203.0h0M328.2 165.2h0M368.7 149.4h0M396.6 123.5h0M398.1 153.9h0M390.3 122.7h0M397.3 165.8h0M383.2 135.2h0M363.4 129.3h0M385.2 123.8h0M335.4 132.2h0M332.4 180.4h0M383.4 124.4h0" stroke="#804018" stroke-width="1.20" stroke-opacity="0.5" stroke-linecap="round"/><path d="M398.2 197.5h0M329.0 186.0h0M365.3 163.4h0M343.8 194.9h0M382.1 116.4h0M411.1 139.0h0M412.9 191.9h0M358.4 147.0h0M396.2 147.6h0M385.0 172.9h0M402.2 205.9h0M411.1 195.1h0M344.9 144.5h0M408.4 134.9h0M373.2 164.3h0M326.1 185.4h0M350.1 162.6h0M406.0 154.1h0M365.8 126.5h0M406.6 122.0h0M343.9 148.6h0M376.5 160.7h0" stroke="#804018" stroke-width="0.90" stroke-opacity="0.75" stroke-linecap="round"/><path d="M388.1 129.6h0M372.0 189.7h0M400.9 142.1h0M383.1 192.1h0M319.1 207.0h0M349.6 124.0h0M411.9 185.3h0M355.8 117.4h0M373.3 126.3h0M365.0 188.7h0M343.3 187.0h0M384.7 129.2h0M321.6 184.3h0M396.8 139.3h0M381.2 136.5h0M350.7 142.8h0M411.2 142.0h0M394.0 142.9h0M411.4 182.9h0M360.1 123.8h0M375.2 165.3h0M333.4 198.9h0M340.2 138.1h0M322.1 146.0h0M407.8 133.6h0M333.1 120.6h0" stroke="#6a3010" stroke-width="0.90" stroke-opacity="0.5" stroke-linecap="round"/><path d="M403.6 185.6h0M381.9 197.2h0M393.6 120.0h0M353.8 138.8h0M333.4 130.3h0M404.3 202.9h0M328.7 123.6h0M361.4 179.2h0M409.0 133.6h0M325.6 167.2h0M358.3 131.1h0M339.6 118.5h0M322.2 197.7h0M407.6 145.6h0M356.6 187.9h0" stroke="#6a3010" stroke-width="1.20" stroke-opacity="0.5" stroke-linecap="round"/><path d="M371.8 140.5h0M338.0 114.5h0M385.6 152.0h0M375.7 163.3h0M375.1 123.8h0M334.8 163.5h0M397.4 119.5h0M369.1 160.9h0M346.6 171.3h0M323.4 134.4h0M413.9 149.3h0M368.4 140.7h0M412.2 127.4h0M320.4 176.6h0M376.7 199.8h0M359.3 132.8h0M402.5 154.6h0M328.6 144.4h0M336.4 175.9h0M370.4 140.9h0M348.4 193.7h0M336.0 195.7h0M319.9 177.9h0M399.2 146.6h0" stroke="#c06a28" stroke-width="0.90" stroke-opacity="0.5" stroke-linecap="round"/><path d="M370.3 154.4h0M381.0 130.2h0M338.8 205.0h0M372.9 132.9h0M396.6 204.7h0M365.4 157.6h0M378.3 127.1h0M369.6 140.7h0M370.8 187.6h0M413.4 126.4h0" stroke="#a05a20" stroke-width="0.60" stroke-opacity="0.75" stroke-linecap="round"/><path d="M403.7 131.3h0M392.2 158.2h0M387.0 155.3h0M342.5 146.8h0M407.0 155.1h0M398.8 131.6h0M325.5 206.9h0M366.7 153.5h0M376.9 166.2h0M382.3 180.8h0M388.6 120.8h0M387.5 130.5h0M329.7 151.8h0M365.9 136.4h0M338.2 204.0h0M356.5 147.9h0M406.0 150.4h0M374.3 119.1h0M355.7 112.3h0M403.8 143.7h0M378.7 128.8h0M380.2 126.7h0M328.6 115.0h0M404.9 132.3h0" stroke="#a05a20" stroke-width="0.90" stroke-opacity="0.75" stroke-linecap="round"/><path d="M336.0 132.4h0M377.9 154.6h0M378.6 145.4h0M409.0 143.1h0M370.1 151.6h0" stroke="#804018" stroke-width="0.60" stroke-opacity="0.75" stroke-linecap="round"/><path d="M412.1 163.6h0M400.9 175.4h0M373.9 117.1h0M392.9 154.1h0M369.7 130.0h0M369.7 129.2h0M401.4 180.5h0M369.0 187.8h0M410.9 131.3h0M396.8 148.4h0M316.7 194.5h0M368.9 130.6h0M406.4 164.3h0M402.3 158.7h0M375.9 205.7h0M405.8 146.2h0M383.3 133.7h0M318.2 175.5h0" stroke="#6a3010" stroke-width="0.60" stroke-opacity="0.75" stroke-linecap="round"/><path d="M386.3 132.6h0M402.5 157.1h0M387.5 166.9h0M395.0 159.3h0M386.3 119.9h0M321.5 192.0h0M393.3 126.9h0M373.1 164.6h0M383.5 115.5h0M382.6 121.4h0" stroke="#6a3010" stroke-width="0.60" stroke-opacity="0.5" stroke-linecap="round"/><path d="M362.8 159.1h0M329.1 197.9h0M393.4 126.1h0M402.4 135.2h0M395.1 157.1h0M393.7 120.7h0M356.0 155.3h0M368.9 159.5h0M373.2 117.6h0M331.3 138.6h0M374.5 111.8h0M375.1 151.1h0M374.1 163.1h0M369.9 118.1h0M405.1 157.3h0M359.1 207.6h0M389.3 147.1h0M368.7 146.5h0M337.5 180.7h0M348.8 112.7h0M365.8 118.3h0M355.7 194.3h0M381.3 128.8h0" stroke="#6a3010" stroke-width="0.90" stroke-opacity="0.75" stroke-linecap="round"/><path d="M404.6 134.5h0M355.0 120.4h0M399.9 122.9h0M363.2 141.7h0M383.7 126.4h0M404.0 140.6h0M392.2 118.9h0M349.2 165.6h0M328.0 181.7h0" stroke="#a05a20" stroke-width="1.20" stroke-opacity="0.5" stroke-linecap="round"/><path d="M374.9 145.3h0M321.4 150.0h0M348.6 205.8h0M325.6 202.6h0M392.9 117.1h0M389.2 129.5h0M361.3 154.9h0M342.9 141.3h0M409.9 151.6h0M319.2 137.4h0M373.5 140.4h0M406.7 185.5h0M336.9 178.0h0M400.5 127.5h0" stroke="#a05a20" stroke-width="0.90" stroke-opacity="0.5" stroke-linecap="round"/><path d="M379.1 151.9h0M412.7 157.3h0M379.0 134.4h0M365.5 145.9h0M395.9 135.6h0M397.7 162.5h0M374.3 134.1h0M384.8 112.8h0M413.0 136.0h0M410.6 117.0h0M398.1 176.3h0M390.7 124.2h0M345.7 189.4h0M388.5 123.4h0" stroke="#a05a20" stroke-width="1.20" stroke-opacity="0.75" stroke-linecap="round"/><path d="M376.7 204.9h0M392.2 150.7h0M389.2 143.9h0M334.8 207.0h0M390.7 135.3h0M335.2 125.7h0M393.5 135.6h0M383.9 153.6h0M326.4 163.8h0M364.3 160.2h0M324.3 158.0h0M396.4 156.6h0M353.5 126.0h0M376.3 185.4h0M346.6 146.0h0" stroke="#804018" stroke-width="1.20" stroke-opacity="0.75" stroke-linecap="round"/><path d="M317.6 141.9h0M327.6 130.4h0M390.6 125.7h0M386.1 157.8h0M329.2 159.6h0M383.5 160.6h0M359.6 201.2h0M335.5 142.4h0M343.8 137.6h0M404.4 148.3h0M401.7 129.9h0" stroke="#6a3010" stroke-width="1.20" stroke-opacity="0.75" stroke-linecap="round"/><path d="M368.5 114.3h0M359.8 166.4h0M357.1 207.4h0M387.5 191.4h0M374.2 114.5h0M355.4 126.0h0M373.3 161.4h0M336.0 199.3h0M355.4 186.7h0M405.1 163.7h0M335.3 151.4h0" stroke="#c06a28" stroke-width="1.20" stroke-opacity="0.75" stroke-linecap="round"/><path d="M411.7 164.4h0M400.7 160.1h0M380.6 177.3h0M350.5 207.6h0M326.4 126.9h0M375.9 202.0h0M400.8 163.5h0M335.5 142.8h0M372.3 163.7h0" stroke="#c06a28" stroke-width="1.20" stroke-opacity="0.5" stroke-linecap="round"/><path d="M356.2 164.9h0M355.8 126.3h0" stroke="#6a3010" stroke-width="0.60" stroke-opacity="1.0" stroke-linecap="round"/><path d="M406.3 147.9h0M403.1 144.6h0M355.6 138.4h0M377.8 207.1h0M406.9 139.0h0M377.5 182.4h0M379.9 164.6h0M338.6 179.5h0M376.8 139.9h0" stroke="#c06a28" stroke-width="0.60" stroke-opacity="0.75" stroke-linecap="round"/><path d="M376.3 115.8h0M377.9 141.5h0M361.4 162.6h0M388.8 138.0h0M407.8 177.7h0M356.6 132.7h0M377.2 181.6h0M348.3 143.0h0M368.5 169.6h0M399.5 125.8h0M402.1 137.7h0" stroke="#804018" stroke-width="0.60" stroke-opacity="0.5" stroke-linecap="round"/><path d="M403.4 160.8h0M401.0 203.1h0M360.8 168.9h0M399.5 190.0h0M398.3 131.8h0M338.9 194.9h0M389.7 193.8h0M377.9 119.5h0M410.6 129.5h0M403.5 120.6h0M379.7 154.6h0" stroke="#c06a28" stroke-width="0.60" stroke-opacity="0.5" stroke-linecap="round"/><path d="M348.0 154.6h0" stroke="#c06a28" stroke-width="0.60" stroke-opacity="1.0" stroke-linecap="round"/><path d="M348.9 147.6h0M370.6 143.1h0M382.4 133.1h0M384.9 123.2h0M367.0 137.1h0M365.9 142.3h0" stroke="#a05a20" stroke-width="0.90" stroke-opacity="1.0" stroke-linecap="round"/><path d="M322.6 113.5h0M406.8 126.7h0" stroke="#c06a28" stroke-width="0.90" stroke-opacity="1.0" stroke-linecap="round"/><path d="M327.3 181.2h0M392.4 136.4h0" stroke="#804018" stroke-width="0.90" stroke-opacity="1.0" stroke-linecap="round"/><path d="M367.5 197.6h0" stroke="#804018" stroke-width="1.20" stroke-opacity="1.0" stroke-linecap="round"/><path d="M409.8 126.4h0M351.2 131.6h0" stroke="#c06a28" stroke-width="1.20" stroke-opacity="1.0" stroke-linecap="round"/><path d="M328.7 204.3h0M330.2 128.4h0" stroke="#804018" stroke-width="0.60" stroke-opacity="1.0" stroke-linecap="round"/><path d="M406.6 142.9h0" stroke="#6a3010" stroke-width="0.90" stroke-opacity="1.0" stroke-linecap="round"/>
</g>
<rect x="9.50" y="12.00" width="15.30" height="96.20" fill="#d97c7b" stroke="#9a9a9a" stroke-width="0.6" />
<rect x="9.50" y="111.60" width="15.30" height="96.60" fill="#7b80b9" stroke="#9a9a9a" stroke-width="0.6" />
<text x="17.4" y="60" font-size="9.8" text-anchor="middle" fill="#3a3a3a" dominant-baseline="central" transform="rotate(-90 17.4 60)" textLength="56" lengthAdjust="spacingAndGlyphs">APOE4s2/FAD</text>
<text x="17.4" y="159.6" font-size="8.6" text-anchor="middle" fill="#3a3a3a" dominant-baseline="central" transform="rotate(-90 17.4 159.6)">APOE4s2<tspan font-size="4.8" dy="-3.6">Λ</tspan><tspan dy="3.6">/FAD</tspan></text>
<rect x="30.40" y="101.30" width="27.60" height="2.60" fill="#ffffff" stroke="none" stroke-width="0.6" />
<text x="43.40" y="96.60" font-size="7.4" text-anchor="middle" fill="#ffffff" dominant-baseline="central" >1 mm</text>
<text x="119.60" y="102.00" font-size="8.8" text-anchor="end" fill="#f0f0f0" dominant-baseline="central" >Merged</text>
<rect x="127.60" y="101.30" width="26.80" height="2.60" fill="#ffffff" stroke="none" stroke-width="0.6" />
<text x="141.00" y="96.60" font-size="7.4" text-anchor="middle" fill="#ffffff" dominant-baseline="central" >1 mm</text>
<text x="218.50" y="102.00" font-size="8.8" text-anchor="end" fill="#3d5cae" dominant-baseline="central" >Amylo-Glo</text>
<rect x="224.30" y="101.30" width="26.70" height="2.60" fill="#ffffff" stroke="none" stroke-width="0.6" />
<text x="237.60" y="96.60" font-size="7.4" text-anchor="middle" fill="#ffffff" dominant-baseline="central" >1mm</text>
<text x="311.40" y="102.00" font-size="8.8" text-anchor="end" fill="#3aa84a" dominant-baseline="central" textLength="16" lengthAdjust="spacingAndGlyphs" >IBA1</text>
<text x="406.50" y="102.00" font-size="8.8" text-anchor="end" fill="#d9772f" dominant-baseline="central" >GFAP</text>
<rect x="321.00" y="101.30" width="27.00" height="2.60" fill="#ffffff" stroke="none" stroke-width="0.6" />
<text x="349.00" y="102.80" font-size="7.4" text-anchor="start" fill="#ffffff" dominant-baseline="central" >1mm</text>
<rect x="30.00" y="200.90" width="29.60" height="2.60" fill="#ffffff" stroke="none" stroke-width="0.6" />
<text x="43.40" y="195.70" font-size="7.4" text-anchor="middle" fill="#ffffff" dominant-baseline="central" >1 mm</text>
<text x="119.60" y="201.00" font-size="8.8" text-anchor="end" fill="#f0f0f0" dominant-baseline="central" >Merged</text>
<rect x="128.00" y="200.90" width="28.40" height="2.60" fill="#ffffff" stroke="none" stroke-width="0.6" />
<text x="142.00" y="195.70" font-size="7.4" text-anchor="middle" fill="#ffffff" dominant-baseline="central" >1 mm</text>
<text x="219.40" y="201.00" font-size="8.8" text-anchor="end" fill="#3d5cae" dominant-baseline="central" >Amylo-Glo</text>
<rect x="224.40" y="200.90" width="29.20" height="2.60" fill="#ffffff" stroke="none" stroke-width="0.6" />
<text x="239.00" y="195.70" font-size="7.4" text-anchor="middle" fill="#ffffff" dominant-baseline="central" >1 mm</text>
<text x="314.00" y="201.00" font-size="8.8" text-anchor="end" fill="#3aa84a" dominant-baseline="central" textLength="16.5" lengthAdjust="spacingAndGlyphs" >IBA1</text>
<text x="406.50" y="201.00" font-size="8.8" text-anchor="end" fill="#d9772f" dominant-baseline="central" >GFAP</text>
<rect x="322.00" y="200.90" width="29.00" height="2.60" fill="#ffffff" stroke="none" stroke-width="0.6" />
<text x="336.00" y="195.70" font-size="7.4" text-anchor="middle" fill="#ffffff" dominant-baseline="central" >1mm</text>
<rect x="25.80" y="108.20" width="389.00" height="3.40" fill="#ffffff" stroke="none" stroke-width="0.6" />
<g clip-path="url(#cp9)">
<rect x="17.00" y="414.60" width="125.00" height="124.60" fill="#000000" stroke="none" stroke-width="0.6" />
<g filter="url(#bl05)"><path d="M74.4 486.9h0M105.8 512.2h0M131.0 512.1h0M46.0 538.1h0M100.2 536.5h0M79.9 513.1h0" stroke="#3a0808" stroke-width="1.80" stroke-opacity="0.5" stroke-linecap="round"/><path d="M57.0 458.3h0M54.2 467.5h0M27.6 518.4h0M21.3 437.7h0M101.0 520.2h0M17.3 515.4h0M87.5 523.7h0M78.4 453.2h0M81.9 533.9h0" stroke="#5a0c10" stroke-width="2.10" stroke-opacity="0.75" stroke-linecap="round"/><path d="M93.9 438.3h0M111.4 447.1h0M31.0 465.2h0M54.9 441.0h0M74.7 518.4h0M59.3 528.9h0M137.1 500.1h0M141.9 443.7h0" stroke="#3a0808" stroke-width="1.80" stroke-opacity="0.75" stroke-linecap="round"/><path d="M56.4 511.6h0M84.0 505.4h0M139.8 474.9h0M115.5 430.6h0M21.3 495.7h0M121.1 537.7h0M117.6 479.5h0M41.1 448.5h0" stroke="#4a0a0c" stroke-width="3.00" stroke-opacity="0.75" stroke-linecap="round"/><path d="M133.6 458.3h0M104.8 452.3h0M33.7 432.9h0M76.9 444.3h0M89.2 471.7h0M101.8 428.5h0M66.4 421.6h0M65.5 503.6h0M132.4 426.7h0M48.4 508.8h0" stroke="#3a0808" stroke-width="2.10" stroke-opacity="0.75" stroke-linecap="round"/><path d="M85.8 416.6h0M97.1 426.7h0" stroke="#5a0c10" stroke-width="1.80" stroke-opacity="1.0" stroke-linecap="round"/><path d="M99.5 515.3h0M90.2 470.0h0M113.2 492.6h0M36.9 477.2h0M76.5 416.9h0M137.3 418.7h0M102.6 473.5h0M23.0 478.4h0M94.3 525.7h0M36.5 528.1h0M50.6 519.5h0M105.5 498.4h0M39.7 425.4h0" stroke="#4a0a0c" stroke-width="2.40" stroke-opacity="0.75" stroke-linecap="round"/><path d="M96.6 468.3h0M24.6 515.8h0M111.2 445.9h0M83.8 430.6h0M74.7 468.6h0M43.3 504.8h0M43.9 476.3h0M123.4 481.3h0M64.1 520.7h0M97.7 493.2h0" stroke="#5a0c10" stroke-width="1.80" stroke-opacity="0.75" stroke-linecap="round"/><path d="M52.7 447.4h0M75.1 438.6h0M52.7 498.6h0" stroke="#4a0a0c" stroke-width="2.40" stroke-opacity="0.5" stroke-linecap="round"/><path d="M80.2 441.4h0M137.0 437.0h0M92.8 502.7h0M48.7 474.0h0M117.7 516.8h0M32.9 513.5h0M51.4 523.0h0M79.9 470.8h0M76.2 483.1h0M34.3 464.8h0M56.9 479.8h0M60.9 455.3h0M44.0 460.3h0M54.9 434.7h0" stroke="#4a0a0c" stroke-width="2.10" stroke-opacity="0.75" stroke-linecap="round"/><path d="M49.8 448.7h0M60.3 481.7h0M60.0 498.3h0M79.1 496.5h0M26.7 513.0h0M110.2 495.6h0M66.8 527.8h0M66.8 460.6h0" stroke="#5a0c10" stroke-width="3.00" stroke-opacity="0.75" stroke-linecap="round"/><path d="M94.9 420.5h0M113.3 527.5h0" stroke="#3a0808" stroke-width="2.10" stroke-opacity="1.0" stroke-linecap="round"/><path d="M68.2 457.7h0M30.8 450.9h0M73.9 486.9h0M40.1 437.3h0M31.7 448.7h0M109.9 471.9h0M121.3 470.0h0M111.0 441.6h0M52.6 495.9h0M110.9 512.5h0" stroke="#5a0c10" stroke-width="2.40" stroke-opacity="0.75" stroke-linecap="round"/><path d="M121.7 451.1h0M30.7 424.6h0" stroke="#4a0a0c" stroke-width="3.00" stroke-opacity="0.5" stroke-linecap="round"/><path d="M22.2 471.2h0M104.6 420.6h0M30.4 487.6h0M64.0 528.8h0M81.8 419.4h0M73.1 426.3h0M71.7 446.7h0M49.7 419.3h0M77.5 523.6h0M65.0 489.7h0M47.1 436.6h0M81.6 495.9h0M67.9 488.4h0M37.6 503.0h0" stroke="#3a0808" stroke-width="2.70" stroke-opacity="0.75" stroke-linecap="round"/><path d="M56.5 447.6h0M63.9 416.1h0M83.8 442.7h0" stroke="#3a0808" stroke-width="2.40" stroke-opacity="0.5" stroke-linecap="round"/><path d="M99.5 528.3h0M78.9 526.9h0M43.9 509.9h0M69.8 445.4h0M95.3 422.0h0M102.5 452.4h0M66.6 496.0h0" stroke="#4a0a0c" stroke-width="1.80" stroke-opacity="0.75" stroke-linecap="round"/><path d="M78.5 499.5h0M53.1 439.9h0M43.8 514.8h0M40.8 443.8h0" stroke="#3a0808" stroke-width="2.10" stroke-opacity="0.5" stroke-linecap="round"/><path d="M32.0 531.0h0M58.7 469.1h0M70.8 525.3h0M98.2 446.4h0M136.9 427.7h0M19.6 530.5h0M109.8 433.3h0M24.1 533.5h0M137.6 503.4h0M72.8 500.1h0" stroke="#4a0a0c" stroke-width="2.70" stroke-opacity="0.75" stroke-linecap="round"/><path d="M46.5 474.2h0M94.9 468.7h0M57.2 454.9h0M49.5 420.0h0M40.7 496.4h0M117.5 473.2h0M89.7 454.6h0M63.6 492.7h0M28.2 510.7h0M111.2 517.8h0M74.9 513.5h0" stroke="#3a0808" stroke-width="2.40" stroke-opacity="0.75" stroke-linecap="round"/><path d="M17.4 428.7h0M91.1 478.8h0M101.1 441.7h0" stroke="#4a0a0c" stroke-width="1.80" stroke-opacity="0.5" stroke-linecap="round"/><path d="M121.8 515.1h0M40.2 430.7h0M89.0 448.2h0M97.3 501.3h0" stroke="#3a0808" stroke-width="3.00" stroke-opacity="0.75" stroke-linecap="round"/><path d="M38.8 536.7h0M83.3 427.7h0M141.3 470.9h0M36.9 508.9h0M101.5 462.2h0M27.5 459.1h0" stroke="#3a0808" stroke-width="2.70" stroke-opacity="0.5" stroke-linecap="round"/><path d="M80.6 502.7h0M141.2 505.8h0M22.6 533.0h0M140.2 432.7h0M78.7 519.0h0M95.9 539.0h0M86.1 443.3h0" stroke="#3a0808" stroke-width="3.00" stroke-opacity="0.5" stroke-linecap="round"/><path d="M43.5 440.0h0M132.6 437.6h0M38.3 517.7h0M125.5 424.4h0M73.3 521.5h0" stroke="#5a0c10" stroke-width="1.80" stroke-opacity="0.5" stroke-linecap="round"/><path d="M36.7 416.0h0M23.1 521.7h0" stroke="#5a0c10" stroke-width="2.70" stroke-opacity="0.5" stroke-linecap="round"/><path d="M110.6 492.8h0M100.4 457.2h0M58.9 489.3h0M55.2 448.2h0M69.8 446.7h0" stroke="#5a0c10" stroke-width="2.40" stroke-opacity="0.5" stroke-linecap="round"/><path d="M136.6 459.6h0" stroke="#3a0808" stroke-width="1.50" stroke-opacity="0.5" stroke-linecap="round"/><path d="M137.8 457.6h0" stroke="#5a0c10" stroke-width="1.50" stroke-opacity="0.75" stroke-linecap="round"/><path d="M29.3 491.7h0M22.6 456.4h0M35.5 468.3h0M67.1 499.2h0M44.2 416.5h0M141.8 432.3h0" stroke="#5a0c10" stroke-width="2.70" stroke-opacity="0.75" stroke-linecap="round"/><path d="M63.1 525.0h0M51.1 462.1h0M95.4 440.6h0M77.3 534.3h0" stroke="#4a0a0c" stroke-width="2.10" stroke-opacity="0.5" stroke-linecap="round"/><path d="M111.9 431.1h0M132.9 457.0h0" stroke="#4a0a0c" stroke-width="2.70" stroke-opacity="0.5" stroke-linecap="round"/><path d="M39.5 494.0h0M119.0 500.0h0" stroke="#4a0a0c" stroke-width="2.70" stroke-opacity="1.0" stroke-linecap="round"/><path d="M30.7 484.8h0" stroke="#5a0c10" stroke-width="2.70" stroke-opacity="1.0" stroke-linecap="round"/><path d="M40.4 514.0h0" stroke="#4a0a0c" stroke-width="1.80" stroke-opacity="1.0" stroke-linecap="round"/><path d="M43.9 459.9h0M25.8 474.0h0M27.5 491.1h0M63.2 489.4h0" stroke="#5a0c10" stroke-width="2.10" stroke-opacity="0.5" stroke-linecap="round"/><path d="M127.4 487.8h0" stroke="#3a0808" stroke-width="2.40" stroke-opacity="1.0" stroke-linecap="round"/><path d="M120.7 452.8h0M89.4 477.1h0" stroke="#3a0808" stroke-width="2.70" stroke-opacity="1.0" stroke-linecap="round"/><path d="M96.6 422.4h0M129.8 522.4h0" stroke="#5a0c10" stroke-width="3.00" stroke-opacity="1.0" stroke-linecap="round"/><path d="M133.0 524.1h0" stroke="#5a0c10" stroke-width="2.40" stroke-opacity="1.0" stroke-linecap="round"/><path d="M68.3 446.9h0M108.2 438.3h0" stroke="#4a0a0c" stroke-width="2.40" stroke-opacity="1.0" stroke-linecap="round"/><path d="M136.9 487.8h0" stroke="#5a0c10" stroke-width="3.00" stroke-opacity="0.5" stroke-linecap="round"/><path d="M66.0 447.6h0" stroke="#4a0a0c" stroke-width="3.00" stroke-opacity="1.0" stroke-linecap="round"/><path d="M96.0 518.2h0" stroke="#4a0a0c" stroke-width="1.50" stroke-opacity="0.75" stroke-linecap="round"/><path d="M136.3 424.7h0" stroke="#3a0808" stroke-width="1.80" stroke-opacity="1.0" stroke-linecap="round"/></g>
<circle cx="104.0" cy="422.0" r="13.0" fill="#148a38" fill-opacity="0.45" filter="url(#bl4)"/>
<circle cx="110.0" cy="425.0" r="10.4" fill="#148a38" fill-opacity="0.45" filter="url(#bl4)"/>
<circle cx="63.6" cy="433.6" r="6.8" fill="#148a38" fill-opacity="0.45" filter="url(#bl4)"/>
<circle cx="63.0" cy="449.0" r="7.8" fill="#148a38" fill-opacity="0.45" filter="url(#bl4)"/>
<circle cx="80.0" cy="461.0" r="10.4" fill="#148a38" fill-opacity="0.45" filter="url(#bl4)"/>
<circle cx="101.0" cy="458.0" r="10.4" fill="#148a38" fill-opacity="0.45" filter="url(#bl4)"/>
<circle cx="120.0" cy="463.0" r="10.4" fill="#148a38" fill-opacity="0.45" filter="url(#bl4)"/>
<circle cx="129.6" cy="463.0" r="10.4" fill="#148a38" fill-opacity="0.45" filter="url(#bl4)"/>
<circle cx="47.0" cy="471.0" r="13.0" fill="#148a38" fill-opacity="0.45" filter="url(#bl4)"/>
<circle cx="87.0" cy="478.0" r="13.0" fill="#148a38" fill-opacity="0.45" filter="url(#bl4)"/>
<circle cx="69.0" cy="487.0" r="10.4" fill="#148a38" fill-opacity="0.45" filter="url(#bl4)"/>
<circle cx="130.0" cy="482.0" r="10.4" fill="#148a38" fill-opacity="0.45" filter="url(#bl4)"/>
<circle cx="136.0" cy="486.0" r="7.8" fill="#148a38" fill-opacity="0.45" filter="url(#bl4)"/>
<circle cx="51.0" cy="501.0" r="13.0" fill="#148a38" fill-opacity="0.45" filter="url(#bl4)"/>
<circle cx="78.0" cy="513.0" r="10.4" fill="#148a38" fill-opacity="0.45" filter="url(#bl4)"/>
<circle cx="140.0" cy="502.0" r="7.8" fill="#148a38" fill-opacity="0.45" filter="url(#bl4)"/>
<circle cx="104.0" cy="527.0" r="10.4" fill="#148a38" fill-opacity="0.45" filter="url(#bl4)"/>
<circle cx="110.0" cy="524.0" r="7.8" fill="#148a38" fill-opacity="0.45" filter="url(#bl4)"/>
<circle cx="50.0" cy="537.0" r="6.2" fill="#148a38" fill-opacity="0.45" filter="url(#bl4)"/>
<circle cx="22.0" cy="418.0" r="6.2" fill="#148a38" fill-opacity="0.45" filter="url(#bl4)"/>
<circle cx="108.5" cy="423.3" r="5.7" fill="#1c9a40" fill-opacity="0.5835846969495517" filter="url(#bl1)"/>
<circle cx="105.3" cy="423.0" r="4.5" fill="#1c9a40" fill-opacity="0.6569516001719419" filter="url(#bl1)"/>
<circle cx="104.1" cy="425.9" r="5.1" fill="#1c9a40" fill-opacity="0.7163182992701884" filter="url(#bl1)"/>
<circle cx="103.9" cy="424.7" r="5.9" fill="#1c9a40" fill-opacity="0.7060153254499264" filter="url(#bl1)"/>
<g><path d="M104.0,422.0 Q107.0,424.0 111.0,424.1" stroke="#20a040" stroke-width="0.8" stroke-opacity="0.8" fill="none"/><path d="M104.0,422.0 Q100.1,425.3 98.6,430.6" stroke="#20a040" stroke-width="0.8" stroke-opacity="0.8" fill="none"/><path d="M104.0,422.0 Q99.4,418.9 93.3,418.8" stroke="#20a040" stroke-width="0.8" stroke-opacity="0.8" fill="none"/><path d="M104.0,422.0 Q103.6,417.3 100.5,413.3" stroke="#20a040" stroke-width="0.8" stroke-opacity="0.8" fill="none"/><path d="M104.0,422.0 Q99.2,419.3 93.3,419.7" stroke="#20a040" stroke-width="0.8" stroke-opacity="0.8" fill="none"/></g>
<circle cx="109.9" cy="423.0" r="3.8" fill="#1c9a40" fill-opacity="0.7066229738605181" filter="url(#bl1)"/>
<circle cx="110.2" cy="423.3" r="4.0" fill="#1c9a40" fill-opacity="0.7464862570749526" filter="url(#bl1)"/>
<circle cx="107.9" cy="427.8" r="3.6" fill="#1c9a40" fill-opacity="0.6370383268922244" filter="url(#bl1)"/>
<circle cx="108.7" cy="421.8" r="4.1" fill="#1c9a40" fill-opacity="0.7154356941900846" filter="url(#bl1)"/>
<g><path d="M110.0,425.0 Q112.6,427.3 116.3,427.8" stroke="#20a040" stroke-width="0.8" stroke-opacity="0.8" fill="none"/><path d="M110.0,425.0 Q108.4,428.9 109.3,433.4" stroke="#20a040" stroke-width="0.8" stroke-opacity="0.8" fill="none"/><path d="M110.0,425.0 Q108.6,428.0 109.1,431.6" stroke="#20a040" stroke-width="0.8" stroke-opacity="0.8" fill="none"/><path d="M110.0,425.0 Q111.2,427.5 113.8,429.0" stroke="#20a040" stroke-width="0.8" stroke-opacity="0.8" fill="none"/><path d="M110.0,425.0 Q105.5,425.2 101.6,428.1" stroke="#20a040" stroke-width="0.8" stroke-opacity="0.8" fill="none"/></g>
<circle cx="64.2" cy="434.2" r="3.2" fill="#1c9a40" fill-opacity="0.6576595549600384" filter="url(#bl1)"/>
<circle cx="63.4" cy="434.7" r="2.7" fill="#1c9a40" fill-opacity="0.7339925807944059" filter="url(#bl1)"/>
<circle cx="66.4" cy="434.4" r="3.3" fill="#1c9a40" fill-opacity="0.5713701502574071" filter="url(#bl1)"/>
<circle cx="65.4" cy="431.5" r="3.3" fill="#1c9a40" fill-opacity="0.6857862322553157" filter="url(#bl1)"/>
<g><path d="M63.6,433.6 Q63.0,431.9 61.4,430.8" stroke="#20a040" stroke-width="0.8" stroke-opacity="0.8" fill="none"/><path d="M63.6,433.6 Q63.8,435.4 65.1,436.8" stroke="#20a040" stroke-width="0.8" stroke-opacity="0.8" fill="none"/><path d="M63.6,433.6 Q60.7,434.1 58.3,436.3" stroke="#20a040" stroke-width="0.8" stroke-opacity="0.8" fill="none"/><path d="M63.6,433.6 Q62.5,434.7 62.1,436.4" stroke="#20a040" stroke-width="0.8" stroke-opacity="0.8" fill="none"/><path d="M63.6,433.6 Q64.7,434.9 66.4,435.5" stroke="#20a040" stroke-width="0.8" stroke-opacity="0.8" fill="none"/></g>
<circle cx="63.8" cy="451.0" r="3.1" fill="#1c9a40" fill-opacity="0.7317099044977715" filter="url(#bl1)"/>
<circle cx="63.9" cy="449.5" r="3.1" fill="#1c9a40" fill-opacity="0.7319815254339174" filter="url(#bl1)"/>
<circle cx="62.0" cy="448.4" r="3.1" fill="#1c9a40" fill-opacity="0.5550864539824967" filter="url(#bl1)"/>
<circle cx="62.2" cy="450.9" r="3.7" fill="#1c9a40" fill-opacity="0.5971258200229141" filter="url(#bl1)"/>
<g><path d="M63.0,449.0 Q60.3,449.2 57.9,450.9" stroke="#20a040" stroke-width="0.8" stroke-opacity="0.8" fill="none"/><path d="M63.0,449.0 Q64.7,446.1 64.5,442.5" stroke="#20a040" stroke-width="0.8" stroke-opacity="0.8" fill="none"/><path d="M63.0,449.0 Q64.6,451.3 67.5,452.5" stroke="#20a040" stroke-width="0.8" stroke-opacity="0.8" fill="none"/><path d="M63.0,449.0 Q60.9,451.3 60.3,454.6" stroke="#20a040" stroke-width="0.8" stroke-opacity="0.8" fill="none"/><path d="M63.0,449.0 Q63.6,452.1 66.0,454.6" stroke="#20a040" stroke-width="0.8" stroke-opacity="0.8" fill="none"/></g>
<circle cx="76.9" cy="459.4" r="3.5" fill="#1c9a40" fill-opacity="0.5482609887590204" filter="url(#bl1)"/>
<circle cx="78.8" cy="463.9" r="4.8" fill="#1c9a40" fill-opacity="0.6112636190793774" filter="url(#bl1)"/>
<circle cx="83.1" cy="463.3" r="3.9" fill="#1c9a40" fill-opacity="0.5280846760939512" filter="url(#bl1)"/>
<circle cx="81.1" cy="462.2" r="4.7" fill="#1c9a40" fill-opacity="0.6538251636831716" filter="url(#bl1)"/>
<g><path d="M80.0,461.0 Q78.2,464.3 78.5,468.4" stroke="#20a040" stroke-width="0.8" stroke-opacity="0.8" fill="none"/><path d="M80.0,461.0 Q81.6,458.4 81.5,455.2" stroke="#20a040" stroke-width="0.8" stroke-opacity="0.8" fill="none"/><path d="M80.0,461.0 Q81.7,462.9 84.4,463.5" stroke="#20a040" stroke-width="0.8" stroke-opacity="0.8" fill="none"/><path d="M80.0,461.0 Q76.5,462.0 73.9,465.0" stroke="#20a040" stroke-width="0.8" stroke-opacity="0.8" fill="none"/><path d="M80.0,461.0 Q79.1,465.5 80.8,470.1" stroke="#20a040" stroke-width="0.8" stroke-opacity="0.8" fill="none"/></g>
<circle cx="102.3" cy="459.5" r="3.7" fill="#1c9a40" fill-opacity="0.6766796397306404" filter="url(#bl1)"/>
<circle cx="103.6" cy="455.2" r="4.8" fill="#1c9a40" fill-opacity="0.5549225737833123" filter="url(#bl1)"/>
<circle cx="99.5" cy="456.3" r="4.3" fill="#1c9a40" fill-opacity="0.732893762602814" filter="url(#bl1)"/>
<circle cx="98.2" cy="455.8" r="3.8" fill="#1c9a40" fill-opacity="0.6827413244201677" filter="url(#bl1)"/>
<g><path d="M101.0,458.0 Q99.4,454.3 95.8,451.8" stroke="#20a040" stroke-width="0.8" stroke-opacity="0.8" fill="none"/><path d="M101.0,458.0 Q101.7,461.1 104.1,463.4" stroke="#20a040" stroke-width="0.8" stroke-opacity="0.8" fill="none"/><path d="M101.0,458.0 Q100.2,455.4 98.0,453.5" stroke="#20a040" stroke-width="0.8" stroke-opacity="0.8" fill="none"/><path d="M101.0,458.0 Q98.4,460.6 97.6,464.6" stroke="#20a040" stroke-width="0.8" stroke-opacity="0.8" fill="none"/><path d="M101.0,458.0 Q101.4,455.2 100.1,452.5" stroke="#20a040" stroke-width="0.8" stroke-opacity="0.8" fill="none"/></g>
<circle cx="119.2" cy="460.7" r="4.2" fill="#1c9a40" fill-opacity="0.5263706173837295" filter="url(#bl1)"/>
<circle cx="119.6" cy="464.6" r="3.8" fill="#1c9a40" fill-opacity="0.6027907094469611" filter="url(#bl1)"/>
<circle cx="123.3" cy="465.0" r="5.0" fill="#1c9a40" fill-opacity="0.6775172640690276" filter="url(#bl1)"/>
<circle cx="123.9" cy="462.3" r="4.2" fill="#1c9a40" fill-opacity="0.7277588615154169" filter="url(#bl1)"/>
<g><path d="M120.0,463.0 Q118.7,465.4 118.9,468.5" stroke="#20a040" stroke-width="0.8" stroke-opacity="0.8" fill="none"/><path d="M120.0,463.0 Q117.0,465.8 115.8,470.1" stroke="#20a040" stroke-width="0.8" stroke-opacity="0.8" fill="none"/><path d="M120.0,463.0 Q116.3,461.9 112.4,463.1" stroke="#20a040" stroke-width="0.8" stroke-opacity="0.8" fill="none"/><path d="M120.0,463.0 Q117.1,466.6 116.6,471.5" stroke="#20a040" stroke-width="0.8" stroke-opacity="0.8" fill="none"/><path d="M120.0,463.0 Q119.4,459.5 116.7,456.6" stroke="#20a040" stroke-width="0.8" stroke-opacity="0.8" fill="none"/></g>
<circle cx="126.5" cy="464.6" r="4.8" fill="#1c9a40" fill-opacity="0.6078710665440119" filter="url(#bl1)"/>
<circle cx="131.9" cy="461.8" r="5.3" fill="#1c9a40" fill-opacity="0.582511648529043" filter="url(#bl1)"/>
<circle cx="127.3" cy="460.8" r="4.6" fill="#1c9a40" fill-opacity="0.5459160698732648" filter="url(#bl1)"/>
<circle cx="129.7" cy="461.3" r="4.3" fill="#1c9a40" fill-opacity="0.6389779442648789" filter="url(#bl1)"/>
<g><path d="M129.6,463.0 Q127.6,465.8 127.4,469.5" stroke="#20a040" stroke-width="0.8" stroke-opacity="0.8" fill="none"/><path d="M129.6,463.0 Q132.2,462.6 134.3,460.6" stroke="#20a040" stroke-width="0.8" stroke-opacity="0.8" fill="none"/><path d="M129.6,463.0 Q126.0,464.7 123.7,468.3" stroke="#20a040" stroke-width="0.8" stroke-opacity="0.8" fill="none"/><path d="M129.6,463.0 Q125.7,462.6 122.0,464.6" stroke="#20a040" stroke-width="0.8" stroke-opacity="0.8" fill="none"/><path d="M129.6,463.0 Q126.0,465.5 124.3,469.9" stroke="#20a040" stroke-width="0.8" stroke-opacity="0.8" fill="none"/></g>
<circle cx="49.3" cy="473.0" r="6.2" fill="#1c9a40" fill-opacity="0.7409203676237776" filter="url(#bl1)"/>
<circle cx="43.1" cy="467.7" r="4.8" fill="#1c9a40" fill-opacity="0.53402439202397" filter="url(#bl1)"/>
<circle cx="47.9" cy="467.4" r="4.7" fill="#1c9a40" fill-opacity="0.6103098272806743" filter="url(#bl1)"/>
<circle cx="47.9" cy="469.6" r="5.7" fill="#1c9a40" fill-opacity="0.5962652586890429" filter="url(#bl1)"/>
<g><path d="M47.0,471.0 Q43.8,475.4 43.4,481.3" stroke="#20a040" stroke-width="0.8" stroke-opacity="0.8" fill="none"/><path d="M47.0,471.0 Q44.9,474.7 45.1,479.3" stroke="#20a040" stroke-width="0.8" stroke-opacity="0.8" fill="none"/><path d="M47.0,471.0 Q46.6,465.2 42.7,460.3" stroke="#20a040" stroke-width="0.8" stroke-opacity="0.8" fill="none"/><path d="M47.0,471.0 Q43.3,467.0 37.6,465.6" stroke="#20a040" stroke-width="0.8" stroke-opacity="0.8" fill="none"/><path d="M47.0,471.0 Q52.4,469.8 56.5,465.6" stroke="#20a040" stroke-width="0.8" stroke-opacity="0.8" fill="none"/></g>
<circle cx="85.8" cy="481.3" r="5.8" fill="#1c9a40" fill-opacity="0.6875035700488494" filter="url(#bl1)"/>
<circle cx="85.0" cy="479.7" r="4.5" fill="#1c9a40" fill-opacity="0.6817864005902317" filter="url(#bl1)"/>
<circle cx="84.9" cy="481.0" r="5.7" fill="#1c9a40" fill-opacity="0.5665946215939153" filter="url(#bl1)"/>
<circle cx="84.5" cy="473.9" r="4.5" fill="#1c9a40" fill-opacity="0.5592151893826303" filter="url(#bl1)"/>
<g><path d="M87.0,478.0 Q89.7,475.6 90.7,471.9" stroke="#20a040" stroke-width="0.8" stroke-opacity="0.8" fill="none"/><path d="M87.0,478.0 Q89.0,475.7 89.5,472.4" stroke="#20a040" stroke-width="0.8" stroke-opacity="0.8" fill="none"/><path d="M87.0,478.0 Q89.8,481.8 94.7,483.7" stroke="#20a040" stroke-width="0.8" stroke-opacity="0.8" fill="none"/><path d="M87.0,478.0 Q82.9,474.9 77.3,474.6" stroke="#20a040" stroke-width="0.8" stroke-opacity="0.8" fill="none"/><path d="M87.0,478.0 Q89.4,475.3 89.9,471.4" stroke="#20a040" stroke-width="0.8" stroke-opacity="0.8" fill="none"/></g>
<circle cx="70.9" cy="485.0" r="3.8" fill="#1c9a40" fill-opacity="0.5482988528010874" filter="url(#bl1)"/>
<circle cx="71.6" cy="489.3" r="3.8" fill="#1c9a40" fill-opacity="0.571261721943805" filter="url(#bl1)"/>
<circle cx="64.8" cy="486.4" r="4.6" fill="#1c9a40" fill-opacity="0.5908155228348945" filter="url(#bl1)"/>
<circle cx="67.5" cy="487.6" r="4.8" fill="#1c9a40" fill-opacity="0.5973885692315959" filter="url(#bl1)"/>
<g><path d="M69.0,487.0 Q67.9,489.6 68.4,492.6" stroke="#20a040" stroke-width="0.8" stroke-opacity="0.8" fill="none"/><path d="M69.0,487.0 Q67.7,483.6 64.4,481.3" stroke="#20a040" stroke-width="0.8" stroke-opacity="0.8" fill="none"/><path d="M69.0,487.0 Q72.0,488.0 75.3,487.1" stroke="#20a040" stroke-width="0.8" stroke-opacity="0.8" fill="none"/><path d="M69.0,487.0 Q73.2,484.9 75.8,480.6" stroke="#20a040" stroke-width="0.8" stroke-opacity="0.8" fill="none"/><path d="M69.0,487.0 Q69.9,489.6 72.2,491.6" stroke="#20a040" stroke-width="0.8" stroke-opacity="0.8" fill="none"/></g>
<circle cx="131.4" cy="483.6" r="4.3" fill="#1c9a40" fill-opacity="0.5863669411706484" filter="url(#bl1)"/>
<circle cx="127.1" cy="480.6" r="4.6" fill="#1c9a40" fill-opacity="0.6439778544222783" filter="url(#bl1)"/>
<circle cx="132.6" cy="483.3" r="5.3" fill="#1c9a40" fill-opacity="0.5476790757496848" filter="url(#bl1)"/>
<circle cx="128.2" cy="483.9" r="4.3" fill="#1c9a40" fill-opacity="0.5575801262738442" filter="url(#bl1)"/>
<g><path d="M130.0,482.0 Q130.2,486.2 132.9,489.8" stroke="#20a040" stroke-width="0.8" stroke-opacity="0.8" fill="none"/><path d="M130.0,482.0 Q132.7,484.1 136.5,484.4" stroke="#20a040" stroke-width="0.8" stroke-opacity="0.8" fill="none"/><path d="M130.0,482.0 Q128.2,480.2 125.5,479.7" stroke="#20a040" stroke-width="0.8" stroke-opacity="0.8" fill="none"/><path d="M130.0,482.0 Q130.5,478.9 129.1,475.8" stroke="#20a040" stroke-width="0.8" stroke-opacity="0.8" fill="none"/><path d="M130.0,482.0 Q132.1,478.9 132.2,474.7" stroke="#20a040" stroke-width="0.8" stroke-opacity="0.8" fill="none"/></g>
<circle cx="133.4" cy="487.6" r="3.7" fill="#1c9a40" fill-opacity="0.7056027605044924" filter="url(#bl1)"/>
<circle cx="134.6" cy="487.3" r="3.6" fill="#1c9a40" fill-opacity="0.7450601622614543" filter="url(#bl1)"/>
<circle cx="134.8" cy="487.1" r="3.8" fill="#1c9a40" fill-opacity="0.6439524004501399" filter="url(#bl1)"/>
<circle cx="134.2" cy="483.3" r="3.5" fill="#1c9a40" fill-opacity="0.5897044326455525" filter="url(#bl1)"/>
<g><path d="M136.0,486.0 Q137.7,489.2 141.1,491.0" stroke="#20a040" stroke-width="0.8" stroke-opacity="0.8" fill="none"/><path d="M136.0,486.0 Q135.3,488.9 136.3,491.9" stroke="#20a040" stroke-width="0.8" stroke-opacity="0.8" fill="none"/><path d="M136.0,486.0 Q138.4,486.8 141.1,486.1" stroke="#20a040" stroke-width="0.8" stroke-opacity="0.8" fill="none"/><path d="M136.0,486.0 Q136.4,488.7 138.3,490.9" stroke="#20a040" stroke-width="0.8" stroke-opacity="0.8" fill="none"/><path d="M136.0,486.0 Q134.0,485.7 131.9,486.6" stroke="#20a040" stroke-width="0.8" stroke-opacity="0.8" fill="none"/></g>
<circle cx="53.6" cy="501.2" r="6.4" fill="#1c9a40" fill-opacity="0.613916595033347" filter="url(#bl1)"/>
<circle cx="51.2" cy="504.7" r="4.5" fill="#1c9a40" fill-opacity="0.5467956606369857" filter="url(#bl1)"/>
<circle cx="52.1" cy="503.8" r="5.6" fill="#1c9a40" fill-opacity="0.748235015801465" filter="url(#bl1)"/>
<circle cx="49.1" cy="504.0" r="5.2" fill="#1c9a40" fill-opacity="0.6628723627842528" filter="url(#bl1)"/>
<g><path d="M51.0,501.0 Q48.1,502.8 46.5,506.1" stroke="#20a040" stroke-width="0.8" stroke-opacity="0.8" fill="none"/><path d="M51.0,501.0 Q54.0,503.4 58.3,503.9" stroke="#20a040" stroke-width="0.8" stroke-opacity="0.8" fill="none"/><path d="M51.0,501.0 Q55.2,503.3 60.4,503.0" stroke="#20a040" stroke-width="0.8" stroke-opacity="0.8" fill="none"/><path d="M51.0,501.0 Q46.3,497.4 39.9,496.9" stroke="#20a040" stroke-width="0.8" stroke-opacity="0.8" fill="none"/><path d="M51.0,501.0 Q49.2,504.6 49.6,509.1" stroke="#20a040" stroke-width="0.8" stroke-opacity="0.8" fill="none"/></g>
<circle cx="80.5" cy="512.6" r="3.9" fill="#1c9a40" fill-opacity="0.7351220173382966" filter="url(#bl1)"/>
<circle cx="76.8" cy="513.7" r="4.0" fill="#1c9a40" fill-opacity="0.6134825662391332" filter="url(#bl1)"/>
<circle cx="80.1" cy="514.3" r="3.7" fill="#1c9a40" fill-opacity="0.5619809650926456" filter="url(#bl1)"/>
<circle cx="77.1" cy="510.9" r="4.0" fill="#1c9a40" fill-opacity="0.5465625309779434" filter="url(#bl1)"/>
<g><path d="M78.0,513.0 Q76.6,511.0 74.2,509.9" stroke="#20a040" stroke-width="0.8" stroke-opacity="0.8" fill="none"/><path d="M78.0,513.0 Q75.5,509.2 71.0,507.2" stroke="#20a040" stroke-width="0.8" stroke-opacity="0.8" fill="none"/><path d="M78.0,513.0 Q82.0,510.7 84.2,506.2" stroke="#20a040" stroke-width="0.8" stroke-opacity="0.8" fill="none"/><path d="M78.0,513.0 Q79.7,517.0 83.6,519.7" stroke="#20a040" stroke-width="0.8" stroke-opacity="0.8" fill="none"/><path d="M78.0,513.0 Q73.6,514.5 70.5,518.4" stroke="#20a040" stroke-width="0.8" stroke-opacity="0.8" fill="none"/></g>
<circle cx="139.1" cy="500.0" r="3.2" fill="#1c9a40" fill-opacity="0.6156754351190648" filter="url(#bl1)"/>
<circle cx="140.6" cy="500.7" r="2.8" fill="#1c9a40" fill-opacity="0.6693041734962686" filter="url(#bl1)"/>
<circle cx="138.8" cy="500.3" r="3.5" fill="#1c9a40" fill-opacity="0.6946377345409527" filter="url(#bl1)"/>
<circle cx="138.3" cy="502.3" r="3.5" fill="#1c9a40" fill-opacity="0.6784901236770201" filter="url(#bl1)"/>
<g><path d="M140.0,502.0 Q139.7,499.7 138.0,497.8" stroke="#20a040" stroke-width="0.8" stroke-opacity="0.8" fill="none"/><path d="M140.0,502.0 Q137.9,499.2 134.4,498.0" stroke="#20a040" stroke-width="0.8" stroke-opacity="0.8" fill="none"/><path d="M140.0,502.0 Q142.6,500.6 144.1,497.8" stroke="#20a040" stroke-width="0.8" stroke-opacity="0.8" fill="none"/><path d="M140.0,502.0 Q140.3,505.3 142.4,508.1" stroke="#20a040" stroke-width="0.8" stroke-opacity="0.8" fill="none"/><path d="M140.0,502.0 Q143.0,503.0 146.3,502.2" stroke="#20a040" stroke-width="0.8" stroke-opacity="0.8" fill="none"/></g>
<circle cx="106.4" cy="530.2" r="5.3" fill="#1c9a40" fill-opacity="0.5778631453305392" filter="url(#bl1)"/>
<circle cx="101.9" cy="525.4" r="5.2" fill="#1c9a40" fill-opacity="0.5881960642558071" filter="url(#bl1)"/>
<circle cx="102.7" cy="527.2" r="4.5" fill="#1c9a40" fill-opacity="0.5259243011854412" filter="url(#bl1)"/>
<circle cx="103.5" cy="525.2" r="4.3" fill="#1c9a40" fill-opacity="0.5466921065986758" filter="url(#bl1)"/>
<g><path d="M104.0,527.0 Q103.0,523.4 99.9,520.7" stroke="#20a040" stroke-width="0.8" stroke-opacity="0.8" fill="none"/><path d="M104.0,527.0 Q100.5,527.5 97.6,529.9" stroke="#20a040" stroke-width="0.8" stroke-opacity="0.8" fill="none"/><path d="M104.0,527.0 Q105.8,524.7 106.2,521.6" stroke="#20a040" stroke-width="0.8" stroke-opacity="0.8" fill="none"/><path d="M104.0,527.0 Q107.7,528.5 112.0,527.7" stroke="#20a040" stroke-width="0.8" stroke-opacity="0.8" fill="none"/><path d="M104.0,527.0 Q104.8,529.5 106.9,531.3" stroke="#20a040" stroke-width="0.8" stroke-opacity="0.8" fill="none"/></g>
<circle cx="109.6" cy="525.3" r="2.6" fill="#1c9a40" fill-opacity="0.5370466438787292" filter="url(#bl1)"/>
<circle cx="109.5" cy="525.1" r="3.7" fill="#1c9a40" fill-opacity="0.7398237996251366" filter="url(#bl1)"/>
<circle cx="110.7" cy="526.7" r="3.0" fill="#1c9a40" fill-opacity="0.6836262884964218" filter="url(#bl1)"/>
<circle cx="110.3" cy="520.7" r="3.6" fill="#1c9a40" fill-opacity="0.6997314561284789" filter="url(#bl1)"/>
<g><path d="M110.0,524.0 Q107.5,525.4 106.0,528.2" stroke="#20a040" stroke-width="0.8" stroke-opacity="0.8" fill="none"/><path d="M110.0,524.0 Q108.2,524.8 107.1,526.6" stroke="#20a040" stroke-width="0.8" stroke-opacity="0.8" fill="none"/><path d="M110.0,524.0 Q111.8,523.3 113.1,521.5" stroke="#20a040" stroke-width="0.8" stroke-opacity="0.8" fill="none"/><path d="M110.0,524.0 Q108.0,522.3 105.2,521.9" stroke="#20a040" stroke-width="0.8" stroke-opacity="0.8" fill="none"/><path d="M110.0,524.0 Q112.6,523.6 114.7,521.8" stroke="#20a040" stroke-width="0.8" stroke-opacity="0.8" fill="none"/></g>
<circle cx="48.7" cy="539.0" r="2.9" fill="#1c9a40" fill-opacity="0.5847181667298466" filter="url(#bl1)"/>
<circle cx="52.7" cy="536.6" r="2.7" fill="#1c9a40" fill-opacity="0.6098098161815612" filter="url(#bl1)"/>
<circle cx="51.5" cy="538.8" r="2.5" fill="#1c9a40" fill-opacity="0.6407805311745531" filter="url(#bl1)"/>
<circle cx="52.0" cy="537.2" r="2.6" fill="#1c9a40" fill-opacity="0.6560586177216585" filter="url(#bl1)"/>
<g><path d="M50.0,537.0 Q51.6,537.7 53.4,537.4" stroke="#20a040" stroke-width="0.8" stroke-opacity="0.8" fill="none"/><path d="M50.0,537.0 Q47.7,537.5 45.8,539.3" stroke="#20a040" stroke-width="0.8" stroke-opacity="0.8" fill="none"/><path d="M50.0,537.0 Q51.7,537.9 53.8,537.6" stroke="#20a040" stroke-width="0.8" stroke-opacity="0.8" fill="none"/><path d="M50.0,537.0 Q52.2,535.7 53.3,533.2" stroke="#20a040" stroke-width="0.8" stroke-opacity="0.8" fill="none"/><path d="M50.0,537.0 Q51.9,537.5 53.8,536.9" stroke="#20a040" stroke-width="0.8" stroke-opacity="0.8" fill="none"/></g>
<circle cx="21.8" cy="416.9" r="2.3" fill="#1c9a40" fill-opacity="0.7110181577921666" filter="url(#bl1)"/>
<circle cx="24.1" cy="419.5" r="2.3" fill="#1c9a40" fill-opacity="0.6697331413902552" filter="url(#bl1)"/>
<circle cx="22.7" cy="417.7" r="2.4" fill="#1c9a40" fill-opacity="0.6601155730023186" filter="url(#bl1)"/>
<circle cx="23.1" cy="418.6" r="3.1" fill="#1c9a40" fill-opacity="0.6626041014296404" filter="url(#bl1)"/>
<g><path d="M22.0,418.0 Q20.0,418.1 18.3,419.3" stroke="#20a040" stroke-width="0.8" stroke-opacity="0.8" fill="none"/><path d="M22.0,418.0 Q22.5,416.6 22.2,414.9" stroke="#20a040" stroke-width="0.8" stroke-opacity="0.8" fill="none"/><path d="M22.0,418.0 Q20.0,417.0 17.6,417.2" stroke="#20a040" stroke-width="0.8" stroke-opacity="0.8" fill="none"/><path d="M22.0,418.0 Q19.2,417.8 16.5,419.3" stroke="#20a040" stroke-width="0.8" stroke-opacity="0.8" fill="none"/><path d="M22.0,418.0 Q23.3,420.1 25.7,421.2" stroke="#20a040" stroke-width="0.8" stroke-opacity="0.8" fill="none"/></g>
<circle cx="120.5" cy="422.4" r="4.3" fill="#1c9a40" fill-opacity="0.5027971283044247" filter="url(#bl1)"/>
<circle cx="117.6" cy="423.5" r="4.3" fill="#1c9a40" fill-opacity="0.4227341813130324" filter="url(#bl1)"/>
<circle cx="120.2" cy="417.9" r="3.3" fill="#1c9a40" fill-opacity="0.45137199022715285" filter="url(#bl1)"/>
<circle cx="120.3" cy="418.8" r="3.2" fill="#1c9a40" fill-opacity="0.5931676526406204" filter="url(#bl1)"/>
<g><path d="M118.0,420.0 Q120.6,422.7 124.5,423.7" stroke="#20a040" stroke-width="0.8" stroke-opacity="0.8" fill="none"/><path d="M118.0,420.0 Q119.0,416.9 118.0,413.4" stroke="#20a040" stroke-width="0.8" stroke-opacity="0.8" fill="none"/><path d="M118.0,420.0 Q116.6,422.1 116.5,424.8" stroke="#20a040" stroke-width="0.8" stroke-opacity="0.8" fill="none"/><path d="M118.0,420.0 Q115.9,421.5 114.9,424.0" stroke="#20a040" stroke-width="0.8" stroke-opacity="0.8" fill="none"/><path d="M118.0,420.0 Q118.8,416.5 117.5,412.8" stroke="#20a040" stroke-width="0.8" stroke-opacity="0.8" fill="none"/></g>
<circle cx="23.4" cy="447.1" r="2.4" fill="#1c9a40" fill-opacity="0.5430409670796046" filter="url(#bl1)"/>
<circle cx="22.7" cy="447.7" r="2.7" fill="#1c9a40" fill-opacity="0.48700330764354843" filter="url(#bl1)"/>
<circle cx="23.3" cy="444.7" r="2.2" fill="#1c9a40" fill-opacity="0.5968201765807218" filter="url(#bl1)"/>
<circle cx="23.6" cy="444.7" r="2.2" fill="#1c9a40" fill-opacity="0.5714864096291047" filter="url(#bl1)"/>
<g><path d="M22.0,446.0 Q20.6,447.3 20.2,449.3" stroke="#20a040" stroke-width="0.8" stroke-opacity="0.8" fill="none"/><path d="M22.0,446.0 Q20.5,447.4 19.9,449.7" stroke="#20a040" stroke-width="0.8" stroke-opacity="0.8" fill="none"/><path d="M22.0,446.0 Q20.7,446.1 19.6,446.9" stroke="#20a040" stroke-width="0.8" stroke-opacity="0.8" fill="none"/><path d="M22.0,446.0 Q20.9,445.3 19.6,445.4" stroke="#20a040" stroke-width="0.8" stroke-opacity="0.8" fill="none"/><path d="M22.0,446.0 Q23.1,444.9 23.4,443.2" stroke="#20a040" stroke-width="0.8" stroke-opacity="0.8" fill="none"/></g>
<circle cx="18.3" cy="477.5" r="2.5" fill="#1c9a40" fill-opacity="0.47938168548698656" filter="url(#bl1)"/>
<circle cx="17.9" cy="479.1" r="2.2" fill="#1c9a40" fill-opacity="0.43159760376305706" filter="url(#bl1)"/>
<circle cx="20.4" cy="480.6" r="2.1" fill="#1c9a40" fill-opacity="0.5969930865113037" filter="url(#bl1)"/>
<circle cx="18.7" cy="479.3" r="2.2" fill="#1c9a40" fill-opacity="0.4636001932028141" filter="url(#bl1)"/>
<g><path d="M20.0,478.0 Q21.7,476.8 22.5,474.7" stroke="#20a040" stroke-width="0.8" stroke-opacity="0.8" fill="none"/><path d="M20.0,478.0 Q22.5,478.9 25.2,478.4" stroke="#20a040" stroke-width="0.8" stroke-opacity="0.8" fill="none"/><path d="M20.0,478.0 Q19.9,480.8 21.5,483.5" stroke="#20a040" stroke-width="0.8" stroke-opacity="0.8" fill="none"/><path d="M20.0,478.0 Q21.5,477.3 22.5,475.7" stroke="#20a040" stroke-width="0.8" stroke-opacity="0.8" fill="none"/><path d="M20.0,478.0 Q22.2,478.7 24.7,478.0" stroke="#20a040" stroke-width="0.8" stroke-opacity="0.8" fill="none"/></g>
<circle cx="18.9" cy="509.3" r="2.3" fill="#1c9a40" fill-opacity="0.5612471949773005" filter="url(#bl1)"/>
<circle cx="19.8" cy="509.8" r="2.1" fill="#1c9a40" fill-opacity="0.56200538339193" filter="url(#bl1)"/>
<circle cx="19.5" cy="509.0" r="2.4" fill="#1c9a40" fill-opacity="0.5222717901511351" filter="url(#bl1)"/>
<circle cx="18.8" cy="511.2" r="2.4" fill="#1c9a40" fill-opacity="0.4952391854086388" filter="url(#bl1)"/>
<g><path d="M19.0,510.0 Q19.8,512.1 21.9,513.6" stroke="#20a040" stroke-width="0.8" stroke-opacity="0.8" fill="none"/><path d="M19.0,510.0 Q18.1,511.1 18.0,512.7" stroke="#20a040" stroke-width="0.8" stroke-opacity="0.8" fill="none"/><path d="M19.0,510.0 Q21.3,510.3 23.5,509.2" stroke="#20a040" stroke-width="0.8" stroke-opacity="0.8" fill="none"/><path d="M19.0,510.0 Q20.1,508.9 20.4,507.2" stroke="#20a040" stroke-width="0.8" stroke-opacity="0.8" fill="none"/><path d="M19.0,510.0 Q17.2,509.7 15.4,510.4" stroke="#20a040" stroke-width="0.8" stroke-opacity="0.8" fill="none"/></g>
<circle cx="51.1" cy="434.1" r="2.5" fill="#1c9a40" fill-opacity="0.5575771074869117" filter="url(#bl1)"/>
<circle cx="49.7" cy="437.9" r="2.2" fill="#1c9a40" fill-opacity="0.43369517645191397" filter="url(#bl1)"/>
<circle cx="49.3" cy="436.3" r="2.5" fill="#1c9a40" fill-opacity="0.4961863388748936" filter="url(#bl1)"/>
<circle cx="51.5" cy="437.2" r="2.3" fill="#1c9a40" fill-opacity="0.5276710359285212" filter="url(#bl1)"/>
<g><path d="M50.0,436.0 Q51.1,434.3 51.1,432.0" stroke="#20a040" stroke-width="0.8" stroke-opacity="0.8" fill="none"/><path d="M50.0,436.0 Q49.9,433.6 48.4,431.4" stroke="#20a040" stroke-width="0.8" stroke-opacity="0.8" fill="none"/><path d="M50.0,436.0 Q49.5,437.4 49.9,439.0" stroke="#20a040" stroke-width="0.8" stroke-opacity="0.8" fill="none"/><path d="M50.0,436.0 Q49.1,433.7 47.0,432.2" stroke="#20a040" stroke-width="0.8" stroke-opacity="0.8" fill="none"/><path d="M50.0,436.0 Q50.9,436.9 52.3,437.1" stroke="#20a040" stroke-width="0.8" stroke-opacity="0.8" fill="none"/></g>
<circle cx="40.9" cy="449.2" r="2.3" fill="#1c9a40" fill-opacity="0.4716895350894927" filter="url(#bl1)"/>
<circle cx="39.8" cy="448.5" r="2.6" fill="#1c9a40" fill-opacity="0.5509018753175527" filter="url(#bl1)"/>
<circle cx="40.0" cy="448.4" r="2.8" fill="#1c9a40" fill-opacity="0.5873234445985925" filter="url(#bl1)"/>
<circle cx="40.2" cy="446.1" r="2.7" fill="#1c9a40" fill-opacity="0.5910205519274627" filter="url(#bl1)"/>
<g><path d="M41.0,448.0 Q39.6,448.6 38.6,450.1" stroke="#20a040" stroke-width="0.8" stroke-opacity="0.8" fill="none"/><path d="M41.0,448.0 Q43.0,446.9 44.1,444.6" stroke="#20a040" stroke-width="0.8" stroke-opacity="0.8" fill="none"/><path d="M41.0,448.0 Q38.8,448.7 37.2,450.7" stroke="#20a040" stroke-width="0.8" stroke-opacity="0.8" fill="none"/><path d="M41.0,448.0 Q41.4,446.0 40.6,444.0" stroke="#20a040" stroke-width="0.8" stroke-opacity="0.8" fill="none"/><path d="M41.0,448.0 Q40.9,446.7 40.1,445.6" stroke="#20a040" stroke-width="0.8" stroke-opacity="0.8" fill="none"/></g>
<circle cx="94.4" cy="439.5" r="2.7" fill="#1c9a40" fill-opacity="0.4219860849340345" filter="url(#bl1)"/>
<circle cx="96.7" cy="437.9" r="2.0" fill="#1c9a40" fill-opacity="0.505383667218028" filter="url(#bl1)"/>
<circle cx="96.9" cy="440.2" r="2.0" fill="#1c9a40" fill-opacity="0.47417328533405456" filter="url(#bl1)"/>
<circle cx="96.4" cy="440.6" r="2.7" fill="#1c9a40" fill-opacity="0.5367790428542533" filter="url(#bl1)"/>
<g><path d="M96.0,440.0 Q97.3,439.7 98.3,438.6" stroke="#20a040" stroke-width="0.8" stroke-opacity="0.8" fill="none"/><path d="M96.0,440.0 Q97.5,439.2 98.4,437.5" stroke="#20a040" stroke-width="0.8" stroke-opacity="0.8" fill="none"/><path d="M96.0,440.0 Q97.7,438.8 98.6,436.6" stroke="#20a040" stroke-width="0.8" stroke-opacity="0.8" fill="none"/><path d="M96.0,440.0 Q98.4,440.6 100.9,439.7" stroke="#20a040" stroke-width="0.8" stroke-opacity="0.8" fill="none"/><path d="M96.0,440.0 Q97.7,440.6 99.5,440.1" stroke="#20a040" stroke-width="0.8" stroke-opacity="0.8" fill="none"/></g>
<circle cx="127.6" cy="440.1" r="2.2" fill="#1c9a40" fill-opacity="0.4637340192363284" filter="url(#bl1)"/>
<circle cx="125.1" cy="439.7" r="2.7" fill="#1c9a40" fill-opacity="0.5866206070204608" filter="url(#bl1)"/>
<circle cx="125.0" cy="441.2" r="2.7" fill="#1c9a40" fill-opacity="0.5900979047849789" filter="url(#bl1)"/>
<circle cx="125.0" cy="440.5" r="2.6" fill="#1c9a40" fill-opacity="0.4514002255753418" filter="url(#bl1)"/>
<g><path d="M126.0,440.0 Q128.0,441.4 130.6,441.5" stroke="#20a040" stroke-width="0.8" stroke-opacity="0.8" fill="none"/><path d="M126.0,440.0 Q124.5,440.5 123.4,441.8" stroke="#20a040" stroke-width="0.8" stroke-opacity="0.8" fill="none"/><path d="M126.0,440.0 Q127.4,439.0 128.0,437.3" stroke="#20a040" stroke-width="0.8" stroke-opacity="0.8" fill="none"/><path d="M126.0,440.0 Q127.6,441.5 130.0,442.0" stroke="#20a040" stroke-width="0.8" stroke-opacity="0.8" fill="none"/><path d="M126.0,440.0 Q125.0,440.8 124.5,442.2" stroke="#20a040" stroke-width="0.8" stroke-opacity="0.8" fill="none"/></g>
<circle cx="60.9" cy="522.7" r="2.6" fill="#1c9a40" fill-opacity="0.47619119432165213" filter="url(#bl1)"/>
<circle cx="59.1" cy="520.4" r="2.5" fill="#1c9a40" fill-opacity="0.4431364130399168" filter="url(#bl1)"/>
<circle cx="59.2" cy="521.5" r="1.9" fill="#1c9a40" fill-opacity="0.5217497132212371" filter="url(#bl1)"/>
<circle cx="61.7" cy="522.6" r="2.6" fill="#1c9a40" fill-opacity="0.4948174500964363" filter="url(#bl1)"/>
<g><path d="M60.0,522.0 Q61.0,521.1 61.5,519.6" stroke="#20a040" stroke-width="0.8" stroke-opacity="0.8" fill="none"/><path d="M60.0,522.0 Q58.1,521.2 55.9,521.6" stroke="#20a040" stroke-width="0.8" stroke-opacity="0.8" fill="none"/><path d="M60.0,522.0 Q61.9,523.3 64.5,523.4" stroke="#20a040" stroke-width="0.8" stroke-opacity="0.8" fill="none"/><path d="M60.0,522.0 Q60.9,520.6 60.8,518.9" stroke="#20a040" stroke-width="0.8" stroke-opacity="0.8" fill="none"/><path d="M60.0,522.0 Q61.5,521.0 62.2,519.1" stroke="#20a040" stroke-width="0.8" stroke-opacity="0.8" fill="none"/></g>
<circle cx="120.4" cy="528.4" r="2.5" fill="#1c9a40" fill-opacity="0.49045181975021496" filter="url(#bl1)"/>
<circle cx="119.7" cy="530.8" r="2.0" fill="#1c9a40" fill-opacity="0.5688121075124338" filter="url(#bl1)"/>
<circle cx="118.2" cy="531.2" r="2.6" fill="#1c9a40" fill-opacity="0.46982695823405374" filter="url(#bl1)"/>
<circle cx="120.7" cy="530.2" r="2.3" fill="#1c9a40" fill-opacity="0.5844985912178243" filter="url(#bl1)"/>
<g><path d="M120.0,530.0 Q121.5,529.2 122.4,527.5" stroke="#20a040" stroke-width="0.8" stroke-opacity="0.8" fill="none"/><path d="M120.0,530.0 Q118.4,529.4 116.5,529.9" stroke="#20a040" stroke-width="0.8" stroke-opacity="0.8" fill="none"/><path d="M120.0,530.0 Q120.7,531.0 122.0,531.5" stroke="#20a040" stroke-width="0.8" stroke-opacity="0.8" fill="none"/><path d="M120.0,530.0 Q118.2,530.9 117.2,532.8" stroke="#20a040" stroke-width="0.8" stroke-opacity="0.8" fill="none"/><path d="M120.0,530.0 Q121.9,531.4 124.4,531.5" stroke="#20a040" stroke-width="0.8" stroke-opacity="0.8" fill="none"/></g>
<path d="M125.2 428.3h0M106.7 463.6h0M29.2 532.9h0M97.3 436.5h0" stroke="#28a048" stroke-width="0.60" stroke-opacity="0.5" stroke-linecap="round"/><path d="M95.7 486.2h0M109.5 450.3h0M55.9 433.0h0M85.4 466.5h0M86.2 531.3h0M129.9 438.1h0M66.7 518.4h0M62.3 489.7h0M129.7 496.1h0M49.2 494.0h0M26.8 476.6h0M17.3 432.7h0M30.3 497.4h0M132.4 478.4h0" stroke="#28a048" stroke-width="0.90" stroke-opacity="0.75" stroke-linecap="round"/><path d="M57.0 449.4h0M62.0 441.4h0M71.0 421.5h0M71.1 496.8h0M78.4 425.5h0M44.9 428.9h0M140.3 470.4h0" stroke="#30b050" stroke-width="0.60" stroke-opacity="0.75" stroke-linecap="round"/><path d="M139.6 536.1h0M97.5 494.9h0M91.3 443.3h0M56.0 477.1h0M55.8 520.1h0" stroke="#28a048" stroke-width="0.90" stroke-opacity="0.5" stroke-linecap="round"/><path d="M99.3 532.3h0M117.6 479.3h0M45.6 521.0h0M130.8 437.8h0M71.0 430.8h0" stroke="#28a048" stroke-width="1.20" stroke-opacity="0.5" stroke-linecap="round"/><path d="M63.1 516.5h0M17.5 470.6h0M47.5 468.2h0M81.9 421.1h0M95.8 454.0h0" stroke="#28a048" stroke-width="0.90" stroke-opacity="1.0" stroke-linecap="round"/><path d="M101.0 420.9h0M112.9 438.4h0M93.8 438.6h0M98.4 496.9h0" stroke="#40c060" stroke-width="1.20" stroke-opacity="1.0" stroke-linecap="round"/><path d="M127.4 430.6h0M76.8 480.9h0M118.3 442.4h0M99.4 509.3h0M134.5 442.4h0M136.3 490.1h0M19.0 498.2h0M134.1 480.6h0" stroke="#28a048" stroke-width="1.20" stroke-opacity="0.75" stroke-linecap="round"/><path d="M96.7 440.9h0M107.3 470.5h0M56.5 531.0h0M82.3 478.3h0M100.4 526.7h0M137.7 514.5h0" stroke="#28a048" stroke-width="0.60" stroke-opacity="0.75" stroke-linecap="round"/><path d="M84.0 533.2h0M56.8 516.1h0M95.1 510.5h0M75.7 421.5h0M95.4 499.8h0M24.3 497.4h0M102.9 522.1h0M100.8 526.1h0M40.8 510.5h0" stroke="#30b050" stroke-width="0.90" stroke-opacity="0.75" stroke-linecap="round"/><path d="M82.9 454.6h0M56.2 533.1h0M102.8 459.8h0M57.1 433.6h0M37.9 518.9h0" stroke="#28a048" stroke-width="0.60" stroke-opacity="1.0" stroke-linecap="round"/><path d="M107.3 518.3h0M21.8 457.5h0M104.6 488.0h0M62.0 514.6h0" stroke="#28a048" stroke-width="1.20" stroke-opacity="1.0" stroke-linecap="round"/><path d="M124.7 455.3h0M65.1 442.6h0M21.3 492.9h0M77.5 460.5h0M110.1 472.4h0M138.2 535.0h0" stroke="#40c060" stroke-width="0.90" stroke-opacity="0.75" stroke-linecap="round"/><path d="M65.0 535.5h0M35.2 486.7h0M43.6 450.4h0M110.5 535.8h0M115.3 487.8h0M45.4 520.7h0M25.2 454.0h0M35.2 471.5h0M64.0 530.8h0M26.4 484.7h0M46.6 494.8h0M117.1 435.3h0" stroke="#30b050" stroke-width="1.20" stroke-opacity="0.75" stroke-linecap="round"/><path d="M98.2 514.2h0M75.8 470.6h0M73.9 479.5h0M64.2 502.1h0M125.1 422.7h0" stroke="#30b050" stroke-width="0.90" stroke-opacity="1.0" stroke-linecap="round"/><path d="M98.3 466.9h0M26.6 416.3h0M100.0 443.7h0M122.8 495.7h0M105.5 437.4h0M28.7 491.0h0" stroke="#30b050" stroke-width="0.90" stroke-opacity="0.5" stroke-linecap="round"/><path d="M54.9 448.9h0M107.6 442.5h0" stroke="#40c060" stroke-width="1.50" stroke-opacity="1.0" stroke-linecap="round"/><path d="M62.8 466.8h0M26.8 520.1h0" stroke="#30b050" stroke-width="0.60" stroke-opacity="0.5" stroke-linecap="round"/><path d="M81.3 416.5h0M104.5 507.3h0M59.0 511.9h0M19.9 467.8h0M107.5 498.2h0" stroke="#40c060" stroke-width="1.20" stroke-opacity="0.75" stroke-linecap="round"/><path d="M69.8 480.0h0M45.8 529.7h0M17.1 495.8h0M70.2 536.1h0M54.1 443.8h0" stroke="#40c060" stroke-width="0.60" stroke-opacity="0.75" stroke-linecap="round"/><path d="M103.9 481.5h0M48.8 427.9h0M117.3 511.0h0M129.6 439.8h0" stroke="#40c060" stroke-width="0.60" stroke-opacity="1.0" stroke-linecap="round"/><path d="M63.4 440.5h0M125.6 420.9h0M102.9 528.8h0M113.8 429.5h0" stroke="#40c060" stroke-width="0.90" stroke-opacity="1.0" stroke-linecap="round"/><path d="M81.8 476.2h0M116.1 449.1h0M135.2 529.3h0M116.9 487.4h0M61.5 458.0h0M141.0 524.9h0M31.2 505.1h0M94.3 502.3h0M113.7 448.1h0" stroke="#30b050" stroke-width="1.20" stroke-opacity="0.5" stroke-linecap="round"/><path d="M98.5 463.3h0M19.2 469.8h0M45.4 454.4h0M52.4 507.4h0M119.4 446.2h0" stroke="#40c060" stroke-width="1.50" stroke-opacity="0.75" stroke-linecap="round"/><path d="M49.7 478.2h0M47.6 421.8h0" stroke="#30b050" stroke-width="0.60" stroke-opacity="1.0" stroke-linecap="round"/><path d="M133.4 493.4h0M100.1 508.4h0" stroke="#40c060" stroke-width="1.50" stroke-opacity="0.5" stroke-linecap="round"/><path d="M117.6 518.7h0M66.9 505.5h0M136.0 439.8h0M75.6 495.4h0M95.1 499.8h0" stroke="#40c060" stroke-width="0.90" stroke-opacity="0.5" stroke-linecap="round"/><path d="M18.8 461.3h0M103.6 515.5h0M25.3 538.1h0" stroke="#30b050" stroke-width="1.20" stroke-opacity="1.0" stroke-linecap="round"/><path d="M134.2 472.9h0" stroke="#28a048" stroke-width="1.50" stroke-opacity="1.0" stroke-linecap="round"/><path d="M98.8 452.9h0M25.9 527.2h0" stroke="#40c060" stroke-width="1.20" stroke-opacity="0.5" stroke-linecap="round"/><path d="M80.8 471.4h0M72.6 494.8h0" stroke="#40c060" stroke-width="0.60" stroke-opacity="0.5" stroke-linecap="round"/><path d="M72.8 471.5h0" stroke="#30b050" stroke-width="1.50" stroke-opacity="0.75" stroke-linecap="round"/><path d="M37.2 438.4h0" stroke="#28a048" stroke-width="1.50" stroke-opacity="0.5" stroke-linecap="round"/>
<g><path d="M34.0,433.0 Q35.1,433.7 36.5,433.8" stroke="#e08a20" stroke-width="0.9" stroke-opacity="0.9" fill="none"/><path d="M34.0,433.0 Q34.7,434.5 36.1,435.5" stroke="#e08a20" stroke-width="0.9" stroke-opacity="0.9" fill="none"/><path d="M34.0,433.0 Q32.8,433.4 31.9,434.5" stroke="#e08a20" stroke-width="0.9" stroke-opacity="0.9" fill="none"/></g>
<g><path d="M49.0,485.0 Q47.0,485.3 45.4,486.7" stroke="#e08a20" stroke-width="0.9" stroke-opacity="0.9" fill="none"/><path d="M49.0,485.0 Q49.8,485.7 50.9,485.9" stroke="#e08a20" stroke-width="0.9" stroke-opacity="0.9" fill="none"/><path d="M49.0,485.0 Q47.7,483.6 45.7,483.2" stroke="#e08a20" stroke-width="0.9" stroke-opacity="0.9" fill="none"/></g>
<g><path d="M47.0,489.0 Q47.5,487.4 47.0,485.6" stroke="#e08a20" stroke-width="0.9" stroke-opacity="0.9" fill="none"/><path d="M47.0,489.0 Q46.4,487.4 45.0,486.3" stroke="#e08a20" stroke-width="0.9" stroke-opacity="0.9" fill="none"/><path d="M47.0,489.0 Q46.0,488.7 44.9,489.0" stroke="#e08a20" stroke-width="0.9" stroke-opacity="0.9" fill="none"/></g>
<g><path d="M83.0,470.0 Q81.8,468.7 80.0,468.2" stroke="#e08a20" stroke-width="0.9" stroke-opacity="0.9" fill="none"/><path d="M83.0,470.0 Q84.6,471.1 86.8,471.0" stroke="#e08a20" stroke-width="0.9" stroke-opacity="0.9" fill="none"/><path d="M83.0,470.0 Q81.7,469.7 80.3,470.3" stroke="#e08a20" stroke-width="0.9" stroke-opacity="0.9" fill="none"/></g>
<g><path d="M111.0,442.0 Q110.2,443.4 110.3,445.1" stroke="#e08a20" stroke-width="0.9" stroke-opacity="0.9" fill="none"/><path d="M111.0,442.0 Q109.3,441.1 107.1,441.3" stroke="#e08a20" stroke-width="0.9" stroke-opacity="0.9" fill="none"/><path d="M111.0,442.0 Q112.1,440.6 112.3,438.7" stroke="#e08a20" stroke-width="0.9" stroke-opacity="0.9" fill="none"/></g>
<g><path d="M107.0,453.0 Q108.3,453.8 109.9,453.7" stroke="#e08a20" stroke-width="0.9" stroke-opacity="0.9" fill="none"/><path d="M107.0,453.0 Q108.2,452.0 108.7,450.3" stroke="#e08a20" stroke-width="0.9" stroke-opacity="0.9" fill="none"/><path d="M107.0,453.0 Q105.6,454.2 105.1,456.1" stroke="#e08a20" stroke-width="0.9" stroke-opacity="0.9" fill="none"/></g>
<g><path d="M116.0,485.0 Q117.3,484.8 118.3,483.8" stroke="#e08a20" stroke-width="0.9" stroke-opacity="0.9" fill="none"/><path d="M116.0,485.0 Q114.9,485.4 114.1,486.5" stroke="#e08a20" stroke-width="0.9" stroke-opacity="0.9" fill="none"/><path d="M116.0,485.0 Q114.1,484.5 112.1,485.2" stroke="#e08a20" stroke-width="0.9" stroke-opacity="0.9" fill="none"/></g>
<g><path d="M29.0,515.0 Q29.9,514.0 30.2,512.6" stroke="#e08a20" stroke-width="0.9" stroke-opacity="0.9" fill="none"/><path d="M29.0,515.0 Q28.7,516.4 29.1,517.8" stroke="#e08a20" stroke-width="0.9" stroke-opacity="0.9" fill="none"/><path d="M29.0,515.0 Q30.1,515.5 31.4,515.3" stroke="#e08a20" stroke-width="0.9" stroke-opacity="0.9" fill="none"/></g>
<g><path d="M71.0,502.0 Q70.5,503.3 70.8,504.9" stroke="#e08a20" stroke-width="0.9" stroke-opacity="0.9" fill="none"/><path d="M71.0,502.0 Q70.3,500.6 68.9,499.8" stroke="#e08a20" stroke-width="0.9" stroke-opacity="0.9" fill="none"/><path d="M71.0,502.0 Q72.5,502.5 74.1,502.0" stroke="#e08a20" stroke-width="0.9" stroke-opacity="0.9" fill="none"/></g>
<g><path d="M90.0,425.0 Q90.1,426.4 90.9,427.6" stroke="#e08a20" stroke-width="0.9" stroke-opacity="0.9" fill="none"/><path d="M90.0,425.0 Q91.0,425.5 92.3,425.4" stroke="#e08a20" stroke-width="0.9" stroke-opacity="0.9" fill="none"/><path d="M90.0,425.0 Q89.8,423.3 88.7,421.9" stroke="#e08a20" stroke-width="0.9" stroke-opacity="0.9" fill="none"/></g>
<g><path d="M58.0,454.0 Q58.5,452.4 58.0,450.6" stroke="#e08a20" stroke-width="0.9" stroke-opacity="0.9" fill="none"/><path d="M58.0,454.0 Q59.3,453.5 60.2,452.3" stroke="#e08a20" stroke-width="0.9" stroke-opacity="0.9" fill="none"/><path d="M58.0,454.0 Q57.3,452.4 55.7,451.5" stroke="#e08a20" stroke-width="0.9" stroke-opacity="0.9" fill="none"/></g>
<g><path d="M124.0,500.0 Q123.7,498.8 122.8,497.9" stroke="#e08a20" stroke-width="0.9" stroke-opacity="0.9" fill="none"/><path d="M124.0,500.0 Q123.4,501.2 123.5,502.6" stroke="#e08a20" stroke-width="0.9" stroke-opacity="0.9" fill="none"/><path d="M124.0,500.0 Q122.6,499.9 121.3,500.6" stroke="#e08a20" stroke-width="0.9" stroke-opacity="0.9" fill="none"/></g>
<g><path d="M96.0,505.0 Q97.6,504.7 98.8,503.6" stroke="#e08a20" stroke-width="0.9" stroke-opacity="0.9" fill="none"/><path d="M96.0,505.0 Q95.0,505.4 94.3,506.3" stroke="#e08a20" stroke-width="0.9" stroke-opacity="0.9" fill="none"/><path d="M96.0,505.0 Q94.8,505.3 93.8,506.2" stroke="#e08a20" stroke-width="0.9" stroke-opacity="0.9" fill="none"/></g>
<g><path d="M40.0,460.0 Q38.1,459.8 36.3,460.7" stroke="#e08a20" stroke-width="0.9" stroke-opacity="0.9" fill="none"/><path d="M40.0,460.0 Q41.9,459.7 43.4,458.4" stroke="#e08a20" stroke-width="0.9" stroke-opacity="0.9" fill="none"/><path d="M40.0,460.0 Q39.9,461.3 40.6,462.5" stroke="#e08a20" stroke-width="0.9" stroke-opacity="0.9" fill="none"/></g>
<g><path d="M135.0,470.0 Q135.9,468.5 135.8,466.7" stroke="#e08a20" stroke-width="0.9" stroke-opacity="0.9" fill="none"/><path d="M135.0,470.0 Q135.6,469.1 135.5,467.9" stroke="#e08a20" stroke-width="0.9" stroke-opacity="0.9" fill="none"/><path d="M135.0,470.0 Q134.6,471.1 134.9,472.4" stroke="#e08a20" stroke-width="0.9" stroke-opacity="0.9" fill="none"/></g>
<circle cx="103.2" cy="422.6" r="3.6" fill="#3ab0d6" fill-opacity="0.9" filter="url(#bl1)"/>
<circle cx="105.7" cy="422.0" r="4.3" fill="#3ab0d6" fill-opacity="0.9" filter="url(#bl1)"/>
<circle cx="104.6" cy="422.7" r="3.7" fill="#3ab0d6" fill-opacity="0.9" filter="url(#bl1)"/>
<circle cx="104.0" cy="422.0" r="2.8" fill="#5ec6e6" fill-opacity="0.8" filter="url(#bl1)"/>
<circle cx="110.8" cy="424.1" r="3.0" fill="#3ab0d6" fill-opacity="0.9" filter="url(#bl1)"/>
<circle cx="108.8" cy="425.1" r="3.0" fill="#3ab0d6" fill-opacity="0.9" filter="url(#bl1)"/>
<circle cx="110.7" cy="424.0" r="3.5" fill="#3ab0d6" fill-opacity="0.9" filter="url(#bl1)"/>
<circle cx="110.0" cy="425.0" r="2.2" fill="#5ec6e6" fill-opacity="0.8" filter="url(#bl1)"/>
<circle cx="62.6" cy="433.7" r="2.1" fill="#3ab0d6" fill-opacity="0.9" filter="url(#bl1)"/>
<circle cx="63.3" cy="434.0" r="2.0" fill="#3ab0d6" fill-opacity="0.9" filter="url(#bl1)"/>
<circle cx="63.3" cy="432.7" r="2.3" fill="#3ab0d6" fill-opacity="0.9" filter="url(#bl1)"/>
<circle cx="63.6" cy="433.6" r="1.4" fill="#5ec6e6" fill-opacity="0.8" filter="url(#bl1)"/>
<circle cx="62.7" cy="448.4" r="2.3" fill="#3ab0d6" fill-opacity="0.9" filter="url(#bl1)"/>
<circle cx="62.5" cy="448.5" r="2.4" fill="#3ab0d6" fill-opacity="0.9" filter="url(#bl1)"/>
<circle cx="63.2" cy="448.2" r="2.4" fill="#3ab0d6" fill-opacity="0.9" filter="url(#bl1)"/>
<circle cx="63.0" cy="449.0" r="1.7" fill="#5ec6e6" fill-opacity="0.8" filter="url(#bl1)"/>
<circle cx="80.2" cy="462.2" r="3.3" fill="#3ab0d6" fill-opacity="0.9" filter="url(#bl1)"/>
<circle cx="80.1" cy="461.8" r="3.2" fill="#3ab0d6" fill-opacity="0.9" filter="url(#bl1)"/>
<circle cx="80.3" cy="459.4" r="3.0" fill="#3ab0d6" fill-opacity="0.9" filter="url(#bl1)"/>
<circle cx="80.0" cy="461.0" r="2.2" fill="#5ec6e6" fill-opacity="0.8" filter="url(#bl1)"/>
<circle cx="100.1" cy="457.7" r="3.2" fill="#3ab0d6" fill-opacity="0.9" filter="url(#bl1)"/>
<circle cx="101.2" cy="457.3" r="3.3" fill="#3ab0d6" fill-opacity="0.9" filter="url(#bl1)"/>
<circle cx="100.3" cy="458.0" r="3.3" fill="#3ab0d6" fill-opacity="0.9" filter="url(#bl1)"/>
<circle cx="101.0" cy="458.0" r="2.2" fill="#5ec6e6" fill-opacity="0.8" filter="url(#bl1)"/>
<circle cx="120.5" cy="464.5" r="2.8" fill="#3ab0d6" fill-opacity="0.9" filter="url(#bl1)"/>
<circle cx="119.5" cy="461.6" r="3.0" fill="#3ab0d6" fill-opacity="0.9" filter="url(#bl1)"/>
<circle cx="120.5" cy="462.6" r="3.4" fill="#3ab0d6" fill-opacity="0.9" filter="url(#bl1)"/>
<circle cx="120.0" cy="463.0" r="2.2" fill="#5ec6e6" fill-opacity="0.8" filter="url(#bl1)"/>
<circle cx="130.4" cy="463.6" r="3.4" fill="#3ab0d6" fill-opacity="0.9" filter="url(#bl1)"/>
<circle cx="129.7" cy="462.0" r="3.4" fill="#3ab0d6" fill-opacity="0.9" filter="url(#bl1)"/>
<circle cx="129.9" cy="463.9" r="3.4" fill="#3ab0d6" fill-opacity="0.9" filter="url(#bl1)"/>
<circle cx="129.6" cy="463.0" r="2.2" fill="#5ec6e6" fill-opacity="0.8" filter="url(#bl1)"/>
<circle cx="48.1" cy="472.2" r="3.9" fill="#3ab0d6" fill-opacity="0.9" filter="url(#bl1)"/>
<circle cx="47.4" cy="472.0" r="4.2" fill="#3ab0d6" fill-opacity="0.9" filter="url(#bl1)"/>
<circle cx="48.0" cy="471.0" r="3.9" fill="#3ab0d6" fill-opacity="0.9" filter="url(#bl1)"/>
<circle cx="47.0" cy="471.0" r="2.8" fill="#5ec6e6" fill-opacity="0.8" filter="url(#bl1)"/>
<circle cx="87.6" cy="477.0" r="4.2" fill="#3ab0d6" fill-opacity="0.9" filter="url(#bl1)"/>
<circle cx="87.8" cy="477.3" r="3.6" fill="#3ab0d6" fill-opacity="0.9" filter="url(#bl1)"/>
<circle cx="85.5" cy="477.8" r="4.4" fill="#3ab0d6" fill-opacity="0.9" filter="url(#bl1)"/>
<circle cx="87.0" cy="478.0" r="2.8" fill="#5ec6e6" fill-opacity="0.8" filter="url(#bl1)"/>
<circle cx="67.7" cy="486.6" r="3.0" fill="#3ab0d6" fill-opacity="0.9" filter="url(#bl1)"/>
<circle cx="69.7" cy="486.6" r="3.0" fill="#3ab0d6" fill-opacity="0.9" filter="url(#bl1)"/>
<circle cx="69.8" cy="486.5" r="3.3" fill="#3ab0d6" fill-opacity="0.9" filter="url(#bl1)"/>
<circle cx="69.0" cy="487.0" r="2.2" fill="#5ec6e6" fill-opacity="0.8" filter="url(#bl1)"/>
<circle cx="130.3" cy="482.6" r="3.1" fill="#3ab0d6" fill-opacity="0.9" filter="url(#bl1)"/>
<circle cx="129.8" cy="480.8" r="3.3" fill="#3ab0d6" fill-opacity="0.9" filter="url(#bl1)"/>
<circle cx="128.9" cy="481.3" r="3.2" fill="#3ab0d6" fill-opacity="0.9" filter="url(#bl1)"/>
<circle cx="130.0" cy="482.0" r="2.2" fill="#5ec6e6" fill-opacity="0.8" filter="url(#bl1)"/>
<circle cx="136.3" cy="485.5" r="2.4" fill="#3ab0d6" fill-opacity="0.9" filter="url(#bl1)"/>
<circle cx="135.6" cy="486.3" r="2.3" fill="#3ab0d6" fill-opacity="0.9" filter="url(#bl1)"/>
<circle cx="135.4" cy="485.5" r="2.4" fill="#3ab0d6" fill-opacity="0.9" filter="url(#bl1)"/>
<circle cx="136.0" cy="486.0" r="1.7" fill="#5ec6e6" fill-opacity="0.8" filter="url(#bl1)"/>
<circle cx="51.7" cy="500.1" r="3.9" fill="#3ab0d6" fill-opacity="0.9" filter="url(#bl1)"/>
<circle cx="52.7" cy="501.0" r="3.6" fill="#3ab0d6" fill-opacity="0.9" filter="url(#bl1)"/>
<circle cx="51.1" cy="499.8" r="3.8" fill="#3ab0d6" fill-opacity="0.9" filter="url(#bl1)"/>
<circle cx="51.0" cy="501.0" r="2.8" fill="#5ec6e6" fill-opacity="0.8" filter="url(#bl1)"/>
<circle cx="77.8" cy="511.7" r="3.2" fill="#3ab0d6" fill-opacity="0.9" filter="url(#bl1)"/>
<circle cx="79.5" cy="512.8" r="3.4" fill="#3ab0d6" fill-opacity="0.9" filter="url(#bl1)"/>
<circle cx="79.3" cy="512.5" r="3.4" fill="#3ab0d6" fill-opacity="0.9" filter="url(#bl1)"/>
<circle cx="78.0" cy="513.0" r="2.2" fill="#5ec6e6" fill-opacity="0.8" filter="url(#bl1)"/>
<circle cx="140.5" cy="502.1" r="2.2" fill="#3ab0d6" fill-opacity="0.9" filter="url(#bl1)"/>
<circle cx="139.1" cy="501.3" r="2.5" fill="#3ab0d6" fill-opacity="0.9" filter="url(#bl1)"/>
<circle cx="140.0" cy="502.8" r="2.2" fill="#3ab0d6" fill-opacity="0.9" filter="url(#bl1)"/>
<circle cx="140.0" cy="502.0" r="1.7" fill="#5ec6e6" fill-opacity="0.8" filter="url(#bl1)"/>
<circle cx="105.0" cy="527.4" r="3.5" fill="#3ab0d6" fill-opacity="0.9" filter="url(#bl1)"/>
<circle cx="104.1" cy="528.1" r="2.8" fill="#3ab0d6" fill-opacity="0.9" filter="url(#bl1)"/>
<circle cx="104.7" cy="527.1" r="3.2" fill="#3ab0d6" fill-opacity="0.9" filter="url(#bl1)"/>
<circle cx="104.0" cy="527.0" r="2.2" fill="#5ec6e6" fill-opacity="0.8" filter="url(#bl1)"/>
<circle cx="109.5" cy="523.8" r="2.5" fill="#3ab0d6" fill-opacity="0.9" filter="url(#bl1)"/>
<circle cx="110.6" cy="524.7" r="2.1" fill="#3ab0d6" fill-opacity="0.9" filter="url(#bl1)"/>
<circle cx="109.7" cy="523.0" r="2.5" fill="#3ab0d6" fill-opacity="0.9" filter="url(#bl1)"/>
<circle cx="110.0" cy="524.0" r="1.7" fill="#5ec6e6" fill-opacity="0.8" filter="url(#bl1)"/>
<circle cx="50.6" cy="536.6" r="2.1" fill="#3ab0d6" fill-opacity="0.9" filter="url(#bl1)"/>
<circle cx="50.3" cy="536.6" r="1.8" fill="#3ab0d6" fill-opacity="0.9" filter="url(#bl1)"/>
<circle cx="49.7" cy="537.8" r="2.0" fill="#3ab0d6" fill-opacity="0.9" filter="url(#bl1)"/>
<circle cx="50.0" cy="537.0" r="1.3" fill="#5ec6e6" fill-opacity="0.8" filter="url(#bl1)"/>
<circle cx="22.2" cy="417.2" r="1.7" fill="#3ab0d6" fill-opacity="0.9" filter="url(#bl1)"/>
<circle cx="21.4" cy="417.5" r="1.8" fill="#3ab0d6" fill-opacity="0.9" filter="url(#bl1)"/>
<circle cx="21.9" cy="417.6" r="1.7" fill="#3ab0d6" fill-opacity="0.9" filter="url(#bl1)"/>
<circle cx="22.0" cy="418.0" r="1.3" fill="#5ec6e6" fill-opacity="0.8" filter="url(#bl1)"/>
</g>
<g clip-path="url(#cp10)">
<rect x="146.40" y="414.60" width="125.40" height="124.60" fill="#030000" stroke="none" stroke-width="0.6" />
<g filter="url(#bl05)"><path d="M162.2 458.5h0M206.3 532.5h0M177.4 533.3h0M166.0 505.6h0M241.3 465.9h0M230.9 528.4h0M197.0 458.7h0M242.3 420.1h0M159.7 484.8h0M242.5 525.6h0M155.9 513.3h0M255.0 440.6h0M189.4 479.8h0M226.8 432.0h0M231.0 524.9h0M219.6 466.9h0M223.8 441.1h0M237.8 504.2h0" stroke="#4a0808" stroke-width="3.90" stroke-opacity="0.75" stroke-linecap="round"/><path d="M257.0 501.1h0M200.4 435.2h0M248.2 448.9h0M236.8 486.7h0M175.4 478.3h0M235.2 532.3h0M251.9 488.3h0M159.2 492.4h0M195.0 428.7h0M250.9 495.6h0M229.2 445.6h0M184.4 443.8h0M253.5 480.1h0" stroke="#5a0c0c" stroke-width="3.30" stroke-opacity="0.75" stroke-linecap="round"/><path d="M167.8 457.8h0M157.3 509.2h0M255.5 470.3h0M232.3 483.2h0M168.5 501.3h0M166.8 419.6h0M167.9 516.8h0M213.3 471.5h0M260.7 459.2h0M218.8 508.9h0M169.4 430.6h0M268.8 451.0h0M160.0 415.5h0M181.8 514.0h0M149.9 427.1h0M190.9 424.1h0M264.8 529.8h0" stroke="#3c0606" stroke-width="3.30" stroke-opacity="0.75" stroke-linecap="round"/><path d="M230.0 457.6h0M185.7 490.3h0M261.3 470.7h0M261.9 440.7h0" stroke="#3c0606" stroke-width="3.60" stroke-opacity="0.5" stroke-linecap="round"/><path d="M264.5 446.8h0M179.7 514.4h0" stroke="#661010" stroke-width="4.20" stroke-opacity="0.5" stroke-linecap="round"/><path d="M228.6 452.1h0M268.1 422.6h0M214.2 506.0h0M263.2 471.9h0M237.1 452.9h0M216.9 480.8h0" stroke="#5a0c0c" stroke-width="3.60" stroke-opacity="1.0" stroke-linecap="round"/><path d="M169.2 510.6h0M207.0 487.3h0M170.0 419.5h0M244.1 528.9h0M230.1 491.5h0M180.8 473.1h0M239.9 422.4h0M180.6 481.9h0M174.4 496.2h0M171.4 443.6h0M231.5 440.8h0M183.6 442.1h0M267.1 536.6h0" stroke="#3c0606" stroke-width="3.60" stroke-opacity="0.75" stroke-linecap="round"/><path d="M218.8 497.9h0M261.6 439.5h0M213.7 511.2h0M267.5 437.6h0M185.0 525.9h0M233.6 534.9h0M260.9 472.5h0M242.8 530.7h0M265.6 420.5h0M181.9 452.9h0M177.1 433.5h0M212.2 418.6h0M208.6 495.3h0" stroke="#661010" stroke-width="3.00" stroke-opacity="0.75" stroke-linecap="round"/><path d="M220.2 503.8h0M249.4 489.5h0M242.7 475.0h0" stroke="#5a0c0c" stroke-width="3.30" stroke-opacity="1.0" stroke-linecap="round"/><path d="M205.7 445.9h0M255.5 489.2h0M268.4 458.3h0M249.6 445.7h0M160.8 497.4h0M186.8 488.5h0M208.3 528.0h0M266.7 482.1h0M240.6 467.5h0M228.4 471.8h0M222.4 429.3h0M240.1 529.8h0M238.0 445.2h0M235.9 520.0h0M247.4 507.5h0" stroke="#3c0606" stroke-width="3.00" stroke-opacity="0.75" stroke-linecap="round"/><path d="M167.7 530.3h0M186.2 517.3h0M229.1 490.4h0M153.2 522.0h0M261.5 416.9h0M160.0 528.7h0M219.0 501.6h0M225.5 451.1h0M180.3 524.5h0" stroke="#661010" stroke-width="3.90" stroke-opacity="0.75" stroke-linecap="round"/><path d="M216.8 503.6h0M208.0 441.2h0M264.7 493.5h0M246.7 452.1h0" stroke="#4a0808" stroke-width="3.00" stroke-opacity="0.5" stroke-linecap="round"/><path d="M239.3 493.5h0M257.2 446.7h0M239.5 525.2h0M153.7 516.1h0M210.8 414.8h0M155.3 418.2h0M189.6 506.2h0M173.9 482.8h0M237.0 479.1h0M163.7 424.9h0M215.8 517.1h0M158.0 472.8h0M260.6 536.7h0M199.7 422.7h0M204.1 449.1h0M253.9 470.3h0M187.0 474.7h0" stroke="#4a0808" stroke-width="3.30" stroke-opacity="0.75" stroke-linecap="round"/><path d="M240.1 511.9h0" stroke="#5a0c0c" stroke-width="4.20" stroke-opacity="0.5" stroke-linecap="round"/><path d="M197.7 499.5h0M188.2 538.9h0M205.1 509.5h0M269.3 415.4h0" stroke="#4a0808" stroke-width="3.60" stroke-opacity="1.0" stroke-linecap="round"/><path d="M189.8 537.4h0M205.8 516.4h0M245.4 507.0h0M169.6 473.5h0M253.0 526.4h0M153.4 491.8h0M210.9 523.8h0M219.0 532.9h0M189.5 456.5h0M216.2 480.9h0M230.8 451.2h0M178.6 502.2h0M239.6 520.3h0" stroke="#4a0808" stroke-width="3.00" stroke-opacity="0.75" stroke-linecap="round"/><path d="M177.2 452.0h0M235.1 454.5h0M157.9 453.1h0M197.0 458.0h0M170.6 497.4h0M196.5 437.9h0" stroke="#661010" stroke-width="3.60" stroke-opacity="0.5" stroke-linecap="round"/><path d="M226.4 472.0h0M157.8 467.0h0M216.3 499.4h0M174.2 419.0h0M175.1 431.8h0M175.3 505.9h0" stroke="#661010" stroke-width="2.70" stroke-opacity="0.5" stroke-linecap="round"/><path d="M265.2 489.7h0M193.3 516.9h0M215.1 435.8h0" stroke="#4a0808" stroke-width="4.20" stroke-opacity="1.0" stroke-linecap="round"/><path d="M165.1 502.4h0M156.5 505.8h0M267.7 414.9h0M224.6 488.6h0M194.6 535.6h0M218.9 494.7h0M180.8 416.6h0" stroke="#4a0808" stroke-width="3.90" stroke-opacity="0.5" stroke-linecap="round"/><path d="M267.0 512.9h0M168.9 513.3h0M261.9 499.6h0M232.4 423.5h0M270.5 507.6h0M217.7 451.2h0M229.0 494.3h0M207.2 457.7h0M164.8 452.7h0" stroke="#5a0c0c" stroke-width="3.60" stroke-opacity="0.75" stroke-linecap="round"/><path d="M239.6 436.9h0M207.0 473.8h0M181.3 498.4h0M178.0 436.5h0M248.7 427.5h0M231.7 466.9h0M171.7 533.8h0M205.5 509.1h0M199.5 495.3h0" stroke="#661010" stroke-width="3.60" stroke-opacity="0.75" stroke-linecap="round"/><path d="M207.5 480.6h0M244.5 463.9h0M235.5 487.9h0M167.2 517.8h0" stroke="#4a0808" stroke-width="3.60" stroke-opacity="0.5" stroke-linecap="round"/><path d="M251.6 501.3h0M248.3 487.7h0M202.8 460.1h0M245.5 492.9h0M224.2 521.1h0M263.7 500.1h0M170.9 448.2h0M159.5 484.7h0M186.0 447.3h0M229.1 426.5h0M238.2 450.7h0" stroke="#661010" stroke-width="3.30" stroke-opacity="0.75" stroke-linecap="round"/><path d="M181.6 488.5h0M218.1 431.6h0M266.0 514.1h0M161.1 418.2h0M248.0 530.9h0M160.7 479.5h0M238.8 427.9h0M268.7 486.7h0M183.7 415.5h0" stroke="#661010" stroke-width="3.60" stroke-opacity="1.0" stroke-linecap="round"/><path d="M156.8 503.9h0" stroke="#661010" stroke-width="3.00" stroke-opacity="0.5" stroke-linecap="round"/><path d="M151.2 486.9h0M256.7 443.5h0M202.7 474.9h0M160.5 499.7h0M258.2 490.7h0M225.9 439.9h0M165.3 529.7h0" stroke="#3c0606" stroke-width="3.90" stroke-opacity="1.0" stroke-linecap="round"/><path d="M175.9 424.0h0M147.7 523.2h0M258.7 489.9h0" stroke="#5a0c0c" stroke-width="3.60" stroke-opacity="0.5" stroke-linecap="round"/><path d="M235.4 529.5h0M161.5 445.4h0M223.0 506.7h0M234.2 511.2h0M251.4 487.6h0M241.1 528.2h0M165.6 505.5h0M236.6 425.6h0M235.1 418.1h0" stroke="#5a0c0c" stroke-width="4.20" stroke-opacity="0.75" stroke-linecap="round"/><path d="M226.1 529.2h0" stroke="#4a0808" stroke-width="3.00" stroke-opacity="1.0" stroke-linecap="round"/><path d="M225.1 466.8h0M167.4 477.1h0M180.2 426.4h0M269.0 478.8h0M246.4 526.7h0M253.2 456.1h0M181.1 505.0h0M222.4 521.4h0M180.1 498.5h0M165.6 449.1h0M245.1 531.7h0M195.3 519.6h0M270.1 533.2h0M214.1 491.1h0M210.5 515.0h0" stroke="#5a0c0c" stroke-width="3.90" stroke-opacity="0.75" stroke-linecap="round"/><path d="M237.4 526.1h0" stroke="#3c0606" stroke-width="3.60" stroke-opacity="1.0" stroke-linecap="round"/><path d="M222.5 513.7h0M167.2 525.8h0" stroke="#4a0808" stroke-width="2.70" stroke-opacity="1.0" stroke-linecap="round"/><path d="M222.1 524.4h0M155.7 421.2h0M195.7 484.3h0M250.2 504.5h0M261.7 446.4h0M181.3 508.3h0M234.7 437.8h0M269.8 518.8h0M250.6 506.2h0" stroke="#4a0808" stroke-width="3.30" stroke-opacity="0.5" stroke-linecap="round"/><path d="M201.5 441.1h0M203.9 487.3h0M157.6 480.0h0M194.4 491.9h0M181.7 458.0h0M232.8 430.4h0M169.0 420.1h0" stroke="#661010" stroke-width="3.30" stroke-opacity="1.0" stroke-linecap="round"/><path d="M220.9 464.9h0M189.5 432.2h0M146.5 483.7h0M222.7 452.9h0M187.1 530.9h0M244.1 538.1h0M196.3 458.0h0M230.4 458.1h0M263.0 433.7h0M150.5 446.5h0M216.7 492.7h0" stroke="#3c0606" stroke-width="2.70" stroke-opacity="0.75" stroke-linecap="round"/><path d="M177.8 487.1h0M170.8 521.6h0M175.0 485.1h0M213.5 490.9h0M160.9 467.7h0M178.0 495.8h0M170.0 419.7h0M175.0 475.8h0M219.6 422.4h0M195.2 477.2h0" stroke="#3c0606" stroke-width="3.90" stroke-opacity="0.75" stroke-linecap="round"/><path d="M268.8 446.9h0M205.7 532.8h0" stroke="#661010" stroke-width="3.30" stroke-opacity="0.5" stroke-linecap="round"/><path d="M250.3 533.5h0M150.0 448.5h0M155.2 477.0h0M258.4 506.3h0M227.2 443.8h0M174.8 452.5h0M190.4 463.2h0" stroke="#4a0808" stroke-width="4.20" stroke-opacity="0.75" stroke-linecap="round"/><path d="M197.4 469.9h0M155.3 440.7h0M206.2 501.4h0M242.1 504.9h0" stroke="#3c0606" stroke-width="3.90" stroke-opacity="0.5" stroke-linecap="round"/><path d="M230.6 467.6h0M240.3 430.4h0M265.7 536.6h0M192.2 473.7h0M222.8 484.1h0M253.1 494.2h0M217.8 425.1h0M170.9 447.3h0M162.8 428.2h0M264.5 487.1h0M229.3 425.3h0" stroke="#4a0808" stroke-width="2.70" stroke-opacity="0.75" stroke-linecap="round"/><path d="M249.6 432.1h0M185.4 468.9h0M229.8 535.7h0M263.0 499.3h0M226.3 492.3h0M203.4 539.2h0M208.7 458.5h0" stroke="#661010" stroke-width="4.20" stroke-opacity="0.75" stroke-linecap="round"/><path d="M157.4 462.7h0M184.4 447.3h0M271.3 475.6h0M219.5 531.6h0M169.2 421.9h0M180.6 507.9h0M271.6 427.5h0" stroke="#5a0c0c" stroke-width="3.00" stroke-opacity="0.75" stroke-linecap="round"/><path d="M214.7 464.3h0M159.5 474.2h0M199.2 500.3h0M173.8 487.5h0M185.4 513.0h0M176.8 516.8h0M215.0 424.4h0" stroke="#3c0606" stroke-width="3.30" stroke-opacity="0.5" stroke-linecap="round"/><path d="M171.2 472.9h0M267.2 534.7h0M256.1 461.7h0" stroke="#5a0c0c" stroke-width="3.30" stroke-opacity="0.5" stroke-linecap="round"/><path d="M177.2 428.7h0M250.2 458.1h0M176.0 466.0h0M262.2 457.8h0M208.9 481.1h0M193.6 486.6h0M148.4 479.7h0M239.4 491.6h0M189.3 496.6h0M210.7 453.9h0M206.8 494.4h0" stroke="#4a0808" stroke-width="3.60" stroke-opacity="0.75" stroke-linecap="round"/><path d="M246.6 530.4h0M216.1 475.1h0M197.2 522.6h0M249.5 526.2h0" stroke="#3c0606" stroke-width="4.20" stroke-opacity="0.75" stroke-linecap="round"/><path d="M199.4 418.1h0M262.9 528.8h0M217.3 499.0h0M190.9 532.2h0" stroke="#4a0808" stroke-width="3.90" stroke-opacity="1.0" stroke-linecap="round"/><path d="M187.8 452.0h0M243.2 433.6h0" stroke="#5a0c0c" stroke-width="2.70" stroke-opacity="0.75" stroke-linecap="round"/><path d="M194.2 495.6h0M204.8 508.7h0M230.2 534.0h0M209.4 460.0h0M254.0 516.6h0M163.0 449.2h0" stroke="#3c0606" stroke-width="2.70" stroke-opacity="0.5" stroke-linecap="round"/><path d="M161.9 470.7h0M226.9 434.5h0M184.1 457.6h0" stroke="#4a0808" stroke-width="3.30" stroke-opacity="1.0" stroke-linecap="round"/><path d="M264.7 416.3h0M175.5 526.2h0" stroke="#5a0c0c" stroke-width="3.90" stroke-opacity="1.0" stroke-linecap="round"/><path d="M256.0 452.3h0M186.2 484.0h0M236.5 513.0h0M240.3 434.1h0M266.3 469.3h0M187.0 515.6h0M226.3 450.6h0" stroke="#661010" stroke-width="2.70" stroke-opacity="0.75" stroke-linecap="round"/><path d="M261.8 419.7h0" stroke="#3c0606" stroke-width="4.20" stroke-opacity="0.5" stroke-linecap="round"/><path d="M164.7 420.1h0M256.2 487.3h0M171.6 422.5h0M256.6 511.8h0" stroke="#3c0606" stroke-width="3.00" stroke-opacity="1.0" stroke-linecap="round"/><path d="M271.1 496.1h0" stroke="#5a0c0c" stroke-width="4.20" stroke-opacity="1.0" stroke-linecap="round"/><path d="M150.2 520.6h0M200.8 423.5h0M216.7 496.7h0" stroke="#5a0c0c" stroke-width="3.00" stroke-opacity="1.0" stroke-linecap="round"/><path d="M262.8 444.2h0M183.1 469.4h0M190.4 482.9h0M161.0 517.3h0M222.8 417.1h0M195.8 465.5h0M205.6 516.9h0" stroke="#3c0606" stroke-width="3.00" stroke-opacity="0.5" stroke-linecap="round"/><path d="M257.0 512.0h0M228.4 459.4h0M208.0 519.9h0" stroke="#5a0c0c" stroke-width="3.90" stroke-opacity="0.5" stroke-linecap="round"/><path d="M268.7 429.2h0M185.2 428.5h0M214.3 461.1h0M169.0 429.1h0" stroke="#5a0c0c" stroke-width="2.70" stroke-opacity="0.5" stroke-linecap="round"/><path d="M190.0 509.2h0M221.9 473.3h0M170.5 500.3h0M252.6 420.9h0" stroke="#5a0c0c" stroke-width="3.00" stroke-opacity="0.5" stroke-linecap="round"/><path d="M251.2 506.8h0" stroke="#661010" stroke-width="3.90" stroke-opacity="0.5" stroke-linecap="round"/><path d="M166.3 474.2h0M235.0 508.3h0" stroke="#661010" stroke-width="4.20" stroke-opacity="1.0" stroke-linecap="round"/><path d="M174.4 537.0h0M213.7 462.5h0M263.4 473.2h0" stroke="#661010" stroke-width="3.00" stroke-opacity="1.0" stroke-linecap="round"/><path d="M262.1 527.8h0" stroke="#3c0606" stroke-width="2.70" stroke-opacity="1.0" stroke-linecap="round"/><path d="M255.4 482.6h0M257.1 446.9h0" stroke="#661010" stroke-width="3.90" stroke-opacity="1.0" stroke-linecap="round"/><path d="M197.0 524.8h0" stroke="#4a0808" stroke-width="2.70" stroke-opacity="0.5" stroke-linecap="round"/><path d="M254.2 442.4h0" stroke="#5a0c0c" stroke-width="2.70" stroke-opacity="1.0" stroke-linecap="round"/><path d="M162.6 423.2h0" stroke="#661010" stroke-width="2.70" stroke-opacity="1.0" stroke-linecap="round"/><path d="M231.2 429.6h0" stroke="#4a0808" stroke-width="4.20" stroke-opacity="0.5" stroke-linecap="round"/><path d="M165.6 470.2h0" stroke="#3c0606" stroke-width="3.30" stroke-opacity="1.0" stroke-linecap="round"/></g>
<circle cx="193.8" cy="426.6" r="3.1" fill="#1c9a40" fill-opacity="0.6669237218731775" filter="url(#bl1)"/>
<circle cx="196.9" cy="427.7" r="3.9" fill="#1c9a40" fill-opacity="0.5460964673766453" filter="url(#bl1)"/>
<circle cx="195.7" cy="423.5" r="3.0" fill="#1c9a40" fill-opacity="0.6919145824299271" filter="url(#bl1)"/>
<circle cx="195.0" cy="425.3" r="3.7" fill="#1c9a40" fill-opacity="0.7384311959352188" filter="url(#bl1)"/>
<g><path d="M196.0,426.0 Q194.3,424.0 191.5,423.2" stroke="#20a040" stroke-width="0.8" stroke-opacity="0.8" fill="none"/><path d="M196.0,426.0 Q194.1,424.9 191.6,425.1" stroke="#20a040" stroke-width="0.8" stroke-opacity="0.8" fill="none"/><path d="M196.0,426.0 Q195.0,429.3 195.9,432.8" stroke="#20a040" stroke-width="0.8" stroke-opacity="0.8" fill="none"/><path d="M196.0,426.0 Q195.6,428.7 196.7,431.4" stroke="#20a040" stroke-width="0.8" stroke-opacity="0.8" fill="none"/><path d="M196.0,426.0 Q196.4,428.5 198.2,430.5" stroke="#20a040" stroke-width="0.8" stroke-opacity="0.8" fill="none"/></g>
<circle cx="235.8" cy="430.7" r="2.8" fill="#1c9a40" fill-opacity="0.6039038312698988" filter="url(#bl1)"/>
<circle cx="236.3" cy="431.3" r="2.8" fill="#1c9a40" fill-opacity="0.5507958474206153" filter="url(#bl1)"/>
<circle cx="237.7" cy="428.7" r="3.2" fill="#1c9a40" fill-opacity="0.5416233920791411" filter="url(#bl1)"/>
<circle cx="237.6" cy="427.5" r="3.5" fill="#1c9a40" fill-opacity="0.6201045823549995" filter="url(#bl1)"/>
<g><path d="M238.0,430.0 Q236.5,431.1 235.8,433.0" stroke="#20a040" stroke-width="0.8" stroke-opacity="0.8" fill="none"/><path d="M238.0,430.0 Q236.3,430.7 235.1,432.3" stroke="#20a040" stroke-width="0.8" stroke-opacity="0.8" fill="none"/><path d="M238.0,430.0 Q239.2,428.1 239.3,425.6" stroke="#20a040" stroke-width="0.8" stroke-opacity="0.8" fill="none"/><path d="M238.0,430.0 Q239.6,428.9 240.5,426.9" stroke="#20a040" stroke-width="0.8" stroke-opacity="0.8" fill="none"/><path d="M238.0,430.0 Q236.2,432.5 236.1,435.9" stroke="#20a040" stroke-width="0.8" stroke-opacity="0.8" fill="none"/></g>
<circle cx="155.8" cy="475.1" r="4.4" fill="#1c9a40" fill-opacity="0.6777271908197016" filter="url(#bl1)"/>
<circle cx="158.1" cy="474.0" r="4.8" fill="#1c9a40" fill-opacity="0.5253197612219159" filter="url(#bl1)"/>
<circle cx="153.7" cy="478.0" r="4.9" fill="#1c9a40" fill-opacity="0.6605742294175937" filter="url(#bl1)"/>
<circle cx="155.2" cy="471.6" r="4.0" fill="#1c9a40" fill-opacity="0.7008446420007478" filter="url(#bl1)"/>
<g><path d="M155.0,474.0 Q154.9,470.1 152.6,466.6" stroke="#20a040" stroke-width="0.8" stroke-opacity="0.8" fill="none"/><path d="M155.0,474.0 Q150.5,473.7 146.2,476.1" stroke="#20a040" stroke-width="0.8" stroke-opacity="0.8" fill="none"/><path d="M155.0,474.0 Q157.9,474.3 160.8,472.9" stroke="#20a040" stroke-width="0.8" stroke-opacity="0.8" fill="none"/><path d="M155.0,474.0 Q158.8,475.0 162.9,473.6" stroke="#20a040" stroke-width="0.8" stroke-opacity="0.8" fill="none"/><path d="M155.0,474.0 Q155.5,477.4 158.0,480.2" stroke="#20a040" stroke-width="0.8" stroke-opacity="0.8" fill="none"/></g>
<circle cx="215.1" cy="475.5" r="4.3" fill="#1c9a40" fill-opacity="0.5418432116604723" filter="url(#bl1)"/>
<circle cx="211.0" cy="476.4" r="5.2" fill="#1c9a40" fill-opacity="0.6179494341907487" filter="url(#bl1)"/>
<circle cx="211.2" cy="475.4" r="4.1" fill="#1c9a40" fill-opacity="0.6512000208318518" filter="url(#bl1)"/>
<circle cx="212.1" cy="473.3" r="3.7" fill="#1c9a40" fill-opacity="0.6977655627530474" filter="url(#bl1)"/>
<g><path d="M213.0,475.0 Q214.3,478.9 217.9,481.7" stroke="#20a040" stroke-width="0.8" stroke-opacity="0.8" fill="none"/><path d="M213.0,475.0 Q215.6,475.2 218.0,473.9" stroke="#20a040" stroke-width="0.8" stroke-opacity="0.8" fill="none"/><path d="M213.0,475.0 Q210.9,473.2 207.9,472.9" stroke="#20a040" stroke-width="0.8" stroke-opacity="0.8" fill="none"/><path d="M213.0,475.0 Q215.1,476.8 218.1,477.2" stroke="#20a040" stroke-width="0.8" stroke-opacity="0.8" fill="none"/><path d="M213.0,475.0 Q209.3,477.7 207.4,482.4" stroke="#20a040" stroke-width="0.8" stroke-opacity="0.8" fill="none"/></g>
<circle cx="227.1" cy="496.7" r="4.6" fill="#1c9a40" fill-opacity="0.5309946941941985" filter="url(#bl1)"/>
<circle cx="226.5" cy="493.5" r="3.6" fill="#1c9a40" fill-opacity="0.7389633097107718" filter="url(#bl1)"/>
<circle cx="228.2" cy="495.2" r="4.9" fill="#1c9a40" fill-opacity="0.6687540641796343" filter="url(#bl1)"/>
<circle cx="229.0" cy="491.3" r="3.3" fill="#1c9a40" fill-opacity="0.6508493269673716" filter="url(#bl1)"/>
<g><path d="M229.0,494.0 Q232.2,496.4 236.4,496.6" stroke="#20a040" stroke-width="0.8" stroke-opacity="0.8" fill="none"/><path d="M229.0,494.0 Q225.9,495.6 224.0,498.8" stroke="#20a040" stroke-width="0.8" stroke-opacity="0.8" fill="none"/><path d="M229.0,494.0 Q226.4,490.8 222.2,489.4" stroke="#20a040" stroke-width="0.8" stroke-opacity="0.8" fill="none"/><path d="M229.0,494.0 Q227.4,491.8 224.8,490.8" stroke="#20a040" stroke-width="0.8" stroke-opacity="0.8" fill="none"/><path d="M229.0,494.0 Q232.0,494.6 235.1,493.5" stroke="#20a040" stroke-width="0.8" stroke-opacity="0.8" fill="none"/></g>
<circle cx="239.9" cy="465.2" r="3.3" fill="#1c9a40" fill-opacity="0.6032280135674373" filter="url(#bl1)"/>
<circle cx="240.0" cy="464.5" r="3.5" fill="#1c9a40" fill-opacity="0.72125024942829" filter="url(#bl1)"/>
<circle cx="243.7" cy="463.8" r="3.2" fill="#1c9a40" fill-opacity="0.6349355309833772" filter="url(#bl1)"/>
<circle cx="243.3" cy="461.9" r="4.0" fill="#1c9a40" fill-opacity="0.7317305754391945" filter="url(#bl1)"/>
<g><path d="M241.0,464.0 Q239.4,467.1 239.7,470.9" stroke="#20a040" stroke-width="0.8" stroke-opacity="0.8" fill="none"/><path d="M241.0,464.0 Q243.7,464.2 246.3,462.7" stroke="#20a040" stroke-width="0.8" stroke-opacity="0.8" fill="none"/><path d="M241.0,464.0 Q242.7,462.3 243.2,459.7" stroke="#20a040" stroke-width="0.8" stroke-opacity="0.8" fill="none"/><path d="M241.0,464.0 Q242.9,461.4 243.1,457.9" stroke="#20a040" stroke-width="0.8" stroke-opacity="0.8" fill="none"/><path d="M241.0,464.0 Q243.8,463.6 246.2,461.6" stroke="#20a040" stroke-width="0.8" stroke-opacity="0.8" fill="none"/></g>
<circle cx="250.7" cy="453.8" r="2.7" fill="#1c9a40" fill-opacity="0.5368321340633625" filter="url(#bl1)"/>
<circle cx="252.5" cy="455.7" r="2.4" fill="#1c9a40" fill-opacity="0.6558125038147241" filter="url(#bl1)"/>
<circle cx="250.5" cy="453.7" r="2.4" fill="#1c9a40" fill-opacity="0.6581168981439298" filter="url(#bl1)"/>
<circle cx="252.6" cy="456.1" r="2.8" fill="#1c9a40" fill-opacity="0.6684642490317663" filter="url(#bl1)"/>
<g><path d="M252.0,455.0 Q250.8,456.6 250.7,458.8" stroke="#20a040" stroke-width="0.8" stroke-opacity="0.8" fill="none"/><path d="M252.0,455.0 Q253.5,454.7 254.8,453.6" stroke="#20a040" stroke-width="0.8" stroke-opacity="0.8" fill="none"/><path d="M252.0,455.0 Q250.6,453.7 248.5,453.4" stroke="#20a040" stroke-width="0.8" stroke-opacity="0.8" fill="none"/><path d="M252.0,455.0 Q253.5,453.2 253.7,450.8" stroke="#20a040" stroke-width="0.8" stroke-opacity="0.8" fill="none"/><path d="M252.0,455.0 Q253.4,453.4 253.8,451.0" stroke="#20a040" stroke-width="0.8" stroke-opacity="0.8" fill="none"/></g>
<circle cx="254.0" cy="482.8" r="4.7" fill="#1c9a40" fill-opacity="0.6493133444524406" filter="url(#bl1)"/>
<circle cx="252.6" cy="482.0" r="3.5" fill="#1c9a40" fill-opacity="0.737019191439306" filter="url(#bl1)"/>
<circle cx="256.5" cy="482.4" r="4.2" fill="#1c9a40" fill-opacity="0.5815098540849315" filter="url(#bl1)"/>
<circle cx="254.3" cy="483.4" r="3.9" fill="#1c9a40" fill-opacity="0.6219767531944322" filter="url(#bl1)"/>
<g><path d="M255.0,485.0 Q253.6,487.2 253.6,490.0" stroke="#20a040" stroke-width="0.8" stroke-opacity="0.8" fill="none"/><path d="M255.0,485.0 Q257.4,486.3 260.4,486.0" stroke="#20a040" stroke-width="0.8" stroke-opacity="0.8" fill="none"/><path d="M255.0,485.0 Q251.9,486.0 249.7,488.6" stroke="#20a040" stroke-width="0.8" stroke-opacity="0.8" fill="none"/><path d="M255.0,485.0 Q256.6,487.0 259.3,487.9" stroke="#20a040" stroke-width="0.8" stroke-opacity="0.8" fill="none"/><path d="M255.0,485.0 Q253.9,487.1 254.2,489.6" stroke="#20a040" stroke-width="0.8" stroke-opacity="0.8" fill="none"/></g>
<circle cx="266.7" cy="467.8" r="3.5" fill="#1c9a40" fill-opacity="0.526709573506011" filter="url(#bl1)"/>
<circle cx="263.7" cy="467.9" r="3.2" fill="#1c9a40" fill-opacity="0.7215571825132653" filter="url(#bl1)"/>
<circle cx="262.8" cy="470.4" r="3.8" fill="#1c9a40" fill-opacity="0.7469908331940589" filter="url(#bl1)"/>
<circle cx="266.0" cy="468.4" r="3.6" fill="#1c9a40" fill-opacity="0.7038544036942201" filter="url(#bl1)"/>
<g><path d="M265.0,469.0 Q264.5,465.4 261.9,462.5" stroke="#20a040" stroke-width="0.8" stroke-opacity="0.8" fill="none"/><path d="M265.0,469.0 Q265.9,470.7 267.7,471.6" stroke="#20a040" stroke-width="0.8" stroke-opacity="0.8" fill="none"/><path d="M265.0,469.0 Q264.3,471.0 264.9,473.3" stroke="#20a040" stroke-width="0.8" stroke-opacity="0.8" fill="none"/><path d="M265.0,469.0 Q263.7,471.1 263.8,473.8" stroke="#20a040" stroke-width="0.8" stroke-opacity="0.8" fill="none"/><path d="M265.0,469.0 Q266.8,468.7 268.3,467.4" stroke="#20a040" stroke-width="0.8" stroke-opacity="0.8" fill="none"/></g>
<circle cx="220.8" cy="509.6" r="3.5" fill="#1c9a40" fill-opacity="0.5796138139558682" filter="url(#bl1)"/>
<circle cx="223.7" cy="511.3" r="3.1" fill="#1c9a40" fill-opacity="0.6346057865694208" filter="url(#bl1)"/>
<circle cx="220.4" cy="512.5" r="3.2" fill="#1c9a40" fill-opacity="0.7284825794628258" filter="url(#bl1)"/>
<circle cx="224.0" cy="513.2" r="3.4" fill="#1c9a40" fill-opacity="0.545496847333344" filter="url(#bl1)"/>
<g><path d="M222.0,511.0 Q219.9,510.8 217.9,511.8" stroke="#20a040" stroke-width="0.8" stroke-opacity="0.8" fill="none"/><path d="M222.0,511.0 Q218.7,512.0 216.3,514.8" stroke="#20a040" stroke-width="0.8" stroke-opacity="0.8" fill="none"/><path d="M222.0,511.0 Q222.7,507.9 221.6,504.7" stroke="#20a040" stroke-width="0.8" stroke-opacity="0.8" fill="none"/><path d="M222.0,511.0 Q220.4,513.6 220.5,516.9" stroke="#20a040" stroke-width="0.8" stroke-opacity="0.8" fill="none"/><path d="M222.0,511.0 Q219.2,510.3 216.3,511.4" stroke="#20a040" stroke-width="0.8" stroke-opacity="0.8" fill="none"/></g>
<circle cx="163.1" cy="518.2" r="3.8" fill="#1c9a40" fill-opacity="0.586329838263258" filter="url(#bl1)"/>
<circle cx="163.3" cy="515.3" r="2.7" fill="#1c9a40" fill-opacity="0.5949523994539243" filter="url(#bl1)"/>
<circle cx="161.2" cy="516.4" r="4.0" fill="#1c9a40" fill-opacity="0.6861918759452491" filter="url(#bl1)"/>
<circle cx="163.7" cy="515.7" r="2.7" fill="#1c9a40" fill-opacity="0.658221057312486" filter="url(#bl1)"/>
<g><path d="M162.0,517.0 Q164.0,518.5 166.7,518.6" stroke="#20a040" stroke-width="0.8" stroke-opacity="0.8" fill="none"/><path d="M162.0,517.0 Q162.0,514.5 160.6,512.2" stroke="#20a040" stroke-width="0.8" stroke-opacity="0.8" fill="none"/><path d="M162.0,517.0 Q159.9,514.7 156.7,513.7" stroke="#20a040" stroke-width="0.8" stroke-opacity="0.8" fill="none"/><path d="M162.0,517.0 Q159.7,516.7 157.5,517.8" stroke="#20a040" stroke-width="0.8" stroke-opacity="0.8" fill="none"/><path d="M162.0,517.0 Q161.4,519.8 162.4,522.7" stroke="#20a040" stroke-width="0.8" stroke-opacity="0.8" fill="none"/></g>
<circle cx="159.1" cy="495.5" r="1.9" fill="#1c9a40" fill-opacity="0.6910778947709397" filter="url(#bl1)"/>
<circle cx="162.7" cy="495.6" r="2.1" fill="#1c9a40" fill-opacity="0.6868150688771535" filter="url(#bl1)"/>
<circle cx="162.3" cy="497.3" r="2.0" fill="#1c9a40" fill-opacity="0.5879286242502171" filter="url(#bl1)"/>
<circle cx="161.6" cy="495.4" r="2.5" fill="#1c9a40" fill-opacity="0.7062006747274695" filter="url(#bl1)"/>
<g><path d="M161.0,496.0 Q161.5,498.3 163.3,500.1" stroke="#20a040" stroke-width="0.8" stroke-opacity="0.8" fill="none"/><path d="M161.0,496.0 Q161.3,494.5 160.7,492.9" stroke="#20a040" stroke-width="0.8" stroke-opacity="0.8" fill="none"/><path d="M161.0,496.0 Q160.3,494.2 158.6,492.9" stroke="#20a040" stroke-width="0.8" stroke-opacity="0.8" fill="none"/><path d="M161.0,496.0 Q162.5,495.8 163.8,494.7" stroke="#20a040" stroke-width="0.8" stroke-opacity="0.8" fill="none"/><path d="M161.0,496.0 Q162.5,496.6 164.2,496.4" stroke="#20a040" stroke-width="0.8" stroke-opacity="0.8" fill="none"/></g>
<circle cx="245.7" cy="527.3" r="1.7" fill="#1c9a40" fill-opacity="0.5462773791415906" filter="url(#bl1)"/>
<circle cx="247.9" cy="527.7" r="2.2" fill="#1c9a40" fill-opacity="0.5305044011472791" filter="url(#bl1)"/>
<circle cx="245.4" cy="527.3" r="1.7" fill="#1c9a40" fill-opacity="0.5340313477392797" filter="url(#bl1)"/>
<circle cx="246.3" cy="527.2" r="1.5" fill="#1c9a40" fill-opacity="0.6290972294002446" filter="url(#bl1)"/>
<g><path d="M247.0,528.0 Q248.3,526.9 248.9,525.1" stroke="#20a040" stroke-width="0.8" stroke-opacity="0.8" fill="none"/><path d="M247.0,528.0 Q245.7,528.1 244.6,528.9" stroke="#20a040" stroke-width="0.8" stroke-opacity="0.8" fill="none"/><path d="M247.0,528.0 Q247.4,529.7 248.8,530.9" stroke="#20a040" stroke-width="0.8" stroke-opacity="0.8" fill="none"/><path d="M247.0,528.0 Q246.1,529.5 246.2,531.4" stroke="#20a040" stroke-width="0.8" stroke-opacity="0.8" fill="none"/><path d="M247.0,528.0 Q247.4,526.4 246.9,524.7" stroke="#20a040" stroke-width="0.8" stroke-opacity="0.8" fill="none"/></g>
<circle cx="206.0" cy="433.0" r="4.2" fill="#c84a18" fill-opacity="0.6" filter="url(#bl2)"/>
<g><path d="M206.0,433.0 Q208.0,432.5 209.5,430.9" stroke="#e8641e" stroke-width="1.1" stroke-opacity="0.9" fill="none"/><path d="M206.0,433.0 Q204.1,432.0 201.8,432.3" stroke="#e8641e" stroke-width="1.1" stroke-opacity="0.9" fill="none"/><path d="M206.0,433.0 Q205.5,431.3 204.0,430.2" stroke="#e8641e" stroke-width="1.1" stroke-opacity="0.9" fill="none"/><path d="M206.0,433.0 Q208.4,434.0 211.1,433.4" stroke="#e8641e" stroke-width="1.1" stroke-opacity="0.9" fill="none"/><path d="M206.0,433.0 Q205.9,434.7 206.7,436.3" stroke="#e8641e" stroke-width="1.1" stroke-opacity="0.9" fill="none"/><path d="M206.0,433.0 Q207.8,432.0 208.9,430.0" stroke="#e8641e" stroke-width="1.1" stroke-opacity="0.9" fill="none"/><path d="M206.0,433.0 Q203.3,433.8 201.3,436.1" stroke="#e8641e" stroke-width="1.1" stroke-opacity="0.9" fill="none"/></g>
<circle cx="236.0" cy="428.0" r="4.2" fill="#c84a18" fill-opacity="0.6" filter="url(#bl2)"/>
<g><path d="M236.0,428.0 Q236.7,425.6 235.8,423.1" stroke="#e8641e" stroke-width="1.1" stroke-opacity="0.9" fill="none"/><path d="M236.0,428.0 Q233.0,428.4 230.6,430.6" stroke="#e8641e" stroke-width="1.1" stroke-opacity="0.9" fill="none"/><path d="M236.0,428.0 Q235.8,426.4 234.8,425.1" stroke="#e8641e" stroke-width="1.1" stroke-opacity="0.9" fill="none"/><path d="M236.0,428.0 Q237.4,426.7 238.0,424.7" stroke="#e8641e" stroke-width="1.1" stroke-opacity="0.9" fill="none"/><path d="M236.0,428.0 Q235.2,429.4 235.4,431.2" stroke="#e8641e" stroke-width="1.1" stroke-opacity="0.9" fill="none"/><path d="M236.0,428.0 Q238.7,427.7 241.0,425.9" stroke="#e8641e" stroke-width="1.1" stroke-opacity="0.9" fill="none"/><path d="M236.0,428.0 Q238.0,428.6 240.2,427.9" stroke="#e8641e" stroke-width="1.1" stroke-opacity="0.9" fill="none"/></g>
<circle cx="260.0" cy="425.0" r="3.5" fill="#c84a18" fill-opacity="0.6" filter="url(#bl2)"/>
<g><path d="M260.0,425.0 Q260.8,423.5 260.6,421.6" stroke="#e8641e" stroke-width="1.1" stroke-opacity="0.9" fill="none"/><path d="M260.0,425.0 Q260.4,427.3 262.1,429.1" stroke="#e8641e" stroke-width="1.1" stroke-opacity="0.9" fill="none"/><path d="M260.0,425.0 Q259.9,422.9 258.6,421.0" stroke="#e8641e" stroke-width="1.1" stroke-opacity="0.9" fill="none"/><path d="M260.0,425.0 Q259.7,423.7 258.8,422.7" stroke="#e8641e" stroke-width="1.1" stroke-opacity="0.9" fill="none"/><path d="M260.0,425.0 Q258.8,424.2 257.3,424.3" stroke="#e8641e" stroke-width="1.1" stroke-opacity="0.9" fill="none"/><path d="M260.0,425.0 Q260.9,423.4 260.7,421.3" stroke="#e8641e" stroke-width="1.1" stroke-opacity="0.9" fill="none"/><path d="M260.0,425.0 Q260.7,426.7 262.3,427.9" stroke="#e8641e" stroke-width="1.1" stroke-opacity="0.9" fill="none"/></g>
<circle cx="150.0" cy="465.0" r="3.5" fill="#c84a18" fill-opacity="0.6" filter="url(#bl2)"/>
<g><path d="M150.0,465.0 Q148.9,465.9 148.5,467.4" stroke="#e8641e" stroke-width="1.1" stroke-opacity="0.9" fill="none"/><path d="M150.0,465.0 Q150.7,467.1 152.7,468.6" stroke="#e8641e" stroke-width="1.1" stroke-opacity="0.9" fill="none"/><path d="M150.0,465.0 Q148.6,466.6 148.2,468.9" stroke="#e8641e" stroke-width="1.1" stroke-opacity="0.9" fill="none"/><path d="M150.0,465.0 Q150.8,463.7 150.8,462.0" stroke="#e8641e" stroke-width="1.1" stroke-opacity="0.9" fill="none"/><path d="M150.0,465.0 Q149.9,463.5 148.9,462.1" stroke="#e8641e" stroke-width="1.1" stroke-opacity="0.9" fill="none"/><path d="M150.0,465.0 Q150.5,466.4 151.7,467.5" stroke="#e8641e" stroke-width="1.1" stroke-opacity="0.9" fill="none"/><path d="M150.0,465.0 Q148.3,466.1 147.4,468.2" stroke="#e8641e" stroke-width="1.1" stroke-opacity="0.9" fill="none"/></g>
<circle cx="202.0" cy="474.0" r="3.5" fill="#c84a18" fill-opacity="0.6" filter="url(#bl2)"/>
<g><path d="M202.0,474.0 Q200.7,475.1 200.1,476.9" stroke="#e8641e" stroke-width="1.1" stroke-opacity="0.9" fill="none"/><path d="M202.0,474.0 Q200.4,474.9 199.5,476.6" stroke="#e8641e" stroke-width="1.1" stroke-opacity="0.9" fill="none"/><path d="M202.0,474.0 Q204.2,474.6 206.6,473.9" stroke="#e8641e" stroke-width="1.1" stroke-opacity="0.9" fill="none"/><path d="M202.0,474.0 Q203.5,475.7 205.8,476.4" stroke="#e8641e" stroke-width="1.1" stroke-opacity="0.9" fill="none"/><path d="M202.0,474.0 Q202.7,475.3 204.2,476.1" stroke="#e8641e" stroke-width="1.1" stroke-opacity="0.9" fill="none"/><path d="M202.0,474.0 Q201.0,472.5 199.3,471.7" stroke="#e8641e" stroke-width="1.1" stroke-opacity="0.9" fill="none"/><path d="M202.0,474.0 Q201.1,476.1 201.6,478.5" stroke="#e8641e" stroke-width="1.1" stroke-opacity="0.9" fill="none"/></g>
<circle cx="236.0" cy="482.0" r="5.6" fill="#c84a18" fill-opacity="0.6" filter="url(#bl2)"/>
<g><path d="M236.0,482.0 Q235.1,485.6 236.5,489.3" stroke="#e8641e" stroke-width="1.1" stroke-opacity="0.9" fill="none"/><path d="M236.0,482.0 Q233.9,481.7 231.9,482.7" stroke="#e8641e" stroke-width="1.1" stroke-opacity="0.9" fill="none"/><path d="M236.0,482.0 Q239.8,481.5 243.1,478.9" stroke="#e8641e" stroke-width="1.1" stroke-opacity="0.9" fill="none"/><path d="M236.0,482.0 Q235.2,485.4 236.5,489.0" stroke="#e8641e" stroke-width="1.1" stroke-opacity="0.9" fill="none"/><path d="M236.0,482.0 Q236.2,478.7 234.4,475.7" stroke="#e8641e" stroke-width="1.1" stroke-opacity="0.9" fill="none"/><path d="M236.0,482.0 Q232.9,481.5 229.8,482.8" stroke="#e8641e" stroke-width="1.1" stroke-opacity="0.9" fill="none"/><path d="M236.0,482.0 Q233.9,480.7 231.1,480.8" stroke="#e8641e" stroke-width="1.1" stroke-opacity="0.9" fill="none"/></g>
<circle cx="258.0" cy="473.0" r="5.6" fill="#c84a18" fill-opacity="0.6" filter="url(#bl2)"/>
<g><path d="M258.0,473.0 Q254.6,472.2 251.0,473.5" stroke="#e8641e" stroke-width="1.1" stroke-opacity="0.9" fill="none"/><path d="M258.0,473.0 Q256.2,474.1 255.1,476.1" stroke="#e8641e" stroke-width="1.1" stroke-opacity="0.9" fill="none"/><path d="M258.0,473.0 Q259.1,476.1 261.8,478.3" stroke="#e8641e" stroke-width="1.1" stroke-opacity="0.9" fill="none"/><path d="M258.0,473.0 Q254.6,472.4 251.3,473.9" stroke="#e8641e" stroke-width="1.1" stroke-opacity="0.9" fill="none"/><path d="M258.0,473.0 Q256.0,474.2 254.8,476.4" stroke="#e8641e" stroke-width="1.1" stroke-opacity="0.9" fill="none"/><path d="M258.0,473.0 Q261.6,472.6 264.6,470.2" stroke="#e8641e" stroke-width="1.1" stroke-opacity="0.9" fill="none"/><path d="M258.0,473.0 Q254.7,472.9 251.6,474.8" stroke="#e8641e" stroke-width="1.1" stroke-opacity="0.9" fill="none"/></g>
<circle cx="214.0" cy="452.0" r="2.8" fill="#c84a18" fill-opacity="0.6" filter="url(#bl2)"/>
<g><path d="M214.0,452.0 Q215.3,451.0 215.9,449.3" stroke="#e8641e" stroke-width="1.1" stroke-opacity="0.9" fill="none"/><path d="M214.0,452.0 Q213.3,452.7 213.1,453.8" stroke="#e8641e" stroke-width="1.1" stroke-opacity="0.9" fill="none"/><path d="M214.0,452.0 Q213.6,450.4 212.3,449.2" stroke="#e8641e" stroke-width="1.1" stroke-opacity="0.9" fill="none"/><path d="M214.0,452.0 Q215.1,452.1 216.1,451.6" stroke="#e8641e" stroke-width="1.1" stroke-opacity="0.9" fill="none"/><path d="M214.0,452.0 Q214.6,453.0 215.8,453.5" stroke="#e8641e" stroke-width="1.1" stroke-opacity="0.9" fill="none"/><path d="M214.0,452.0 Q214.3,450.4 213.6,448.8" stroke="#e8641e" stroke-width="1.1" stroke-opacity="0.9" fill="none"/><path d="M214.0,452.0 Q214.9,451.4 215.4,450.4" stroke="#e8641e" stroke-width="1.1" stroke-opacity="0.9" fill="none"/></g>
<circle cx="188.0" cy="474.0" r="3.5" fill="#c84a18" fill-opacity="0.6" filter="url(#bl2)"/>
<g><path d="M188.0,474.0 Q188.8,476.2 190.9,477.7" stroke="#e8641e" stroke-width="1.1" stroke-opacity="0.9" fill="none"/><path d="M188.0,474.0 Q185.8,473.0 183.2,473.4" stroke="#e8641e" stroke-width="1.1" stroke-opacity="0.9" fill="none"/><path d="M188.0,474.0 Q186.1,472.6 183.5,472.5" stroke="#e8641e" stroke-width="1.1" stroke-opacity="0.9" fill="none"/><path d="M188.0,474.0 Q186.6,472.5 184.4,472.0" stroke="#e8641e" stroke-width="1.1" stroke-opacity="0.9" fill="none"/><path d="M188.0,474.0 Q187.3,475.4 187.5,477.1" stroke="#e8641e" stroke-width="1.1" stroke-opacity="0.9" fill="none"/><path d="M188.0,474.0 Q186.8,472.3 184.8,471.4" stroke="#e8641e" stroke-width="1.1" stroke-opacity="0.9" fill="none"/><path d="M188.0,474.0 Q190.4,473.6 192.4,471.8" stroke="#e8641e" stroke-width="1.1" stroke-opacity="0.9" fill="none"/></g>
<circle cx="200.0" cy="473.0" r="2.8" fill="#c84a18" fill-opacity="0.6" filter="url(#bl2)"/>
<g><path d="M200.0,473.0 Q200.1,474.4 201.1,475.7" stroke="#e8641e" stroke-width="1.1" stroke-opacity="0.9" fill="none"/><path d="M200.0,473.0 Q200.3,471.5 199.7,470.0" stroke="#e8641e" stroke-width="1.1" stroke-opacity="0.9" fill="none"/><path d="M200.0,473.0 Q198.5,473.9 197.7,475.7" stroke="#e8641e" stroke-width="1.1" stroke-opacity="0.9" fill="none"/><path d="M200.0,473.0 Q199.9,471.1 198.6,469.4" stroke="#e8641e" stroke-width="1.1" stroke-opacity="0.9" fill="none"/><path d="M200.0,473.0 Q200.9,473.8 202.3,474.1" stroke="#e8641e" stroke-width="1.1" stroke-opacity="0.9" fill="none"/><path d="M200.0,473.0 Q200.4,471.8 200.0,470.5" stroke="#e8641e" stroke-width="1.1" stroke-opacity="0.9" fill="none"/><path d="M200.0,473.0 Q198.4,473.5 197.2,475.0" stroke="#e8641e" stroke-width="1.1" stroke-opacity="0.9" fill="none"/></g>
<circle cx="232.0" cy="481.0" r="3.5" fill="#c84a18" fill-opacity="0.6" filter="url(#bl2)"/>
<g><path d="M232.0,481.0 Q231.1,479.2 229.1,478.0" stroke="#e8641e" stroke-width="1.1" stroke-opacity="0.9" fill="none"/><path d="M232.0,481.0 Q230.0,480.2 227.6,480.6" stroke="#e8641e" stroke-width="1.1" stroke-opacity="0.9" fill="none"/><path d="M232.0,481.0 Q232.7,482.5 234.3,483.4" stroke="#e8641e" stroke-width="1.1" stroke-opacity="0.9" fill="none"/><path d="M232.0,481.0 Q233.4,481.9 235.3,481.8" stroke="#e8641e" stroke-width="1.1" stroke-opacity="0.9" fill="none"/><path d="M232.0,481.0 Q234.4,480.5 236.3,478.6" stroke="#e8641e" stroke-width="1.1" stroke-opacity="0.9" fill="none"/><path d="M232.0,481.0 Q233.5,480.4 234.4,479.0" stroke="#e8641e" stroke-width="1.1" stroke-opacity="0.9" fill="none"/><path d="M232.0,481.0 Q231.2,482.3 231.2,484.0" stroke="#e8641e" stroke-width="1.1" stroke-opacity="0.9" fill="none"/></g>
<circle cx="187.0" cy="473.0" r="2.8" fill="#c84a18" fill-opacity="0.6" filter="url(#bl2)"/>
<g><path d="M187.0,473.0 Q187.9,471.9 188.1,470.3" stroke="#e8641e" stroke-width="1.1" stroke-opacity="0.9" fill="none"/><path d="M187.0,473.0 Q185.9,472.9 184.8,473.5" stroke="#e8641e" stroke-width="1.1" stroke-opacity="0.9" fill="none"/><path d="M187.0,473.0 Q188.1,473.1 189.2,472.6" stroke="#e8641e" stroke-width="1.1" stroke-opacity="0.9" fill="none"/><path d="M187.0,473.0 Q185.7,473.6 184.9,475.0" stroke="#e8641e" stroke-width="1.1" stroke-opacity="0.9" fill="none"/><path d="M187.0,473.0 Q187.0,474.1 187.6,475.0" stroke="#e8641e" stroke-width="1.1" stroke-opacity="0.9" fill="none"/><path d="M187.0,473.0 Q187.5,471.3 186.9,469.4" stroke="#e8641e" stroke-width="1.1" stroke-opacity="0.9" fill="none"/><path d="M187.0,473.0 Q186.1,474.2 185.9,475.8" stroke="#e8641e" stroke-width="1.1" stroke-opacity="0.9" fill="none"/></g>
<circle cx="203.0" cy="515.0" r="2.8" fill="#c84a18" fill-opacity="0.6" filter="url(#bl2)"/>
<g><path d="M203.0,515.0 Q203.6,515.8 204.6,516.2" stroke="#e8641e" stroke-width="1.1" stroke-opacity="0.9" fill="none"/><path d="M203.0,515.0 Q204.0,516.2 205.7,516.8" stroke="#e8641e" stroke-width="1.1" stroke-opacity="0.9" fill="none"/><path d="M203.0,515.0 Q204.6,514.1 205.6,512.4" stroke="#e8641e" stroke-width="1.1" stroke-opacity="0.9" fill="none"/><path d="M203.0,515.0 Q202.9,516.6 203.8,518.2" stroke="#e8641e" stroke-width="1.1" stroke-opacity="0.9" fill="none"/><path d="M203.0,515.0 Q204.5,514.6 205.7,513.3" stroke="#e8641e" stroke-width="1.1" stroke-opacity="0.9" fill="none"/><path d="M203.0,515.0 Q201.9,515.7 201.4,516.9" stroke="#e8641e" stroke-width="1.1" stroke-opacity="0.9" fill="none"/><path d="M203.0,515.0 Q201.7,513.9 199.8,513.6" stroke="#e8641e" stroke-width="1.1" stroke-opacity="0.9" fill="none"/></g>
<circle cx="154.0" cy="511.0" r="3.5" fill="#c84a18" fill-opacity="0.6" filter="url(#bl2)"/>
<g><path d="M154.0,511.0 Q151.6,511.4 149.6,513.1" stroke="#e8641e" stroke-width="1.1" stroke-opacity="0.9" fill="none"/><path d="M154.0,511.0 Q155.6,512.5 157.9,512.9" stroke="#e8641e" stroke-width="1.1" stroke-opacity="0.9" fill="none"/><path d="M154.0,511.0 Q154.2,508.9 153.1,506.8" stroke="#e8641e" stroke-width="1.1" stroke-opacity="0.9" fill="none"/><path d="M154.0,511.0 Q154.9,512.4 156.6,513.1" stroke="#e8641e" stroke-width="1.1" stroke-opacity="0.9" fill="none"/><path d="M154.0,511.0 Q155.3,511.4 156.7,511.0" stroke="#e8641e" stroke-width="1.1" stroke-opacity="0.9" fill="none"/><path d="M154.0,511.0 Q152.8,510.5 151.4,510.8" stroke="#e8641e" stroke-width="1.1" stroke-opacity="0.9" fill="none"/><path d="M154.0,511.0 Q153.8,513.0 154.7,514.9" stroke="#e8641e" stroke-width="1.1" stroke-opacity="0.9" fill="none"/></g>
<circle cx="258.0" cy="497.0" r="3.5" fill="#c84a18" fill-opacity="0.6" filter="url(#bl2)"/>
<g><path d="M258.0,497.0 Q256.4,495.9 254.3,495.8" stroke="#e8641e" stroke-width="1.1" stroke-opacity="0.9" fill="none"/><path d="M258.0,497.0 Q256.8,498.7 256.7,501.0" stroke="#e8641e" stroke-width="1.1" stroke-opacity="0.9" fill="none"/><path d="M258.0,497.0 Q259.4,496.2 260.1,494.7" stroke="#e8641e" stroke-width="1.1" stroke-opacity="0.9" fill="none"/><path d="M258.0,497.0 Q256.7,496.0 255.0,495.8" stroke="#e8641e" stroke-width="1.1" stroke-opacity="0.9" fill="none"/><path d="M258.0,497.0 Q256.0,497.8 254.7,499.7" stroke="#e8641e" stroke-width="1.1" stroke-opacity="0.9" fill="none"/><path d="M258.0,497.0 Q257.4,498.2 257.6,499.7" stroke="#e8641e" stroke-width="1.1" stroke-opacity="0.9" fill="none"/><path d="M258.0,497.0 Q256.0,495.7 253.4,495.7" stroke="#e8641e" stroke-width="1.1" stroke-opacity="0.9" fill="none"/></g>
<circle cx="249.0" cy="479.0" r="3.5" fill="#c84a18" fill-opacity="0.6" filter="url(#bl2)"/>
<g><path d="M249.0,479.0 Q248.1,476.7 245.9,475.2" stroke="#e8641e" stroke-width="1.1" stroke-opacity="0.9" fill="none"/><path d="M249.0,479.0 Q248.8,480.9 249.7,482.8" stroke="#e8641e" stroke-width="1.1" stroke-opacity="0.9" fill="none"/><path d="M249.0,479.0 Q247.2,479.8 246.0,481.5" stroke="#e8641e" stroke-width="1.1" stroke-opacity="0.9" fill="none"/><path d="M249.0,479.0 Q247.6,477.9 245.7,477.7" stroke="#e8641e" stroke-width="1.1" stroke-opacity="0.9" fill="none"/><path d="M249.0,479.0 Q250.5,478.0 251.2,476.2" stroke="#e8641e" stroke-width="1.1" stroke-opacity="0.9" fill="none"/><path d="M249.0,479.0 Q250.3,477.4 250.5,475.1" stroke="#e8641e" stroke-width="1.1" stroke-opacity="0.9" fill="none"/><path d="M249.0,479.0 Q248.9,477.6 247.9,476.4" stroke="#e8641e" stroke-width="1.1" stroke-opacity="0.9" fill="none"/></g>
<circle cx="220.0" cy="481.0" r="2.8" fill="#c84a18" fill-opacity="0.6" filter="url(#bl2)"/>
<g><path d="M220.0,481.0 Q218.1,480.7 216.2,481.5" stroke="#e8641e" stroke-width="1.1" stroke-opacity="0.9" fill="none"/><path d="M220.0,481.0 Q219.8,480.0 219.0,479.3" stroke="#e8641e" stroke-width="1.1" stroke-opacity="0.9" fill="none"/><path d="M220.0,481.0 Q218.6,481.5 217.7,482.8" stroke="#e8641e" stroke-width="1.1" stroke-opacity="0.9" fill="none"/><path d="M220.0,481.0 Q219.5,482.2 219.8,483.5" stroke="#e8641e" stroke-width="1.1" stroke-opacity="0.9" fill="none"/><path d="M220.0,481.0 Q219.8,479.1 218.4,477.5" stroke="#e8641e" stroke-width="1.1" stroke-opacity="0.9" fill="none"/><path d="M220.0,481.0 Q218.8,480.3 217.3,480.3" stroke="#e8641e" stroke-width="1.1" stroke-opacity="0.9" fill="none"/><path d="M220.0,481.0 Q218.9,482.6 218.8,484.6" stroke="#e8641e" stroke-width="1.1" stroke-opacity="0.9" fill="none"/></g>
<circle cx="202.0" cy="516.0" r="2.8" fill="#c84a18" fill-opacity="0.6" filter="url(#bl2)"/>
<g><path d="M202.0,516.0 Q203.6,515.6 204.9,514.3" stroke="#e8641e" stroke-width="1.1" stroke-opacity="0.9" fill="none"/><path d="M202.0,516.0 Q200.8,516.0 199.6,516.7" stroke="#e8641e" stroke-width="1.1" stroke-opacity="0.9" fill="none"/><path d="M202.0,516.0 Q200.9,515.8 199.7,516.3" stroke="#e8641e" stroke-width="1.1" stroke-opacity="0.9" fill="none"/><path d="M202.0,516.0 Q202.9,515.4 203.4,514.3" stroke="#e8641e" stroke-width="1.1" stroke-opacity="0.9" fill="none"/><path d="M202.0,516.0 Q201.9,517.4 202.6,518.8" stroke="#e8641e" stroke-width="1.1" stroke-opacity="0.9" fill="none"/><path d="M202.0,516.0 Q203.1,515.6 203.8,514.7" stroke="#e8641e" stroke-width="1.1" stroke-opacity="0.9" fill="none"/><path d="M202.0,516.0 Q200.2,515.5 198.4,516.2" stroke="#e8641e" stroke-width="1.1" stroke-opacity="0.9" fill="none"/></g>
<circle cx="240.0" cy="504.0" r="2.8" fill="#c84a18" fill-opacity="0.6" filter="url(#bl2)"/>
<g><path d="M240.0,504.0 Q238.4,504.4 237.2,505.8" stroke="#e8641e" stroke-width="1.1" stroke-opacity="0.9" fill="none"/><path d="M240.0,504.0 Q241.3,502.6 241.7,500.5" stroke="#e8641e" stroke-width="1.1" stroke-opacity="0.9" fill="none"/><path d="M240.0,504.0 Q238.6,504.5 237.6,505.7" stroke="#e8641e" stroke-width="1.1" stroke-opacity="0.9" fill="none"/><path d="M240.0,504.0 Q238.5,503.6 236.8,504.1" stroke="#e8641e" stroke-width="1.1" stroke-opacity="0.9" fill="none"/><path d="M240.0,504.0 Q241.2,502.7 241.5,500.9" stroke="#e8641e" stroke-width="1.1" stroke-opacity="0.9" fill="none"/><path d="M240.0,504.0 Q241.1,503.1 241.5,501.6" stroke="#e8641e" stroke-width="1.1" stroke-opacity="0.9" fill="none"/><path d="M240.0,504.0 Q239.9,502.6 239.1,501.3" stroke="#e8641e" stroke-width="1.1" stroke-opacity="0.9" fill="none"/></g>
<circle cx="156.0" cy="497.0" r="2.8" fill="#c84a18" fill-opacity="0.6" filter="url(#bl2)"/>
<g><path d="M156.0,497.0 Q154.9,497.3 154.0,498.3" stroke="#e8641e" stroke-width="1.1" stroke-opacity="0.9" fill="none"/><path d="M156.0,497.0 Q156.5,498.5 157.9,499.5" stroke="#e8641e" stroke-width="1.1" stroke-opacity="0.9" fill="none"/><path d="M156.0,497.0 Q156.2,495.3 155.3,493.6" stroke="#e8641e" stroke-width="1.1" stroke-opacity="0.9" fill="none"/><path d="M156.0,497.0 Q157.7,497.5 159.6,496.9" stroke="#e8641e" stroke-width="1.1" stroke-opacity="0.9" fill="none"/><path d="M156.0,497.0 Q157.4,497.4 159.0,496.9" stroke="#e8641e" stroke-width="1.1" stroke-opacity="0.9" fill="none"/><path d="M156.0,497.0 Q155.1,498.7 155.3,500.8" stroke="#e8641e" stroke-width="1.1" stroke-opacity="0.9" fill="none"/><path d="M156.0,497.0 Q154.7,496.4 153.2,496.7" stroke="#e8641e" stroke-width="1.1" stroke-opacity="0.9" fill="none"/></g>
<circle cx="220.0" cy="518.0" r="2.8" fill="#c84a18" fill-opacity="0.6" filter="url(#bl2)"/>
<g><path d="M220.0,518.0 Q219.0,518.2 218.2,518.9" stroke="#e8641e" stroke-width="1.1" stroke-opacity="0.9" fill="none"/><path d="M220.0,518.0 Q218.9,518.4 218.1,519.4" stroke="#e8641e" stroke-width="1.1" stroke-opacity="0.9" fill="none"/><path d="M220.0,518.0 Q219.5,519.1 219.6,520.4" stroke="#e8641e" stroke-width="1.1" stroke-opacity="0.9" fill="none"/><path d="M220.0,518.0 Q220.8,516.2 220.5,514.1" stroke="#e8641e" stroke-width="1.1" stroke-opacity="0.9" fill="none"/><path d="M220.0,518.0 Q218.7,517.3 217.1,517.4" stroke="#e8641e" stroke-width="1.1" stroke-opacity="0.9" fill="none"/><path d="M220.0,518.0 Q220.8,519.6 222.5,520.6" stroke="#e8641e" stroke-width="1.1" stroke-opacity="0.9" fill="none"/><path d="M220.0,518.0 Q221.4,518.1 222.8,517.3" stroke="#e8641e" stroke-width="1.1" stroke-opacity="0.9" fill="none"/></g>
<circle cx="190.0" cy="474.0" r="2.8" fill="#c84a18" fill-opacity="0.6" filter="url(#bl2)"/>
<g><path d="M190.0,474.0 Q189.2,473.0 187.8,472.6" stroke="#e8641e" stroke-width="1.1" stroke-opacity="0.9" fill="none"/><path d="M190.0,474.0 Q188.1,473.7 186.2,474.6" stroke="#e8641e" stroke-width="1.1" stroke-opacity="0.9" fill="none"/><path d="M190.0,474.0 Q188.7,474.0 187.6,474.7" stroke="#e8641e" stroke-width="1.1" stroke-opacity="0.9" fill="none"/><path d="M190.0,474.0 Q190.2,472.3 189.3,470.7" stroke="#e8641e" stroke-width="1.1" stroke-opacity="0.9" fill="none"/><path d="M190.0,474.0 Q191.4,472.7 192.0,470.7" stroke="#e8641e" stroke-width="1.1" stroke-opacity="0.9" fill="none"/><path d="M190.0,474.0 Q189.0,473.7 188.0,474.0" stroke="#e8641e" stroke-width="1.1" stroke-opacity="0.9" fill="none"/><path d="M190.0,474.0 Q189.7,473.0 188.9,472.3" stroke="#e8641e" stroke-width="1.1" stroke-opacity="0.9" fill="none"/></g>
<path d="M227.9 474.0h0" stroke="#40c060" stroke-width="0.90" stroke-opacity="0.5" stroke-linecap="round"/><path d="M180.1 528.1h0M243.2 429.7h0M146.8 531.0h0" stroke="#30b050" stroke-width="1.20" stroke-opacity="0.5" stroke-linecap="round"/><path d="M193.9 416.1h0M209.3 522.7h0M166.8 427.7h0M213.6 499.9h0M203.2 416.3h0M233.6 433.5h0" stroke="#30b050" stroke-width="0.90" stroke-opacity="0.75" stroke-linecap="round"/><path d="M268.0 495.9h0" stroke="#40c060" stroke-width="0.60" stroke-opacity="1.0" stroke-linecap="round"/><path d="M156.2 494.6h0M166.6 504.9h0" stroke="#40c060" stroke-width="0.60" stroke-opacity="0.5" stroke-linecap="round"/><path d="M182.9 428.3h0M213.8 529.8h0M269.1 477.5h0M237.1 422.7h0M197.0 532.3h0" stroke="#40c060" stroke-width="0.90" stroke-opacity="0.75" stroke-linecap="round"/><path d="M172.8 419.4h0" stroke="#40c060" stroke-width="1.50" stroke-opacity="0.75" stroke-linecap="round"/><path d="M264.1 465.8h0M252.5 528.9h0" stroke="#30b050" stroke-width="0.90" stroke-opacity="1.0" stroke-linecap="round"/><path d="M256.5 487.4h0M234.0 537.2h0" stroke="#40c060" stroke-width="1.50" stroke-opacity="1.0" stroke-linecap="round"/><path d="M193.2 513.6h0M216.7 491.9h0" stroke="#40c060" stroke-width="1.20" stroke-opacity="1.0" stroke-linecap="round"/><path d="M206.2 516.1h0" stroke="#40c060" stroke-width="0.60" stroke-opacity="0.75" stroke-linecap="round"/><path d="M193.2 490.8h0M246.5 529.2h0M185.9 460.4h0M152.1 451.0h0M233.7 460.3h0M208.4 524.8h0M147.3 429.5h0" stroke="#30b050" stroke-width="1.20" stroke-opacity="0.75" stroke-linecap="round"/><path d="M173.7 514.1h0M224.3 431.5h0" stroke="#30b050" stroke-width="0.60" stroke-opacity="0.5" stroke-linecap="round"/><path d="M216.4 477.0h0" stroke="#30b050" stroke-width="1.50" stroke-opacity="0.5" stroke-linecap="round"/><path d="M246.5 523.6h0M190.7 512.1h0" stroke="#40c060" stroke-width="1.20" stroke-opacity="0.75" stroke-linecap="round"/><path d="M185.6 505.7h0M202.7 490.2h0M159.0 520.6h0" stroke="#30b050" stroke-width="0.60" stroke-opacity="0.75" stroke-linecap="round"/><path d="M271.1 455.2h0M262.4 534.4h0M188.2 465.8h0M235.6 416.5h0" stroke="#30b050" stroke-width="0.90" stroke-opacity="0.5" stroke-linecap="round"/><path d="M230.0 503.8h0M165.0 460.5h0" stroke="#40c060" stroke-width="0.90" stroke-opacity="1.0" stroke-linecap="round"/><path d="M211.8 516.7h0" stroke="#40c060" stroke-width="1.20" stroke-opacity="0.5" stroke-linecap="round"/><path d="M266.9 507.1h0" stroke="#30b050" stroke-width="0.60" stroke-opacity="1.0" stroke-linecap="round"/><path d="M237.3 421.6h0" stroke="#30b050" stroke-width="1.20" stroke-opacity="1.0" stroke-linecap="round"/>
<circle cx="195.5" cy="425.7" r="2.2" fill="#3ab0d6" fill-opacity="0.9" filter="url(#bl1)"/>
<circle cx="196.1" cy="426.7" r="2.5" fill="#3ab0d6" fill-opacity="0.9" filter="url(#bl1)"/>
<circle cx="196.6" cy="426.6" r="2.3" fill="#3ab0d6" fill-opacity="0.9" filter="url(#bl1)"/>
<circle cx="196.0" cy="426.0" r="1.7" fill="#5ec6e6" fill-opacity="0.8" filter="url(#bl1)"/>
<circle cx="238.4" cy="430.9" r="2.3" fill="#3ab0d6" fill-opacity="0.9" filter="url(#bl1)"/>
<circle cx="237.2" cy="430.6" r="1.9" fill="#3ab0d6" fill-opacity="0.9" filter="url(#bl1)"/>
<circle cx="238.5" cy="429.9" r="2.2" fill="#3ab0d6" fill-opacity="0.9" filter="url(#bl1)"/>
<circle cx="238.0" cy="430.0" r="1.4" fill="#5ec6e6" fill-opacity="0.8" filter="url(#bl1)"/>
<circle cx="153.7" cy="473.9" r="3.1" fill="#3ab0d6" fill-opacity="0.9" filter="url(#bl1)"/>
<circle cx="154.1" cy="474.2" r="3.2" fill="#3ab0d6" fill-opacity="0.9" filter="url(#bl1)"/>
<circle cx="155.4" cy="472.7" r="3.0" fill="#3ab0d6" fill-opacity="0.9" filter="url(#bl1)"/>
<circle cx="155.0" cy="474.0" r="2.2" fill="#5ec6e6" fill-opacity="0.8" filter="url(#bl1)"/>
<circle cx="212.3" cy="473.7" r="3.4" fill="#3ab0d6" fill-opacity="0.9" filter="url(#bl1)"/>
<circle cx="213.5" cy="475.9" r="3.6" fill="#3ab0d6" fill-opacity="0.9" filter="url(#bl1)"/>
<circle cx="212.8" cy="475.8" r="2.9" fill="#3ab0d6" fill-opacity="0.9" filter="url(#bl1)"/>
<circle cx="213.0" cy="475.0" r="2.2" fill="#5ec6e6" fill-opacity="0.8" filter="url(#bl1)"/>
<circle cx="229.4" cy="492.9" r="3.0" fill="#3ab0d6" fill-opacity="0.9" filter="url(#bl1)"/>
<circle cx="228.8" cy="493.3" r="3.1" fill="#3ab0d6" fill-opacity="0.9" filter="url(#bl1)"/>
<circle cx="229.1" cy="493.3" r="2.6" fill="#3ab0d6" fill-opacity="0.9" filter="url(#bl1)"/>
<circle cx="229.0" cy="494.0" r="2.0" fill="#5ec6e6" fill-opacity="0.8" filter="url(#bl1)"/>
<circle cx="242.0" cy="463.3" r="2.7" fill="#3ab0d6" fill-opacity="0.9" filter="url(#bl1)"/>
<circle cx="240.8" cy="463.2" r="2.2" fill="#3ab0d6" fill-opacity="0.9" filter="url(#bl1)"/>
<circle cx="241.3" cy="463.0" r="2.6" fill="#3ab0d6" fill-opacity="0.9" filter="url(#bl1)"/>
<circle cx="241.0" cy="464.0" r="1.7" fill="#5ec6e6" fill-opacity="0.8" filter="url(#bl1)"/>
<circle cx="251.6" cy="455.0" r="1.8" fill="#3ab0d6" fill-opacity="0.9" filter="url(#bl1)"/>
<circle cx="252.5" cy="455.0" r="1.7" fill="#3ab0d6" fill-opacity="0.9" filter="url(#bl1)"/>
<circle cx="251.5" cy="454.4" r="2.0" fill="#3ab0d6" fill-opacity="0.9" filter="url(#bl1)"/>
<circle cx="252.0" cy="455.0" r="1.2" fill="#5ec6e6" fill-opacity="0.8" filter="url(#bl1)"/>
<circle cx="255.5" cy="485.7" r="2.9" fill="#3ab0d6" fill-opacity="0.9" filter="url(#bl1)"/>
<circle cx="254.6" cy="484.6" r="2.8" fill="#3ab0d6" fill-opacity="0.9" filter="url(#bl1)"/>
<circle cx="254.6" cy="484.6" r="2.9" fill="#3ab0d6" fill-opacity="0.9" filter="url(#bl1)"/>
<circle cx="255.0" cy="485.0" r="2.0" fill="#5ec6e6" fill-opacity="0.8" filter="url(#bl1)"/>
<circle cx="265.3" cy="468.7" r="2.7" fill="#3ab0d6" fill-opacity="0.9" filter="url(#bl1)"/>
<circle cx="264.2" cy="468.7" r="2.6" fill="#3ab0d6" fill-opacity="0.9" filter="url(#bl1)"/>
<circle cx="264.6" cy="468.5" r="2.2" fill="#3ab0d6" fill-opacity="0.9" filter="url(#bl1)"/>
<circle cx="265.0" cy="469.0" r="1.7" fill="#5ec6e6" fill-opacity="0.8" filter="url(#bl1)"/>
<circle cx="221.4" cy="510.5" r="2.2" fill="#3ab0d6" fill-opacity="0.9" filter="url(#bl1)"/>
<circle cx="222.5" cy="510.6" r="2.4" fill="#3ab0d6" fill-opacity="0.9" filter="url(#bl1)"/>
<circle cx="222.6" cy="510.5" r="2.1" fill="#3ab0d6" fill-opacity="0.9" filter="url(#bl1)"/>
<circle cx="222.0" cy="511.0" r="1.7" fill="#5ec6e6" fill-opacity="0.8" filter="url(#bl1)"/>
<circle cx="162.7" cy="517.4" r="2.5" fill="#3ab0d6" fill-opacity="0.9" filter="url(#bl1)"/>
<circle cx="160.9" cy="517.4" r="2.2" fill="#3ab0d6" fill-opacity="0.9" filter="url(#bl1)"/>
<circle cx="162.9" cy="516.5" r="2.3" fill="#3ab0d6" fill-opacity="0.9" filter="url(#bl1)"/>
<circle cx="162.0" cy="517.0" r="1.7" fill="#5ec6e6" fill-opacity="0.8" filter="url(#bl1)"/>
<circle cx="161.5" cy="496.4" r="1.5" fill="#3ab0d6" fill-opacity="0.9" filter="url(#bl1)"/>
<circle cx="161.3" cy="496.5" r="1.8" fill="#3ab0d6" fill-opacity="0.9" filter="url(#bl1)"/>
<circle cx="160.5" cy="495.9" r="1.6" fill="#3ab0d6" fill-opacity="0.9" filter="url(#bl1)"/>
<circle cx="161.0" cy="496.0" r="1.1" fill="#5ec6e6" fill-opacity="0.8" filter="url(#bl1)"/>
<circle cx="247.0" cy="527.4" r="1.1" fill="#3ab0d6" fill-opacity="0.9" filter="url(#bl1)"/>
<circle cx="247.4" cy="528.5" r="1.3" fill="#3ab0d6" fill-opacity="0.9" filter="url(#bl1)"/>
<circle cx="246.5" cy="528.0" r="1.2" fill="#3ab0d6" fill-opacity="0.9" filter="url(#bl1)"/>
<circle cx="247.0" cy="528.0" r="0.9" fill="#5ec6e6" fill-opacity="0.8" filter="url(#bl1)"/>
</g>
<rect x="16.40" y="399.60" width="125.80" height="14.20" fill="#d97c7b" stroke="#8a8a8a" stroke-width="0.6" />
<rect x="145.80" y="399.60" width="126.20" height="14.20" fill="#7b80b9" stroke="#8a8a8a" stroke-width="0.6" />
<text x="79.30" y="407.00" font-size="8.4" text-anchor="middle" fill="#3a2a2a" dominant-baseline="central" >APOE4s2/FAD</text>
<text x="208.9" y="407.0" font-size="8.4" text-anchor="middle" fill="#2a2a3a" dominant-baseline="central">APOE4s2<tspan font-size="4.8" dy="-3.4">Λ</tspan><tspan dy="3.4">/FAD</tspan></text>
<rect x="23.00" y="530.80" width="38.40" height="2.80" fill="#ffffff" stroke="none" stroke-width="0.6" />
<text x="42.20" y="524.00" font-size="7.2" text-anchor="middle" fill="#ffffff" dominant-baseline="central" >100 µm</text>
<rect x="152.00" y="530.80" width="38.00" height="2.80" fill="#ffffff" stroke="none" stroke-width="0.6" />
<text x="171.50" y="524.00" font-size="7.2" text-anchor="middle" fill="#ffffff" dominant-baseline="central" >100 µm</text>
<text x="0" y="8.8" font-size="12" font-weight="bold" fill="#111" stroke="#111" stroke-width="0.55">a</text>
<text x="422.8" y="8.8" font-size="12" font-weight="bold" fill="#111" stroke="#111" stroke-width="0.55">b</text>
<text x="556.2" y="8.8" font-size="12" font-weight="bold" fill="#111" stroke="#111" stroke-width="0.55">c</text>
<text x="0" y="228.6" font-size="12" font-weight="bold" fill="#111" stroke="#111" stroke-width="0.55">d</text>
<text x="352.2" y="228.8" font-size="12" font-weight="bold" fill="#111" stroke="#111" stroke-width="0.55">e</text>
<text x="0" y="402.6" font-size="12" font-weight="bold" fill="#111" stroke="#111" stroke-width="0.55">f</text>
<text x="278" y="402.8" font-size="12" font-weight="bold" fill="#111" stroke="#111" stroke-width="0.55">g</text>
<text x="413" y="402.8" font-size="12" font-weight="bold" fill="#111" stroke="#111" stroke-width="0.55">h</text>
<text x="550.2" y="402.6" font-size="12" font-weight="bold" fill="#111" stroke="#111" stroke-width="0.25">i</text>
<text x="0.3" y="560.4" font-size="12" font-weight="bold" fill="#111" stroke="#111" stroke-width="0.25">j</text>
<text x="211" y="561.2" font-size="12" font-weight="bold" fill="#111" stroke="#111" stroke-width="0.55">k</text>
<text x="350" y="561" font-size="12" font-weight="bold" fill="#111" stroke="#111" stroke-width="0.55">l</text>
<text x="553.8" y="561" font-size="12" font-weight="bold" fill="#111" stroke="#111" stroke-width="0.55">m</text></svg></body></html>
